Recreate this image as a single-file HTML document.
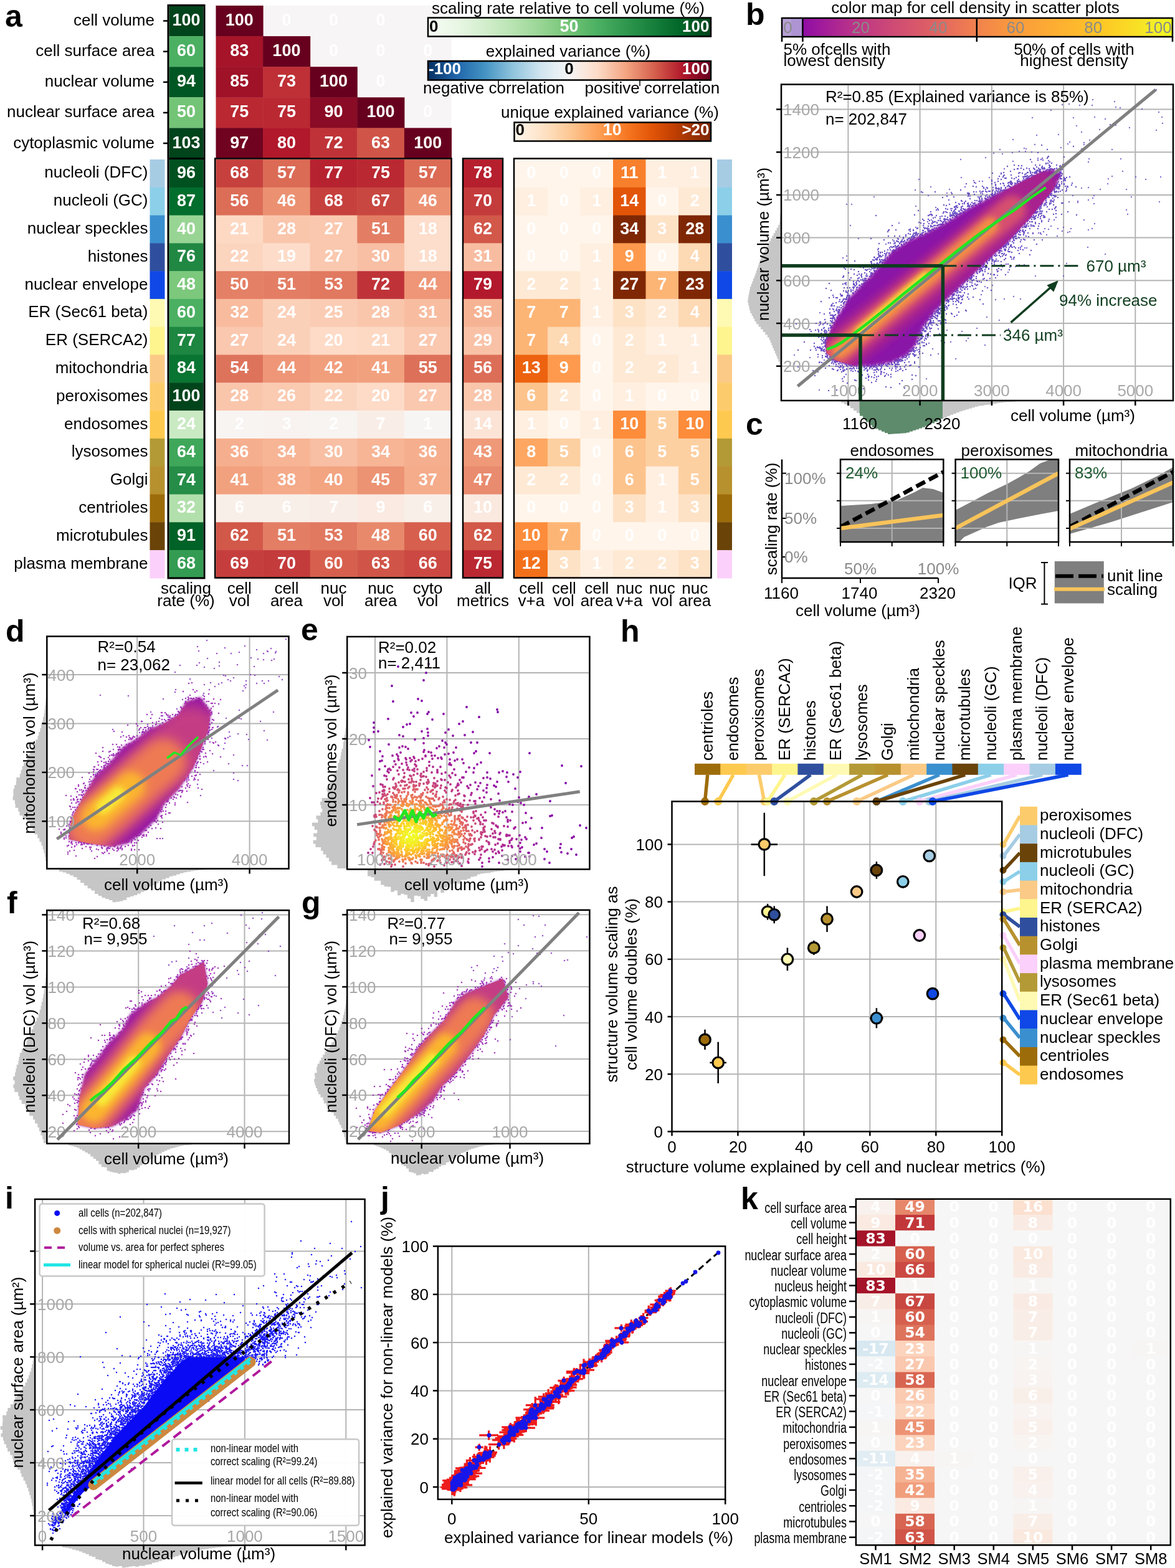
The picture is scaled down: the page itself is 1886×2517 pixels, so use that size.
<!DOCTYPE html><html><head><meta charset="utf-8"><title>figure</title><style>html,body{margin:0;padding:0;background:#fff;overflow:hidden;}svg{display:block;}</style></head><body><svg width="1886" height="2517" viewBox="0 0 1886 2517" font-family='"Liberation Sans", Arial, sans-serif' font-size="26"><defs><linearGradient id="gGreen"><stop offset="0.0" stop-color="#f7fcf5"/><stop offset="0.1" stop-color="#e9f7e5"/><stop offset="0.2" stop-color="#d3eecd"/><stop offset="0.3" stop-color="#b8e3b2"/><stop offset="0.4" stop-color="#98d594"/><stop offset="0.5" stop-color="#73c476"/><stop offset="0.6" stop-color="#4bb062"/><stop offset="0.7" stop-color="#2f974e"/><stop offset="0.8" stop-color="#157f3b"/><stop offset="0.9" stop-color="#006428"/><stop offset="1.0" stop-color="#00441b"/></linearGradient><linearGradient id="gRdBu"><stop offset="0.0" stop-color="#053061"/><stop offset="0.1" stop-color="#2065ab"/><stop offset="0.2" stop-color="#4393c3"/><stop offset="0.3" stop-color="#90c4dd"/><stop offset="0.4" stop-color="#d1e5f0"/><stop offset="0.5" stop-color="#f7f6f6"/><stop offset="0.6" stop-color="#fddbc7"/><stop offset="0.7" stop-color="#f3a481"/><stop offset="0.8" stop-color="#d6604d"/><stop offset="0.9" stop-color="#b1182b"/><stop offset="1.0" stop-color="#67001f"/></linearGradient><linearGradient id="gOr"><stop offset="0.0" stop-color="#fff5eb"/><stop offset="0.1" stop-color="#fee9d4"/><stop offset="0.2" stop-color="#fdd9b4"/><stop offset="0.3" stop-color="#fdc38d"/><stop offset="0.4" stop-color="#fda762"/><stop offset="0.5" stop-color="#fd8c3b"/><stop offset="0.6" stop-color="#f3701b"/><stop offset="0.7" stop-color="#e25508"/><stop offset="0.8" stop-color="#c54102"/><stop offset="0.9" stop-color="#9e3303"/><stop offset="1.0" stop-color="#7f2704"/></linearGradient><linearGradient id="gPlasma"><stop offset="0.000" stop-color="#8f0da4"/><stop offset="0.050" stop-color="#a01a9c"/><stop offset="0.100" stop-color="#b02991"/><stop offset="0.150" stop-color="#bd3786"/><stop offset="0.200" stop-color="#c6417d"/><stop offset="0.250" stop-color="#cf4c74"/><stop offset="0.300" stop-color="#d7566c"/><stop offset="0.350" stop-color="#de6164"/><stop offset="0.400" stop-color="#e76e5b"/><stop offset="0.450" stop-color="#ef7c51"/><stop offset="0.500" stop-color="#f48948"/><stop offset="0.550" stop-color="#f89540"/><stop offset="0.600" stop-color="#fb9f3a"/><stop offset="0.650" stop-color="#fca835"/><stop offset="0.700" stop-color="#fdb130"/><stop offset="0.750" stop-color="#feba2c"/><stop offset="0.800" stop-color="#fdc527"/><stop offset="0.850" stop-color="#fcd225"/><stop offset="0.900" stop-color="#f8df25"/><stop offset="0.950" stop-color="#f4ed27"/><stop offset="1.000" stop-color="#f0f921"/></linearGradient><filter id="bl2" filterUnits="userSpaceOnUse" x="0" y="0" width="1886" height="2517"><feGaussianBlur stdDeviation="2"/></filter><clipPath id="bc1"><path d="M1326.0 566.0 L1340.0 578.0 L1370.0 587.0 L1400.0 587.0 L1430.0 582.0 L1455.0 570.0 L1470.0 553.0 L1480.0 527.0 L1500.0 500.0 L1530.0 470.0 L1557.0 445.0 L1587.8 415.0 L1618.5 387.0 L1653.0 350.0 L1691.4 302.7 L1703.0 279.7 L1690.0 272.0 L1672.0 275.9 L1633.8 295.0 L1595.4 314.2 L1557.0 333.4 L1518.7 357.0 L1485.0 375.0 L1460.9 385.0 L1430.7 405.0 L1400.5 440.4 L1362.8 478.0 L1338.3 518.0 L1326.0 548.0 Z"/></clipPath><filter id="bl7" filterUnits="userSpaceOnUse" x="0" y="0" width="1886" height="2517"><feGaussianBlur stdDeviation="7"/></filter><filter id="bl6" filterUnits="userSpaceOnUse" x="0" y="0" width="1886" height="2517"><feGaussianBlur stdDeviation="6"/></filter><filter id="bl5" filterUnits="userSpaceOnUse" x="0" y="0" width="1886" height="2517"><feGaussianBlur stdDeviation="5"/></filter><filter id="bl3_5" filterUnits="userSpaceOnUse" x="0" y="0" width="1886" height="2517"><feGaussianBlur stdDeviation="3.5"/></filter><clipPath id="bc2"><path d="M110.3 1347.2 L115.0 1314.2 L133.8 1278.9 L152.7 1246.0 L173.9 1227.1 L197.4 1198.9 L220.9 1184.8 L239.8 1170.6 L263.3 1161.2 L286.8 1147.1 L298.6 1125.9 L322.1 1118.9 L338.6 1142.4 L333.9 1173.0 L322.1 1203.6 L310.4 1231.8 L286.8 1267.1 L263.3 1290.7 L251.5 1314.2 L228.0 1337.7 L204.5 1354.2 L180.9 1358.9 L145.6 1354.2 L122.1 1349.5 Z"/></clipPath><filter id="bl10" filterUnits="userSpaceOnUse" x="0" y="0" width="1886" height="2517"><feGaussianBlur stdDeviation="10"/></filter><filter id="bl9" filterUnits="userSpaceOnUse" x="0" y="0" width="1886" height="2517"><feGaussianBlur stdDeviation="9"/></filter><clipPath id="bc3"><path d="M124.6 1805.3 L127.5 1761.8 L136.2 1724.2 L159.3 1695.2 L173.8 1675.0 L197.0 1651.7 L208.6 1628.6 L231.7 1611.2 L254.9 1599.6 L275.2 1582.2 L289.7 1564.8 L307.0 1556.2 L327.3 1544.6 L333.1 1579.3 L324.5 1608.3 L304.2 1637.3 L289.7 1666.2 L269.4 1695.2 L252.0 1724.2 L231.7 1747.3 L220.2 1782.1 L202.8 1796.6 L179.6 1808.2 L150.6 1811.1 Z"/></clipPath><filter id="bl8" filterUnits="userSpaceOnUse" x="0" y="0" width="1886" height="2517"><feGaussianBlur stdDeviation="8"/></filter><filter id="bl4_5" filterUnits="userSpaceOnUse" x="0" y="0" width="1886" height="2517"><feGaussianBlur stdDeviation="4.5"/></filter><clipPath id="bc4"><path d="M589.8 1815.3 L601.8 1782.1 L623.0 1752.0 L641.0 1727.8 L656.1 1706.7 L671.2 1682.5 L689.3 1661.4 L713.5 1637.3 L731.6 1607.1 L746.7 1595.0 L776.8 1583.0 L807.0 1570.9 L816.0 1601.0 L791.9 1631.2 L776.8 1661.4 L755.7 1691.6 L731.6 1721.8 L707.4 1745.9 L695.4 1767.0 L671.2 1788.1 L641.0 1806.2 L610.9 1818.3 Z"/></clipPath></defs><text x="8.0" y="43.0" font-size="50" font-weight="bold">a</text>
<rect x="346.5" y="9.0" width="378.0" height="245.5" fill="#f7f5f5"/>
<text x="248.0" y="41.0" text-anchor="end">cell volume</text>
<line x1="262.0" y1="33.5" x2="269.0" y2="33.5" stroke="#000" stroke-width="2.5" />
<rect x="271.5" y="9.0" width="55.0" height="49.1" fill="#00441b"/>
<text x="299.0" y="41.0" font-size="27" text-anchor="middle" font-weight="bold" fill="#fff">100</text>
<rect x="346.5" y="9.0" width="76.1" height="49.6" fill="#67001f"/>
<text x="384.3" y="41.0" font-size="27" text-anchor="middle" font-weight="bold" fill="#fff">100</text>
<text x="459.9" y="41.0" font-size="27" text-anchor="middle" font-weight="bold" fill="#fff">0</text>
<text x="535.5" y="41.0" font-size="27" text-anchor="middle" font-weight="bold" fill="#fff">0</text>
<text x="611.1" y="41.0" font-size="27" text-anchor="middle" font-weight="bold" fill="#fff">0</text>
<text x="248.0" y="90.2" text-anchor="end">cell surface area</text>
<line x1="262.0" y1="82.7" x2="269.0" y2="82.7" stroke="#000" stroke-width="2.5" />
<rect x="271.5" y="58.1" width="55.0" height="49.1" fill="#4bb062"/>
<text x="299.0" y="90.2" font-size="27" text-anchor="middle" font-weight="bold" fill="#fff">60</text>
<rect x="346.5" y="58.1" width="76.1" height="49.6" fill="#a51429"/>
<text x="384.3" y="90.2" font-size="27" text-anchor="middle" font-weight="bold" fill="#fff">83</text>
<rect x="422.1" y="58.1" width="76.1" height="49.6" fill="#67001f"/>
<text x="459.9" y="90.2" font-size="27" text-anchor="middle" font-weight="bold" fill="#fff">100</text>
<text x="535.5" y="90.2" font-size="27" text-anchor="middle" font-weight="bold" fill="#fff">0</text>
<text x="611.1" y="90.2" font-size="27" text-anchor="middle" font-weight="bold" fill="#fff">0</text>
<text x="686.7" y="90.2" font-size="27" text-anchor="middle" font-weight="bold" fill="#fff">0</text>
<text x="248.0" y="139.2" text-anchor="end">nuclear volume</text>
<line x1="262.0" y1="131.8" x2="269.0" y2="131.8" stroke="#000" stroke-width="2.5" />
<rect x="271.5" y="107.2" width="55.0" height="49.1" fill="#005723"/>
<text x="299.0" y="139.2" font-size="27" text-anchor="middle" font-weight="bold" fill="#fff">94</text>
<rect x="346.5" y="107.2" width="76.1" height="49.6" fill="#9f1228"/>
<text x="384.3" y="139.2" font-size="27" text-anchor="middle" font-weight="bold" fill="#fff">85</text>
<rect x="422.1" y="107.2" width="76.1" height="49.6" fill="#be3036"/>
<text x="459.9" y="139.2" font-size="27" text-anchor="middle" font-weight="bold" fill="#fff">73</text>
<rect x="497.7" y="107.2" width="76.1" height="49.6" fill="#67001f"/>
<text x="535.5" y="139.2" font-size="27" text-anchor="middle" font-weight="bold" fill="#fff">100</text>
<text x="611.1" y="139.2" font-size="27" text-anchor="middle" font-weight="bold" fill="#fff">0</text>
<text x="248.0" y="188.4" text-anchor="end">nuclear surface area</text>
<line x1="262.0" y1="180.9" x2="269.0" y2="180.9" stroke="#000" stroke-width="2.5" />
<rect x="271.5" y="156.3" width="55.0" height="49.1" fill="#73c476"/>
<text x="299.0" y="188.4" font-size="27" text-anchor="middle" font-weight="bold" fill="#fff">50</text>
<rect x="346.5" y="156.3" width="76.1" height="49.6" fill="#ba2832"/>
<text x="384.3" y="188.4" font-size="27" text-anchor="middle" font-weight="bold" fill="#fff">75</text>
<rect x="422.1" y="156.3" width="76.1" height="49.6" fill="#ba2832"/>
<text x="459.9" y="188.4" font-size="27" text-anchor="middle" font-weight="bold" fill="#fff">75</text>
<rect x="497.7" y="156.3" width="76.1" height="49.6" fill="#8a0b25"/>
<text x="535.5" y="188.4" font-size="27" text-anchor="middle" font-weight="bold" fill="#fff">90</text>
<rect x="573.3" y="156.3" width="76.1" height="49.6" fill="#67001f"/>
<text x="611.1" y="188.4" font-size="27" text-anchor="middle" font-weight="bold" fill="#fff">100</text>
<text x="686.7" y="188.4" font-size="27" text-anchor="middle" font-weight="bold" fill="#fff">0</text>
<text x="248.0" y="237.5" text-anchor="end">cytoplasmic volume</text>
<line x1="262.0" y1="230.0" x2="269.0" y2="230.0" stroke="#000" stroke-width="2.5" />
<rect x="271.5" y="205.4" width="55.0" height="49.1" fill="#00441b"/>
<text x="299.0" y="237.5" font-size="27" text-anchor="middle" font-weight="bold" fill="#fff">103</text>
<rect x="346.5" y="205.4" width="76.1" height="49.6" fill="#700320"/>
<text x="384.3" y="237.5" font-size="27" text-anchor="middle" font-weight="bold" fill="#fff">97</text>
<rect x="422.1" y="205.4" width="76.1" height="49.6" fill="#b1182b"/>
<text x="459.9" y="237.5" font-size="27" text-anchor="middle" font-weight="bold" fill="#fff">80</text>
<rect x="497.7" y="205.4" width="76.1" height="49.6" fill="#bf3338"/>
<text x="535.5" y="237.5" font-size="27" text-anchor="middle" font-weight="bold" fill="#fff">72</text>
<rect x="573.3" y="205.4" width="76.1" height="49.6" fill="#d05548"/>
<text x="611.1" y="237.5" font-size="27" text-anchor="middle" font-weight="bold" fill="#fff">63</text>
<rect x="648.9" y="205.4" width="76.1" height="49.6" fill="#67001f"/>
<text x="686.7" y="237.5" font-size="27" text-anchor="middle" font-weight="bold" fill="#fff">100</text>
<text x="237.5" y="285.4" text-anchor="end">nucleoli (DFC)</text>
<rect x="240.5" y="256.0" width="24.0" height="45.3" fill="#a6cce3"/>
<rect x="1151.0" y="256.0" width="24.0" height="45.3" fill="#a6cce3"/>
<rect x="271.5" y="256.0" width="55.0" height="45.3" fill="#005120"/>
<text x="299.0" y="285.9" font-size="27" text-anchor="middle" font-weight="bold" fill="#fff">96</text>
<rect x="346.5" y="256.0" width="76.1" height="45.3" fill="#c6413e"/>
<text x="384.3" y="285.9" font-size="27" text-anchor="middle" font-weight="bold" fill="#fff">68</text>
<rect x="422.1" y="256.0" width="76.1" height="45.3" fill="#db6b55"/>
<text x="459.9" y="285.9" font-size="27" text-anchor="middle" font-weight="bold" fill="#fff">57</text>
<rect x="497.7" y="256.0" width="76.1" height="45.3" fill="#b72230"/>
<text x="535.5" y="285.9" font-size="27" text-anchor="middle" font-weight="bold" fill="#fff">77</text>
<rect x="573.3" y="256.0" width="76.1" height="45.3" fill="#ba2832"/>
<text x="611.1" y="285.9" font-size="27" text-anchor="middle" font-weight="bold" fill="#fff">75</text>
<rect x="648.9" y="256.0" width="76.1" height="45.3" fill="#db6b55"/>
<text x="686.7" y="285.9" font-size="27" text-anchor="middle" font-weight="bold" fill="#fff">57</text>
<rect x="744.0" y="256.0" width="62.0" height="45.3" fill="#b61f2e"/>
<text x="775.0" y="285.9" font-size="27" text-anchor="middle" font-weight="bold" fill="#fff">78</text>
<rect x="826.5" y="256.0" width="53.0" height="45.3" fill="#fff5eb"/>
<text x="852.8" y="285.9" font-size="27" text-anchor="middle" font-weight="bold" fill="#fff">0</text>
<rect x="879.0" y="256.0" width="53.0" height="45.3" fill="#fff5eb"/>
<text x="905.2" y="285.9" font-size="27" text-anchor="middle" font-weight="bold" fill="#fff">0</text>
<rect x="931.5" y="256.0" width="53.0" height="45.3" fill="#fff5eb"/>
<text x="957.8" y="285.9" font-size="27" text-anchor="middle" font-weight="bold" fill="#fff">0</text>
<rect x="984.0" y="256.0" width="53.0" height="45.3" fill="#f87f2c"/>
<text x="1010.2" y="285.9" font-size="27" text-anchor="middle" font-weight="bold" fill="#fff">11</text>
<rect x="1036.5" y="256.0" width="53.0" height="45.3" fill="#ffefe0"/>
<text x="1062.8" y="285.9" font-size="27" text-anchor="middle" font-weight="bold" fill="#fff">1</text>
<rect x="1089.0" y="256.0" width="53.0" height="45.3" fill="#ffefe0"/>
<text x="1115.2" y="285.9" font-size="27" text-anchor="middle" font-weight="bold" fill="#fff">1</text>
<text x="237.5" y="330.2" text-anchor="end">nucleoli (GC)</text>
<rect x="240.5" y="300.8" width="24.0" height="45.3" fill="#8ccfe9"/>
<rect x="1151.0" y="300.8" width="24.0" height="45.3" fill="#8ccfe9"/>
<rect x="271.5" y="300.8" width="55.0" height="45.3" fill="#016e2d"/>
<text x="299.0" y="330.7" font-size="27" text-anchor="middle" font-weight="bold" fill="#fff">87</text>
<rect x="346.5" y="300.8" width="76.1" height="45.3" fill="#dc6e57"/>
<text x="384.3" y="330.7" font-size="27" text-anchor="middle" font-weight="bold" fill="#fff">56</text>
<rect x="422.1" y="300.8" width="76.1" height="45.3" fill="#eb9172"/>
<text x="459.9" y="330.7" font-size="27" text-anchor="middle" font-weight="bold" fill="#fff">46</text>
<rect x="497.7" y="300.8" width="76.1" height="45.3" fill="#c6413e"/>
<text x="535.5" y="330.7" font-size="27" text-anchor="middle" font-weight="bold" fill="#fff">68</text>
<rect x="573.3" y="300.8" width="76.1" height="45.3" fill="#c94741"/>
<text x="611.1" y="330.7" font-size="27" text-anchor="middle" font-weight="bold" fill="#fff">67</text>
<rect x="648.9" y="300.8" width="76.1" height="45.3" fill="#eb9172"/>
<text x="686.7" y="330.7" font-size="27" text-anchor="middle" font-weight="bold" fill="#fff">46</text>
<rect x="744.0" y="300.8" width="62.0" height="45.3" fill="#c43b3c"/>
<text x="775.0" y="330.7" font-size="27" text-anchor="middle" font-weight="bold" fill="#fff">70</text>
<rect x="826.5" y="300.8" width="53.0" height="45.3" fill="#ffefe0"/>
<text x="852.8" y="330.7" font-size="27" text-anchor="middle" font-weight="bold" fill="#fff">1</text>
<rect x="879.0" y="300.8" width="53.0" height="45.3" fill="#fff5eb"/>
<text x="905.2" y="330.7" font-size="27" text-anchor="middle" font-weight="bold" fill="#fff">0</text>
<rect x="931.5" y="300.8" width="53.0" height="45.3" fill="#ffefe0"/>
<text x="957.8" y="330.7" font-size="27" text-anchor="middle" font-weight="bold" fill="#fff">1</text>
<rect x="984.0" y="300.8" width="53.0" height="45.3" fill="#e25508"/>
<text x="1010.2" y="330.7" font-size="27" text-anchor="middle" font-weight="bold" fill="#fff">14</text>
<rect x="1036.5" y="300.8" width="53.0" height="45.3" fill="#fff5eb"/>
<text x="1062.8" y="330.7" font-size="27" text-anchor="middle" font-weight="bold" fill="#fff">0</text>
<rect x="1089.0" y="300.8" width="53.0" height="45.3" fill="#fee9d4"/>
<text x="1115.2" y="330.7" font-size="27" text-anchor="middle" font-weight="bold" fill="#fff">2</text>
<text x="237.5" y="375.0" text-anchor="end">nuclear speckles</text>
<rect x="240.5" y="345.6" width="24.0" height="45.3" fill="#3a8fcf"/>
<rect x="1151.0" y="345.6" width="24.0" height="45.3" fill="#3a8fcf"/>
<rect x="271.5" y="345.6" width="55.0" height="45.3" fill="#98d594"/>
<text x="299.0" y="375.5" font-size="27" text-anchor="middle" font-weight="bold" fill="#fff">40</text>
<rect x="346.5" y="345.6" width="76.1" height="45.3" fill="#fdd9c4"/>
<text x="384.3" y="375.5" font-size="27" text-anchor="middle" font-weight="bold" fill="#fff">21</text>
<rect x="422.1" y="345.6" width="76.1" height="45.3" fill="#f9c6ac"/>
<text x="459.9" y="375.5" font-size="27" text-anchor="middle" font-weight="bold" fill="#fff">28</text>
<rect x="497.7" y="345.6" width="76.1" height="45.3" fill="#fac8af"/>
<text x="535.5" y="375.5" font-size="27" text-anchor="middle" font-weight="bold" fill="#fff">27</text>
<rect x="573.3" y="345.6" width="76.1" height="45.3" fill="#e37e64"/>
<text x="611.1" y="375.5" font-size="27" text-anchor="middle" font-weight="bold" fill="#fff">51</text>
<rect x="648.9" y="345.6" width="76.1" height="45.3" fill="#fdddcb"/>
<text x="686.7" y="375.5" font-size="27" text-anchor="middle" font-weight="bold" fill="#fff">18</text>
<rect x="744.0" y="345.6" width="62.0" height="45.3" fill="#d25849"/>
<text x="775.0" y="375.5" font-size="27" text-anchor="middle" font-weight="bold" fill="#fff">62</text>
<rect x="826.5" y="345.6" width="53.0" height="45.3" fill="#fff5eb"/>
<text x="852.8" y="375.5" font-size="27" text-anchor="middle" font-weight="bold" fill="#fff">0</text>
<rect x="879.0" y="345.6" width="53.0" height="45.3" fill="#fff5eb"/>
<text x="905.2" y="375.5" font-size="27" text-anchor="middle" font-weight="bold" fill="#fff">0</text>
<rect x="931.5" y="345.6" width="53.0" height="45.3" fill="#fff5eb"/>
<text x="957.8" y="375.5" font-size="27" text-anchor="middle" font-weight="bold" fill="#fff">0</text>
<rect x="984.0" y="345.6" width="53.0" height="45.3" fill="#7f2704"/>
<text x="1010.2" y="375.5" font-size="27" text-anchor="middle" font-weight="bold" fill="#fff">34</text>
<rect x="1036.5" y="345.6" width="53.0" height="45.3" fill="#fee2c6"/>
<text x="1062.8" y="375.5" font-size="27" text-anchor="middle" font-weight="bold" fill="#fff">3</text>
<rect x="1089.0" y="345.6" width="53.0" height="45.3" fill="#7f2704"/>
<text x="1115.2" y="375.5" font-size="27" text-anchor="middle" font-weight="bold" fill="#fff">28</text>
<text x="237.5" y="419.8" text-anchor="end">histones</text>
<rect x="240.5" y="390.4" width="24.0" height="45.3" fill="#2f4f9e"/>
<rect x="1151.0" y="390.4" width="24.0" height="45.3" fill="#2f4f9e"/>
<rect x="271.5" y="390.4" width="55.0" height="45.3" fill="#208843"/>
<text x="299.0" y="420.3" font-size="27" text-anchor="middle" font-weight="bold" fill="#fff">76</text>
<rect x="346.5" y="390.4" width="76.1" height="45.3" fill="#fcd5bf"/>
<text x="384.3" y="420.3" font-size="27" text-anchor="middle" font-weight="bold" fill="#fff">22</text>
<rect x="422.1" y="390.4" width="76.1" height="45.3" fill="#fddcc9"/>
<text x="459.9" y="420.3" font-size="27" text-anchor="middle" font-weight="bold" fill="#fff">19</text>
<rect x="497.7" y="390.4" width="76.1" height="45.3" fill="#fac8af"/>
<text x="535.5" y="420.3" font-size="27" text-anchor="middle" font-weight="bold" fill="#fff">27</text>
<rect x="573.3" y="390.4" width="76.1" height="45.3" fill="#f8bfa4"/>
<text x="611.1" y="420.3" font-size="27" text-anchor="middle" font-weight="bold" fill="#fff">30</text>
<rect x="648.9" y="390.4" width="76.1" height="45.3" fill="#fdddcb"/>
<text x="686.7" y="420.3" font-size="27" text-anchor="middle" font-weight="bold" fill="#fff">18</text>
<rect x="744.0" y="390.4" width="62.0" height="45.3" fill="#f8bda1"/>
<text x="775.0" y="420.3" font-size="27" text-anchor="middle" font-weight="bold" fill="#fff">31</text>
<rect x="826.5" y="390.4" width="53.0" height="45.3" fill="#fff5eb"/>
<text x="852.8" y="420.3" font-size="27" text-anchor="middle" font-weight="bold" fill="#fff">0</text>
<rect x="879.0" y="390.4" width="53.0" height="45.3" fill="#fff5eb"/>
<text x="905.2" y="420.3" font-size="27" text-anchor="middle" font-weight="bold" fill="#fff">0</text>
<rect x="931.5" y="390.4" width="53.0" height="45.3" fill="#ffefe0"/>
<text x="957.8" y="420.3" font-size="27" text-anchor="middle" font-weight="bold" fill="#fff">1</text>
<rect x="984.0" y="390.4" width="53.0" height="45.3" fill="#fd9a4e"/>
<text x="1010.2" y="420.3" font-size="27" text-anchor="middle" font-weight="bold" fill="#fff">9</text>
<rect x="1036.5" y="390.4" width="53.0" height="45.3" fill="#fff5eb"/>
<text x="1062.8" y="420.3" font-size="27" text-anchor="middle" font-weight="bold" fill="#fff">0</text>
<rect x="1089.0" y="390.4" width="53.0" height="45.3" fill="#fdd9b4"/>
<text x="1115.2" y="420.3" font-size="27" text-anchor="middle" font-weight="bold" fill="#fff">4</text>
<text x="237.5" y="464.6" text-anchor="end">nuclear envelope</text>
<rect x="240.5" y="435.2" width="24.0" height="45.3" fill="#0f48e6"/>
<rect x="1151.0" y="435.2" width="24.0" height="45.3" fill="#0f48e6"/>
<rect x="271.5" y="435.2" width="55.0" height="45.3" fill="#7cc87c"/>
<text x="299.0" y="465.1" font-size="27" text-anchor="middle" font-weight="bold" fill="#fff">48</text>
<rect x="346.5" y="435.2" width="76.1" height="45.3" fill="#e48066"/>
<text x="384.3" y="465.1" font-size="27" text-anchor="middle" font-weight="bold" fill="#fff">50</text>
<rect x="422.1" y="435.2" width="76.1" height="45.3" fill="#e37e64"/>
<text x="459.9" y="465.1" font-size="27" text-anchor="middle" font-weight="bold" fill="#fff">51</text>
<rect x="497.7" y="435.2" width="76.1" height="45.3" fill="#e17860"/>
<text x="535.5" y="465.1" font-size="27" text-anchor="middle" font-weight="bold" fill="#fff">53</text>
<rect x="573.3" y="435.2" width="76.1" height="45.3" fill="#bf3338"/>
<text x="611.1" y="465.1" font-size="27" text-anchor="middle" font-weight="bold" fill="#fff">72</text>
<rect x="648.9" y="435.2" width="76.1" height="45.3" fill="#ee9677"/>
<text x="686.7" y="465.1" font-size="27" text-anchor="middle" font-weight="bold" fill="#fff">44</text>
<rect x="744.0" y="435.2" width="62.0" height="45.3" fill="#b3192c"/>
<text x="775.0" y="465.1" font-size="27" text-anchor="middle" font-weight="bold" fill="#fff">79</text>
<rect x="826.5" y="435.2" width="53.0" height="45.3" fill="#fee9d4"/>
<text x="852.8" y="465.1" font-size="27" text-anchor="middle" font-weight="bold" fill="#fff">2</text>
<rect x="879.0" y="435.2" width="53.0" height="45.3" fill="#fee9d4"/>
<text x="905.2" y="465.1" font-size="27" text-anchor="middle" font-weight="bold" fill="#fff">2</text>
<rect x="931.5" y="435.2" width="53.0" height="45.3" fill="#ffefe0"/>
<text x="957.8" y="465.1" font-size="27" text-anchor="middle" font-weight="bold" fill="#fff">1</text>
<rect x="984.0" y="435.2" width="53.0" height="45.3" fill="#7f2704"/>
<text x="1010.2" y="465.1" font-size="27" text-anchor="middle" font-weight="bold" fill="#fff">27</text>
<rect x="1036.5" y="435.2" width="53.0" height="45.3" fill="#fdb576"/>
<text x="1062.8" y="465.1" font-size="27" text-anchor="middle" font-weight="bold" fill="#fff">7</text>
<rect x="1089.0" y="435.2" width="53.0" height="45.3" fill="#7f2704"/>
<text x="1115.2" y="465.1" font-size="27" text-anchor="middle" font-weight="bold" fill="#fff">23</text>
<text x="237.5" y="509.3" text-anchor="end">ER (Sec61 beta)</text>
<rect x="240.5" y="479.9" width="24.0" height="45.3" fill="#fefab3"/>
<rect x="1151.0" y="479.9" width="24.0" height="45.3" fill="#fefab3"/>
<rect x="271.5" y="479.9" width="55.0" height="45.3" fill="#4bb062"/>
<text x="299.0" y="509.8" font-size="27" text-anchor="middle" font-weight="bold" fill="#fff">60</text>
<rect x="346.5" y="479.9" width="76.1" height="45.3" fill="#f8bb9e"/>
<text x="384.3" y="509.8" font-size="27" text-anchor="middle" font-weight="bold" fill="#fff">32</text>
<rect x="422.1" y="479.9" width="76.1" height="45.3" fill="#fbd0b9"/>
<text x="459.9" y="509.8" font-size="27" text-anchor="middle" font-weight="bold" fill="#fff">24</text>
<rect x="497.7" y="479.9" width="76.1" height="45.3" fill="#fbccb4"/>
<text x="535.5" y="509.8" font-size="27" text-anchor="middle" font-weight="bold" fill="#fff">25</text>
<rect x="573.3" y="479.9" width="76.1" height="45.3" fill="#f9c6ac"/>
<text x="611.1" y="509.8" font-size="27" text-anchor="middle" font-weight="bold" fill="#fff">28</text>
<rect x="648.9" y="479.9" width="76.1" height="45.3" fill="#f8bda1"/>
<text x="686.7" y="509.8" font-size="27" text-anchor="middle" font-weight="bold" fill="#fff">31</text>
<rect x="744.0" y="479.9" width="62.0" height="45.3" fill="#f6b394"/>
<text x="775.0" y="509.8" font-size="27" text-anchor="middle" font-weight="bold" fill="#fff">35</text>
<rect x="826.5" y="479.9" width="53.0" height="45.3" fill="#fdb576"/>
<text x="852.8" y="509.8" font-size="27" text-anchor="middle" font-weight="bold" fill="#fff">7</text>
<rect x="879.0" y="479.9" width="53.0" height="45.3" fill="#fdb576"/>
<text x="905.2" y="509.8" font-size="27" text-anchor="middle" font-weight="bold" fill="#fff">7</text>
<rect x="931.5" y="479.9" width="53.0" height="45.3" fill="#ffefe0"/>
<text x="957.8" y="509.8" font-size="27" text-anchor="middle" font-weight="bold" fill="#fff">1</text>
<rect x="984.0" y="479.9" width="53.0" height="45.3" fill="#fee2c6"/>
<text x="1010.2" y="509.8" font-size="27" text-anchor="middle" font-weight="bold" fill="#fff">3</text>
<rect x="1036.5" y="479.9" width="53.0" height="45.3" fill="#fee9d4"/>
<text x="1062.8" y="509.8" font-size="27" text-anchor="middle" font-weight="bold" fill="#fff">2</text>
<rect x="1089.0" y="479.9" width="53.0" height="45.3" fill="#fdd9b4"/>
<text x="1115.2" y="509.8" font-size="27" text-anchor="middle" font-weight="bold" fill="#fff">4</text>
<text x="237.5" y="554.1" text-anchor="end">ER (SERCA2)</text>
<rect x="240.5" y="524.7" width="24.0" height="45.3" fill="#fef58e"/>
<rect x="1151.0" y="524.7" width="24.0" height="45.3" fill="#fef58e"/>
<rect x="271.5" y="524.7" width="55.0" height="45.3" fill="#1d8640"/>
<text x="299.0" y="554.6" font-size="27" text-anchor="middle" font-weight="bold" fill="#fff">77</text>
<rect x="346.5" y="524.7" width="76.1" height="45.3" fill="#fac8af"/>
<text x="384.3" y="554.6" font-size="27" text-anchor="middle" font-weight="bold" fill="#fff">27</text>
<rect x="422.1" y="524.7" width="76.1" height="45.3" fill="#fbd0b9"/>
<text x="459.9" y="554.6" font-size="27" text-anchor="middle" font-weight="bold" fill="#fff">24</text>
<rect x="497.7" y="524.7" width="76.1" height="45.3" fill="#fddbc7"/>
<text x="535.5" y="554.6" font-size="27" text-anchor="middle" font-weight="bold" fill="#fff">20</text>
<rect x="573.3" y="524.7" width="76.1" height="45.3" fill="#fdd9c4"/>
<text x="611.1" y="554.6" font-size="27" text-anchor="middle" font-weight="bold" fill="#fff">21</text>
<rect x="648.9" y="524.7" width="76.1" height="45.3" fill="#fac8af"/>
<text x="686.7" y="554.6" font-size="27" text-anchor="middle" font-weight="bold" fill="#fff">27</text>
<rect x="744.0" y="524.7" width="62.0" height="45.3" fill="#f9c2a7"/>
<text x="775.0" y="554.6" font-size="27" text-anchor="middle" font-weight="bold" fill="#fff">29</text>
<rect x="826.5" y="524.7" width="53.0" height="45.3" fill="#fdb576"/>
<text x="852.8" y="554.6" font-size="27" text-anchor="middle" font-weight="bold" fill="#fff">7</text>
<rect x="879.0" y="524.7" width="53.0" height="45.3" fill="#fdd9b4"/>
<text x="905.2" y="554.6" font-size="27" text-anchor="middle" font-weight="bold" fill="#fff">4</text>
<rect x="931.5" y="524.7" width="53.0" height="45.3" fill="#fff5eb"/>
<text x="957.8" y="554.6" font-size="27" text-anchor="middle" font-weight="bold" fill="#fff">0</text>
<rect x="984.0" y="524.7" width="53.0" height="45.3" fill="#fee9d4"/>
<text x="1010.2" y="554.6" font-size="27" text-anchor="middle" font-weight="bold" fill="#fff">2</text>
<rect x="1036.5" y="524.7" width="53.0" height="45.3" fill="#ffefe0"/>
<text x="1062.8" y="554.6" font-size="27" text-anchor="middle" font-weight="bold" fill="#fff">1</text>
<rect x="1089.0" y="524.7" width="53.0" height="45.3" fill="#ffefe0"/>
<text x="1115.2" y="554.6" font-size="27" text-anchor="middle" font-weight="bold" fill="#fff">1</text>
<text x="237.5" y="598.9" text-anchor="end">mitochondria</text>
<rect x="240.5" y="569.5" width="24.0" height="45.3" fill="#fbca86"/>
<rect x="1151.0" y="569.5" width="24.0" height="45.3" fill="#fbca86"/>
<rect x="271.5" y="569.5" width="55.0" height="45.3" fill="#097532"/>
<text x="299.0" y="599.4" font-size="27" text-anchor="middle" font-weight="bold" fill="#fff">84</text>
<rect x="346.5" y="569.5" width="76.1" height="45.3" fill="#de735c"/>
<text x="384.3" y="599.4" font-size="27" text-anchor="middle" font-weight="bold" fill="#fff">54</text>
<rect x="422.1" y="569.5" width="76.1" height="45.3" fill="#ee9677"/>
<text x="459.9" y="599.4" font-size="27" text-anchor="middle" font-weight="bold" fill="#fff">44</text>
<rect x="497.7" y="569.5" width="76.1" height="45.3" fill="#f19e7d"/>
<text x="535.5" y="599.4" font-size="27" text-anchor="middle" font-weight="bold" fill="#fff">42</text>
<rect x="573.3" y="569.5" width="76.1" height="45.3" fill="#f2a17f"/>
<text x="611.1" y="599.4" font-size="27" text-anchor="middle" font-weight="bold" fill="#fff">41</text>
<rect x="648.9" y="569.5" width="76.1" height="45.3" fill="#dd7059"/>
<text x="686.7" y="599.4" font-size="27" text-anchor="middle" font-weight="bold" fill="#fff">55</text>
<rect x="744.0" y="569.5" width="62.0" height="45.3" fill="#dc6e57"/>
<text x="775.0" y="599.4" font-size="27" text-anchor="middle" font-weight="bold" fill="#fff">56</text>
<rect x="826.5" y="569.5" width="53.0" height="45.3" fill="#ec620f"/>
<text x="852.8" y="599.4" font-size="27" text-anchor="middle" font-weight="bold" fill="#fff">13</text>
<rect x="879.0" y="569.5" width="53.0" height="45.3" fill="#fd9a4e"/>
<text x="905.2" y="599.4" font-size="27" text-anchor="middle" font-weight="bold" fill="#fff">9</text>
<rect x="931.5" y="569.5" width="53.0" height="45.3" fill="#fff5eb"/>
<text x="957.8" y="599.4" font-size="27" text-anchor="middle" font-weight="bold" fill="#fff">0</text>
<rect x="984.0" y="569.5" width="53.0" height="45.3" fill="#fee9d4"/>
<text x="1010.2" y="599.4" font-size="27" text-anchor="middle" font-weight="bold" fill="#fff">2</text>
<rect x="1036.5" y="569.5" width="53.0" height="45.3" fill="#fee9d4"/>
<text x="1062.8" y="599.4" font-size="27" text-anchor="middle" font-weight="bold" fill="#fff">2</text>
<rect x="1089.0" y="569.5" width="53.0" height="45.3" fill="#ffefe0"/>
<text x="1115.2" y="599.4" font-size="27" text-anchor="middle" font-weight="bold" fill="#fff">1</text>
<text x="237.5" y="643.7" text-anchor="end">peroxisomes</text>
<rect x="240.5" y="614.3" width="24.0" height="45.3" fill="#fccc6c"/>
<rect x="1151.0" y="614.3" width="24.0" height="45.3" fill="#fccc6c"/>
<rect x="271.5" y="614.3" width="55.0" height="45.3" fill="#00441b"/>
<text x="299.0" y="644.2" font-size="27" text-anchor="middle" font-weight="bold" fill="#fff">100</text>
<rect x="346.5" y="614.3" width="76.1" height="45.3" fill="#f9c6ac"/>
<text x="384.3" y="644.2" font-size="27" text-anchor="middle" font-weight="bold" fill="#fff">28</text>
<rect x="422.1" y="614.3" width="76.1" height="45.3" fill="#facab1"/>
<text x="459.9" y="644.2" font-size="27" text-anchor="middle" font-weight="bold" fill="#fff">26</text>
<rect x="497.7" y="614.3" width="76.1" height="45.3" fill="#fcd5bf"/>
<text x="535.5" y="644.2" font-size="27" text-anchor="middle" font-weight="bold" fill="#fff">22</text>
<rect x="573.3" y="614.3" width="76.1" height="45.3" fill="#fddbc7"/>
<text x="611.1" y="644.2" font-size="27" text-anchor="middle" font-weight="bold" fill="#fff">20</text>
<rect x="648.9" y="614.3" width="76.1" height="45.3" fill="#fac8af"/>
<text x="686.7" y="644.2" font-size="27" text-anchor="middle" font-weight="bold" fill="#fff">27</text>
<rect x="744.0" y="614.3" width="62.0" height="45.3" fill="#f9c6ac"/>
<text x="775.0" y="644.2" font-size="27" text-anchor="middle" font-weight="bold" fill="#fff">28</text>
<rect x="826.5" y="614.3" width="53.0" height="45.3" fill="#fdc38d"/>
<text x="852.8" y="644.2" font-size="27" text-anchor="middle" font-weight="bold" fill="#fff">6</text>
<rect x="879.0" y="614.3" width="53.0" height="45.3" fill="#fee9d4"/>
<text x="905.2" y="644.2" font-size="27" text-anchor="middle" font-weight="bold" fill="#fff">2</text>
<rect x="931.5" y="614.3" width="53.0" height="45.3" fill="#fff5eb"/>
<text x="957.8" y="644.2" font-size="27" text-anchor="middle" font-weight="bold" fill="#fff">0</text>
<rect x="984.0" y="614.3" width="53.0" height="45.3" fill="#ffefe0"/>
<text x="1010.2" y="644.2" font-size="27" text-anchor="middle" font-weight="bold" fill="#fff">1</text>
<rect x="1036.5" y="614.3" width="53.0" height="45.3" fill="#fff5eb"/>
<text x="1062.8" y="644.2" font-size="27" text-anchor="middle" font-weight="bold" fill="#fff">0</text>
<rect x="1089.0" y="614.3" width="53.0" height="45.3" fill="#fff5eb"/>
<text x="1115.2" y="644.2" font-size="27" text-anchor="middle" font-weight="bold" fill="#fff">0</text>
<text x="237.5" y="688.5" text-anchor="end">endosomes</text>
<rect x="240.5" y="659.1" width="24.0" height="45.3" fill="#fec94f"/>
<rect x="1151.0" y="659.1" width="24.0" height="45.3" fill="#fec94f"/>
<rect x="271.5" y="659.1" width="55.0" height="45.3" fill="#caeac3"/>
<text x="299.0" y="689.0" font-size="27" text-anchor="middle" font-weight="bold" fill="#fff">24</text>
<rect x="346.5" y="659.1" width="76.1" height="45.3" fill="#f8f4f2"/>
<text x="384.3" y="689.0" font-size="27" text-anchor="middle" font-weight="bold" fill="#fff">2</text>
<rect x="422.1" y="659.1" width="76.1" height="45.3" fill="#f8f3f0"/>
<text x="459.9" y="689.0" font-size="27" text-anchor="middle" font-weight="bold" fill="#fff">3</text>
<rect x="497.7" y="659.1" width="76.1" height="45.3" fill="#f8f4f2"/>
<text x="535.5" y="689.0" font-size="27" text-anchor="middle" font-weight="bold" fill="#fff">2</text>
<rect x="573.3" y="659.1" width="76.1" height="45.3" fill="#f9eee7"/>
<text x="611.1" y="689.0" font-size="27" text-anchor="middle" font-weight="bold" fill="#fff">7</text>
<rect x="648.9" y="659.1" width="76.1" height="45.3" fill="#f7f5f4"/>
<text x="686.7" y="689.0" font-size="27" text-anchor="middle" font-weight="bold" fill="#fff">1</text>
<rect x="744.0" y="659.1" width="62.0" height="45.3" fill="#fbe4d6"/>
<text x="775.0" y="689.0" font-size="27" text-anchor="middle" font-weight="bold" fill="#fff">14</text>
<rect x="826.5" y="659.1" width="53.0" height="45.3" fill="#ffefe0"/>
<text x="852.8" y="689.0" font-size="27" text-anchor="middle" font-weight="bold" fill="#fff">1</text>
<rect x="879.0" y="659.1" width="53.0" height="45.3" fill="#fff5eb"/>
<text x="905.2" y="689.0" font-size="27" text-anchor="middle" font-weight="bold" fill="#fff">0</text>
<rect x="931.5" y="659.1" width="53.0" height="45.3" fill="#ffefe0"/>
<text x="957.8" y="689.0" font-size="27" text-anchor="middle" font-weight="bold" fill="#fff">1</text>
<rect x="984.0" y="659.1" width="53.0" height="45.3" fill="#fd8c3b"/>
<text x="1010.2" y="689.0" font-size="27" text-anchor="middle" font-weight="bold" fill="#fff">10</text>
<rect x="1036.5" y="659.1" width="53.0" height="45.3" fill="#fdd0a2"/>
<text x="1062.8" y="689.0" font-size="27" text-anchor="middle" font-weight="bold" fill="#fff">5</text>
<rect x="1089.0" y="659.1" width="53.0" height="45.3" fill="#fd8c3b"/>
<text x="1115.2" y="689.0" font-size="27" text-anchor="middle" font-weight="bold" fill="#fff">10</text>
<text x="237.5" y="733.3" text-anchor="end">lysosomes</text>
<rect x="240.5" y="703.9" width="24.0" height="45.3" fill="#b49a36"/>
<rect x="1151.0" y="703.9" width="24.0" height="45.3" fill="#b49a36"/>
<rect x="271.5" y="703.9" width="55.0" height="45.3" fill="#3ea75a"/>
<text x="299.0" y="733.8" font-size="27" text-anchor="middle" font-weight="bold" fill="#fff">64</text>
<rect x="346.5" y="703.9" width="76.1" height="45.3" fill="#f6af8e"/>
<text x="384.3" y="733.8" font-size="27" text-anchor="middle" font-weight="bold" fill="#fff">36</text>
<rect x="422.1" y="703.9" width="76.1" height="45.3" fill="#f7b596"/>
<text x="459.9" y="733.8" font-size="27" text-anchor="middle" font-weight="bold" fill="#fff">34</text>
<rect x="497.7" y="703.9" width="76.1" height="45.3" fill="#f8bfa4"/>
<text x="535.5" y="733.8" font-size="27" text-anchor="middle" font-weight="bold" fill="#fff">30</text>
<rect x="573.3" y="703.9" width="76.1" height="45.3" fill="#f7b596"/>
<text x="611.1" y="733.8" font-size="27" text-anchor="middle" font-weight="bold" fill="#fff">34</text>
<rect x="648.9" y="703.9" width="76.1" height="45.3" fill="#f6af8e"/>
<text x="686.7" y="733.8" font-size="27" text-anchor="middle" font-weight="bold" fill="#fff">36</text>
<rect x="744.0" y="703.9" width="62.0" height="45.3" fill="#ef9979"/>
<text x="775.0" y="733.8" font-size="27" text-anchor="middle" font-weight="bold" fill="#fff">43</text>
<rect x="826.5" y="703.9" width="53.0" height="45.3" fill="#fda762"/>
<text x="852.8" y="733.8" font-size="27" text-anchor="middle" font-weight="bold" fill="#fff">8</text>
<rect x="879.0" y="703.9" width="53.0" height="45.3" fill="#fdd0a2"/>
<text x="905.2" y="733.8" font-size="27" text-anchor="middle" font-weight="bold" fill="#fff">5</text>
<rect x="931.5" y="703.9" width="53.0" height="45.3" fill="#fff5eb"/>
<text x="957.8" y="733.8" font-size="27" text-anchor="middle" font-weight="bold" fill="#fff">0</text>
<rect x="984.0" y="703.9" width="53.0" height="45.3" fill="#fdc38d"/>
<text x="1010.2" y="733.8" font-size="27" text-anchor="middle" font-weight="bold" fill="#fff">6</text>
<rect x="1036.5" y="703.9" width="53.0" height="45.3" fill="#fdd0a2"/>
<text x="1062.8" y="733.8" font-size="27" text-anchor="middle" font-weight="bold" fill="#fff">5</text>
<rect x="1089.0" y="703.9" width="53.0" height="45.3" fill="#fdd0a2"/>
<text x="1115.2" y="733.8" font-size="27" text-anchor="middle" font-weight="bold" fill="#fff">5</text>
<text x="237.5" y="778.1" text-anchor="end">Golgi</text>
<rect x="240.5" y="748.7" width="24.0" height="45.3" fill="#b8912f"/>
<rect x="1151.0" y="748.7" width="24.0" height="45.3" fill="#b8912f"/>
<rect x="271.5" y="748.7" width="55.0" height="45.3" fill="#258d47"/>
<text x="299.0" y="778.6" font-size="27" text-anchor="middle" font-weight="bold" fill="#fff">74</text>
<rect x="346.5" y="748.7" width="76.1" height="45.3" fill="#f2a17f"/>
<text x="384.3" y="778.6" font-size="27" text-anchor="middle" font-weight="bold" fill="#fff">41</text>
<rect x="422.1" y="748.7" width="76.1" height="45.3" fill="#f5aa89"/>
<text x="459.9" y="778.6" font-size="27" text-anchor="middle" font-weight="bold" fill="#fff">38</text>
<rect x="497.7" y="748.7" width="76.1" height="45.3" fill="#f3a481"/>
<text x="535.5" y="778.6" font-size="27" text-anchor="middle" font-weight="bold" fill="#fff">40</text>
<rect x="573.3" y="748.7" width="76.1" height="45.3" fill="#ec9374"/>
<text x="611.1" y="778.6" font-size="27" text-anchor="middle" font-weight="bold" fill="#fff">45</text>
<rect x="648.9" y="748.7" width="76.1" height="45.3" fill="#f5ac8b"/>
<text x="686.7" y="778.6" font-size="27" text-anchor="middle" font-weight="bold" fill="#fff">37</text>
<rect x="744.0" y="748.7" width="62.0" height="45.3" fill="#e98b6e"/>
<text x="775.0" y="778.6" font-size="27" text-anchor="middle" font-weight="bold" fill="#fff">47</text>
<rect x="826.5" y="748.7" width="53.0" height="45.3" fill="#fee9d4"/>
<text x="852.8" y="778.6" font-size="27" text-anchor="middle" font-weight="bold" fill="#fff">2</text>
<rect x="879.0" y="748.7" width="53.0" height="45.3" fill="#fee9d4"/>
<text x="905.2" y="778.6" font-size="27" text-anchor="middle" font-weight="bold" fill="#fff">2</text>
<rect x="931.5" y="748.7" width="53.0" height="45.3" fill="#fff5eb"/>
<text x="957.8" y="778.6" font-size="27" text-anchor="middle" font-weight="bold" fill="#fff">0</text>
<rect x="984.0" y="748.7" width="53.0" height="45.3" fill="#fdc38d"/>
<text x="1010.2" y="778.6" font-size="27" text-anchor="middle" font-weight="bold" fill="#fff">6</text>
<rect x="1036.5" y="748.7" width="53.0" height="45.3" fill="#ffefe0"/>
<text x="1062.8" y="778.6" font-size="27" text-anchor="middle" font-weight="bold" fill="#fff">1</text>
<rect x="1089.0" y="748.7" width="53.0" height="45.3" fill="#fdd0a2"/>
<text x="1115.2" y="778.6" font-size="27" text-anchor="middle" font-weight="bold" fill="#fff">5</text>
<text x="237.5" y="822.9" text-anchor="end">centrioles</text>
<rect x="240.5" y="793.5" width="24.0" height="45.3" fill="#9d6c0a"/>
<rect x="1151.0" y="793.5" width="24.0" height="45.3" fill="#9d6c0a"/>
<rect x="271.5" y="793.5" width="55.0" height="45.3" fill="#b2e0ac"/>
<text x="299.0" y="823.4" font-size="27" text-anchor="middle" font-weight="bold" fill="#fff">32</text>
<rect x="346.5" y="793.5" width="76.1" height="45.3" fill="#f9efe9"/>
<text x="384.3" y="823.4" font-size="27" text-anchor="middle" font-weight="bold" fill="#fff">6</text>
<rect x="422.1" y="793.5" width="76.1" height="45.3" fill="#f9efe9"/>
<text x="459.9" y="823.4" font-size="27" text-anchor="middle" font-weight="bold" fill="#fff">6</text>
<rect x="497.7" y="793.5" width="76.1" height="45.3" fill="#f9eee7"/>
<text x="535.5" y="823.4" font-size="27" text-anchor="middle" font-weight="bold" fill="#fff">7</text>
<rect x="573.3" y="793.5" width="76.1" height="45.3" fill="#faeae1"/>
<text x="611.1" y="823.4" font-size="27" text-anchor="middle" font-weight="bold" fill="#fff">9</text>
<rect x="648.9" y="793.5" width="76.1" height="45.3" fill="#f9efe9"/>
<text x="686.7" y="823.4" font-size="27" text-anchor="middle" font-weight="bold" fill="#fff">6</text>
<rect x="744.0" y="793.5" width="62.0" height="45.3" fill="#fae9df"/>
<text x="775.0" y="823.4" font-size="27" text-anchor="middle" font-weight="bold" fill="#fff">10</text>
<rect x="826.5" y="793.5" width="53.0" height="45.3" fill="#fff5eb"/>
<text x="852.8" y="823.4" font-size="27" text-anchor="middle" font-weight="bold" fill="#fff">0</text>
<rect x="879.0" y="793.5" width="53.0" height="45.3" fill="#fff5eb"/>
<text x="905.2" y="823.4" font-size="27" text-anchor="middle" font-weight="bold" fill="#fff">0</text>
<rect x="931.5" y="793.5" width="53.0" height="45.3" fill="#fff5eb"/>
<text x="957.8" y="823.4" font-size="27" text-anchor="middle" font-weight="bold" fill="#fff">0</text>
<rect x="984.0" y="793.5" width="53.0" height="45.3" fill="#fee2c6"/>
<text x="1010.2" y="823.4" font-size="27" text-anchor="middle" font-weight="bold" fill="#fff">3</text>
<rect x="1036.5" y="793.5" width="53.0" height="45.3" fill="#ffefe0"/>
<text x="1062.8" y="823.4" font-size="27" text-anchor="middle" font-weight="bold" fill="#fff">1</text>
<rect x="1089.0" y="793.5" width="53.0" height="45.3" fill="#fee2c6"/>
<text x="1115.2" y="823.4" font-size="27" text-anchor="middle" font-weight="bold" fill="#fff">3</text>
<text x="237.5" y="867.7" text-anchor="end">microtubules</text>
<rect x="240.5" y="838.3" width="24.0" height="45.3" fill="#6a4308"/>
<rect x="1151.0" y="838.3" width="24.0" height="45.3" fill="#6a4308"/>
<rect x="271.5" y="838.3" width="55.0" height="45.3" fill="#006227"/>
<text x="299.0" y="868.2" font-size="27" text-anchor="middle" font-weight="bold" fill="#fff">91</text>
<rect x="346.5" y="838.3" width="76.1" height="45.3" fill="#d25849"/>
<text x="384.3" y="868.2" font-size="27" text-anchor="middle" font-weight="bold" fill="#fff">62</text>
<rect x="422.1" y="838.3" width="76.1" height="45.3" fill="#e37e64"/>
<text x="459.9" y="868.2" font-size="27" text-anchor="middle" font-weight="bold" fill="#fff">51</text>
<rect x="497.7" y="838.3" width="76.1" height="45.3" fill="#e17860"/>
<text x="535.5" y="868.2" font-size="27" text-anchor="middle" font-weight="bold" fill="#fff">53</text>
<rect x="573.3" y="838.3" width="76.1" height="45.3" fill="#e8896c"/>
<text x="611.1" y="868.2" font-size="27" text-anchor="middle" font-weight="bold" fill="#fff">48</text>
<rect x="648.9" y="838.3" width="76.1" height="45.3" fill="#d6604d"/>
<text x="686.7" y="868.2" font-size="27" text-anchor="middle" font-weight="bold" fill="#fff">60</text>
<rect x="744.0" y="838.3" width="62.0" height="45.3" fill="#d25849"/>
<text x="775.0" y="868.2" font-size="27" text-anchor="middle" font-weight="bold" fill="#fff">62</text>
<rect x="826.5" y="838.3" width="53.0" height="45.3" fill="#fd8c3b"/>
<text x="852.8" y="868.2" font-size="27" text-anchor="middle" font-weight="bold" fill="#fff">10</text>
<rect x="879.0" y="838.3" width="53.0" height="45.3" fill="#fdb576"/>
<text x="905.2" y="868.2" font-size="27" text-anchor="middle" font-weight="bold" fill="#fff">7</text>
<rect x="931.5" y="838.3" width="53.0" height="45.3" fill="#fff5eb"/>
<text x="957.8" y="868.2" font-size="27" text-anchor="middle" font-weight="bold" fill="#fff">0</text>
<rect x="984.0" y="838.3" width="53.0" height="45.3" fill="#fff5eb"/>
<text x="1010.2" y="868.2" font-size="27" text-anchor="middle" font-weight="bold" fill="#fff">0</text>
<rect x="1036.5" y="838.3" width="53.0" height="45.3" fill="#fff5eb"/>
<text x="1062.8" y="868.2" font-size="27" text-anchor="middle" font-weight="bold" fill="#fff">0</text>
<rect x="1089.0" y="838.3" width="53.0" height="45.3" fill="#fff5eb"/>
<text x="1115.2" y="868.2" font-size="27" text-anchor="middle" font-weight="bold" fill="#fff">0</text>
<text x="237.5" y="912.5" text-anchor="end">plasma membrane</text>
<rect x="240.5" y="883.1" width="24.0" height="45.3" fill="#fbd0fb"/>
<rect x="1151.0" y="883.1" width="24.0" height="45.3" fill="#fbd0fb"/>
<rect x="271.5" y="883.1" width="55.0" height="45.3" fill="#339c52"/>
<text x="299.0" y="913.0" font-size="27" text-anchor="middle" font-weight="bold" fill="#fff">68</text>
<rect x="346.5" y="883.1" width="76.1" height="45.3" fill="#c53e3d"/>
<text x="384.3" y="913.0" font-size="27" text-anchor="middle" font-weight="bold" fill="#fff">69</text>
<rect x="422.1" y="883.1" width="76.1" height="45.3" fill="#c43b3c"/>
<text x="459.9" y="913.0" font-size="27" text-anchor="middle" font-weight="bold" fill="#fff">70</text>
<rect x="497.7" y="883.1" width="76.1" height="45.3" fill="#d6604d"/>
<text x="535.5" y="913.0" font-size="27" text-anchor="middle" font-weight="bold" fill="#fff">60</text>
<rect x="573.3" y="883.1" width="76.1" height="45.3" fill="#d05548"/>
<text x="611.1" y="913.0" font-size="27" text-anchor="middle" font-weight="bold" fill="#fff">63</text>
<rect x="648.9" y="883.1" width="76.1" height="45.3" fill="#cb4942"/>
<text x="686.7" y="913.0" font-size="27" text-anchor="middle" font-weight="bold" fill="#fff">66</text>
<rect x="744.0" y="883.1" width="62.0" height="45.3" fill="#ba2832"/>
<text x="775.0" y="913.0" font-size="27" text-anchor="middle" font-weight="bold" fill="#fff">75</text>
<rect x="826.5" y="883.1" width="53.0" height="45.3" fill="#f3701b"/>
<text x="852.8" y="913.0" font-size="27" text-anchor="middle" font-weight="bold" fill="#fff">12</text>
<rect x="879.0" y="883.1" width="53.0" height="45.3" fill="#fee2c6"/>
<text x="905.2" y="913.0" font-size="27" text-anchor="middle" font-weight="bold" fill="#fff">3</text>
<rect x="931.5" y="883.1" width="53.0" height="45.3" fill="#ffefe0"/>
<text x="957.8" y="913.0" font-size="27" text-anchor="middle" font-weight="bold" fill="#fff">1</text>
<rect x="984.0" y="883.1" width="53.0" height="45.3" fill="#fee9d4"/>
<text x="1010.2" y="913.0" font-size="27" text-anchor="middle" font-weight="bold" fill="#fff">2</text>
<rect x="1036.5" y="883.1" width="53.0" height="45.3" fill="#fee9d4"/>
<text x="1062.8" y="913.0" font-size="27" text-anchor="middle" font-weight="bold" fill="#fff">2</text>
<rect x="1089.0" y="883.1" width="53.0" height="45.3" fill="#fee2c6"/>
<text x="1115.2" y="913.0" font-size="27" text-anchor="middle" font-weight="bold" fill="#fff">3</text>
<rect x="270.0" y="8.5" width="58.0" height="919.5" fill="none" stroke="#000" stroke-width="3"/>
<line x1="270.0" y1="254.5" x2="328.0" y2="254.5" stroke="#000" stroke-width="3" />
<rect x="345.2" y="254.5" width="379.4" height="673.0" fill="none" stroke="#000" stroke-width="2.5"/>
<rect x="743.0" y="254.5" width="64.0" height="673.0" fill="none" stroke="#000" stroke-width="2.5"/>
<rect x="825.0" y="254.5" width="316.5" height="673.0" fill="none" stroke="#000" stroke-width="2.5"/>
<text x="298.5" y="952.5" text-anchor="middle">scaling</text>
<text x="298.5" y="973.0" text-anchor="middle">rate (%)</text>
<text x="384.3" y="952.5" text-anchor="middle">cell</text>
<text x="384.3" y="973.0" text-anchor="middle">vol</text>
<text x="459.9" y="952.5" text-anchor="middle">cell</text>
<text x="459.9" y="973.0" text-anchor="middle">area</text>
<text x="535.5" y="952.5" text-anchor="middle">nuc</text>
<text x="535.5" y="973.0" text-anchor="middle">vol</text>
<text x="611.1" y="952.5" text-anchor="middle">nuc</text>
<text x="611.1" y="973.0" text-anchor="middle">area</text>
<text x="686.7" y="952.5" text-anchor="middle">cyto</text>
<text x="686.7" y="973.0" text-anchor="middle">vol</text>
<text x="775.0" y="952.5" text-anchor="middle">all</text>
<text x="775.0" y="973.0" text-anchor="middle">metrics</text>
<text x="852.8" y="952.5" text-anchor="middle">cell</text>
<text x="852.8" y="973.0" text-anchor="middle">v+a</text>
<text x="905.2" y="952.5" text-anchor="middle">cell</text>
<text x="905.2" y="973.0" text-anchor="middle">vol</text>
<text x="957.8" y="952.5" text-anchor="middle">cell</text>
<text x="957.8" y="973.0" text-anchor="middle">area</text>
<text x="1010.2" y="952.5" text-anchor="middle">nuc</text>
<text x="1010.2" y="973.0" text-anchor="middle">v+a</text>
<text x="1062.8" y="952.5" text-anchor="middle">nuc</text>
<text x="1062.8" y="973.0" text-anchor="middle">vol</text>
<text x="1115.2" y="952.5" text-anchor="middle">nuc</text>
<text x="1115.2" y="973.0" text-anchor="middle">area</text>
<text x="912.0" y="22.0" text-anchor="middle">scaling rate relative to cell volume (%)</text>
<rect x="687.0" y="28.5" width="454.0" height="30.0" fill="url(#gGreen)" stroke="#000" stroke-width="2.5"/>
<text x="689.0" y="51.0" font-weight="bold">0</text>
<text x="913.5" y="51.0" font-size="27" text-anchor="middle" font-weight="bold" fill="#fff">50</text>
<text x="1138.5" y="51.0" text-anchor="end" font-weight="bold" fill="#fff">100</text>
<text x="912.0" y="90.5" text-anchor="middle">explained variance (%)</text>
<rect x="687.0" y="98.0" width="454.0" height="30.5" fill="url(#gRdBu)" stroke="#000" stroke-width="2.5"/>
<text x="688.0" y="119.0" font-weight="bold" fill="#fff">-100</text>
<text x="913.5" y="119.0" text-anchor="middle" font-weight="bold">0</text>
<text x="1138.5" y="119.0" text-anchor="end" font-weight="bold" fill="#fff">100</text>
<line x1="800.0" y1="129.0" x2="800.0" y2="138.0" stroke="#000" stroke-width="1.5" />
<line x1="1027.0" y1="129.0" x2="1027.0" y2="138.0" stroke="#000" stroke-width="1.5" />
<text x="679.0" y="150.0">negative correlation</text>
<text x="938.5" y="150.0">positive correlation</text>
<text x="979.0" y="189.0" text-anchor="middle">unique explained variance (%)</text>
<rect x="825.5" y="196.5" width="315.5" height="30.0" fill="url(#gOr)" stroke="#000" stroke-width="2.5"/>
<text x="827.5" y="217.0" font-weight="bold">0</text>
<text x="982.8" y="217.0" font-size="27" text-anchor="middle" font-weight="bold" fill="#fff">10</text>
<text x="1138.5" y="217.0" text-anchor="end" font-weight="bold" fill="#fff">&gt;20</text>
<text x="1197.0" y="40.0" font-size="50" font-weight="bold">b</text>
<text x="1565.5" y="21.0" text-anchor="middle">color map for cell density in scatter plots</text>
<rect x="1288.4" y="29.0" width="593.6" height="30.0" fill="url(#gPlasma)"/>
<rect x="1255.0" y="29.0" width="33.4" height="30.0" fill="#b7a0d6"/>
<rect x="1270.0" y="29.0" width="18.0" height="30.0" fill="#a98cd0" opacity="0.6"/>
<rect x="1255.0" y="29.0" width="627.0" height="30.0" fill="none" stroke="#000" stroke-width="2.5"/>
<line x1="1288.4" y1="29.0" x2="1288.4" y2="67.0" stroke="#000" stroke-width="2.5" />
<line x1="1567.8" y1="29.0" x2="1567.8" y2="67.0" stroke="#000" stroke-width="2.5" />
<line x1="1255.0" y1="59.0" x2="1255.0" y2="67.0" stroke="#000" stroke-width="2.5" />
<line x1="1882.0" y1="59.0" x2="1882.0" y2="67.0" stroke="#000" stroke-width="2.5" />
<text x="1264.5" y="53.0" text-anchor="middle" fill="#8a8a8a">0</text>
<text x="1381.5" y="53.0" text-anchor="middle" fill="#8a8a8a">20</text>
<text x="1506.0" y="53.0" text-anchor="middle" fill="#8a8a8a">40</text>
<text x="1630.0" y="53.0" text-anchor="middle" fill="#8a8a8a">60</text>
<text x="1754.8" y="53.0" text-anchor="middle" fill="#8a8a8a">80</text>
<text x="1859.0" y="53.0" text-anchor="middle" fill="#8a8a8a">100</text>
<text x="1257.5" y="87.5">5% ofcells with</text>
<text x="1257.5" y="105.5">lowest density</text>
<text x="1724.0" y="87.5" text-anchor="middle">50% of cells with</text>
<text x="1724.0" y="105.5" text-anchor="middle">highest density</text>
<path d="M1254.0 331.0H1253.8V335.3H1253.3V339.6H1252.9V343.9H1252.4V348.2H1252.0V352.5H1251.6V356.8H1251.1V361.1H1249.1V365.4H1246.7V369.7H1244.2V374.0H1241.8V378.3H1239.3V382.6H1236.9V386.9H1234.5V391.2H1232.2V395.5H1230.0V399.8H1227.8V404.1H1225.5V408.4H1223.3V412.7H1221.1V417.0H1219.6V421.3H1218.2V425.6H1216.8V429.9H1215.3V434.2H1213.9V438.5H1212.4V442.8H1210.7V447.1H1209.0V451.4H1207.3V455.7H1205.6V460.0H1204.0V464.3H1203.2V468.6H1202.3V472.9H1201.5V477.2H1200.7V481.5H1200.2V485.8H1201.2V490.1H1202.2V494.4H1203.2V498.7H1204.5V503.0H1206.7V507.3H1209.0V511.6H1211.3V515.9H1213.9V520.2H1217.5V524.5H1221.1V528.8H1224.7V533.1H1228.3V537.4H1231.9V541.7H1234.8V546.0H1236.6V550.3H1238.4V554.6H1240.2V558.9H1242.1V563.2H1243.9V567.5H1245.7V571.8H1247.5V576.1H1249.4V580.4H1251.2V584.7H1253.1V589.0H1254.0Z" fill="#c6c6c6"/>
<path d="M1345.0 643.0V644.2H1350.0V646.5H1355.0V648.9H1360.0V651.4H1365.0V655.3H1370.0V659.2H1375.0V663.1H1380.0V667.5H1385.0V672.5H1390.0V677.5H1395.0V682.5H1400.0V686.1H1405.0V688.3H1410.0V690.6H1415.0V692.8H1420.0V695.0H1425.0V697.0H1430.0V696.6H1435.0V696.2H1440.0V695.9H1445.0V695.5H1450.0V695.2H1455.0V694.2H1460.0V692.5H1465.0V690.8H1470.0V689.2H1475.0V687.5H1480.0V685.8H1485.0V683.8H1490.0V681.5H1495.0V679.2H1500.0V676.9H1505.0V674.6H1510.0V672.2H1515.0V670.2H1520.0V668.1H1525.0V666.1H1530.0V664.1H1535.0V662.0H1540.0V660.2H1545.0V658.8H1550.0V657.2H1555.0V655.8H1560.0V654.2H1565.0V652.8H1570.0V651.6H1575.0V650.9H1580.0V650.1H1585.0V649.4H1590.0V648.6H1595.0V647.9H1600.0V647.1H1605.0V646.4H1610.0V645.8H1615.0V645.4H1620.0V645.1H1625.0V644.7H1630.0V644.3H1635.0V643.9H1640.0V643.6H1645.0V643.2H1650.0V643.0Z" fill="#c6c6c6"/>
<path d="M1379.6 643V663.1H1380.0V667.5H1385.0V672.5H1390.0V677.5H1395.0V682.5H1400.0V686.1H1405.0V688.3H1410.0V690.6H1415.0V692.8H1420.0V695.0H1425.0V697.0H1430.0V696.6H1435.0V696.2H1440.0V695.9H1445.0V695.5H1450.0V695.2H1455.0V694.2H1460.0V692.5H1465.0V690.8H1470.0V689.2H1475.0V687.5H1480.0V685.8H1485.0V683.8H1490.0V681.5H1495.0V679.2H1500.0V676.9H1505.0V674.6H1510.0V672.2H1513.0V643Z" fill="#5d8b6b"/>
<line x1="1361.4" y1="135.5" x2="1361.4" y2="643.0" stroke="#b4b4b4" stroke-width="2" />
<line x1="1476.6" y1="135.5" x2="1476.6" y2="643.0" stroke="#b4b4b4" stroke-width="2" />
<line x1="1591.9" y1="135.5" x2="1591.9" y2="643.0" stroke="#b4b4b4" stroke-width="2" />
<line x1="1707.1" y1="135.5" x2="1707.1" y2="643.0" stroke="#b4b4b4" stroke-width="2" />
<line x1="1822.3" y1="135.5" x2="1822.3" y2="643.0" stroke="#b4b4b4" stroke-width="2" />
<line x1="1254.0" y1="587.7" x2="1883.0" y2="587.7" stroke="#b4b4b4" stroke-width="2" />
<line x1="1254.0" y1="519.0" x2="1883.0" y2="519.0" stroke="#b4b4b4" stroke-width="2" />
<line x1="1254.0" y1="450.3" x2="1883.0" y2="450.3" stroke="#b4b4b4" stroke-width="2" />
<line x1="1254.0" y1="381.6" x2="1883.0" y2="381.6" stroke="#b4b4b4" stroke-width="2" />
<line x1="1254.0" y1="312.9" x2="1883.0" y2="312.9" stroke="#b4b4b4" stroke-width="2" />
<line x1="1254.0" y1="244.2" x2="1883.0" y2="244.2" stroke="#b4b4b4" stroke-width="2" />
<line x1="1254.0" y1="175.5" x2="1883.0" y2="175.5" stroke="#b4b4b4" stroke-width="2" />
<path d="M1341 579h0M1584 509h0M1435 391h0M1324 535h0M1695 349h0M1808 337h0M1856 209h0M1799 255h0M1509 496h0M1757 359h0M1389 475h0M1403 316h0M1782 200h0M1422 392h0M1470 529h0M1588 285h0M1860 180h0M1407 549h0M1627 416h0M1395 604h0M1747 301h0M1717 372h0M1479 544h0M1810 344h0M1475 288h0M1785 240h0M1497 560h0M1625 245h0M1630 428h0M1349 571h0M1619 528h0M1551 547h0M1581 554h0M1313 573h0M1409 401h0M1839 288h0M1336 526h0M1532 333h0M1563 290h0M1495 344h0M1813 205h0M1754 160h0M1275 584h0M1757 188h0M1335 539h0M1730 323h0M1477 383h0M1602 435h0M1504 538h0M1520 530h0M1520 310h0M1747 260h0M1648 398h0M1707 443h0M1316 581h0M1687 363h0M1278 520h0M1601 442h0M1687 177h0M1633 426h0M1534 334h0M1404 413h0M1749 225h0M1636 425h0M1736 212h0M1756 314h0M1636 243h0M1557 315h0M1740 232h0M1866 198h0M1716 167h0M1445 577h0M1705 168h0M1712 423h0M1740 353h0M1661 232h0M1785 283h0M1326 555h0M1577 291h0M1412 441h0M1419 547h0M1703 237h0M1664 217h0M1774 191h0M1316 502h0M1778 295h0M1798 173h0M1693 458h0M1528 335h0M1822 174h0M1534 576h0M1338 497h0M1313 597h0M1626 224h0M1389 457h0M1431 561h0M1730 325h0M1791 172h0M1596 441h0M1802 275h0M1343 530h0M1667 374h0M1493 539h0M1435 543h0M1627 476h0M1791 201h0M1675 372h0M1568 527h0M1375 452h0M1386 480h0M1443 358h0M1618 437h0M1489 356h0M1402 424h0M1733 169h0M1612 281h0M1823 284h0M1457 532h0M1717 228h0M1753 169h0M1275 570h0M1593 458h0M1657 189h0M1425 432h0M1748 255h0M1353 539h0M1678 162h0M1358 519h0M1572 291h0M1627 414h0M1582 253h0M1281 589h0M1353 414h0M1740 229h0M1753 367h0M1624 416h0M1314 533h0M1494 300h0M1526 335h0M1736 302h0M1362 507h0M1487 608h0M1381 429h0M1671 376h0M1609 247h0M1833 175h0M1428 420h0M1714 231h0M1441 407h0M1543 285h0M1856 144h0M1424 405h0M1683 368h0M1645 398h0M1705 371h0M1443 398h0M1774 408h0M1728 202h0M1510 520h0M1495 353h0M1336 491h0M1736 239h0M1575 473h0M1638 480h0M1446 409h0M1865 188h0M1626 259h0M1544 532h0M1604 514h0M1598 481h0M1766 304h0M1707 365h0M1469 305h0M1378 383h0M1612 480h0M1694 460h0M1359 411h0M1433 385h0M1353 592h0M1481 309h0M1747 321h0M1863 284h0M1367 328h0M1605 240h0M1792 196h0M1566 294h0M1765 208h0M1680 377h0M1692 353h0M1470 331h0M1365 362h0M1677 367h0M1789 198h0M1549 300h0M1418 431h0M1646 243h0M1380 458h0M1789 163h0M1491 551h0M1621 429h0M1300 574h0M1697 379h0M1698 367h0M1656 260h0M1644 425h0M1714 373h0M1323 578h0M1470 365h0M1364 575h0M1353 583h0M1358 457h0M1656 244h0M1746 397h0M1315 626h0M1779 287h0M1316 540h0M1542 256h0M1527 309h0M1530 340h0M1612 271h0M1342 560h0M1329 561h0M1666 254h0M1391 471h0M1347 499h0M1644 238h0M1747 369h0M1451 545h0M1598 161h0M1722 314h0M1506 568h0M1567 308h0M1524 304h0M1808 304h0M1359 328h0M1756 327h0M1662 443h0M1490 314h0M1581 460h0M1410 409h0M1522 491h0M1723 189h0M1719 367h0M1647 239h0M1554 543h0M1816 316h0M1299 536h0M1337 561h0M1716 324h0M1502 333h0M1595 246h0M1526 549h0M1592 291h0M1491 367h0M1699 216h0M1386 466h0M1425 430h0M1492 519h0M1754 318h0M1861 324h0" stroke="#6d4cc6" stroke-width="2.4" stroke-linecap="round" fill="none" opacity="0.8"/>
<path d="M1676 330h0M1708 285h0M1587 307h0M1415 597h0M1299 536h0M1468 551h0M1486 522h0M1672 346h0M1704 292h0M1281 562h0M1573 430h0M1467 379h0M1323 519h0M1359 480h0M1396 592h0M1412 586h0M1440 578h0M1439 399h0M1493 528h0M1440 581h0M1318 535h0M1500 504h0M1430 622h0M1461 384h0M1414 592h0M1619 391h0M1635 278h0M1350 475h0M1483 354h0M1375 457h0M1353 612h0M1538 479h0M1486 538h0M1648 270h0M1358 489h0M1666 333h0M1642 293h0M1319 542h0M1461 564h0M1515 329h0M1695 315h0M1397 588h0M1491 359h0M1608 407h0M1658 362h0M1593 312h0M1407 593h0M1501 362h0M1676 347h0M1349 587h0M1525 345h0M1527 472h0M1493 509h0M1677 349h0M1492 513h0M1379 458h0M1461 568h0M1506 337h0M1671 331h0M1592 314h0M1324 547h0M1387 454h0M1578 442h0M1671 323h0M1457 562h0M1589 307h0M1541 344h0M1332 575h0M1542 459h0M1598 302h0M1366 479h0M1450 572h0M1625 388h0M1339 510h0M1501 349h0M1517 513h0M1673 267h0M1399 442h0M1659 270h0M1432 406h0M1596 424h0M1702 266h0M1339 511h0M1506 501h0M1582 315h0M1574 430h0M1509 515h0M1642 290h0M1616 307h0M1643 376h0M1535 348h0M1317 517h0M1451 573h0M1688 311h0M1353 496h0M1486 517h0M1609 407h0M1446 580h0M1682 272h0M1685 276h0M1582 315h0M1398 440h0M1363 479h0M1541 537h0M1523 490h0M1413 421h0M1644 372h0M1534 325h0M1708 287h0M1482 521h0M1660 277h0M1483 522h0M1356 499h0M1685 328h0M1698 274h0M1520 341h0M1492 370h0M1701 278h0M1515 340h0M1620 299h0M1544 481h0M1427 407h0M1527 338h0M1508 366h0M1332 573h0M1528 504h0M1560 325h0M1318 563h0M1327 545h0M1532 472h0M1618 389h0M1664 276h0M1320 560h0M1619 293h0M1475 552h0M1610 309h0M1685 268h0M1565 326h0M1558 442h0M1477 558h0M1489 377h0M1394 606h0M1326 539h0M1509 360h0M1614 305h0M1490 509h0M1669 340h0M1634 291h0M1301 562h0M1444 593h0M1606 397h0M1623 292h0M1550 498h0M1362 584h0M1597 315h0M1408 592h0M1619 392h0M1482 362h0M1425 401h0M1654 349h0M1551 295h0M1475 357h0M1423 600h0M1649 282h0M1460 390h0M1404 585h0M1547 453h0M1610 390h0M1338 477h0M1434 403h0M1332 496h0M1611 396h0M1492 519h0M1409 426h0M1382 460h0M1669 272h0M1433 404h0M1406 581h0M1410 594h0M1574 328h0M1696 265h0M1323 532h0M1506 354h0M1415 412h0M1403 413h0M1688 262h0M1649 348h0M1618 388h0M1577 467h0M1440 584h0M1381 588h0M1359 583h0M1519 492h0M1483 528h0M1575 433h0M1545 480h0M1654 256h0M1372 610h0M1684 273h0M1567 329h0M1623 396h0M1469 553h0M1383 445h0M1541 469h0M1320 574h0M1405 586h0M1693 307h0M1398 441h0M1359 488h0M1670 275h0M1572 433h0M1686 323h0M1425 585h0M1412 417h0M1518 356h0M1308 603h0M1602 311h0M1560 444h0M1529 469h0M1337 509h0M1420 421h0M1543 333h0M1408 424h0M1469 552h0M1350 490h0M1461 371h0M1641 359h0M1314 541h0M1339 581h0M1427 584h0M1416 417h0M1360 474h0M1469 570h0M1509 351h0M1595 316h0M1635 288h0M1613 402h0M1468 581h0M1659 282h0M1422 410h0M1566 463h0M1416 423h0M1358 581h0M1563 327h0M1627 386h0M1493 517h0M1645 289h0M1647 287h0M1556 336h0M1682 314h0M1466 370h0M1398 420h0M1639 270h0M1672 356h0M1496 346h0M1480 376h0M1446 577h0M1373 595h0M1568 438h0M1334 466h0M1660 363h0M1643 272h0M1447 579h0M1521 481h0M1360 462h0M1636 299h0M1574 435h0M1683 315h0M1370 471h0M1687 308h0M1498 518h0M1371 584h0M1355 462h0M1519 330h0M1506 494h0M1478 527h0M1623 393h0M1512 490h0M1553 464h0M1666 340h0M1618 305h0M1410 585h0M1551 461h0M1326 554h0M1640 395h0M1654 278h0M1447 387h0M1540 339h0M1455 389h0M1672 342h0M1517 490h0M1694 287h0M1637 277h0M1336 581h0M1545 476h0M1645 283h0M1465 562h0M1597 311h0M1414 599h0M1480 550h0M1382 590h0M1330 538h0M1325 552h0M1362 584h0M1631 375h0M1343 626h0M1509 490h0M1693 335h0M1322 545h0M1572 329h0M1390 443h0M1639 385h0M1501 503h0M1473 547h0M1573 436h0M1394 448h0M1535 346h0M1477 530h0M1514 360h0M1345 502h0M1363 482h0M1407 605h0M1692 277h0M1363 584h0M1572 433h0M1522 353h0M1463 562h0M1642 365h0M1557 447h0M1342 585h0M1326 538h0M1504 502h0M1389 451h0M1658 349h0M1585 423h0M1641 371h0M1515 483h0M1470 559h0M1528 354h0M1387 590h0M1629 294h0M1347 580h0M1539 474h0M1592 289h0M1332 503h0M1645 365h0M1380 458h0M1459 573h0M1329 544h0M1547 341h0M1629 373h0M1661 272h0M1328 537h0M1577 435h0M1322 527h0M1698 300h0M1482 373h0M1579 422h0M1387 587h0M1437 580h0M1487 552h0M1531 474h0M1513 358h0M1596 421h0M1647 284h0M1407 416h0M1555 335h0M1622 275h0M1536 342h0M1318 484h0M1439 577h0M1327 560h0M1669 274h0M1429 390h0M1599 301h0M1531 343h0M1477 534h0M1692 298h0M1649 287h0M1510 495h0M1374 584h0M1396 587h0M1503 521h0M1432 403h0M1563 327h0M1359 418h0M1507 365h0M1438 577h0M1573 436h0M1335 526h0M1437 390h0M1410 413h0M1336 515h0M1361 482h0M1627 376h0M1614 400h0M1363 478h0M1490 371h0M1546 342h0M1603 406h0M1635 366h0M1505 522h0M1444 616h0M1504 498h0M1549 464h0M1482 528h0M1585 316h0M1597 293h0M1708 288h0M1534 342h0M1623 379h0M1695 277h0M1623 294h0M1714 340h0M1474 338h0M1464 609h0M1407 424h0M1438 396h0M1382 449h0M1676 329h0M1553 460h0M1447 393h0M1389 433h0M1441 400h0M1360 583h0M1437 579h0M1598 296h0M1501 510h0M1494 520h0M1591 412h0M1612 298h0M1532 346h0M1338 507h0M1318 559h0M1572 436h0M1662 359h0M1721 294h0M1517 493h0M1561 459h0M1346 500h0M1666 330h0M1683 355h0M1552 337h0M1369 471h0M1410 404h0M1426 602h0M1623 393h0M1353 456h0M1682 316h0M1554 330h0M1325 556h0M1501 308h0M1643 377h0M1498 508h0M1492 376h0M1593 307h0M1496 358h0M1331 587h0M1344 581h0M1438 592h0M1449 579h0M1701 276h0M1644 358h0M1656 280h0M1405 438h0M1647 365h0M1645 359h0M1494 362h0M1350 583h0M1574 310h0M1403 589h0M1584 419h0M1333 511h0M1632 372h0M1613 394h0M1662 348h0M1382 591h0M1503 495h0M1691 301h0M1332 574h0M1611 277h0M1613 391h0M1573 432h0M1375 587h0M1441 395h0M1560 458h0M1413 425h0M1446 389h0M1364 592h0M1586 322h0M1638 294h0M1528 311h0M1452 386h0M1671 334h0M1500 372h0M1556 330h0M1584 450h0M1496 505h0M1452 589h0M1658 342h0M1701 299h0M1431 594h0M1493 513h0M1623 296h0M1405 430h0M1325 545h0M1538 474h0M1384 602h0M1659 346h0M1357 480h0M1479 381h0M1353 590h0M1588 415h0M1434 404h0M1493 516h0M1469 375h0M1539 344h0M1565 456h0M1521 474h0M1558 446h0M1542 461h0M1388 454h0M1607 301h0M1554 311h0M1374 611h0M1513 491h0M1338 509h0M1532 508h0M1567 330h0M1652 288h0M1388 455h0M1352 586h0M1391 434h0M1685 273h0M1698 287h0M1689 300h0M1326 538h0M1598 419h0M1323 504h0M1339 581h0M1604 303h0M1708 252h0M1371 433h0M1408 416h0M1472 367h0M1426 370h0M1592 416h0M1536 470h0M1549 338h0M1476 536h0M1451 392h0M1535 474h0M1480 527h0M1501 356h0M1403 598h0M1673 385h0M1326 463h0M1439 387h0M1620 383h0M1698 317h0M1621 382h0M1510 518h0M1609 428h0M1343 515h0M1374 454h0M1615 392h0M1394 587h0M1568 436h0M1672 269h0M1342 516h0M1578 440h0M1471 549h0M1425 372h0M1404 436h0M1330 543h0M1375 588h0M1496 505h0M1704 292h0M1338 577h0M1598 310h0M1577 428h0M1650 359h0M1361 484h0M1376 461h0M1553 446h0M1635 296h0M1420 593h0M1714 300h0M1325 572h0M1589 316h0M1696 308h0M1664 333h0M1408 417h0M1700 284h0M1697 302h0M1702 287h0M1407 417h0M1534 331h0M1438 401h0M1536 494h0M1599 416h0M1344 499h0M1448 611h0M1488 525h0M1598 314h0M1383 440h0M1635 266h0M1627 381h0M1440 396h0M1530 346h0M1487 525h0M1600 433h0M1335 516h0M1585 416h0M1351 597h0M1488 375h0M1520 483h0M1608 403h0M1648 361h0M1334 527h0M1467 374h0M1360 475h0M1686 273h0M1469 563h0M1504 362h0M1520 352h0M1706 326h0M1393 586h0M1448 574h0M1642 369h0M1366 595h0M1684 310h0M1683 313h0M1696 307h0M1443 580h0M1702 283h0M1538 477h0M1612 396h0M1594 314h0M1677 327h0M1635 398h0M1642 371h0M1494 340h0M1666 349h0M1666 245h0M1338 578h0M1602 312h0M1506 528h0M1410 407h0M1512 347h0M1530 479h0M1327 551h0M1492 345h0M1686 271h0M1366 467h0M1648 352h0M1672 233h0M1609 411h0M1531 339h0M1543 460h0M1623 394h0M1371 440h0M1440 573h0M1538 467h0M1413 406h0M1529 349h0M1683 312h0M1644 284h0M1512 503h0M1592 414h0M1352 484h0M1525 353h0M1509 496h0M1369 596h0M1668 272h0M1623 427h0M1387 586h0M1477 532h0M1580 428h0M1605 403h0M1530 468h0M1539 460h0M1703 276h0M1594 305h0M1645 360h0M1685 266h0M1504 493h0M1437 394h0M1379 440h0M1485 372h0M1355 430h0M1399 587h0M1699 275h0M1328 556h0M1466 560h0M1640 266h0M1624 296h0M1361 471h0M1668 275h0M1340 577h0M1393 601h0M1656 284h0M1420 403h0M1353 595h0M1348 581h0M1578 424h0M1584 313h0M1652 283h0M1511 360h0M1520 482h0M1388 588h0M1402 428h0M1591 312h0M1379 592h0M1372 585h0M1581 416h0M1480 531h0M1651 289h0M1404 602h0M1690 323h0M1471 373h0M1464 559h0M1383 456h0M1401 431h0M1435 581h0M1496 518h0M1679 274h0M1704 282h0M1605 310h0M1370 463h0M1344 511h0M1622 395h0M1551 449h0M1518 335h0M1396 436h0M1483 359h0M1316 517h0M1310 562h0M1462 564h0M1454 390h0M1584 429h0M1372 419h0M1534 348h0M1658 282h0M1326 573h0M1584 321h0M1699 308h0M1650 354h0M1489 369h0M1438 369h0M1469 547h0M1496 359h0M1382 586h0M1411 412h0M1615 388h0M1508 489h0M1680 273h0M1593 405h0M1372 458h0M1531 316h0M1588 315h0M1537 470h0M1379 584h0M1314 558h0M1710 290h0M1692 304h0M1328 566h0M1549 342h0M1611 295h0M1624 405h0M1375 462h0M1369 461h0M1501 503h0M1347 506h0M1430 578h0M1358 467h0M1613 305h0M1504 512h0M1333 515h0M1358 469h0M1465 568h0M1527 480h0M1483 365h0M1525 342h0M1419 582h0M1576 322h0M1325 540h0M1618 294h0M1362 438h0M1618 391h0M1604 402h0M1540 328h0M1528 477h0M1353 492h0M1466 568h0M1536 482h0M1604 406h0M1653 350h0M1577 311h0M1442 573h0M1335 578h0M1354 589h0M1622 412h0M1454 586h0M1419 583h0M1324 555h0M1470 373h0M1554 335h0M1701 267h0M1441 383h0M1370 585h0M1664 340h0M1457 385h0M1326 572h0M1392 585h0M1555 331h0M1677 319h0M1455 567h0M1305 595h0M1484 555h0M1473 366h0M1442 578h0M1358 481h0M1523 484h0M1662 342h0M1679 329h0M1651 289h0M1606 397h0M1332 503h0M1615 394h0M1409 429h0M1331 587h0M1447 398h0M1461 376h0M1606 402h0M1411 391h0M1347 507h0M1434 406h0M1405 427h0M1390 447h0M1560 446h0M1425 418h0M1592 411h0M1646 363h0M1553 444h0M1696 297h0M1560 443h0M1689 303h0M1669 337h0M1446 388h0M1481 370h0M1364 462h0M1676 269h0M1399 443h0M1613 286h0M1636 407h0M1467 569h0M1580 447h0M1490 352h0M1405 594h0M1345 502h0M1592 409h0M1447 579h0M1431 583h0M1667 344h0M1350 474h0M1680 325h0M1326 558h0M1504 511h0M1516 482h0M1537 464h0M1511 355h0M1701 279h0M1587 431h0M1501 503h0M1342 486h0M1649 286h0M1415 430h0M1711 307h0M1545 331h0M1585 321h0M1434 401h0M1542 337h0M1634 371h0M1655 361h0M1336 592h0M1605 308h0M1559 331h0M1554 326h0M1398 383h0M1603 302h0M1609 392h0M1322 549h0M1324 556h0M1331 578h0M1632 372h0M1569 439h0M1658 363h0M1491 520h0M1575 453h0M1689 272h0M1600 403h0M1526 345h0M1377 583h0M1316 557h0M1596 312h0M1703 278h0M1392 596h0M1567 444h0M1331 455h0M1538 483h0M1399 585h0M1513 357h0M1383 603h0M1665 331h0M1683 251h0M1504 357h0M1636 291h0M1563 464h0M1615 393h0M1468 345h0M1469 544h0M1336 523h0M1461 559h0M1628 413h0M1683 276h0M1386 456h0M1532 332h0M1494 570h0M1671 280h0M1392 588h0M1600 402h0M1663 346h0M1677 277h0M1543 477h0M1444 397h0M1503 337h0M1492 518h0M1413 593h0M1454 593h0M1655 402h0M1344 510h0M1407 597h0M1440 585h0M1622 291h0M1459 570h0M1345 594h0M1712 305h0M1433 404h0M1469 378h0M1672 354h0M1364 449h0M1387 594h0M1468 565h0M1404 587h0M1398 438h0M1444 390h0M1674 322h0M1653 347h0M1388 448h0M1404 424h0M1367 588h0M1338 509h0M1656 281h0M1494 508h0M1390 454h0M1529 481h0M1550 461h0M1540 478h0M1612 426h0M1575 324h0M1611 309h0M1468 572h0M1339 491h0M1604 283h0M1580 424h0M1573 307h0M1347 584h0M1664 274h0M1543 335h0M1449 575h0M1559 448h0M1490 537h0M1546 455h0M1688 271h0M1593 310h0M1685 326h0M1617 267h0M1464 384h0M1494 364h0M1325 546h0M1626 379h0M1509 354h0M1486 366h0M1556 331h0M1525 351h0M1477 545h0M1375 465h0M1723 235h0M1311 593h0M1583 319h0M1677 348h0M1688 314h0M1596 441h0M1662 265h0M1694 300h0M1662 340h0M1599 306h0M1536 506h0M1532 479h0M1539 485h0M1662 339h0M1666 274h0M1422 621h0M1424 413h0M1710 299h0M1337 575h0M1326 531h0M1354 480h0M1689 304h0M1494 514h0M1630 299h0M1709 289h0M1628 287h0M1322 562h0M1409 593h0M1408 591h0M1467 382h0M1318 561h0M1518 340h0M1457 392h0M1484 532h0M1670 351h0M1463 380h0M1555 310h0M1686 273h0M1328 573h0M1498 368h0M1619 298h0M1451 388h0M1529 473h0M1493 371h0M1506 496h0M1334 531h0M1561 333h0M1520 494h0M1712 285h0M1480 526h0M1619 297h0M1576 320h0M1357 432h0M1534 343h0M1561 330h0M1611 305h0M1521 336h0M1668 331h0M1461 368h0M1670 332h0M1413 419h0M1608 395h0M1343 516h0M1448 395h0M1393 587h0M1411 410h0M1415 586h0M1560 454h0M1378 591h0M1666 367h0M1386 457h0M1607 279h0M1340 513h0M1585 302h0M1684 317h0M1466 559h0M1684 265h0M1607 303h0M1607 420h0M1543 342h0M1626 382h0M1476 551h0M1604 410h0M1377 450h0M1347 498h0M1611 395h0M1478 380h0M1405 429h0M1515 492h0M1668 334h0M1596 405h0M1344 512h0M1704 295h0M1372 587h0M1553 449h0M1478 381h0M1400 586h0M1447 388h0M1344 595h0M1428 585h0M1403 606h0M1664 268h0M1480 541h0M1365 587h0M1689 305h0M1557 448h0M1352 608h0M1340 506h0M1663 346h0M1599 416h0M1660 350h0M1510 361h0M1606 295h0M1629 379h0M1680 314h0M1392 443h0M1553 310h0M1703 278h0M1442 394h0M1412 421h0M1482 530h0M1537 463h0M1573 321h0M1656 352h0M1687 322h0M1392 594h0M1445 589h0M1597 308h0M1500 370h0M1396 436h0M1401 417h0M1484 380h0M1339 527h0M1474 382h0M1313 529h0M1490 363h0M1727 300h0M1576 308h0M1554 472h0M1346 584h0M1653 274h0M1556 332h0M1614 402h0M1377 596h0M1450 396h0M1569 452h0M1671 328h0M1614 302h0M1691 273h0M1690 303h0M1548 464h0M1497 511h0M1681 254h0M1606 398h0M1475 531h0M1342 486h0M1578 426h0M1560 440h0M1458 383h0M1693 316h0M1596 419h0M1414 596h0M1684 273h0M1448 385h0M1459 563h0M1339 521h0M1430 605h0M1631 295h0M1528 346h0M1396 592h0M1599 313h0M1699 280h0M1675 275h0M1527 353h0M1476 537h0M1359 485h0M1695 343h0M1665 273h0M1617 305h0M1382 442h0M1572 436h0M1661 282h0M1382 594h0M1338 526h0M1328 572h0M1391 587h0M1693 303h0M1708 296h0M1456 385h0M1480 539h0M1529 475h0M1352 474h0M1524 328h0M1664 275h0M1486 526h0M1587 324h0M1638 377h0M1523 321h0M1601 303h0M1307 556h0M1550 323h0M1499 500h0M1512 493h0M1623 281h0M1330 530h0M1560 444h0M1328 541h0M1328 520h0M1475 536h0M1462 555h0M1448 578h0M1679 263h0M1454 379h0M1347 511h0M1339 521h0M1444 390h0M1494 516h0M1412 586h0M1471 536h0M1579 302h0M1619 404h0M1337 474h0M1409 593h0M1602 398h0M1544 466h0M1513 361h0M1683 277h0M1667 270h0M1599 403h0M1494 504h0M1670 348h0M1530 472h0M1672 328h0M1494 518h0M1535 463h0M1377 467h0M1717 284h0M1340 577h0M1332 573h0M1499 508h0M1436 583h0M1317 559h0M1302 532h0M1367 592h0M1313 569h0M1609 314h0M1436 390h0M1346 503h0M1700 299h0M1643 384h0M1576 424h0M1319 530h0M1542 475h0M1660 352h0M1650 277h0M1539 480h0M1670 275h0M1460 587h0M1440 387h0M1581 436h0M1390 591h0M1338 593h0M1588 418h0M1500 356h0M1582 304h0M1559 444h0M1350 474h0M1494 372h0M1430 601h0M1403 594h0M1586 317h0M1533 340h0M1658 374h0M1442 398h0M1568 451h0M1514 356h0M1597 316h0M1608 306h0M1392 451h0M1512 488h0M1370 452h0M1401 439h0M1336 506h0M1414 588h0M1565 322h0M1490 510h0M1691 324h0M1438 397h0M1565 334h0M1621 387h0M1528 345h0M1544 460h0M1405 584h0M1450 383h0M1700 281h0M1436 578h0M1503 500h0M1307 551h0M1385 462h0M1315 522h0M1490 346h0M1466 369h0M1633 271h0M1680 340h0M1339 500h0M1392 453h0M1405 439h0M1507 502h0M1361 484h0M1442 388h0M1682 262h0M1539 327h0M1350 589h0M1395 432h0M1564 326h0M1511 508h0M1526 347h0M1645 358h0M1362 484h0M1494 344h0M1645 355h0M1438 404h0M1428 413h0M1638 388h0M1490 369h0M1391 591h0M1654 276h0M1412 416h0M1555 480h0M1324 530h0M1720 297h0M1539 339h0M1662 351h0M1616 391h0M1691 344h0M1699 285h0M1634 371h0M1682 277h0M1696 274h0M1546 335h0M1526 480h0M1323 526h0M1440 589h0M1634 294h0M1331 540h0M1635 283h0M1665 336h0M1553 477h0M1673 254h0M1606 305h0M1671 343h0M1434 396h0M1352 475h0M1547 336h0M1529 342h0M1369 466h0M1556 335h0M1574 327h0M1552 456h0M1570 316h0M1571 323h0M1383 461h0M1453 578h0M1607 302h0M1598 298h0M1415 417h0M1404 588h0M1333 526h0M1331 539h0M1612 400h0M1669 343h0M1432 591h0M1595 441h0M1353 581h0M1359 586h0M1622 383h0M1482 528h0M1491 372h0M1439 579h0M1508 515h0M1610 308h0M1669 265h0M1436 581h0M1339 510h0M1635 381h0M1388 438h0M1698 275h0M1373 468h0M1698 288h0M1663 275h0M1545 457h0M1656 348h0M1533 468h0M1585 320h0M1653 409h0M1429 580h0M1614 415h0M1643 284h0M1360 469h0M1502 506h0M1585 422h0M1573 323h0M1385 583h0M1661 278h0M1354 480h0M1370 455h0M1585 462h0M1693 271h0M1361 474h0M1371 461h0M1337 507h0M1673 324h0M1402 589h0M1420 604h0M1664 278h0M1359 494h0M1537 344h0M1701 280h0M1403 434h0M1385 450h0M1645 363h0M1679 262h0M1565 329h0M1503 346h0M1476 383h0M1438 596h0M1503 511h0M1685 272h0M1338 577h0M1373 459h0M1540 469h0M1438 577h0M1634 402h0M1572 323h0M1408 414h0M1667 332h0M1612 309h0M1542 342h0M1686 313h0M1610 294h0M1663 278h0M1451 391h0M1362 584h0M1638 397h0M1419 598h0M1609 306h0M1543 332h0M1463 382h0M1658 375h0M1359 478h0M1604 410h0M1329 562h0M1517 353h0M1544 323h0M1530 344h0M1444 579h0M1691 329h0M1600 403h0M1550 450h0M1316 559h0M1361 488h0M1338 584h0M1597 315h0M1661 278h0M1615 409h0M1500 539h0M1587 418h0M1324 513h0M1344 509h0M1356 594h0M1486 532h0M1549 451h0M1348 506h0M1577 425h0M1676 277h0M1695 332h0M1327 557h0M1458 375h0M1603 431h0M1666 257h0M1684 352h0M1654 278h0M1486 531h0M1449 595h0M1645 292h0M1408 588h0M1393 585h0M1513 491h0M1489 536h0M1321 521h0M1536 346h0M1422 408h0M1368 592h0M1514 490h0M1700 282h0M1449 573h0M1399 438h0M1484 531h0M1346 497h0M1702 286h0M1354 444h0M1537 333h0M1408 431h0M1456 570h0M1419 418h0M1649 277h0M1554 339h0M1471 558h0M1480 535h0M1697 287h0M1601 313h0M1488 367h0M1547 460h0M1472 562h0M1478 535h0M1676 279h0M1513 508h0M1644 292h0M1459 581h0M1408 422h0M1405 416h0M1428 410h0M1580 424h0M1360 615h0M1612 417h0M1470 376h0M1430 396h0M1687 326h0M1594 317h0M1572 318h0M1391 443h0M1523 476h0M1578 307h0M1649 355h0M1543 346h0M1691 272h0M1310 519h0M1691 273h0M1532 342h0M1321 557h0M1335 506h0M1660 342h0M1431 583h0M1475 546h0M1652 289h0M1323 564h0M1561 441h0M1604 403h0M1563 438h0M1666 280h0M1340 577h0M1511 547h0M1513 317h0M1341 575h0M1441 585h0M1362 477h0M1670 272h0M1475 565h0M1564 293h0M1606 396h0M1365 591h0M1495 505h0M1603 402h0M1328 543h0M1679 325h0M1511 504h0M1400 582h0M1522 485h0M1458 569h0M1612 407h0M1540 459h0M1495 527h0M1533 348h0M1506 500h0M1699 292h0M1355 486h0M1474 375h0M1638 370h0M1631 379h0M1595 427h0M1487 553h0M1423 587h0M1435 406h0M1678 327h0M1475 589h0M1467 558h0M1669 278h0M1390 607h0M1470 603h0M1363 586h0M1521 349h0M1556 445h0M1431 581h0M1562 299h0M1606 307h0M1536 467h0M1350 490h0M1536 465h0M1696 279h0M1694 308h0M1369 470h0M1444 579h0M1478 358h0M1525 347h0M1704 326h0M1677 271h0M1636 371h0M1553 327h0M1328 570h0M1430 409h0M1594 301h0M1505 501h0M1337 496h0M1323 561h0M1566 433h0M1644 374h0M1593 278h0M1484 531h0M1675 277h0M1569 439h0M1517 498h0M1563 443h0M1663 283h0M1692 306h0M1331 478h0M1347 580h0M1468 553h0M1704 287h0M1400 592h0M1328 545h0M1562 330h0M1353 499h0M1355 486h0M1509 502h0M1320 547h0M1551 499h0M1656 352h0M1394 610h0M1662 276h0M1689 336h0M1483 550h0M1368 586h0M1370 457h0M1499 362h0M1690 318h0M1359 485h0M1353 445h0M1686 311h0M1435 396h0M1514 342h0M1519 478h0M1698 281h0M1675 349h0M1534 463h0M1464 556h0M1503 499h0M1406 346h0M1314 541h0M1573 325h0M1461 386h0M1584 416h0M1615 305h0M1536 348h0M1413 410h0M1489 541h0M1542 305h0M1573 481h0M1404 442h0M1519 487h0M1399 589h0M1506 503h0M1607 425h0M1389 453h0M1554 446h0M1332 574h0M1516 354h0M1506 337h0M1660 283h0M1355 594h0M1653 356h0M1460 382h0M1366 468h0M1663 282h0M1328 551h0M1420 407h0M1545 327h0M1622 301h0M1480 543h0M1416 405h0M1424 415h0M1342 478h0M1432 406h0M1412 422h0M1319 562h0M1487 526h0M1484 367h0M1640 358h0M1354 443h0M1398 442h0M1415 584h0M1700 300h0M1417 583h0M1443 585h0M1375 455h0M1633 290h0M1596 315h0M1705 305h0M1451 388h0M1700 296h0M1471 374h0M1436 402h0M1436 379h0M1366 432h0M1625 379h0M1363 474h0M1325 550h0M1349 593h0M1589 317h0M1600 410h0M1543 486h0M1426 390h0M1676 276h0M1404 587h0M1362 486h0M1582 307h0M1516 550h0M1598 408h0M1332 536h0M1353 589h0M1512 361h0M1579 426h0M1640 362h0M1611 390h0M1402 587h0M1687 321h0M1479 377h0M1690 303h0M1671 277h0M1444 391h0M1526 472h0M1497 364h0M1335 511h0M1631 285h0M1548 470h0M1463 564h0M1485 524h0M1534 336h0M1671 277h0M1326 537h0M1360 588h0M1572 452h0M1398 433h0M1590 440h0M1592 413h0M1612 308h0M1376 442h0M1488 528h0M1448 394h0M1554 328h0M1384 459h0M1340 575h0M1397 444h0M1583 419h0M1679 322h0M1315 582h0M1366 465h0M1505 506h0M1516 495h0M1578 488h0M1414 601h0M1519 483h0M1334 524h0M1520 496h0M1359 593h0M1638 292h0M1702 307h0M1584 301h0M1534 468h0M1403 588h0M1366 446h0M1327 541h0M1572 436h0M1647 279h0M1697 272h0M1324 533h0M1582 323h0M1630 376h0M1442 576h0M1404 436h0M1621 387h0M1341 505h0M1413 582h0M1586 439h0M1442 384h0M1495 505h0M1673 271h0M1667 346h0M1605 405h0M1346 506h0M1696 300h0M1405 435h0M1475 552h0M1560 451h0M1435 387h0M1542 464h0M1662 336h0M1678 275h0M1387 586h0M1518 518h0M1657 356h0M1647 283h0M1532 466h0M1618 424h0M1554 331h0M1477 377h0M1486 520h0M1624 293h0M1419 417h0M1612 309h0M1532 337h0M1602 401h0M1411 429h0M1632 383h0M1450 572h0M1312 558h0M1421 417h0M1651 363h0M1410 435h0M1489 511h0M1327 554h0M1443 577h0M1480 530h0M1379 587h0M1300 529h0M1652 271h0M1332 522h0M1591 466h0M1418 585h0M1326 535h0M1577 434h0M1575 427h0M1688 314h0M1496 502h0M1347 501h0M1548 453h0M1615 424h0M1697 294h0M1707 290h0M1596 312h0M1416 587h0M1401 584h0M1498 350h0M1454 389h0M1633 293h0M1335 489h0M1589 416h0M1336 578h0M1592 423h0M1359 480h0M1485 543h0M1354 488h0M1683 258h0M1700 303h0M1472 378h0M1486 375h0M1324 536h0M1575 432h0M1318 545h0M1468 553h0M1416 421h0M1587 432h0M1450 381h0M1606 412h0M1687 307h0M1495 503h0M1458 565h0M1558 440h0M1679 310h0M1525 356h0M1379 462h0M1410 424h0M1568 322h0M1403 430h0M1527 503h0M1662 351h0M1454 571h0M1330 563h0M1343 496h0M1665 280h0M1427 369h0M1498 515h0M1476 379h0M1658 338h0M1446 592h0M1684 274h0M1342 498h0M1337 487h0M1454 377h0M1512 519h0M1681 277h0M1456 562h0M1363 482h0M1348 481h0M1533 340h0M1496 505h0M1474 574h0M1573 316h0M1353 482h0M1545 462h0M1629 380h0M1623 291h0M1599 303h0M1332 502h0M1650 284h0M1610 396h0M1425 588h0M1496 345h0M1556 311h0M1346 577h0M1461 564h0M1582 428h0M1577 299h0M1509 348h0M1346 579h0M1625 294h0M1327 533h0M1542 487h0M1347 493h0M1622 394h0M1337 518h0M1344 493h0M1342 588h0M1442 384h0M1482 555h0M1660 271h0M1325 517h0M1496 508h0M1428 410h0M1557 460h0M1650 374h0M1456 562h0M1474 543h0M1492 354h0M1481 352h0M1610 284h0M1691 298h0M1544 338h0M1482 370h0M1666 333h0M1562 477h0M1421 603h0M1576 431h0M1393 594h0M1572 319h0M1377 447h0M1453 574h0M1437 589h0M1564 312h0M1641 278h0M1487 527h0M1326 568h0M1501 502h0M1478 543h0M1452 569h0M1576 318h0M1671 339h0M1406 612h0M1419 385h0M1408 428h0M1591 412h0M1403 418h0M1345 509h0M1489 366h0M1602 287h0M1705 279h0M1425 588h0M1468 565h0M1607 399h0M1437 585h0M1359 587h0M1333 506h0M1477 381h0M1479 539h0M1629 297h0M1510 499h0M1620 306h0M1599 419h0M1480 374h0M1559 442h0M1584 308h0M1599 398h0M1713 299h0M1473 552h0M1589 447h0M1515 491h0M1552 457h0M1505 498h0M1423 407h0M1641 293h0M1548 325h0M1637 361h0M1499 518h0M1350 494h0M1465 380h0M1475 561h0M1688 307h0M1506 361h0M1611 397h0M1525 480h0M1410 424h0M1337 511h0M1486 518h0M1567 458h0M1633 373h0M1496 502h0M1340 513h0M1699 302h0M1708 265h0M1662 338h0M1673 326h0M1579 301h0M1494 510h0M1598 411h0M1508 536h0M1644 363h0M1350 485h0M1557 319h0M1501 509h0M1496 507h0M1518 352h0M1399 420h0M1348 497h0M1519 504h0M1638 400h0M1331 579h0M1354 486h0M1500 366h0M1544 453h0M1429 401h0M1387 457h0M1476 564h0M1407 587h0M1497 504h0M1710 287h0M1476 379h0M1385 456h0M1562 327h0M1476 382h0M1648 363h0M1518 514h0M1422 585h0M1455 573h0M1479 308h0M1584 421h0M1394 427h0M1379 446h0M1660 385h0M1567 447h0M1643 287h0M1497 502h0M1679 319h0M1389 447h0M1413 581h0M1399 423h0M1522 484h0M1677 315h0M1508 504h0M1329 575h0M1432 397h0M1636 368h0M1515 352h0M1324 550h0M1407 609h0M1498 357h0M1412 427h0M1533 343h0M1614 410h0M1651 286h0M1382 460h0M1493 532h0M1642 284h0M1441 574h0M1697 295h0M1319 552h0M1667 363h0M1521 482h0M1614 441h0M1621 404h0M1530 484h0M1675 275h0M1370 590h0M1519 359h0M1486 378h0M1379 462h0M1498 369h0M1607 396h0M1497 355h0M1617 384h0M1622 295h0M1673 269h0M1467 562h0M1706 264h0M1432 362h0M1486 532h0M1417 410h0M1398 421h0M1546 474h0M1417 583h0M1642 401h0M1484 546h0M1338 529h0M1417 418h0M1309 559h0M1643 373h0M1615 286h0M1349 472h0M1693 295h0M1325 540h0M1671 256h0M1421 411h0M1479 534h0M1530 488h0M1438 585h0M1396 444h0M1391 440h0M1386 624h0M1487 544h0M1592 295h0M1386 460h0M1535 489h0M1466 383h0M1594 316h0M1322 542h0M1449 388h0M1614 395h0M1371 592h0M1431 585h0M1525 357h0M1539 501h0M1335 517h0M1312 557h0M1353 496h0M1470 376h0M1543 322h0M1549 336h0M1688 323h0M1555 313h0M1466 376h0M1394 604h0M1566 330h0M1438 396h0M1347 484h0M1389 592h0M1383 443h0M1694 299h0M1322 583h0M1601 307h0M1692 321h0M1582 430h0M1601 310h0M1507 361h0M1625 301h0M1458 565h0M1510 364h0M1320 571h0M1335 578h0M1399 586h0M1622 300h0M1602 419h0M1535 332h0M1347 590h0M1656 356h0M1640 361h0M1400 592h0M1490 523h0M1569 457h0M1492 526h0M1699 272h0M1441 595h0M1428 591h0M1398 589h0M1697 284h0M1466 380h0M1520 315h0M1442 399h0M1705 272h0M1428 398h0M1684 336h0M1684 269h0M1516 351h0M1433 585h0M1603 308h0M1457 567h0M1426 379h0M1695 338h0M1542 469h0M1483 528h0M1504 507h0M1694 297h0M1476 379h0M1563 449h0M1593 419h0M1557 453h0M1431 578h0M1337 506h0M1500 504h0M1690 272h0M1468 381h0M1557 441h0M1619 307h0M1563 308h0M1668 359h0M1447 392h0M1330 527h0M1644 363h0M1611 409h0M1407 435h0M1358 601h0M1598 446h0M1436 404h0M1421 418h0M1614 301h0M1413 412h0M1662 357h0M1464 562h0M1578 424h0M1701 297h0M1664 342h0M1607 433h0M1401 441h0M1682 252h0M1636 382h0M1516 497h0M1495 511h0M1399 614h0M1686 267h0M1457 569h0M1437 587h0M1578 429h0M1624 304h0M1619 400h0M1699 279h0M1635 376h0M1490 521h0M1703 282h0M1396 590h0M1386 430h0M1603 305h0M1386 451h0M1529 479h0M1501 495h0M1403 431h0M1362 480h0M1496 368h0M1495 363h0M1627 390h0M1488 515h0M1657 277h0M1621 293h0M1675 346h0M1535 480h0M1664 333h0M1462 586h0M1506 499h0M1620 433h0M1505 508h0M1357 495h0M1572 436h0M1379 589h0M1386 587h0M1412 428h0M1478 539h0M1669 335h0M1354 467h0M1511 510h0M1601 436h0M1322 551h0M1534 468h0M1515 356h0M1360 490h0M1476 568h0M1547 461h0M1674 257h0M1406 439h0M1345 576h0M1571 327h0M1589 413h0M1630 383h0M1598 297h0M1477 538h0M1548 327h0M1575 315h0M1696 270h0M1708 295h0M1504 358h0M1592 412h0M1330 627h0M1664 392h0M1699 303h0M1399 605h0M1410 399h0M1572 437h0M1607 288h0M1342 515h0M1625 397h0M1535 345h0M1427 406h0M1439 589h0M1546 340h0M1604 399h0M1555 446h0M1426 583h0M1428 580h0M1541 342h0M1660 350h0M1529 467h0M1425 584h0M1589 414h0M1362 467h0M1594 417h0M1536 330h0M1326 563h0M1442 582h0M1358 454h0M1558 328h0M1314 558h0M1680 316h0M1385 448h0M1459 369h0M1691 314h0M1459 569h0M1669 276h0M1487 512h0M1505 335h0M1455 573h0M1502 500h0M1657 356h0M1451 392h0M1493 370h0M1514 490h0M1568 429h0M1467 570h0M1376 461h0M1481 567h0M1671 329h0M1507 497h0M1356 455h0M1582 320h0M1336 512h0M1479 377h0M1553 331h0M1554 315h0M1542 461h0M1356 484h0M1581 318h0M1456 576h0M1334 491h0M1520 360h0M1388 450h0M1452 582h0M1673 322h0M1291 549h0M1327 554h0M1480 549h0M1380 585h0M1625 377h0M1359 592h0M1634 271h0M1684 276h0M1488 537h0M1613 306h0M1593 317h0M1464 602h0M1327 550h0M1675 271h0M1465 378h0M1703 277h0M1609 309h0M1553 447h0M1404 439h0M1462 562h0M1496 522h0M1449 571h0M1712 302h0M1549 339h0M1478 536h0M1593 418h0M1379 452h0M1410 604h0M1485 376h0M1375 591h0M1405 430h0M1607 278h0M1325 591h0M1615 397h0M1685 260h0M1523 482h0M1437 402h0M1622 293h0M1605 403h0M1506 491h0M1309 530h0M1371 456h0M1413 432h0M1474 537h0M1561 438h0M1358 585h0M1349 587h0M1378 436h0M1337 578h0M1356 484h0M1683 314h0M1441 579h0M1637 373h0M1415 590h0M1569 433h0M1674 277h0M1434 407h0M1647 379h0M1406 590h0M1681 332h0M1597 405h0M1525 357h0M1319 582h0M1422 586h0M1661 340h0M1459 564h0M1466 564h0M1522 353h0M1646 290h0M1578 448h0M1356 582h0M1704 344h0M1421 414h0M1507 495h0M1653 367h0M1413 405h0M1607 398h0M1508 502h0M1452 623h0M1355 480h0M1344 579h0M1495 370h0M1331 568h0M1534 464h0M1497 507h0M1652 351h0M1686 267h0M1484 531h0M1645 280h0M1502 506h0M1398 441h0M1388 447h0M1513 360h0M1321 563h0M1335 535h0M1618 393h0M1660 348h0M1355 605h0M1535 463h0M1340 580h0M1359 477h0M1409 430h0M1625 388h0M1640 363h0M1314 531h0M1411 587h0M1624 380h0M1681 240h0M1473 549h0M1728 345h0M1490 535h0M1366 468h0M1472 376h0M1670 374h0M1503 366h0M1704 272h0M1564 326h0M1628 386h0M1452 570h0M1692 298h0M1567 300h0M1317 520h0M1370 477h0M1366 584h0M1468 583h0M1621 384h0M1336 530h0M1339 518h0M1345 588h0M1399 430h0M1623 413h0M1486 540h0M1470 570h0M1627 384h0M1628 272h0M1325 548h0M1410 434h0M1696 298h0M1616 306h0M1694 333h0M1637 377h0M1478 376h0M1335 530h0M1353 582h0M1668 329h0M1606 307h0M1390 450h0M1699 302h0M1596 410h0M1618 403h0M1391 454h0M1331 540h0M1444 379h0M1335 583h0M1354 596h0M1654 282h0M1392 433h0M1464 555h0M1357 455h0M1459 569h0M1443 400h0M1328 543h0M1693 309h0M1349 589h0M1646 370h0M1414 420h0M1655 363h0M1327 559h0M1490 513h0M1553 452h0M1418 418h0M1628 265h0M1372 584h0M1625 380h0M1693 314h0M1615 384h0M1362 474h0M1624 286h0M1448 570h0M1382 449h0M1364 475h0M1363 477h0M1327 567h0M1685 308h0M1341 582h0M1620 397h0M1463 385h0M1616 388h0M1668 284h0M1633 292h0M1533 466h0M1356 584h0M1651 380h0M1696 302h0M1457 567h0M1504 493h0M1591 318h0M1417 421h0M1650 285h0M1617 299h0M1399 439h0M1342 580h0M1481 378h0M1517 347h0M1602 291h0M1557 448h0M1673 339h0M1628 396h0M1534 484h0M1553 452h0M1467 387h0M1652 286h0M1399 424h0M1436 403h0M1378 597h0M1380 466h0M1322 588h0M1454 390h0M1411 586h0M1643 294h0M1396 449h0M1459 389h0M1611 394h0M1482 540h0M1506 515h0M1630 398h0M1629 374h0M1333 522h0M1581 433h0M1645 385h0M1703 273h0M1611 282h0M1327 543h0M1561 450h0M1489 513h0M1513 484h0M1319 529h0M1344 478h0M1412 584h0M1518 357h0M1546 335h0" stroke="#5f44c0" stroke-width="2.4" stroke-linecap="round" fill="none" opacity="0.9"/>
<path d="M1326.0 566.0 L1340.0 578.0 L1370.0 587.0 L1400.0 587.0 L1430.0 582.0 L1455.0 570.0 L1470.0 553.0 L1480.0 527.0 L1500.0 500.0 L1530.0 470.0 L1557.0 445.0 L1587.8 415.0 L1618.5 387.0 L1653.0 350.0 L1691.4 302.7 L1703.0 279.7 L1690.0 272.0 L1672.0 275.9 L1633.8 295.0 L1595.4 314.2 L1557.0 333.4 L1518.7 357.0 L1485.0 375.0 L1460.9 385.0 L1430.7 405.0 L1400.5 440.4 L1362.8 478.0 L1338.3 518.0 L1326.0 548.0 Z" fill="#8a12a8" filter="url(#bl2)"/>
<g clip-path="url(#bc1)">
<path d="M1338.0 572.0 L1450.0 484.0 L1560.0 396.0 L1665.0 305.0" fill="none" stroke="#a8238f" stroke-width="70" stroke-linecap="round" stroke-linejoin="round" filter="url(#bl7)"/>
<path d="M1342.0 568.0 L1450.0 480.0 L1540.0 406.0 L1625.0 336.0" fill="none" stroke="#d6506f" stroke-width="44" stroke-linecap="round" stroke-linejoin="round" filter="url(#bl6)"/>
<path d="M1348.0 563.0 L1440.0 486.0 L1530.0 412.0 L1590.0 362.0" fill="none" stroke="#f38d45" stroke-width="26" stroke-linecap="round" stroke-linejoin="round" filter="url(#bl5)"/>
<path d="M1378.0 532.0 L1440.0 480.0 L1485.0 442.0" fill="none" stroke="#f9de36" stroke-width="11" stroke-linecap="round" stroke-linejoin="round" filter="url(#bl3_5)"/>
</g>
<text x="1257.0" y="597.2" fill="#a8a8a8">200</text>
<line x1="1246.0" y1="587.7" x2="1254.0" y2="587.7" stroke="#000" stroke-width="2.5" />
<text x="1257.0" y="528.5" fill="#a8a8a8">400</text>
<line x1="1246.0" y1="519.0" x2="1254.0" y2="519.0" stroke="#000" stroke-width="2.5" />
<text x="1257.0" y="459.8" fill="#a8a8a8">600</text>
<line x1="1246.0" y1="450.3" x2="1254.0" y2="450.3" stroke="#000" stroke-width="2.5" />
<text x="1257.0" y="391.1" fill="#a8a8a8">800</text>
<line x1="1246.0" y1="381.6" x2="1254.0" y2="381.6" stroke="#000" stroke-width="2.5" />
<text x="1257.0" y="322.4" fill="#a8a8a8">1000</text>
<line x1="1246.0" y1="312.9" x2="1254.0" y2="312.9" stroke="#000" stroke-width="2.5" />
<text x="1257.0" y="253.7" fill="#a8a8a8">1200</text>
<line x1="1246.0" y1="244.2" x2="1254.0" y2="244.2" stroke="#000" stroke-width="2.5" />
<text x="1257.0" y="185.0" fill="#a8a8a8">1400</text>
<line x1="1246.0" y1="175.5" x2="1254.0" y2="175.5" stroke="#000" stroke-width="2.5" />
<text x="1361.4" y="636.0" text-anchor="middle" fill="#a8a8a8">1000</text>
<line x1="1361.4" y1="643.0" x2="1361.4" y2="651.0" stroke="#000" stroke-width="2.5" />
<text x="1476.6" y="636.0" text-anchor="middle" fill="#a8a8a8">2000</text>
<line x1="1476.6" y1="643.0" x2="1476.6" y2="651.0" stroke="#000" stroke-width="2.5" />
<text x="1591.9" y="636.0" text-anchor="middle" fill="#a8a8a8">3000</text>
<line x1="1591.9" y1="643.0" x2="1591.9" y2="651.0" stroke="#000" stroke-width="2.5" />
<text x="1707.1" y="636.0" text-anchor="middle" fill="#a8a8a8">4000</text>
<line x1="1707.1" y1="643.0" x2="1707.1" y2="651.0" stroke="#000" stroke-width="2.5" />
<text x="1822.3" y="636.0" text-anchor="middle" fill="#a8a8a8">5000</text>
<line x1="1822.3" y1="643.0" x2="1822.3" y2="651.0" stroke="#000" stroke-width="2.5" />
<line x1="1280.3" y1="620.0" x2="1855.0" y2="144.0" stroke="#808080" stroke-width="5" stroke-linecap="butt"/>
<path d="M1329 560 L1340 556 L1352 549 L1370 536 L1395 517 L1420 497 L1450 472 L1480 448 L1510 424 L1540 400 L1570 377 L1600 356 L1630 336 L1655 317 L1677 302" fill="none" stroke="#22e622" stroke-width="4.5" stroke-linecap="round" stroke-linejoin="round"/>
<line x1="1254.0" y1="426.8" x2="1513.4" y2="426.8" stroke="#0f3d1f" stroke-width="5.5" />
<line x1="1513.4" y1="426.8" x2="1513.4" y2="643.0" stroke="#0f3d1f" stroke-width="5.5" />
<line x1="1254.0" y1="538.0" x2="1381.0" y2="538.0" stroke="#0f3d1f" stroke-width="5.5" />
<line x1="1381.0" y1="538.0" x2="1381.0" y2="643.0" stroke="#0f3d1f" stroke-width="5.5" />
<line x1="1513.4" y1="426.8" x2="1737.0" y2="426.8" stroke="#0f3d1f" stroke-width="3" stroke-dasharray="22 7 3 7"/>
<line x1="1381.0" y1="538.0" x2="1606.0" y2="538.0" stroke="#0f3d1f" stroke-width="3" stroke-dasharray="22 7 3 7"/>
<text x="1743.5" y="436.0" fill="#0f3d1f">670 µm³</text>
<text x="1610.0" y="547.0" fill="#0f3d1f">346 µm³</text>
<text x="1700.0" y="491.0" fill="#0f3d1f">94% increase</text>
<line x1="1622.6" y1="517.6" x2="1689.0" y2="459.0" stroke="#0f3d1f" stroke-width="3.5" />
<path d="M1698 451 L1681 458 L1691 468 Z" fill="#0f3d1f" stroke="#0f3d1f" stroke-width="1"/>
<rect x="1254.0" y="135.5" width="629.0" height="507.5" fill="none" stroke="#000" stroke-width="2.5"/>
<text x="1325.0" y="164.0">R²=0.85 (Explained variance is 85%)</text>
<text x="1325.0" y="199.5">n= 202,847</text>
<text x="1722.0" y="676.0" text-anchor="middle">cell volume (µm³)</text>
<text x="1380.0" y="688.5" text-anchor="middle">1160</text>
<text x="1512.5" y="688.5" text-anchor="middle">2320</text>
<text x="1234.0" y="392.0" text-anchor="middle" transform="rotate(-90 1234.0 392.0)">nuclear volume (µm³)</text>
<text x="1197.0" y="698.0" font-size="50" font-weight="bold">c</text>
<text x="1431.7" y="732.4" text-anchor="middle">endosomes</text>
<clipPath id="cc0"><rect x="1349" y="737.5" width="165.29999999999995" height="132.5"/></clipPath>
<g clip-path="url(#cc0)">
<path d="M1349.0 812.0 L1398.6 809.0 L1439.9 803.0 L1468.0 790.0 L1481.2 783.0 L1497.8 785.0 L1514.3 791.0 L1514.3 870 L1349 870 Z" fill="#7f7f7f"/>
<line x1="1431.7" y1="737.5" x2="1431.7" y2="870.0" stroke="#b4b4b4" stroke-width="2" />
<line x1="1349.0" y1="759.7" x2="1514.3" y2="759.7" stroke="#b4b4b4" stroke-width="2" />
<line x1="1349.0" y1="803.8" x2="1514.3" y2="803.8" stroke="#b4b4b4" stroke-width="2" />
<line x1="1349.0" y1="848.0" x2="1514.3" y2="848.0" stroke="#b4b4b4" stroke-width="2" />
<line x1="1349.0" y1="846.0" x2="1514.3" y2="757.6" stroke="#000" stroke-width="6.5" stroke-dasharray="16 7"/>
<line x1="1349.0" y1="848.0" x2="1514.3" y2="827.0" stroke="#f7c35a" stroke-width="6.5" />
</g>
<text x="1357.0" y="768.0" fill="#1e5a30">24%</text>
<rect x="1349.0" y="737.5" width="165.3" height="132.5" fill="none" stroke="#000" stroke-width="2.5"/>
<line x1="1343.0" y1="759.7" x2="1349.0" y2="759.7" stroke="#000" stroke-width="2" />
<line x1="1343.0" y1="803.8" x2="1349.0" y2="803.8" stroke="#000" stroke-width="2" />
<line x1="1343.0" y1="848.0" x2="1349.0" y2="848.0" stroke="#000" stroke-width="2" />
<line x1="1349.0" y1="870.0" x2="1349.0" y2="877.0" stroke="#000" stroke-width="2" />
<line x1="1431.7" y1="870.0" x2="1431.7" y2="877.0" stroke="#000" stroke-width="2" />
<line x1="1514.3" y1="870.0" x2="1514.3" y2="877.0" stroke="#000" stroke-width="2" />
<text x="1616.3" y="732.4" text-anchor="middle">peroxisomes</text>
<clipPath id="cc1"><rect x="1533.6" y="737.5" width="165.4000000000001" height="132.5"/></clipPath>
<g clip-path="url(#cc1)">
<path d="M1533.6 870 L1533.6 819 1533.6 819.0 L1558.4 806.0 L1586.5 791.0 L1616.3 777.0 L1636.1 766.0 L1652.7 756.0 L1669.2 744.0 L1687.4 737.0 L1699 737.5 1699.0 820.0 L1669.2 825.5 L1636.1 832.0 L1603.1 839.0 L1583.2 846.0 L1570.0 852.0 L1547.7 862.0 L1538.6 871.0 Z" fill="#7f7f7f"/>
<line x1="1616.3" y1="737.5" x2="1616.3" y2="870.0" stroke="#b4b4b4" stroke-width="2" />
<line x1="1533.6" y1="759.7" x2="1699.0" y2="759.7" stroke="#b4b4b4" stroke-width="2" />
<line x1="1533.6" y1="803.8" x2="1699.0" y2="803.8" stroke="#b4b4b4" stroke-width="2" />
<line x1="1533.6" y1="848.0" x2="1699.0" y2="848.0" stroke="#b4b4b4" stroke-width="2" />
<line x1="1533.6" y1="848.0" x2="1699.0" y2="759.7" stroke="#f7c35a" stroke-width="6.5" />
</g>
<text x="1541.6" y="768.0" fill="#1e5a30">100%</text>
<rect x="1533.6" y="737.5" width="165.4" height="132.5" fill="none" stroke="#000" stroke-width="2.5"/>
<line x1="1527.6" y1="759.7" x2="1533.6" y2="759.7" stroke="#000" stroke-width="2" />
<line x1="1527.6" y1="803.8" x2="1533.6" y2="803.8" stroke="#000" stroke-width="2" />
<line x1="1527.6" y1="848.0" x2="1533.6" y2="848.0" stroke="#000" stroke-width="2" />
<line x1="1533.6" y1="870.0" x2="1533.6" y2="877.0" stroke="#000" stroke-width="2" />
<line x1="1616.3" y1="870.0" x2="1616.3" y2="877.0" stroke="#000" stroke-width="2" />
<line x1="1699.0" y1="870.0" x2="1699.0" y2="877.0" stroke="#000" stroke-width="2" />
<text x="1800.0" y="732.4" text-anchor="middle">mitochondria</text>
<clipPath id="cc2"><rect x="1717" y="737.5" width="166" height="132.5"/></clipPath>
<g clip-path="url(#cc2)">
<path d="M1717.0 825.0 L1766.8 804.0 L1816.6 784.0 L1858.1 764.0 L1883.0 750.0 L1883.0 806.0 L1833.2 822.0 L1783.4 838.0 L1741.9 850.0 L1717.0 857.0 Z" fill="#7f7f7f"/>
<line x1="1800.0" y1="737.5" x2="1800.0" y2="870.0" stroke="#b4b4b4" stroke-width="2" />
<line x1="1717.0" y1="759.7" x2="1883.0" y2="759.7" stroke="#b4b4b4" stroke-width="2" />
<line x1="1717.0" y1="803.8" x2="1883.0" y2="803.8" stroke="#b4b4b4" stroke-width="2" />
<line x1="1717.0" y1="848.0" x2="1883.0" y2="848.0" stroke="#b4b4b4" stroke-width="2" />
<line x1="1717.0" y1="845.8" x2="1883.0" y2="757.5" stroke="#000" stroke-width="6.5" stroke-dasharray="16 7"/>
<line x1="1717.0" y1="848.8" x2="1883.0" y2="774.4" stroke="#f7c35a" stroke-width="6.5" />
</g>
<text x="1725.0" y="768.0" fill="#1e5a30">83%</text>
<rect x="1717.0" y="737.5" width="166.0" height="132.5" fill="none" stroke="#000" stroke-width="2.5"/>
<line x1="1711.0" y1="759.7" x2="1717.0" y2="759.7" stroke="#000" stroke-width="2" />
<line x1="1711.0" y1="803.8" x2="1717.0" y2="803.8" stroke="#000" stroke-width="2" />
<line x1="1711.0" y1="848.0" x2="1717.0" y2="848.0" stroke="#000" stroke-width="2" />
<line x1="1717.0" y1="870.0" x2="1717.0" y2="877.0" stroke="#000" stroke-width="2" />
<line x1="1800.0" y1="870.0" x2="1800.0" y2="877.0" stroke="#000" stroke-width="2" />
<line x1="1883.0" y1="870.0" x2="1883.0" y2="877.0" stroke="#000" stroke-width="2" />
<line x1="1255.0" y1="737.5" x2="1255.0" y2="928.0" stroke="#000" stroke-width="2.5" />
<line x1="1255.0" y1="928.0" x2="1506.0" y2="928.0" stroke="#000" stroke-width="2.5" />
<line x1="1255.0" y1="759.7" x2="1262.0" y2="759.7" stroke="#000" stroke-width="2" />
<line x1="1255.0" y1="832.0" x2="1262.0" y2="832.0" stroke="#000" stroke-width="2" />
<line x1="1255.0" y1="894.0" x2="1262.0" y2="894.0" stroke="#000" stroke-width="2" />
<line x1="1255.0" y1="928.0" x2="1255.0" y2="936.0" stroke="#000" stroke-width="2" />
<line x1="1381.0" y1="928.0" x2="1381.0" y2="936.0" stroke="#000" stroke-width="2" />
<line x1="1506.0" y1="928.0" x2="1506.0" y2="936.0" stroke="#000" stroke-width="2" />
<text x="1259.0" y="777.0" fill="#8a8a8a">100%</text>
<text x="1259.0" y="841.0" fill="#8a8a8a">50%</text>
<text x="1259.0" y="903.0" fill="#8a8a8a">0%</text>
<text x="1381.0" y="921.5" text-anchor="middle" fill="#8a8a8a">50%</text>
<text x="1506.0" y="921.5" text-anchor="middle" fill="#8a8a8a">100%</text>
<text x="1254.0" y="961.3" text-anchor="middle">1160</text>
<text x="1379.5" y="961.3" text-anchor="middle">1740</text>
<text x="1505.0" y="961.3" text-anchor="middle">2320</text>
<text x="1377.0" y="988.6" text-anchor="middle">cell volume (µm³)</text>
<text x="1246.5" y="833.0" text-anchor="middle" transform="rotate(-90 1246.5 833.0)">scaling rate (%)</text>
<text x="1641.5" y="945.0" text-anchor="middle">IQR</text>
<line x1="1676.4" y1="903.0" x2="1676.4" y2="969.7" stroke="#000" stroke-width="2" />
<line x1="1671.0" y1="903.0" x2="1682.0" y2="903.0" stroke="#000" stroke-width="2" />
<line x1="1671.0" y1="969.7" x2="1682.0" y2="969.7" stroke="#000" stroke-width="2" />
<rect x="1692.8" y="901.0" width="79.0" height="67.5" fill="#7f7f7f"/>
<line x1="1694.0" y1="924.8" x2="1771.0" y2="924.8" stroke="#000" stroke-width="6" stroke-dasharray="29 8"/>
<line x1="1692.0" y1="945.8" x2="1773.0" y2="945.8" stroke="#f7c35a" stroke-width="6" />
<text x="1777.0" y="933.0">unit line</text>
<text x="1777.0" y="955.0">scaling</text>
<text x="9.0" y="1030.0" font-size="50" font-weight="bold">d</text>
<path d="M75.3 1090.0H74.9V1096.1H74.7V1102.2H74.5V1108.2H74.2V1114.3H73.9V1120.4H73.5V1126.5H73.0V1132.6H72.2V1138.6H71.5V1144.7H70.6V1150.8H69.0V1156.9H67.9V1163.0H66.1V1169.0H64.5V1175.1H62.2V1181.2H60.5V1187.3H57.3V1193.4H54.1V1199.4H51.8V1205.5H48.2V1211.6H45.1V1217.7H43.4V1223.8H38.2V1229.8H35.6V1235.9H33.6V1242.0H31.8V1248.1H26.3V1254.2H25.8V1260.2H23.2V1266.3H21.4V1272.4H21.5V1278.5H20.6V1284.6H23.9V1290.6H24.6V1296.7H29.2V1302.8H31.5V1308.9H36.4V1315.0H43.4V1321.0H48.0V1327.1H52.4V1333.2H55.6V1339.3H60.2V1345.4H63.4V1351.4H66.5V1357.5H68.7V1363.6H70.5V1369.7H71.9V1375.8H72.9V1381.8H73.7V1387.9H74.2V1394.0H75.3Z" fill="#c6c6c6"/>
<path d="M95.0 1394.5V1398.9H100.7V1400.5H106.4V1402.8H112.1V1405.2H117.8V1408.1H123.5V1412.2H129.2V1417.2H134.9V1421.5H140.6V1426.2H146.3V1429.5H152.0V1434.9H157.7V1438.0H163.4V1441.0H169.1V1443.1H174.8V1445.0H180.5V1448.3H186.2V1447.4H191.9V1446.4H197.6V1444.8H203.3V1440.6H209.0V1438.7H214.7V1437.1H220.4V1434.5H226.1V1431.6H231.8V1428.4H237.5V1423.1H243.2V1421.1H248.9V1418.1H254.6V1414.8H260.3V1411.6H266.0V1409.4H271.7V1406.7H277.4V1405.4H283.1V1403.5H288.8V1401.7H294.5V1400.2H300.2V1399.3H305.9V1398.2H311.6V1397.4H317.3V1396.8H323.0V1396.2H328.7V1395.8H334.4V1395.5H340.1V1395.2H345.8V1395.0H351.5V1394.9H357.2V1394.8H362.9V1394.7H368.6V1394.6H374.3V1394.6H380.0V1394.5Z" fill="#c6c6c6"/>
<line x1="220.2" y1="1021.5" x2="220.2" y2="1394.5" stroke="#b4b4b4" stroke-width="2" />
<line x1="400.6" y1="1021.5" x2="400.6" y2="1394.5" stroke="#b4b4b4" stroke-width="2" />
<line x1="75.3" y1="1318.3" x2="463.5" y2="1318.3" stroke="#b4b4b4" stroke-width="2" />
<line x1="75.3" y1="1239.8" x2="463.5" y2="1239.8" stroke="#b4b4b4" stroke-width="2" />
<line x1="75.3" y1="1161.4" x2="463.5" y2="1161.4" stroke="#b4b4b4" stroke-width="2" />
<line x1="75.3" y1="1083.0" x2="463.5" y2="1083.0" stroke="#b4b4b4" stroke-width="2" />
<path d="M229 1175h0M269 1067h0M436 1060h0M370 1093h0M301 1186h0M248 1206h0M402 1083h0M389 1229h0M336 1107h0M345 1102h0M311 1145h0M384 1140h0M382 1253h0M234 1220h0M206 1117h0M381 1067h0M337 1172h0M359 1202h0M459 1026h0M340 1185h0M352 1063h0M350 1196h0M289 1068h0M318 1223h0M439 1143h0M337 1191h0M219 1240h0M332 1028h0M421 1093h0M182 1203h0M322 1277h0M283 1180h0M350 1166h0M394 1104h0M161 1116h0M435 1041h0M319 1186h0M206 1204h0M287 1209h0M440 1058h0M356 1096h0M254 1071h0M223 1172h0M431 1093h0M361 1185h0M423 1049h0M238 1246h0M294 1191h0M327 1173h0M261 1346h0M285 1193h0M412 1097h0M317 1038h0M311 1252h0M320 1064h0M242 1143h0M313 1239h0M369 1182h0M316 1068h0M375 1251h0M261 1149h0M443 1046h0M396 1179h0M234 1268h0M228 1158h0M327 1226h0M281 1079h0M317 1259h0M258 1210h0M412 1043h0M262 1122h0M326 1116h0M328 1071h0M284 1138h0M224 1176h0M237 1163h0M395 1093h0M269 1241h0M418 1158h0M303 1183h0M392 1101h0M349 1167h0M288 1203h0M250 1173h0M429 1188h0M423 1059h0M368 1175h0M279 1182h0M153 1243h0M352 1069h0M348 1049h0M335 1169h0M251 1180h0M280 1161h0M448 1086h0M309 1147h0M198 1181h0M319 1207h0M385 1148h0M414 1058h0M290 1160h0M429 1045h0M309 1197h0M430 1046h0M366 1184h0M453 1091h0M303 1194h0M319 1045h0M442 1048h0M397 1229h0M338 1096h0M363 1153h0M408 1070h0M264 1168h0M256 1153h0M328 1099h0M280 1185h0M361 1193h0M290 1201h0M305 1090h0M409 1084h0M215 1299h0M393 1037h0M283 1230h0M281 1111h0M200 1290h0M317 1203h0M362 1085h0M367 1226h0M293 1123h0M375 1212h0M375 1088h0M265 1222h0M286 1193h0M439 1113h0M424 1173h0M333 1057h0M359 1084h0M181 1171h0M375 1241h0M443 1110h0M323 1175h0M424 1097h0M221 1208h0M366 1091h0M304 1197h0M261 1173h0M403 1056h0M445 1110h0M190 1280h0M241 1206h0M382 1178h0M399 1187h0M310 1165h0M387 1154h0M327 1113h0M282 1107h0M390 1109h0M293 1159h0M384 1047h0M343 1237h0M395 1099h0M351 1098h0M282 1155h0M384 1153h0M281 1159h0M332 1170h0M361 1040h0M344 1073h0M371 1049h0" stroke="#8a3ac0" stroke-width="2.6" stroke-linecap="round" fill="none" opacity="0.85"/>
<path d="M250 1329h0M103 1347h0M270 1151h0M268 1285h0M170 1225h0M244 1330h0M123 1279h0M131 1284h0M144 1360h0M260 1144h0M313 1237h0M111 1326h0M322 1200h0M134 1269h0M330 1135h0M283 1267h0M242 1153h0M281 1157h0M116 1308h0M127 1349h0M305 1261h0M242 1325h0M290 1135h0M339 1129h0M137 1265h0M310 1107h0M196 1362h0M327 1130h0M236 1324h0M163 1357h0M291 1142h0M224 1185h0M107 1326h0M259 1144h0M159 1214h0M254 1323h0M134 1282h0M316 1212h0M127 1276h0M319 1232h0M126 1287h0M185 1357h0M132 1248h0M253 1317h0M114 1299h0M153 1352h0M134 1353h0M119 1284h0M114 1325h0M116 1355h0M256 1165h0M335 1174h0M124 1296h0M152 1251h0M284 1152h0M174 1360h0M192 1199h0M168 1232h0M321 1163h0M280 1280h0M318 1265h0M285 1153h0M134 1270h0M111 1323h0M343 1193h0M281 1292h0M142 1269h0M164 1362h0M303 1241h0M213 1357h0M322 1201h0M111 1351h0M129 1283h0M126 1262h0M147 1355h0M149 1258h0M224 1337h0M145 1264h0M277 1147h0M331 1132h0M172 1226h0M145 1363h0M325 1203h0M292 1272h0M183 1356h0M211 1351h0M267 1146h0M231 1177h0M161 1355h0M168 1368h0M343 1156h0M110 1357h0M313 1245h0M132 1272h0M336 1142h0M106 1277h0M261 1160h0M161 1236h0M267 1292h0M313 1111h0M131 1355h0M103 1345h0M318 1125h0M281 1149h0M270 1148h0M328 1122h0M219 1342h0M109 1368h0M124 1298h0M115 1360h0M332 1169h0M308 1096h0M266 1296h0M195 1358h0M117 1324h0M153 1246h0M193 1354h0M118 1282h0M157 1223h0M334 1173h0M298 1121h0M210 1187h0M315 1244h0M130 1352h0M115 1351h0M212 1186h0M337 1147h0M334 1164h0M207 1194h0M216 1353h0M342 1134h0M111 1337h0M143 1241h0M180 1356h0M138 1269h0M215 1190h0M113 1332h0M289 1269h0M315 1219h0M296 1253h0M332 1185h0M162 1216h0M292 1148h0M177 1359h0M172 1361h0M265 1144h0M229 1174h0M186 1355h0M319 1124h0M98 1336h0M315 1232h0M336 1154h0M327 1130h0M255 1158h0M231 1342h0M201 1189h0M317 1224h0M263 1164h0M116 1315h0M343 1122h0M114 1346h0M126 1353h0M268 1148h0M163 1222h0M154 1209h0M302 1258h0M212 1349h0M297 1251h0M329 1191h0M305 1116h0M242 1168h0M114 1327h0M176 1219h0M320 1210h0M216 1364h0M170 1223h0M286 1142h0M190 1204h0M232 1168h0M294 1141h0M324 1207h0M311 1228h0M321 1123h0M132 1362h0M259 1168h0M168 1356h0M308 1228h0M115 1351h0M316 1226h0M112 1329h0M213 1358h0M223 1335h0M321 1214h0M162 1239h0M156 1244h0M131 1268h0M293 1144h0M324 1195h0M334 1187h0M114 1278h0M132 1277h0M292 1263h0M174 1216h0M106 1342h0M98 1338h0M259 1311h0M104 1332h0M195 1204h0M181 1195h0M128 1268h0M114 1313h0M333 1170h0M236 1147h0M292 1148h0M174 1222h0M190 1203h0M216 1357h0M154 1247h0M117 1317h0M223 1364h0M179 1212h0M251 1314h0M313 1251h0M130 1356h0M342 1192h0M317 1240h0M341 1210h0M136 1352h0M146 1263h0M132 1271h0M292 1138h0M235 1333h0M167 1357h0M142 1266h0M238 1170h0M210 1185h0M336 1162h0M120 1359h0M341 1155h0M135 1257h0M177 1206h0M314 1232h0M234 1168h0M155 1247h0M303 1240h0M324 1267h0M126 1260h0M335 1176h0M190 1354h0M115 1336h0M157 1242h0M183 1174h0M229 1341h0M259 1149h0M245 1160h0M260 1313h0M175 1370h0M330 1214h0M113 1319h0M143 1268h0M117 1305h0M271 1305h0M169 1354h0M326 1200h0M139 1354h0M273 1152h0M156 1357h0M304 1264h0M239 1328h0M135 1347h0M303 1252h0M108 1358h0M297 1129h0M167 1356h0M219 1353h0M119 1365h0M114 1346h0M116 1315h0M158 1228h0M337 1172h0M331 1215h0M333 1148h0M298 1127h0M186 1212h0M307 1121h0M261 1320h0M219 1186h0M230 1171h0M354 1215h0M251 1159h0M215 1346h0M238 1336h0M190 1362h0M150 1239h0M318 1252h0M346 1191h0M342 1168h0M219 1186h0M313 1215h0M320 1121h0M157 1235h0M334 1142h0M138 1269h0M248 1316h0M333 1136h0M114 1353h0M335 1149h0M128 1351h0M228 1179h0M172 1366h0M285 1147h0M146 1350h0M102 1332h0M302 1247h0M152 1231h0M327 1122h0M211 1353h0M172 1230h0M146 1360h0M290 1278h0M121 1305h0M111 1342h0M250 1311h0M219 1162h0M221 1165h0M176 1213h0M300 1260h0M334 1176h0M123 1302h0M150 1244h0M187 1210h0M133 1280h0M182 1221h0M193 1361h0M314 1124h0M156 1356h0M146 1254h0M338 1148h0M242 1169h0M123 1280h0M189 1199h0M160 1237h0M111 1326h0M311 1121h0M139 1273h0M260 1309h0M106 1345h0M125 1283h0M244 1147h0M195 1196h0M318 1121h0M204 1352h0M340 1143h0M188 1362h0M187 1195h0M138 1359h0M176 1229h0M175 1207h0M338 1140h0M143 1255h0M150 1243h0M156 1245h0M279 1279h0M290 1279h0M309 1122h0M115 1353h0M256 1300h0M251 1162h0M268 1287h0M179 1223h0M164 1355h0M235 1340h0M164 1369h0M190 1210h0M309 1233h0M150 1235h0M136 1265h0M291 1136h0M222 1349h0M219 1340h0M131 1354h0M295 1140h0M351 1197h0M282 1275h0M324 1124h0M306 1121h0M183 1365h0M293 1269h0M145 1353h0M132 1356h0M266 1157h0M312 1221h0M109 1371h0M274 1157h0M258 1301h0M194 1183h0M335 1156h0M228 1176h0M203 1183h0M123 1304h0M169 1228h0M232 1176h0M300 1270h0M345 1129h0M151 1231h0M211 1365h0M231 1175h0M147 1366h0M299 1249h0M302 1123h0M164 1361h0M300 1252h0M142 1353h0M163 1231h0M335 1126h0M257 1301h0M149 1254h0M156 1353h0M144 1251h0M242 1170h0M145 1360h0M141 1355h0M339 1137h0M114 1333h0M196 1175h0M272 1151h0M144 1259h0M302 1245h0M127 1291h0M260 1299h0M327 1203h0M303 1121h0M220 1181h0M282 1147h0M261 1289h0M141 1270h0M239 1168h0M337 1205h0M340 1171h0M302 1241h0M233 1333h0M176 1362h0M319 1209h0M333 1223h0M208 1184h0M131 1351h0M254 1305h0M148 1355h0M213 1184h0M245 1168h0M174 1226h0M114 1346h0M249 1318h0M180 1212h0M299 1143h0M264 1155h0M113 1332h0M199 1200h0M252 1346h0M130 1276h0M260 1296h0M113 1344h0M146 1247h0M193 1203h0M287 1143h0M134 1258h0M121 1300h0M203 1195h0M136 1353h0M273 1305h0M167 1234h0M164 1239h0M237 1166h0M263 1291h0M190 1208h0M250 1163h0M206 1196h0M201 1359h0M120 1296h0M193 1362h0M314 1223h0M135 1355h0M95 1331h0M329 1194h0M298 1126h0M262 1302h0M257 1346h0M131 1276h0M273 1156h0M171 1363h0M260 1296h0M183 1357h0M184 1359h0M260 1155h0M336 1145h0M172 1362h0M362 1186h0M196 1364h0M155 1235h0M165 1206h0M200 1351h0M244 1172h0M333 1163h0M118 1303h0M335 1114h0M275 1281h0M270 1155h0M172 1232h0M332 1177h0M301 1262h0M312 1249h0M174 1362h0M300 1129h0M182 1210h0M278 1283h0M197 1352h0M214 1182h0M316 1109h0M156 1355h0M122 1353h0M122 1374h0M317 1124h0M136 1264h0M211 1363h0M155 1363h0M168 1233h0M270 1283h0M181 1363h0M206 1357h0M189 1360h0M336 1167h0M167 1232h0M191 1203h0M315 1229h0M322 1206h0M245 1165h0M121 1266h0M341 1168h0M325 1156h0M113 1295h0M308 1246h0M150 1253h0M138 1269h0M321 1243h0M241 1172h0M281 1289h0M321 1218h0M167 1224h0M314 1245h0M205 1164h0M258 1330h0M207 1181h0M257 1164h0M235 1342h0M272 1155h0M137 1261h0M258 1310h0M194 1360h0M226 1168h0M167 1229h0M156 1242h0M207 1187h0M287 1270h0M339 1144h0M161 1215h0M184 1358h0M291 1269h0M294 1110h0M231 1340h0M337 1140h0M301 1288h0M302 1249h0M134 1269h0M293 1270h0M272 1289h0M228 1344h0M335 1155h0M295 1137h0M115 1340h0M104 1331h0M334 1179h0M249 1318h0M224 1170h0M158 1364h0M325 1191h0M217 1348h0M112 1330h0M303 1097h0M178 1222h0M351 1130h0M337 1163h0M118 1284h0M238 1175h0M302 1245h0M123 1356h0M113 1320h0M120 1358h0M294 1137h0M328 1118h0M336 1157h0M251 1320h0M302 1119h0M150 1253h0M158 1239h0M354 1123h0M189 1210h0M224 1341h0M321 1219h0M288 1144h0M190 1364h0M222 1341h0M164 1237h0M208 1194h0M122 1289h0M288 1145h0M300 1255h0M207 1351h0M154 1245h0M283 1281h0M273 1149h0M296 1250h0M295 1141h0M115 1334h0M112 1366h0M151 1236h0M296 1252h0M234 1174h0M327 1215h0M152 1378h0M134 1275h0M340 1160h0M174 1222h0M175 1356h0M226 1339h0M156 1375h0M172 1365h0M124 1284h0M234 1172h0M341 1129h0M141 1266h0M115 1289h0M307 1121h0M163 1360h0M183 1212h0M322 1224h0M192 1200h0M291 1256h0M216 1339h0M168 1358h0M122 1349h0M330 1209h0M127 1351h0M303 1252h0M307 1126h0M114 1284h0M114 1319h0M186 1216h0M123 1349h0M216 1183h0M166 1370h0M329 1190h0M276 1153h0M113 1341h0M227 1158h0M167 1231h0M332 1126h0M351 1145h0M143 1354h0M270 1286h0M112 1331h0M285 1276h0M298 1265h0M183 1358h0M116 1342h0M266 1307h0M122 1266h0M304 1234h0M211 1345h0M160 1240h0M143 1351h0M188 1366h0M117 1296h0M247 1318h0M124 1287h0M301 1138h0M340 1146h0M283 1267h0M178 1223h0M124 1271h0M112 1294h0M167 1218h0M165 1200h0M161 1240h0M182 1213h0M317 1217h0M336 1168h0M315 1120h0M259 1303h0M266 1302h0M114 1329h0" stroke="#9a28b4" stroke-width="2.6" stroke-linecap="round" fill="none" opacity="0.9"/>
<path d="M110.3 1347.2 L115.0 1314.2 L133.8 1278.9 L152.7 1246.0 L173.9 1227.1 L197.4 1198.9 L220.9 1184.8 L239.8 1170.6 L263.3 1161.2 L286.8 1147.1 L298.6 1125.9 L322.1 1118.9 L338.6 1142.4 L333.9 1173.0 L322.1 1203.6 L310.4 1231.8 L286.8 1267.1 L263.3 1290.7 L251.5 1314.2 L228.0 1337.7 L204.5 1354.2 L180.9 1358.9 L145.6 1354.2 L122.1 1349.5 Z" fill="#9416a6" filter="url(#bl2)"/>
<g clip-path="url(#bc2)">
<path d="M146.0 1326.0 L206.0 1272.0 L266.0 1220.0 L306.0 1180.0" fill="none" stroke="#c43e84" stroke-width="96" stroke-linecap="round" stroke-linejoin="round" filter="url(#bl10)"/>
<path d="M144.0 1326.0 L186.0 1290.0 L231.0 1248.0 L262.0 1222.0" fill="none" stroke="#ee7a52" stroke-width="74" stroke-linecap="round" stroke-linejoin="round" filter="url(#bl9)"/>
<path d="M154.0 1310.0 L182.0 1286.0 L210.0 1262.0" fill="none" stroke="#fbb52e" stroke-width="46" stroke-linecap="round" stroke-linejoin="round" filter="url(#bl7)"/>
<path d="M165.0 1296.0 L190.0 1274.0" fill="none" stroke="#f8ea38" stroke-width="22" stroke-linecap="round" stroke-linejoin="round" filter="url(#bl5)"/>
</g>
<text x="76.5" y="1327.8" fill="#a8a8a8">100</text>
<line x1="67.3" y1="1318.3" x2="75.3" y2="1318.3" stroke="#000" stroke-width="2.5" />
<text x="76.5" y="1249.3" fill="#a8a8a8">200</text>
<line x1="67.3" y1="1239.8" x2="75.3" y2="1239.8" stroke="#000" stroke-width="2.5" />
<text x="76.5" y="1170.9" fill="#a8a8a8">300</text>
<line x1="67.3" y1="1161.4" x2="75.3" y2="1161.4" stroke="#000" stroke-width="2.5" />
<text x="76.5" y="1092.5" fill="#a8a8a8">400</text>
<line x1="67.3" y1="1083.0" x2="75.3" y2="1083.0" stroke="#000" stroke-width="2.5" />
<text x="220.2" y="1388.7" text-anchor="middle" fill="#a8a8a8">2000</text>
<line x1="220.2" y1="1394.5" x2="220.2" y2="1402.5" stroke="#000" stroke-width="2.5" />
<text x="400.6" y="1388.7" text-anchor="middle" fill="#a8a8a8">4000</text>
<line x1="400.6" y1="1394.5" x2="400.6" y2="1402.5" stroke="#000" stroke-width="2.5" />
<line x1="91.3" y1="1346.7" x2="446.1" y2="1107.7" stroke="#808080" stroke-width="5" />
<path d="M268 1217 L280 1208 L290 1212 L300 1200 L310 1190 L318 1183" fill="none" stroke="#22e622" stroke-width="3.5" stroke-linejoin="round"/>
<rect x="75.3" y="1021.5" width="388.2" height="373.0" fill="none" stroke="#000" stroke-width="2.5"/>
<text x="156.5" y="1047.0">R²=0.54</text>
<text x="156.5" y="1076.0">n= 23,062</text>
<text x="267.0" y="1429.0" text-anchor="middle">cell volume (µm³)</text>
<text x="56.0" y="1209.0" text-anchor="middle" transform="rotate(-90 56.0 1209.0)">mitochondria vol (µm³)</text>
<text x="483.0" y="1028.0" font-size="50" font-weight="bold">e</text>
<path d="M557.2 1140.0H556.1V1145.6H555.9V1151.3H555.7V1156.9H555.4V1162.6H555.2V1168.2H554.3V1173.9H553.8V1179.5H552.8V1185.2H552.4V1190.8H551.0V1196.4H550.7V1202.1H548.5V1207.7H547.3V1213.4H546.5V1219.0H544.6V1224.7H542.3V1230.3H542.2V1236.0H538.7V1241.6H535.2V1247.2H535.8V1252.9H530.1V1258.5H528.3V1264.2H524.4V1269.8H525.8V1275.5H525.5V1281.1H516.6V1286.8H514.0V1292.4H515.4V1298.0H517.2V1303.7H514.3V1309.3H507.5V1315.0H510.3V1320.6H500.9V1326.3H504.7V1331.9H509.2V1337.6H503.2V1343.2H507.8V1348.8H502.7V1354.5H506.5V1360.1H515.1V1365.8H518.6V1371.4H523.4V1377.1H528.0V1382.7H532.2V1388.4H541.5V1394.0H557.2Z" fill="#c6c6c6"/>
<path d="M590.0 1395.4V1406.4H595.3V1408.3H600.7V1413.8H606.0V1413.8H611.3V1420.4H616.7V1422.9H622.0V1423.6H627.3V1431.7H632.7V1429.6H638.0V1437.3H643.3V1434.7H648.7V1436.5H654.0V1442.2H659.3V1448.1H664.7V1437.7H670.0V1438.4H675.3V1443.0H680.7V1445.9H686.0V1439.2H691.3V1435.0H696.7V1439.7H702.0V1426.8H707.3V1433.0H712.7V1424.8H718.0V1421.1H723.3V1418.6H728.7V1417.7H734.0V1418.6H739.3V1412.5H744.7V1412.4H750.0V1410.6H755.3V1407.6H760.7V1406.4H766.0V1403.5H771.3V1402.3H776.7V1401.5H782.0V1401.2H787.3V1399.9H792.7V1399.0H798.0V1398.6H803.3V1397.9H808.7V1397.3H814.0V1397.1H819.3V1396.7H824.7V1396.3H830.0V1395.4Z" fill="#c6c6c6"/>
<line x1="602.0" y1="1022.0" x2="602.0" y2="1395.4" stroke="#b4b4b4" stroke-width="2" />
<line x1="717.4" y1="1022.0" x2="717.4" y2="1395.4" stroke="#b4b4b4" stroke-width="2" />
<line x1="832.8" y1="1022.0" x2="832.8" y2="1395.4" stroke="#b4b4b4" stroke-width="2" />
<line x1="557.2" y1="1292.0" x2="946.4" y2="1292.0" stroke="#b4b4b4" stroke-width="2" />
<line x1="557.2" y1="1186.0" x2="946.4" y2="1186.0" stroke="#b4b4b4" stroke-width="2" />
<line x1="557.2" y1="1080.0" x2="946.4" y2="1080.0" stroke="#b4b4b4" stroke-width="2" />
<path d="M883 1286h0M850 1209h0M769 1151h0M908 1257h0M629 1101h0M684 1080h0M931 1325h0M688 1066h0M925 1372h0M600 1160h0M631 1126h0M933 1230h0M902 1229h0M749 1135h0M798 1139h0M639 1070h0M799 1143h0M680 1092h0M941 1329h0" stroke="#7e03a8" stroke-width="3.8" stroke-linecap="round" fill="none" opacity="1.0"/>
<path d="M759 1175h0M658 1162h0M720 1171h0M874 1379h0M878 1367h0M831 1248h0M660 1144h0M756 1192h0M764 1206h0M743 1158h0M671 1122h0M600 1175h0M917 1363h0M594 1199h0M712 1146h0M653 1163h0M664 1150h0M670 1144h0M737 1162h0M592 1188h0M677 1125h0M921 1343h0M875 1279h0M882 1385h0M623 1154h0M899 1361h0M870 1329h0M911 1370h0M886 1309h0M874 1363h0M824 1243h0M746 1180h0M900 1355h0M901 1368h0M786 1209h0M647 1167h0M848 1282h0M849 1279h0M861 1275h0M600 1168h0M688 1143h0M766 1192h0M835 1239h0M918 1345h0M686 1146h0M883 1310h0M694 1155h0M814 1240h0M607 1174h0" stroke="#8707a6" stroke-width="3.8" stroke-linecap="round" fill="none" opacity="1.0"/>
<path d="M851 1330h0M827 1266h0M841 1292h0M796 1263h0M801 1240h0M823 1292h0M793 1261h0M687 1176h0M849 1369h0M831 1287h0M666 1187h0M766 1227h0M761 1233h0M787 1250h0M715 1192h0M641 1180h0M843 1375h0M687 1181h0M710 1189h0M614 1214h0M844 1305h0M782 1240h0M782 1248h0M798 1255h0M850 1375h0M715 1176h0M813 1247h0M772 1224h0M828 1379h0M848 1369h0M727 1181h0M816 1255h0M610 1222h0M857 1356h0M861 1354h0M686 1170h0M717 1195h0M677 1174h0M610 1206h0M680 1185h0M853 1313h0M833 1280h0M869 1345h0M829 1286h0M647 1182h0M836 1289h0M844 1320h0M761 1209h0M807 1238h0M624 1195h0M732 1200h0" stroke="#8f0da4" stroke-width="3.8" stroke-linecap="round" fill="none" opacity="1.0"/>
<path d="M734 1219h0M818 1291h0M641 1200h0M801 1385h0M781 1272h0M837 1348h0M822 1374h0M800 1274h0M730 1221h0M728 1208h0M705 1198h0M613 1221h0M681 1204h0M597 1245h0M771 1257h0M748 1239h0M722 1219h0M839 1321h0M782 1260h0M776 1249h0M701 1201h0M827 1372h0M835 1362h0M835 1353h0M843 1344h0M630 1213h0M720 1210h0M760 1240h0M713 1200h0M753 1232h0M781 1265h0M680 1193h0M742 1219h0M845 1347h0M774 1391h0M646 1198h0M802 1285h0M763 1256h0M655 1202h0M744 1225h0M834 1341h0M714 1211h0M838 1360h0M815 1380h0M651 1199h0M609 1235h0M811 1302h0M597 1245h0M835 1367h0M822 1303h0" stroke="#99159f" stroke-width="3.8" stroke-linecap="round" fill="none" opacity="1.0"/>
<path d="M599 1262h0M766 1267h0M806 1374h0M794 1299h0M785 1378h0M729 1235h0M813 1312h0M822 1360h0M821 1358h0M802 1302h0M618 1230h0M639 1214h0M815 1319h0M698 1213h0M755 1260h0M639 1218h0M827 1328h0M742 1248h0M722 1225h0M703 1217h0M768 1262h0M785 1383h0M744 1248h0M815 1316h0M832 1358h0M693 1213h0M801 1306h0M633 1222h0M786 1293h0M819 1317h0M724 1228h0M777 1280h0M688 1207h0M825 1330h0M683 1213h0M807 1304h0M637 1211h0M788 1283h0M643 1208h0M798 1302h0M709 1218h0M788 1296h0M774 1385h0M692 1208h0M791 1376h0M680 1207h0M776 1269h0M721 1227h0M829 1347h0M708 1216h0" stroke="#a11b9b" stroke-width="3.8" stroke-linecap="round" fill="none" opacity="1.0"/>
<path d="M635 1227h0M794 1307h0M623 1235h0M810 1357h0M800 1311h0M816 1358h0M810 1357h0M750 1262h0M769 1380h0M726 1241h0M689 1223h0M815 1341h0M818 1350h0M731 1244h0M678 1218h0M796 1370h0M805 1359h0M658 1217h0M664 1215h0M800 1367h0M665 1217h0M652 1219h0M770 1281h0M821 1348h0M777 1292h0M707 1231h0M757 1273h0M809 1326h0M594 1281h0M740 1256h0M806 1365h0M625 1234h0M738 1252h0M822 1346h0M640 1220h0M622 1238h0M813 1341h0M617 1245h0M683 1214h0M774 1287h0M752 1265h0M813 1340h0M815 1327h0M694 1218h0M818 1353h0M818 1341h0M801 1369h0M808 1357h0M651 1217h0" stroke="#aa2395" stroke-width="3.8" stroke-linecap="round" fill="none" opacity="1.0"/>
<path d="M813 1342h0M659 1222h0M756 1276h0M791 1367h0M715 1240h0M689 1229h0M597 1288h0M761 1286h0M736 1260h0M799 1328h0M672 1220h0M652 1224h0M721 1245h0M796 1325h0M802 1339h0M799 1327h0M702 1236h0M627 1236h0M741 1390h0M763 1286h0M611 1259h0M709 1242h0M695 1231h0M645 1226h0M797 1326h0M779 1304h0M631 1231h0M771 1377h0M752 1385h0M803 1348h0M620 1246h0M800 1347h0M653 1228h0M794 1364h0M667 1222h0M792 1322h0M723 1248h0M789 1363h0M661 1220h0M803 1337h0M734 1261h0M803 1347h0M807 1356h0M735 1258h0M702 1239h0M591 1369h0M795 1356h0M799 1354h0M641 1232h0M624 1240h0M799 1327h0" stroke="#b12a90" stroke-width="3.8" stroke-linecap="round" fill="none" opacity="1.0"/>
<path d="M792 1344h0M668 1229h0M655 1232h0M791 1338h0M708 1251h0M693 1240h0M795 1344h0M775 1312h0M779 1366h0M702 1240h0M709 1252h0M666 1227h0M647 1236h0M746 1278h0M787 1342h0M610 1388h0M665 1234h0M614 1260h0M790 1321h0M714 1252h0M789 1331h0M794 1334h0M732 1264h0M772 1372h0M654 1235h0M600 1288h0M795 1337h0M780 1317h0M782 1364h0M621 1251h0M685 1237h0M785 1355h0M784 1352h0M754 1285h0M654 1235h0M604 1273h0M719 1256h0M751 1383h0M723 1259h0M763 1290h0M668 1230h0M778 1367h0M785 1353h0M735 1269h0M745 1277h0M638 1237h0M777 1317h0M685 1233h0M772 1308h0" stroke="#b7318a" stroke-width="3.8" stroke-linecap="round" fill="none" opacity="1.0"/>
<path d="M618 1263h0M717 1265h0M752 1379h0M775 1359h0M782 1343h0M745 1285h0M702 1254h0M769 1361h0M616 1268h0M762 1371h0M595 1363h0M737 1274h0M768 1313h0M760 1303h0M657 1236h0M775 1323h0M769 1317h0M615 1263h0M602 1292h0M778 1335h0M649 1241h0M670 1235h0M715 1264h0M609 1272h0M662 1236h0M697 1249h0M781 1350h0M614 1270h0M735 1275h0M632 1249h0M770 1365h0M670 1242h0M726 1268h0M738 1386h0M758 1296h0M776 1329h0M631 1251h0M640 1243h0M725 1270h0M773 1359h0M598 1369h0M764 1302h0M684 1247h0M676 1242h0M779 1342h0M773 1363h0M665 1238h0M777 1332h0M771 1320h0M680 1239h0M751 1292h0M778 1327h0M768 1314h0M775 1323h0M763 1367h0" stroke="#bf3984" stroke-width="3.8" stroke-linecap="round" fill="none" opacity="1.0"/>
<path d="M680 1246h0M699 1258h0M697 1391h0M617 1269h0M728 1384h0M773 1340h0M617 1387h0M743 1292h0M617 1387h0M660 1246h0M616 1270h0M599 1359h0M751 1297h0M606 1287h0M648 1248h0M714 1269h0M773 1340h0M771 1323h0M776 1332h0M676 1247h0M769 1348h0M607 1282h0M614 1275h0M735 1383h0M713 1389h0M760 1312h0M649 1247h0M708 1261h0M731 1277h0M702 1261h0M772 1338h0M739 1290h0M739 1290h0M759 1368h0M615 1270h0M664 1244h0M772 1344h0M766 1314h0M762 1309h0M716 1272h0M769 1347h0M679 1246h0M772 1336h0M707 1265h0M760 1305h0M687 1252h0M763 1366h0M698 1258h0M763 1310h0M699 1260h0M700 1262h0M775 1336h0M658 1245h0M699 1262h0M696 1257h0M688 1255h0M753 1370h0M675 1245h0M749 1297h0" stroke="#c5407e" stroke-width="3.8" stroke-linecap="round" fill="none" opacity="1.0"/>
<path d="M675 1252h0M614 1279h0M742 1376h0M745 1298h0M600 1319h0M739 1291h0M613 1381h0M631 1264h0M756 1312h0M664 1255h0M656 1251h0M635 1258h0M717 1385h0M644 1254h0M598 1326h0M735 1289h0M763 1322h0M686 1258h0M661 1253h0M640 1256h0M645 1253h0M625 1266h0M628 1391h0M731 1284h0M741 1377h0M734 1379h0M616 1277h0M661 1250h0M645 1255h0M617 1274h0M603 1308h0M766 1334h0M732 1382h0M636 1261h0M695 1261h0M601 1311h0M650 1255h0M747 1372h0M748 1370h0M742 1297h0M668 1255h0M685 1256h0M695 1262h0M740 1295h0M725 1384h0M760 1317h0M688 1256h0M647 1254h0M600 1355h0M735 1378h0M729 1286h0M612 1282h0M601 1309h0M698 1264h0M680 1258h0M737 1293h0M732 1290h0M743 1295h0M735 1292h0" stroke="#cc4778" stroke-width="3.8" stroke-linecap="round" fill="none" opacity="1.0"/>
<path d="M742 1300h0M619 1277h0M762 1350h0M750 1311h0M660 1256h0M756 1356h0M673 1261h0M664 1260h0M761 1347h0M752 1365h0M758 1355h0M668 1261h0M728 1379h0M610 1290h0M625 1271h0M741 1374h0M751 1361h0M657 1256h0M673 1258h0M622 1275h0M734 1298h0M757 1327h0M650 1261h0M634 1264h0M737 1376h0M653 1260h0M695 1268h0M633 1266h0M734 1375h0M717 1283h0M741 1372h0M603 1311h0M701 1271h0M737 1300h0M722 1380h0M711 1279h0M615 1380h0M693 1269h0M739 1301h0M758 1333h0M604 1311h0M685 1264h0M707 1385h0M634 1266h0M636 1263h0M762 1346h0M629 1388h0M728 1289h0M749 1368h0M741 1303h0M753 1364h0M688 1389h0M674 1258h0M762 1336h0M601 1352h0M614 1379h0M643 1261h0M722 1284h0" stroke="#d14e72" stroke-width="3.8" stroke-linecap="round" fill="none" opacity="1.0"/>
<path d="M726 1296h0M695 1274h0M753 1350h0M713 1285h0M639 1267h0M691 1271h0M666 1262h0M700 1275h0M721 1292h0M691 1386h0M634 1388h0M733 1373h0M625 1385h0M688 1387h0M699 1277h0M655 1265h0M618 1380h0M601 1332h0M753 1356h0M739 1371h0M746 1316h0M647 1391h0M687 1267h0M650 1266h0M705 1281h0M757 1341h0M664 1261h0M602 1333h0M625 1384h0M752 1358h0M755 1346h0M657 1263h0M621 1281h0M647 1266h0M724 1291h0M604 1327h0M616 1290h0M751 1324h0M609 1302h0M664 1263h0M692 1270h0M753 1356h0M684 1387h0M752 1355h0M749 1318h0M731 1375h0M682 1268h0M724 1291h0M743 1313h0M631 1273h0M638 1268h0M621 1383h0M727 1375h0M754 1348h0M755 1339h0M722 1291h0M754 1347h0M616 1288h0M618 1283h0" stroke="#d6556d" stroke-width="3.8" stroke-linecap="round" fill="none" opacity="1.0"/>
<path d="M741 1312h0M749 1347h0M621 1285h0M742 1313h0M711 1288h0M742 1363h0M703 1381h0M747 1354h0M754 1341h0M633 1276h0M748 1359h0M613 1373h0M605 1328h0M663 1268h0M736 1310h0M741 1364h0M731 1373h0M750 1348h0M724 1376h0M748 1330h0M752 1334h0M725 1299h0M738 1309h0M620 1286h0M611 1370h0M604 1335h0M704 1283h0M714 1288h0M725 1373h0M641 1269h0M608 1363h0M747 1354h0M700 1279h0M617 1375h0M748 1325h0M607 1363h0M628 1279h0M614 1299h0M717 1378h0M721 1297h0M603 1349h0M609 1308h0M622 1285h0M706 1381h0M640 1272h0M664 1267h0M699 1278h0M670 1267h0M745 1362h0M753 1339h0M616 1376h0M721 1374h0M686 1272h0M668 1267h0M702 1382h0M667 1267h0M748 1328h0M747 1325h0M749 1334h0" stroke="#dc5d67" stroke-width="3.8" stroke-linecap="round" fill="none" opacity="1.0"/>
<path d="M635 1278h0M630 1280h0M726 1371h0M649 1271h0M717 1373h0M678 1276h0M746 1345h0M676 1275h0M716 1374h0M655 1272h0M739 1361h0M735 1363h0M610 1319h0M735 1366h0M739 1361h0M645 1272h0M743 1321h0M612 1308h0M736 1314h0M666 1271h0M744 1352h0M634 1280h0M714 1376h0M637 1278h0M742 1324h0M741 1360h0M679 1273h0M746 1338h0M745 1328h0M605 1341h0M735 1365h0M697 1285h0M724 1304h0M738 1317h0M710 1292h0M738 1318h0M696 1381h0M609 1319h0M637 1276h0M676 1385h0M707 1291h0M748 1333h0M741 1320h0M693 1282h0M609 1363h0M680 1385h0M612 1367h0M737 1315h0M609 1322h0M729 1370h0M611 1365h0M720 1300h0M620 1293h0M629 1279h0M632 1383h0M693 1382h0M695 1282h0M605 1338h0M735 1314h0" stroke="#e16462" stroke-width="3.8" stroke-linecap="round" fill="none" opacity="1.0"/>
<path d="M719 1300h0M739 1322h0M730 1312h0M718 1372h0M734 1315h0M711 1295h0M622 1291h0M613 1312h0M730 1310h0M712 1297h0M655 1275h0M744 1333h0M643 1278h0M636 1281h0M607 1344h0M744 1342h0M632 1381h0M690 1282h0M612 1317h0M704 1376h0M710 1374h0M716 1299h0M728 1368h0M609 1355h0M676 1279h0M738 1327h0M706 1376h0M706 1293h0M662 1276h0M684 1279h0M611 1320h0M737 1356h0M619 1299h0M743 1329h0M613 1364h0M608 1348h0M651 1386h0M631 1284h0M661 1386h0M687 1281h0M614 1309h0M730 1315h0M610 1323h0M608 1339h0M724 1308h0M615 1369h0M625 1292h0M624 1378h0M670 1385h0M609 1329h0M711 1374h0M660 1385h0M737 1357h0M622 1292h0M673 1278h0M608 1344h0M744 1348h0M694 1380h0M736 1362h0M620 1296h0M697 1378h0" stroke="#e66c5c" stroke-width="3.8" stroke-linecap="round" fill="none" opacity="1.0"/>
<path d="M610 1340h0M691 1289h0M613 1361h0M670 1280h0M669 1280h0M708 1372h0M626 1292h0M711 1298h0M703 1374h0M740 1334h0M661 1280h0M615 1363h0M610 1333h0M612 1319h0M610 1329h0M623 1373h0M620 1306h0M690 1287h0M653 1278h0M610 1342h0M667 1383h0M622 1297h0M722 1366h0M663 1281h0M737 1338h0M641 1383h0M738 1337h0M618 1307h0M709 1300h0M730 1318h0M733 1325h0M610 1336h0M717 1304h0M635 1287h0M735 1353h0M701 1294h0M709 1301h0M631 1287h0M666 1279h0M660 1277h0M712 1372h0M704 1294h0M675 1281h0M741 1339h0M627 1377h0M734 1358h0M689 1285h0M652 1281h0M722 1309h0M639 1283h0M621 1302h0M739 1342h0M715 1305h0M719 1306h0M721 1309h0M627 1379h0M676 1382h0M710 1372h0M627 1292h0M736 1330h0M644 1282h0M620 1304h0M726 1365h0" stroke="#ea7457" stroke-width="3.8" stroke-linecap="round" fill="none" opacity="1.0"/>
<path d="M733 1331h0M699 1295h0M728 1361h0M692 1291h0M649 1283h0M684 1289h0M687 1377h0M729 1359h0M736 1339h0M611 1341h0M621 1371h0M729 1358h0M635 1379h0M645 1286h0M679 1285h0M732 1331h0M625 1297h0M695 1294h0M675 1380h0M737 1344h0M733 1329h0M641 1286h0M736 1337h0M726 1359h0M710 1305h0M737 1339h0M613 1357h0M697 1294h0M677 1380h0M614 1325h0M634 1380h0M732 1325h0M730 1324h0M691 1290h0M668 1284h0M651 1284h0M736 1335h0M730 1358h0M640 1286h0M729 1321h0M676 1285h0M621 1305h0M725 1318h0M734 1349h0M692 1291h0M672 1286h0M628 1377h0M620 1309h0M732 1351h0M615 1359h0M647 1383h0M735 1340h0M652 1283h0M613 1328h0M618 1312h0M616 1364h0M612 1340h0M675 1286h0M682 1288h0M734 1348h0M617 1311h0M619 1308h0" stroke="#ee7b51" stroke-width="3.8" stroke-linecap="round" fill="none" opacity="1.0"/>
<path d="M657 1380h0M689 1376h0M630 1296h0M646 1380h0M626 1304h0M615 1352h0M713 1309h0M647 1288h0M647 1288h0M636 1377h0M727 1324h0M637 1377h0M685 1377h0M676 1289h0M658 1381h0M685 1377h0M616 1361h0M617 1320h0M703 1370h0M619 1317h0M696 1373h0M716 1315h0M639 1289h0M638 1378h0M658 1286h0M691 1296h0M648 1287h0M732 1339h0M729 1352h0M635 1292h0M617 1360h0M634 1292h0M674 1289h0M651 1287h0M649 1285h0M731 1348h0M724 1323h0M662 1284h0M634 1296h0M619 1313h0M716 1311h0M633 1294h0M713 1309h0M658 1380h0M695 1299h0M732 1348h0M628 1374h0M720 1360h0M725 1356h0M729 1337h0M730 1351h0M718 1316h0M718 1363h0M617 1324h0M687 1292h0M613 1347h0M701 1300h0M614 1350h0M729 1333h0M615 1354h0M685 1291h0M624 1304h0M636 1377h0M725 1354h0M646 1289h0M647 1381h0M633 1294h0" stroke="#f2844b" stroke-width="3.8" stroke-linecap="round" fill="none" opacity="1.0"/>
<path d="M648 1291h0M680 1292h0M726 1328h0M661 1288h0M689 1296h0M726 1336h0M651 1379h0M617 1352h0M633 1298h0M621 1319h0M699 1303h0M660 1289h0M728 1334h0M727 1347h0M709 1363h0M624 1368h0M633 1374h0M681 1375h0M729 1339h0M616 1329h0M632 1374h0M662 1379h0M722 1353h0M689 1372h0M634 1298h0M717 1317h0M723 1328h0M619 1324h0M619 1324h0M707 1308h0M650 1379h0M720 1324h0M726 1343h0M653 1290h0M724 1331h0M727 1349h0M686 1297h0M688 1374h0M624 1312h0M616 1329h0M634 1296h0M646 1291h0M728 1347h0M694 1371h0M713 1363h0M627 1308h0M725 1330h0M633 1297h0M696 1300h0M709 1310h0M725 1341h0M707 1308h0M728 1333h0M715 1360h0M719 1357h0M632 1301h0M660 1379h0M724 1349h0M692 1297h0M669 1291h0M631 1300h0M662 1290h0M710 1363h0M714 1317h0M725 1352h0M713 1362h0M616 1328h0M675 1290h0M629 1302h0M663 1287h0M687 1374h0M699 1369h0" stroke="#f58c46" stroke-width="3.8" stroke-linecap="round" fill="none" opacity="1.0"/>
<path d="M638 1374h0M629 1304h0M722 1345h0M624 1365h0M628 1309h0M637 1375h0M638 1297h0M668 1377h0M626 1310h0M677 1295h0M718 1355h0M642 1297h0M697 1369h0M709 1363h0M657 1291h0M666 1291h0M721 1347h0M621 1320h0M681 1296h0M626 1368h0M713 1317h0M720 1326h0M701 1309h0M644 1293h0M722 1351h0M704 1309h0M685 1372h0M680 1295h0M629 1370h0M706 1364h0M619 1330h0M626 1367h0M618 1354h0M654 1292h0M657 1292h0M635 1300h0M723 1332h0M625 1312h0M722 1345h0M638 1298h0M716 1358h0M630 1371h0M720 1329h0M714 1357h0M639 1297h0M640 1297h0M718 1354h0M641 1376h0M622 1320h0M617 1348h0M704 1309h0M616 1341h0M617 1340h0M638 1376h0M647 1293h0M656 1292h0M653 1293h0M722 1341h0M701 1366h0M628 1370h0M673 1293h0M617 1350h0M645 1293h0M622 1318h0M646 1294h0M628 1369h0M624 1365h0M698 1306h0M675 1294h0M712 1319h0M624 1315h0" stroke="#f89540" stroke-width="3.8" stroke-linecap="round" fill="none" opacity="1.0"/>
<path d="M715 1353h0M637 1373h0M655 1377h0M650 1375h0M624 1322h0M625 1317h0M625 1319h0M713 1356h0M657 1377h0M716 1334h0M624 1324h0M619 1350h0M703 1313h0M721 1333h0M711 1358h0M646 1375h0M697 1307h0M618 1336h0M653 1293h0M715 1333h0M624 1322h0M688 1304h0M682 1300h0M663 1377h0M629 1369h0M691 1304h0M674 1375h0M640 1302h0M716 1355h0M670 1298h0M698 1310h0M687 1303h0M620 1346h0M632 1371h0M703 1311h0M639 1304h0M694 1368h0M619 1350h0M708 1356h0M626 1315h0M620 1355h0M642 1373h0M702 1363h0M686 1301h0M681 1298h0M666 1295h0M628 1314h0M707 1357h0M656 1377h0M625 1363h0M624 1361h0M686 1370h0M637 1303h0M720 1341h0M706 1313h0M710 1321h0M715 1350h0M672 1374h0M715 1349h0M684 1302h0M689 1368h0M635 1304h0M704 1312h0M668 1375h0M620 1329h0M716 1347h0M655 1294h0M709 1356h0M710 1323h0M625 1316h0M627 1312h0M716 1332h0M717 1348h0M718 1351h0M622 1355h0M718 1348h0M632 1369h0M717 1329h0M638 1374h0M692 1368h0M676 1297h0M695 1306h0M719 1345h0M645 1299h0M621 1353h0M618 1338h0M686 1370h0M714 1327h0M635 1304h0M619 1345h0M688 1370h0" stroke="#fa9e3b" stroke-width="3.8" stroke-linecap="round" fill="none" opacity="1.0"/>
<path d="M622 1345h0M716 1344h0M715 1338h0M634 1368h0M621 1336h0M623 1350h0M632 1365h0M666 1299h0M710 1333h0M716 1342h0M713 1343h0M654 1300h0M673 1373h0M623 1332h0M698 1316h0M675 1300h0M707 1325h0M688 1308h0M632 1311h0M696 1313h0M693 1310h0M629 1364h0M628 1361h0M704 1324h0M645 1372h0M678 1371h0M677 1302h0M677 1370h0M640 1307h0M650 1374h0M635 1370h0M647 1302h0M623 1348h0M708 1350h0M637 1311h0M681 1370h0M640 1304h0M698 1361h0M710 1354h0M625 1327h0M688 1309h0M644 1372h0M635 1370h0M633 1310h0M694 1313h0M694 1364h0M624 1336h0M626 1324h0M653 1373h0M659 1300h0M707 1356h0M624 1336h0M702 1359h0M712 1341h0M695 1311h0M621 1338h0M701 1317h0M716 1342h0M701 1358h0M713 1337h0M659 1298h0M623 1335h0M699 1314h0M624 1354h0M632 1366h0M698 1359h0M671 1373h0M700 1360h0M701 1319h0M672 1300h0M669 1298h0M668 1298h0M690 1307h0M715 1335h0M631 1316h0M667 1373h0M707 1355h0M711 1350h0M711 1346h0M626 1357h0M710 1351h0M654 1373h0M640 1370h0M678 1370h0M714 1348h0M663 1300h0M716 1337h0M652 1374h0M687 1368h0M639 1372h0M625 1326h0M658 1301h0M638 1304h0M667 1300h0M636 1370h0M711 1351h0M674 1371h0M695 1362h0M627 1359h0M627 1325h0M628 1319h0" stroke="#fca636" stroke-width="3.8" stroke-linecap="round" fill="none" opacity="1.0"/>
<path d="M628 1355h0M694 1320h0M647 1307h0M625 1346h0M691 1316h0M708 1344h0M694 1317h0M630 1357h0M709 1341h0M627 1355h0M706 1333h0M707 1343h0M636 1316h0M626 1347h0M695 1357h0M708 1342h0M678 1307h0M626 1335h0M702 1323h0M630 1362h0M709 1332h0M691 1317h0M629 1361h0M702 1355h0M692 1314h0M706 1331h0M702 1325h0M630 1322h0M689 1314h0M697 1357h0M697 1357h0M655 1307h0M634 1316h0M686 1364h0M652 1371h0M684 1366h0M631 1362h0M685 1313h0M638 1368h0M641 1310h0M654 1371h0M660 1372h0M657 1304h0M671 1306h0M639 1367h0M640 1310h0M660 1304h0M666 1303h0M703 1325h0M656 1371h0M705 1328h0M709 1345h0M660 1302h0M687 1312h0M703 1354h0M699 1324h0M633 1320h0M659 1304h0M707 1343h0M656 1370h0M669 1369h0M626 1346h0M637 1368h0M676 1367h0M626 1354h0M698 1354h0M631 1324h0M651 1307h0M690 1316h0M705 1338h0M678 1307h0M628 1334h0M663 1370h0M706 1334h0M699 1358h0M710 1342h0M689 1364h0M699 1322h0M702 1325h0M627 1337h0M657 1303h0M666 1304h0M638 1313h0M704 1348h0M624 1344h0M680 1366h0M665 1306h0M706 1340h0M670 1307h0M700 1355h0M627 1355h0M679 1366h0M631 1360h0M657 1371h0M684 1311h0M647 1307h0M636 1314h0M702 1326h0M627 1333h0" stroke="#fdb130" stroke-width="3.8" stroke-linecap="round" fill="none" opacity="1.0"/>
<path d="M639 1318h0M652 1367h0M629 1345h0M665 1309h0M662 1310h0M631 1356h0M695 1325h0M703 1336h0M629 1350h0M664 1367h0M637 1363h0M633 1326h0M669 1310h0M659 1311h0M651 1309h0M671 1366h0M697 1351h0M697 1346h0M696 1328h0M675 1309h0M670 1367h0M697 1330h0M640 1364h0M654 1307h0M689 1357h0M654 1311h0M696 1351h0M681 1313h0M628 1353h0M645 1368h0M629 1349h0M666 1307h0M678 1365h0M696 1350h0M634 1359h0M632 1359h0M692 1322h0M629 1352h0M655 1370h0M630 1350h0M680 1312h0M652 1368h0M700 1329h0M656 1310h0M700 1341h0M672 1365h0M664 1369h0M629 1345h0M683 1317h0M627 1342h0M670 1368h0M688 1317h0M663 1309h0M632 1358h0M682 1362h0M683 1361h0M637 1322h0M631 1358h0M660 1309h0M694 1352h0M644 1367h0M696 1349h0M701 1347h0M631 1350h0M689 1322h0M690 1319h0M628 1339h0M656 1308h0M681 1362h0M663 1367h0M694 1355h0M692 1320h0M694 1324h0M628 1345h0M700 1332h0M697 1332h0M698 1329h0M659 1308h0M641 1316h0M637 1364h0M637 1319h0M672 1365h0M657 1369h0M701 1341h0M682 1313h0M631 1330h0M697 1334h0M703 1345h0M645 1314h0M646 1311h0M692 1324h0M638 1321h0M699 1350h0M667 1310h0M680 1314h0M665 1368h0M678 1315h0M680 1311h0M677 1365h0M703 1342h0M702 1349h0" stroke="#feba2c" stroke-width="3.8" stroke-linecap="round" fill="none" opacity="1.0"/>
<path d="M666 1365h0M685 1356h0M693 1348h0M695 1339h0M692 1347h0M692 1326h0M636 1332h0M672 1314h0M696 1334h0M691 1326h0M696 1347h0M679 1361h0M640 1360h0M658 1313h0M691 1348h0M690 1325h0M633 1353h0M633 1352h0M695 1345h0M682 1320h0M690 1327h0M667 1364h0M653 1366h0M689 1325h0M635 1353h0M669 1315h0M676 1314h0M650 1364h0M687 1355h0M638 1325h0M670 1315h0M636 1326h0M661 1365h0M644 1363h0M633 1352h0M638 1360h0M654 1315h0M678 1362h0M688 1324h0M689 1323h0M685 1320h0M670 1364h0M674 1317h0M631 1349h0M648 1317h0M688 1356h0M674 1362h0M660 1315h0M695 1334h0M656 1312h0M692 1328h0M695 1344h0M694 1349h0M696 1332h0M631 1348h0M694 1335h0M639 1326h0M686 1355h0M667 1313h0M670 1313h0M672 1362h0M644 1363h0M688 1324h0M649 1315h0M679 1319h0M684 1357h0M679 1316h0M674 1361h0M654 1366h0M655 1365h0M659 1365h0M681 1359h0M664 1313h0M666 1312h0M664 1366h0M685 1320h0M683 1322h0M683 1319h0M633 1332h0M635 1355h0M691 1331h0M676 1314h0M650 1317h0" stroke="#fdc527" stroke-width="3.8" stroke-linecap="round" fill="none" opacity="1.0"/>
<path d="M673 1360h0M680 1322h0M662 1318h0M687 1350h0M637 1356h0M641 1329h0M636 1351h0M634 1345h0M662 1318h0M691 1343h0M635 1340h0M636 1348h0M690 1337h0M668 1362h0M689 1333h0M687 1347h0M635 1343h0M686 1330h0M687 1327h0M636 1341h0M661 1318h0M688 1334h0M685 1350h0M658 1319h0M635 1352h0M692 1336h0M641 1359h0M646 1320h0M641 1326h0M661 1364h0M653 1362h0M675 1321h0M685 1353h0M637 1355h0M644 1325h0M640 1332h0M636 1339h0M678 1358h0M644 1325h0M678 1322h0M655 1364h0M685 1329h0M663 1317h0M637 1333h0M648 1322h0M660 1364h0M682 1356h0M633 1344h0M665 1316h0M672 1361h0M690 1339h0M691 1339h0M644 1323h0M642 1361h0M684 1324h0M660 1318h0M683 1355h0M639 1334h0M634 1348h0M661 1364h0M687 1350h0M656 1363h0M644 1326h0M677 1357h0M670 1320h0M689 1349h0M690 1339h0M684 1353h0M652 1318h0M688 1332h0M677 1357h0M685 1352h0M677 1358h0M687 1333h0M637 1356h0M642 1326h0M659 1316h0" stroke="#fcce25" stroke-width="3.8" stroke-linecap="round" fill="none" opacity="1.0"/>
<path d="M671 1356h0M676 1357h0M663 1360h0M676 1356h0M665 1319h0M662 1319h0M669 1324h0M674 1322h0M667 1322h0M654 1361h0M675 1326h0M654 1320h0M667 1321h0M652 1359h0M643 1356h0M649 1327h0M663 1362h0M647 1359h0M643 1331h0M647 1357h0M681 1351h0M668 1320h0M680 1354h0M662 1323h0M642 1355h0M656 1322h0M660 1322h0M667 1324h0M646 1359h0M685 1337h0M654 1325h0M683 1348h0M662 1321h0M668 1358h0M643 1354h0M662 1323h0M681 1352h0M665 1323h0M640 1338h0M685 1341h0M642 1357h0M645 1359h0M657 1360h0M650 1327h0M677 1353h0M683 1340h0M677 1328h0M649 1325h0M652 1361h0M686 1347h0M687 1339h0M650 1326h0M677 1355h0M637 1345h0M643 1357h0M675 1327h0M639 1347h0M673 1357h0M686 1338h0M652 1360h0M670 1325h0M638 1337h0M640 1343h0M681 1334h0M654 1324h0M669 1357h0M684 1332h0M643 1354h0M642 1352h0M653 1322h0M662 1322h0M679 1330h0M660 1322h0M643 1357h0M654 1323h0M655 1323h0M647 1358h0" stroke="#fad824" stroke-width="3.8" stroke-linecap="round" fill="none" opacity="1.0"/>
<path d="M646 1338h0M677 1343h0M651 1327h0M654 1326h0M675 1346h0M645 1347h0M659 1357h0M672 1326h0M651 1327h0M643 1352h0M671 1328h0M643 1347h0M648 1335h0M674 1353h0M644 1334h0M657 1325h0M644 1345h0M664 1359h0M658 1357h0M644 1353h0M665 1355h0M671 1353h0M642 1346h0M679 1338h0M649 1353h0M643 1348h0M647 1335h0M643 1333h0M655 1356h0M677 1342h0M682 1338h0M660 1359h0M652 1331h0M643 1344h0M649 1330h0M669 1325h0M643 1337h0M661 1325h0M653 1355h0M666 1325h0M650 1332h0M657 1325h0M673 1331h0M677 1332h0M643 1345h0M665 1328h0M678 1344h0M642 1336h0M668 1356h0M660 1356h0M645 1348h0M678 1330h0M668 1328h0M657 1359h0M647 1351h0M669 1330h0M644 1350h0M673 1329h0M645 1348h0M647 1353h0M674 1353h0M657 1326h0M642 1339h0M679 1342h0M672 1353h0M659 1356h0M678 1337h0M664 1358h0M667 1357h0M672 1351h0M675 1331h0M680 1342h0M647 1356h0M654 1358h0M643 1347h0M677 1346h0M654 1358h0" stroke="#f7e425" stroke-width="3.8" stroke-linecap="round" fill="none" opacity="1.0"/>
<path d="M653 1353h0M670 1332h0M664 1353h0M653 1349h0M655 1334h0M670 1344h0M654 1353h0M656 1351h0M653 1335h0M650 1335h0M655 1331h0M659 1352h0M649 1345h0M671 1347h0M651 1338h0M662 1354h0M675 1340h0M669 1346h0M649 1351h0M674 1342h0M650 1339h0M664 1351h0M647 1343h0M657 1332h0M649 1352h0M666 1353h0M668 1335h0M674 1341h0M662 1352h0M671 1335h0M668 1350h0M674 1343h0M652 1353h0M651 1339h0M650 1342h0M672 1345h0M658 1354h0M668 1335h0M668 1350h0M648 1349h0M653 1352h0M666 1333h0M654 1353h0M646 1343h0M647 1347h0M653 1349h0M664 1334h0M648 1351h0M649 1342h0M652 1348h0M669 1333h0M667 1330h0M668 1352h0M674 1335h0M658 1332h0M666 1336h0M666 1330h0M651 1336h0M670 1333h0M664 1351h0M659 1354h0M647 1351h0M663 1354h0M670 1336h0M659 1329h0M669 1349h0M653 1352h0M654 1351h0M647 1343h0M666 1350h0M667 1353h0M671 1346h0M663 1333h0M651 1340h0M664 1352h0M649 1341h0M647 1340h0" stroke="#f3ee27" stroke-width="3.8" stroke-linecap="round" fill="none" opacity="1.0"/>
<path d="M669 1342h0M666 1343h0M669 1341h0M657 1345h0M654 1337h0M668 1341h0M657 1350h0M669 1341h0M662 1345h0M667 1347h0M658 1338h0M668 1338h0M657 1346h0M658 1346h0M654 1347h0M669 1340h0M665 1343h0M663 1340h0M661 1336h0M663 1335h0M654 1339h0M661 1335h0M660 1348h0M653 1339h0M663 1341h0M657 1342h0M664 1343h0M657 1348h0M664 1340h0M664 1343h0M667 1344h0M662 1349h0M663 1346h0M664 1340h0M659 1343h0M667 1347h0M656 1342h0M662 1347h0" stroke="#f0f921" stroke-width="3.8" stroke-linecap="round" fill="none" opacity="1.0"/>
<text x="560.0" y="1301.5" fill="#a8a8a8">10</text>
<line x1="549.2" y1="1292.0" x2="557.2" y2="1292.0" stroke="#000" stroke-width="2.5" />
<text x="560.0" y="1195.5" fill="#a8a8a8">20</text>
<line x1="549.2" y1="1186.0" x2="557.2" y2="1186.0" stroke="#000" stroke-width="2.5" />
<text x="560.0" y="1089.5" fill="#a8a8a8">30</text>
<line x1="549.2" y1="1080.0" x2="557.2" y2="1080.0" stroke="#000" stroke-width="2.5" />
<text x="602.0" y="1388.7" text-anchor="middle" fill="#a8a8a8">1000</text>
<line x1="602.0" y1="1395.4" x2="602.0" y2="1403.4" stroke="#000" stroke-width="2.5" />
<text x="717.4" y="1388.7" text-anchor="middle" fill="#a8a8a8">2000</text>
<line x1="717.4" y1="1395.4" x2="717.4" y2="1403.4" stroke="#000" stroke-width="2.5" />
<text x="832.8" y="1388.7" text-anchor="middle" fill="#a8a8a8">3000</text>
<line x1="832.8" y1="1395.4" x2="832.8" y2="1403.4" stroke="#000" stroke-width="2.5" />
<line x1="573.2" y1="1323.6" x2="930.7" y2="1270.8" stroke="#808080" stroke-width="5" />
<path d="M632 1310 L641 1317 L650 1301 L656 1316 L662 1301 L668 1319 L674 1304 L680 1313 L686 1298 L695 1310 L701 1307" fill="none" stroke="#22e622" stroke-width="5" stroke-linejoin="round"/>
<rect x="557.2" y="1022.0" width="389.2" height="373.4" fill="none" stroke="#000" stroke-width="2.5"/>
<text x="607.0" y="1047.5">R²=0.02</text>
<text x="607.0" y="1073.0">n= 2,411</text>
<text x="749.0" y="1429.0" text-anchor="middle">cell volume (µm³)</text>
<text x="540.0" y="1205.0" text-anchor="middle" transform="rotate(-90 540.0 1205.0)">endosomes vol (µm³)</text>
<text x="11.0" y="1466.0" font-size="50" font-weight="bold">f</text>
<path d="M75.3 1520.0H75.1V1526.3H75.0V1532.6H74.9V1538.9H74.7V1545.2H74.5V1551.5H74.2V1557.8H73.8V1564.1H73.5V1570.4H73.0V1576.7H72.3V1583.0H71.7V1589.3H70.7V1595.6H69.5V1601.9H68.4V1608.2H66.7V1614.5H65.5V1620.8H63.6V1627.1H61.6V1633.4H58.8V1639.7H55.7V1646.0H53.4V1652.3H50.2V1658.6H48.0V1664.9H44.0V1671.2H42.6V1677.5H39.0V1683.8H34.9V1690.1H31.8V1696.4H30.3V1702.7H29.3V1709.0H26.7V1715.3H25.4V1721.6H24.0V1727.9H21.1V1734.2H23.6V1740.5H21.4V1746.8H23.3V1753.1H29.1V1759.4H31.2V1765.7H34.7V1772.0H40.4V1778.3H43.7V1784.6H47.1V1790.9H53.0V1797.2H56.1V1803.5H60.3V1809.8H62.9V1816.1H65.4V1822.4H68.2V1828.7H70.0V1835.0H75.3Z" fill="#c6c6c6"/>
<path d="M110.0 1835.7V1838.7H114.4V1839.7H118.8V1841.1H123.2V1842.6H127.6V1845.0H132.0V1847.5H136.4V1850.1H140.8V1852.6H145.2V1856.6H149.6V1859.9H154.0V1863.5H158.4V1869.1H162.8V1873.2H167.2V1873.8H171.6V1879.5H176.0V1881.1H180.4V1882.1H184.8V1882.7H189.2V1884.3H193.6V1883.1H198.0V1883.2H202.4V1881.8H206.8V1878.3H211.2V1878.5H215.6V1876.9H220.0V1874.3H224.4V1870.5H228.8V1866.2H233.2V1863.4H237.6V1861.0H242.0V1859.8H246.4V1855.9H250.8V1853.5H255.2V1851.8H259.6V1848.9H264.0V1847.2H268.4V1845.3H272.8V1843.5H277.2V1842.4H281.6V1841.3H286.0V1840.0H290.4V1839.2H294.8V1838.5H299.2V1837.9H303.6V1837.5H308.0V1837.1H312.4V1836.8H316.8V1836.5H321.2V1836.3H325.6V1836.1H330.0V1835.7Z" fill="#c6c6c6"/>
<line x1="222.2" y1="1461.2" x2="222.2" y2="1835.7" stroke="#b4b4b4" stroke-width="2" />
<line x1="392.5" y1="1461.2" x2="392.5" y2="1835.7" stroke="#b4b4b4" stroke-width="2" />
<line x1="75.3" y1="1816.3" x2="464.0" y2="1816.3" stroke="#b4b4b4" stroke-width="2" />
<line x1="75.3" y1="1758.3" x2="464.0" y2="1758.3" stroke="#b4b4b4" stroke-width="2" />
<line x1="75.3" y1="1700.4" x2="464.0" y2="1700.4" stroke="#b4b4b4" stroke-width="2" />
<line x1="75.3" y1="1642.4" x2="464.0" y2="1642.4" stroke="#b4b4b4" stroke-width="2" />
<line x1="75.3" y1="1584.4" x2="464.0" y2="1584.4" stroke="#b4b4b4" stroke-width="2" />
<line x1="75.3" y1="1526.4" x2="464.0" y2="1526.4" stroke="#b4b4b4" stroke-width="2" />
<line x1="75.3" y1="1468.4" x2="464.0" y2="1468.4" stroke="#b4b4b4" stroke-width="2" />
<path d="M276 1647h0M406 1474h0M391 1604h0M283 1543h0M256 1624h0M414 1515h0M347 1599h0M416 1501h0M402 1516h0M313 1560h0M450 1519h0M322 1615h0M277 1590h0M247 1503h0M340 1600h0M276 1544h0M396 1513h0M334 1618h0M340 1482h0M305 1630h0M393 1553h0M311 1660h0M430 1488h0M431 1527h0M400 1490h0M342 1625h0M420 1475h0M386 1545h0M222 1725h0M220 1722h0M341 1582h0M280 1486h0M395 1485h0M328 1509h0M356 1634h0M397 1559h0M278 1643h0M415 1614h0M365 1498h0M382 1626h0M400 1629h0M259 1644h0M318 1537h0M364 1570h0M271 1549h0M325 1595h0M241 1748h0M261 1619h0M321 1509h0M212 1640h0M328 1486h0M344 1598h0M303 1516h0M241 1652h0M342 1594h0M263 1626h0M426 1500h0M303 1538h0M383 1564h0M354 1622h0M361 1617h0M309 1497h0M387 1469h0M421 1465h0M324 1587h0M300 1552h0M381 1558h0M340 1592h0M400 1543h0M442 1566h0" stroke="#8a3ac0" stroke-width="2.6" stroke-linecap="round" fill="none" opacity="0.85"/>
<path d="M197 1638h0M170 1684h0M260 1705h0M217 1620h0M128 1797h0M239 1751h0M161 1820h0M332 1546h0M259 1596h0M237 1759h0M336 1598h0M303 1562h0M198 1645h0M143 1715h0M174 1679h0M157 1807h0M129 1772h0M295 1649h0M209 1805h0M265 1590h0M317 1631h0M322 1616h0M247 1607h0M139 1726h0M332 1597h0M253 1606h0M140 1722h0M127 1751h0M121 1801h0M332 1567h0M127 1781h0M198 1640h0M319 1618h0M178 1673h0M126 1742h0M244 1730h0M239 1608h0M215 1783h0M222 1618h0M260 1593h0M126 1776h0M228 1600h0M126 1801h0M323 1548h0M176 1661h0M342 1569h0M313 1641h0M146 1708h0M209 1607h0M129 1767h0M280 1700h0M289 1560h0M212 1620h0M127 1810h0M309 1559h0M233 1598h0M224 1781h0M324 1546h0M330 1584h0M171 1679h0M166 1687h0M202 1797h0M177 1662h0M154 1808h0M224 1771h0M175 1808h0M197 1651h0M253 1723h0M279 1685h0M125 1730h0M230 1764h0M318 1620h0M312 1619h0M338 1563h0M230 1754h0M174 1810h0M297 1675h0M127 1751h0M258 1752h0M333 1604h0M150 1710h0M168 1662h0M144 1808h0M128 1758h0M122 1794h0M335 1604h0M282 1689h0M122 1766h0M241 1732h0M289 1569h0M339 1600h0M131 1738h0M150 1809h0M224 1619h0M274 1691h0M191 1658h0M204 1797h0M229 1757h0M123 1805h0M188 1802h0M256 1711h0M316 1647h0M247 1728h0M308 1636h0M244 1606h0M271 1571h0M241 1735h0M273 1701h0M327 1597h0M342 1554h0M262 1710h0M248 1729h0M274 1570h0M290 1565h0M267 1704h0M135 1705h0M322 1616h0M329 1561h0M193 1657h0M216 1791h0M168 1670h0M146 1700h0M325 1599h0M291 1666h0M318 1551h0M331 1576h0M122 1782h0M311 1691h0M299 1647h0M338 1570h0M124 1748h0M305 1636h0M254 1717h0M294 1675h0M315 1554h0M237 1749h0M322 1614h0M281 1683h0M303 1560h0M256 1590h0M163 1686h0M270 1691h0M240 1602h0M260 1730h0M159 1808h0M324 1619h0M288 1571h0M270 1592h0M318 1545h0M309 1632h0M284 1670h0M161 1692h0M261 1712h0M153 1811h0M252 1734h0M334 1570h0M126 1768h0M234 1767h0M264 1707h0M123 1757h0M210 1794h0M126 1756h0M133 1713h0M243 1609h0M278 1580h0M297 1685h0M277 1579h0M215 1618h0M142 1703h0M308 1638h0M285 1569h0M176 1658h0M216 1782h0M221 1777h0M177 1669h0M300 1561h0M240 1776h0M238 1598h0M231 1616h0M307 1663h0M319 1616h0M315 1551h0M203 1643h0M226 1754h0M176 1668h0M237 1606h0M285 1565h0M306 1557h0M188 1640h0M313 1540h0M257 1589h0M211 1792h0M208 1636h0M130 1747h0M224 1788h0M162 1810h0M328 1542h0M258 1715h0M128 1750h0M191 1651h0M124 1791h0M126 1725h0M217 1620h0M303 1554h0M213 1802h0M206 1797h0M288 1669h0M160 1808h0M254 1600h0M135 1751h0M164 1662h0M321 1551h0M282 1685h0M302 1654h0M172 1806h0M329 1571h0M315 1552h0M305 1527h0M297 1649h0M243 1606h0M344 1562h0M177 1666h0M277 1580h0M323 1619h0M126 1763h0M294 1676h0M194 1636h0M254 1741h0M315 1547h0M290 1663h0M283 1568h0M293 1665h0M233 1612h0M300 1659h0M332 1578h0M274 1579h0M331 1602h0M109 1773h0M350 1554h0M152 1812h0M209 1631h0M360 1551h0M241 1608h0M129 1708h0M181 1667h0M162 1686h0M228 1613h0M119 1764h0M131 1717h0M345 1577h0M131 1770h0M149 1703h0M124 1812h0M180 1665h0M211 1607h0M345 1552h0M204 1795h0M263 1591h0M301 1657h0M185 1805h0M297 1676h0M125 1767h0M321 1610h0M324 1542h0M264 1707h0M254 1598h0M253 1751h0M173 1809h0M137 1716h0M256 1711h0M167 1809h0M217 1613h0M121 1796h0M316 1541h0M191 1645h0M101 1803h0M330 1579h0M281 1674h0M315 1531h0M267 1700h0M245 1730h0M337 1606h0M147 1706h0M300 1658h0M259 1583h0M126 1808h0M319 1616h0M266 1706h0M312 1644h0M192 1647h0M122 1795h0M258 1710h0M176 1669h0M252 1591h0M271 1577h0M249 1597h0M259 1592h0M148 1711h0M256 1735h0M317 1617h0M316 1624h0M336 1556h0M303 1549h0M127 1730h0M112 1775h0M324 1614h0M242 1602h0M212 1624h0M200 1799h0M199 1802h0M283 1674h0M242 1607h0M250 1607h0M280 1573h0M176 1662h0M341 1555h0M227 1775h0M171 1815h0M132 1749h0M300 1652h0M266 1709h0M307 1543h0M252 1725h0M355 1603h0M293 1560h0M121 1722h0M259 1718h0M196 1798h0M333 1542h0M303 1639h0M182 1662h0M101 1789h0M292 1665h0M291 1668h0M195 1656h0M199 1652h0M145 1717h0M341 1595h0M176 1669h0M238 1741h0M326 1543h0M304 1666h0M287 1699h0M230 1750h0M280 1579h0M124 1770h0M124 1804h0M264 1718h0M129 1767h0M321 1547h0M300 1661h0M243 1598h0M277 1582h0M279 1710h0M302 1648h0M238 1779h0M158 1692h0M174 1818h0M327 1619h0M158 1670h0M217 1783h0M200 1800h0M132 1725h0M215 1797h0M148 1703h0M251 1726h0M292 1693h0M179 1666h0M278 1677h0M285 1675h0M220 1620h0M226 1770h0M255 1600h0M150 1694h0M293 1564h0M120 1781h0M142 1694h0M335 1595h0M239 1748h0M161 1645h0M288 1571h0M129 1732h0M222 1768h0M244 1729h0M313 1630h0M223 1772h0M253 1603h0M304 1560h0M321 1546h0M183 1667h0M154 1703h0M259 1712h0M266 1582h0M283 1676h0M240 1604h0M191 1801h0M136 1700h0M339 1572h0M233 1744h0M329 1564h0M218 1615h0M153 1703h0M338 1608h0M227 1775h0M291 1555h0M145 1807h0M155 1696h0M209 1795h0M319 1614h0M326 1545h0M305 1638h0M316 1621h0M314 1557h0M340 1574h0M289 1668h0M143 1814h0M299 1557h0M324 1626h0M180 1816h0M328 1601h0M230 1769h0M183 1664h0M332 1555h0M331 1602h0M262 1713h0M193 1806h0M303 1652h0M248 1605h0M340 1557h0M236 1762h0M168 1685h0M243 1607h0M223 1590h0M300 1644h0M234 1767h0M237 1610h0M262 1736h0M205 1791h0M300 1559h0M233 1778h0M185 1669h0M332 1614h0M336 1566h0M256 1726h0M144 1806h0M215 1624h0M146 1666h0M235 1739h0M130 1747h0M332 1597h0M316 1542h0M120 1771h0M215 1619h0M298 1557h0M279 1683h0M256 1589h0M129 1767h0M228 1757h0M261 1717h0M201 1635h0M146 1811h0M289 1557h0M267 1703h0M192 1804h0M328 1602h0M202 1795h0M176 1674h0M324 1546h0M260 1593h0M282 1732h0M319 1616h0M275 1579h0M202 1810h0M345 1574h0M329 1550h0M230 1605h0M296 1651h0M259 1720h0M228 1779h0M308 1548h0M306 1662h0M326 1544h0M170 1810h0M183 1662h0M328 1603h0M236 1742h0M118 1805h0M195 1804h0M288 1568h0M258 1598h0M266 1590h0M185 1650h0M135 1746h0M334 1593h0M128 1781h0M205 1633h0M145 1715h0M132 1729h0M145 1710h0M232 1612h0M197 1795h0M228 1773h0M165 1680h0M284 1680h0M214 1790h0M153 1710h0M270 1590h0M199 1647h0M208 1619h0M177 1813h0M276 1696h0M142 1721h0M292 1687h0M171 1682h0M285 1568h0M269 1593h0M137 1729h0M276 1684h0M119 1815h0M290 1562h0M233 1757h0M250 1725h0M203 1639h0M191 1798h0M234 1769h0M125 1733h0M255 1601h0M193 1658h0M328 1604h0M192 1825h0M223 1594h0M300 1639h0M280 1579h0M192 1645h0M146 1715h0M307 1627h0M318 1620h0M301 1562h0M272 1698h0M205 1617h0M145 1818h0M290 1683h0M228 1610h0M159 1809h0M172 1669h0M310 1552h0M315 1627h0M182 1828h0M151 1703h0M169 1673h0M181 1814h0M311 1623h0M336 1558h0M301 1555h0M244 1740h0M142 1696h0M152 1805h0M212 1628h0M119 1791h0M284 1706h0M128 1740h0M202 1618h0M263 1592h0M299 1655h0M117 1761h0M153 1823h0M266 1716h0M252 1748h0M147 1706h0M133 1725h0M293 1556h0M239 1610h0M208 1791h0M142 1716h0M227 1592h0M279 1678h0M167 1688h0M332 1555h0M245 1741h0M297 1559h0M284 1577h0M203 1793h0M126 1799h0M144 1719h0M120 1756h0M249 1759h0M313 1551h0M224 1610h0M329 1590h0M302 1669h0M306 1637h0M228 1771h0M257 1601h0M294 1656h0M156 1699h0M107 1784h0M316 1630h0M256 1715h0M194 1796h0M141 1723h0" stroke="#9a28b4" stroke-width="2.6" stroke-linecap="round" fill="none" opacity="0.9"/>
<path d="M124.6 1805.3 L127.5 1761.8 L136.2 1724.2 L159.3 1695.2 L173.8 1675.0 L197.0 1651.7 L208.6 1628.6 L231.7 1611.2 L254.9 1599.6 L275.2 1582.2 L289.7 1564.8 L307.0 1556.2 L327.3 1544.6 L333.1 1579.3 L324.5 1608.3 L304.2 1637.3 L289.7 1666.2 L269.4 1695.2 L252.0 1724.2 L231.7 1747.3 L220.2 1782.1 L202.8 1796.6 L179.6 1808.2 L150.6 1811.1 Z" fill="#9416a6" filter="url(#bl2)"/>
<g clip-path="url(#bc3)">
<path d="M136.0 1800.0 L200.0 1725.0 L260.0 1650.0 L320.0 1575.0" fill="none" stroke="#c43e84" stroke-width="84" stroke-linecap="round" stroke-linejoin="round" filter="url(#bl9)"/>
<path d="M140.0 1796.0 L200.0 1725.0 L250.0 1662.0 L288.0 1622.0" fill="none" stroke="#ee7a52" stroke-width="62" stroke-linecap="round" stroke-linejoin="round" filter="url(#bl8)"/>
<path d="M150.0 1782.0 L195.0 1730.0 L238.0 1678.0" fill="none" stroke="#fbb52e" stroke-width="40" stroke-linecap="round" stroke-linejoin="round" filter="url(#bl6)"/>
<path d="M163.0 1766.0 L190.0 1735.0 L215.0 1705.0" fill="none" stroke="#f8ea38" stroke-width="20" stroke-linecap="round" stroke-linejoin="round" filter="url(#bl4_5)"/>
</g>
<text x="76.5" y="1825.8" fill="#a8a8a8">20</text>
<line x1="67.3" y1="1816.3" x2="75.3" y2="1816.3" stroke="#000" stroke-width="2.5" />
<text x="76.5" y="1767.8" fill="#a8a8a8">40</text>
<line x1="67.3" y1="1758.3" x2="75.3" y2="1758.3" stroke="#000" stroke-width="2.5" />
<text x="76.5" y="1709.9" fill="#a8a8a8">60</text>
<line x1="67.3" y1="1700.4" x2="75.3" y2="1700.4" stroke="#000" stroke-width="2.5" />
<text x="76.5" y="1651.9" fill="#a8a8a8">80</text>
<line x1="67.3" y1="1642.4" x2="75.3" y2="1642.4" stroke="#000" stroke-width="2.5" />
<text x="76.5" y="1593.9" fill="#a8a8a8">100</text>
<line x1="67.3" y1="1584.4" x2="75.3" y2="1584.4" stroke="#000" stroke-width="2.5" />
<text x="76.5" y="1535.9" fill="#a8a8a8">120</text>
<line x1="67.3" y1="1526.4" x2="75.3" y2="1526.4" stroke="#000" stroke-width="2.5" />
<text x="76.5" y="1477.9" fill="#a8a8a8">140</text>
<line x1="67.3" y1="1468.4" x2="75.3" y2="1468.4" stroke="#000" stroke-width="2.5" />
<text x="222.2" y="1826.0" text-anchor="middle" fill="#a8a8a8">2000</text>
<line x1="222.2" y1="1835.7" x2="222.2" y2="1843.7" stroke="#000" stroke-width="2.5" />
<text x="392.5" y="1826.0" text-anchor="middle" fill="#a8a8a8">4000</text>
<line x1="392.5" y1="1835.7" x2="392.5" y2="1843.7" stroke="#000" stroke-width="2.5" />
<line x1="92.1" y1="1829.3" x2="447.6" y2="1471.6" stroke="#808080" stroke-width="5" />
<path d="M145 1767.1 L152 1761.0 L165 1752.0 L180 1737.9 L200 1715.8 L220 1697.6 L240 1676.5 L260 1657.4 L275 1639.3 L283 1635.3 L292 1621.2 L300 1616.2" fill="none" stroke="#22e622" stroke-width="4.5" stroke-linejoin="round"/>
<rect x="75.3" y="1461.2" width="388.7" height="374.5" fill="none" stroke="#000" stroke-width="2.5"/>
<text x="132.0" y="1491.0">R²=0.68</text>
<text x="134.5" y="1516.0">n= 9,955</text>
<text x="267.0" y="1869.0" text-anchor="middle">cell volume (µm³)</text>
<text x="56.0" y="1648.0" text-anchor="middle" transform="rotate(-90 56.0 1648.0)">nucleoli (DFC) vol (µm³)</text>
<text x="484.0" y="1466.0" font-size="50" font-weight="bold">g</text>
<path d="M557.2 1590.0H556.3V1594.9H556.0V1599.8H555.6V1604.7H555.2V1609.6H554.7V1614.5H554.1V1619.4H553.3V1624.3H552.3V1629.2H550.9V1634.1H549.9V1639.0H548.1V1643.9H546.6V1648.8H544.6V1653.7H542.3V1658.6H539.3V1663.5H537.0V1668.4H535.3V1673.3H531.9V1678.2H529.2V1683.1H524.4V1688.0H521.4V1692.9H518.3V1697.8H515.3V1702.7H512.8V1707.6H509.6V1712.5H508.1V1717.4H508.5V1722.3H504.9V1727.2H505.6V1732.1H504.1V1737.0H505.3V1741.9H506.9V1746.8H508.9V1751.7H511.1V1756.6H514.4V1761.5H518.4V1766.4H519.9V1771.3H523.9V1776.2H527.4V1781.1H531.9V1786.0H535.8V1790.9H538.9V1795.8H542.7V1800.7H544.8V1805.6H547.4V1810.5H549.6V1815.4H551.3V1820.3H552.5V1825.2H553.7V1830.1H554.6V1835.0H557.2Z" fill="#c6c6c6"/>
<path d="M600.0 1835.8V1838.7H604.0V1840.0H608.0V1841.4H612.0V1843.3H616.0V1844.9H620.0V1847.4H624.0V1850.7H628.0V1853.9H632.0V1856.9H636.0V1861.5H640.0V1864.9H644.0V1869.9H648.0V1871.9H652.0V1875.8H656.0V1881.3H660.0V1882.0H664.0V1883.5H668.0V1886.8H672.0V1886.3H676.0V1884.1H680.0V1885.0H684.0V1884.4H688.0V1881.1H692.0V1881.2H696.0V1877.4H700.0V1875.9H704.0V1872.7H708.0V1870.6H712.0V1870.1H716.0V1865.9H720.0V1864.5H724.0V1860.7H728.0V1858.4H732.0V1856.3H736.0V1853.7H740.0V1850.8H744.0V1849.3H748.0V1847.5H752.0V1845.4H756.0V1843.9H760.0V1843.1H764.0V1841.7H768.0V1840.6H772.0V1839.8H776.0V1839.0H780.0V1838.5H784.0V1837.9H788.0V1837.4H792.0V1837.2H796.0V1836.8H800.0V1835.8Z" fill="#c6c6c6"/>
<line x1="676.7" y1="1460.8" x2="676.7" y2="1835.8" stroke="#b4b4b4" stroke-width="2" />
<line x1="818.5" y1="1460.8" x2="818.5" y2="1835.8" stroke="#b4b4b4" stroke-width="2" />
<line x1="557.2" y1="1815.9" x2="946.4" y2="1815.9" stroke="#b4b4b4" stroke-width="2" />
<line x1="557.2" y1="1757.9" x2="946.4" y2="1757.9" stroke="#b4b4b4" stroke-width="2" />
<line x1="557.2" y1="1700.0" x2="946.4" y2="1700.0" stroke="#b4b4b4" stroke-width="2" />
<line x1="557.2" y1="1642.1" x2="946.4" y2="1642.1" stroke="#b4b4b4" stroke-width="2" />
<line x1="557.2" y1="1584.1" x2="946.4" y2="1584.1" stroke="#b4b4b4" stroke-width="2" />
<line x1="557.2" y1="1526.2" x2="946.4" y2="1526.2" stroke="#b4b4b4" stroke-width="2" />
<line x1="557.2" y1="1468.3" x2="946.4" y2="1468.3" stroke="#b4b4b4" stroke-width="2" />
<path d="M865 1471h0M856 1579h0M799 1553h0M845 1581h0M824 1531h0M875 1485h0M865 1579h0M773 1601h0M690 1657h0M775 1576h0M701 1702h0M862 1530h0M760 1558h0M844 1603h0M735 1678h0M769 1607h0M795 1596h0M871 1502h0M856 1576h0M832 1518h0M859 1504h0M777 1617h0M807 1543h0M855 1523h0M767 1626h0M762 1607h0M810 1515h0M797 1558h0M822 1632h0M809 1614h0M740 1601h0M778 1589h0M832 1476h0M916 1478h0M819 1613h0M798 1590h0M905 1630h0M819 1669h0M791 1561h0M830 1623h0M793 1555h0M867 1532h0M856 1470h0M942 1504h0M775 1596h0M885 1530h0M793 1535h0M715 1690h0M781 1666h0M906 1542h0M841 1485h0M753 1610h0M806 1536h0M869 1583h0M764 1619h0M911 1541h0M816 1529h0M778 1570h0M892 1679h0M757 1553h0" stroke="#8a3ac0" stroke-width="2.6" stroke-linecap="round" fill="none" opacity="0.85"/>
<path d="M728 1609h0M756 1589h0M592 1809h0M732 1718h0M677 1658h0M594 1796h0M671 1686h0M723 1614h0M708 1649h0M709 1748h0M710 1642h0M737 1711h0M645 1804h0M786 1649h0M673 1680h0M766 1678h0M623 1818h0M675 1683h0M589 1808h0M768 1699h0M775 1664h0M828 1595h0M744 1599h0M793 1580h0M774 1688h0M668 1688h0M771 1579h0M670 1791h0M771 1684h0M770 1589h0M634 1742h0M810 1580h0M814 1583h0M767 1686h0M708 1758h0M646 1712h0M669 1681h0M669 1684h0M651 1796h0M621 1821h0M690 1781h0M739 1729h0M707 1753h0M722 1610h0M629 1749h0M591 1823h0M654 1703h0M625 1813h0M657 1709h0M640 1721h0M763 1585h0M758 1593h0M733 1722h0M599 1758h0M790 1634h0M572 1779h0M757 1573h0M600 1786h0M636 1807h0M662 1790h0M610 1818h0M652 1798h0M710 1635h0M640 1729h0M757 1589h0M781 1654h0M781 1578h0M657 1797h0M625 1820h0M663 1794h0M692 1770h0M593 1814h0M627 1832h0M724 1736h0M696 1775h0M764 1588h0M659 1693h0M594 1817h0M691 1661h0M593 1815h0M625 1744h0M785 1646h0M735 1584h0M780 1670h0M775 1664h0M652 1813h0M709 1746h0M816 1605h0M754 1590h0M753 1699h0M690 1662h0M627 1733h0M782 1664h0M581 1802h0M660 1693h0M657 1683h0M635 1731h0M665 1670h0M646 1810h0M682 1672h0M680 1661h0M599 1781h0M820 1593h0M726 1620h0M720 1626h0M708 1760h0M774 1669h0M808 1616h0M664 1700h0M791 1641h0M705 1650h0M709 1745h0M663 1667h0M625 1752h0M642 1729h0M800 1616h0M741 1577h0M677 1675h0M623 1749h0M670 1662h0M727 1734h0M605 1772h0M810 1588h0M699 1753h0M645 1805h0M717 1616h0M723 1733h0M759 1686h0M679 1671h0M715 1634h0M739 1708h0M707 1646h0M767 1681h0M723 1620h0M735 1601h0M651 1703h0M631 1806h0M774 1674h0M699 1753h0M692 1647h0M593 1815h0M790 1632h0M825 1573h0M727 1625h0M713 1745h0M797 1621h0M740 1601h0M646 1813h0M815 1583h0M739 1601h0M741 1595h0M769 1677h0M663 1660h0M606 1780h0M738 1597h0M762 1676h0M747 1703h0M680 1781h0M714 1738h0M692 1645h0M646 1724h0M622 1749h0M592 1789h0M627 1823h0M592 1816h0M763 1674h0M608 1775h0M706 1646h0M587 1812h0M783 1646h0M774 1658h0M816 1585h0M696 1626h0M814 1599h0M683 1783h0M623 1749h0M683 1673h0M652 1714h0M726 1728h0M669 1794h0M661 1677h0M679 1660h0M622 1752h0M779 1675h0M791 1632h0M722 1738h0M625 1813h0M631 1733h0M708 1642h0M663 1692h0M595 1804h0M814 1589h0M658 1701h0M773 1575h0M820 1584h0M708 1753h0M789 1649h0M713 1764h0M800 1639h0M794 1690h0M786 1581h0M767 1674h0M820 1615h0M693 1794h0M588 1811h0M808 1574h0M782 1648h0M725 1609h0M623 1810h0M817 1610h0M716 1629h0M714 1744h0M700 1644h0M591 1814h0M688 1651h0M743 1596h0M787 1649h0M722 1614h0M695 1767h0M656 1707h0M680 1812h0M813 1596h0M625 1733h0M600 1802h0M795 1668h0M776 1579h0M615 1767h0M704 1644h0M704 1636h0M745 1701h0M809 1583h0M826 1599h0M614 1770h0M769 1671h0M621 1758h0M810 1610h0M599 1794h0M775 1676h0M814 1600h0M728 1611h0M702 1758h0M759 1700h0M634 1819h0M782 1649h0M669 1789h0M600 1774h0M704 1750h0M821 1615h0M681 1787h0M767 1585h0M675 1788h0M634 1737h0M727 1610h0M627 1751h0M648 1721h0M668 1802h0M780 1583h0M670 1801h0M643 1811h0M611 1773h0M781 1577h0M806 1609h0M753 1592h0M834 1587h0M604 1787h0M617 1822h0M735 1597h0M810 1631h0M724 1731h0M655 1686h0M641 1824h0M653 1659h0M602 1822h0M797 1646h0M718 1735h0M668 1790h0M600 1790h0M613 1757h0M677 1651h0M732 1614h0M789 1642h0M603 1826h0M578 1792h0M783 1649h0M659 1801h0M701 1762h0M789 1568h0M573 1810h0M603 1818h0M802 1572h0M638 1724h0M719 1628h0M759 1695h0M642 1809h0M742 1595h0M710 1615h0M594 1804h0M777 1573h0M816 1596h0M673 1785h0M584 1798h0M719 1633h0M709 1636h0M808 1610h0M739 1716h0M630 1828h0M786 1653h0M649 1702h0M710 1643h0M732 1728h0M751 1719h0M608 1817h0M597 1805h0M674 1791h0M662 1831h0M716 1634h0M726 1620h0M732 1609h0M655 1799h0M707 1631h0M719 1620h0M660 1684h0M601 1814h0M779 1667h0M610 1768h0M614 1757h0M605 1781h0M594 1781h0M787 1570h0M725 1725h0M695 1778h0M661 1808h0M598 1818h0M748 1592h0M681 1675h0M736 1601h0M611 1759h0M672 1679h0M590 1777h0M651 1688h0M752 1595h0M649 1802h0M743 1601h0M736 1765h0M675 1681h0M688 1658h0M707 1646h0M755 1697h0M600 1787h0M715 1733h0M797 1647h0M742 1596h0M653 1699h0M641 1807h0M681 1785h0M813 1604h0M663 1807h0M706 1762h0M661 1790h0M739 1718h0M628 1717h0M718 1633h0M691 1776h0M682 1777h0M610 1744h0M799 1643h0M679 1786h0M749 1590h0M748 1598h0M789 1638h0M656 1794h0M811 1591h0M742 1593h0M610 1757h0M782 1647h0M633 1741h0M663 1790h0M650 1687h0M781 1660h0M787 1638h0M686 1779h0M713 1751h0M607 1816h0M673 1686h0M596 1816h0M639 1819h0M738 1718h0M712 1750h0M785 1580h0M661 1691h0M785 1582h0M662 1685h0M729 1755h0M669 1695h0M734 1603h0M704 1624h0M643 1807h0M619 1754h0M714 1737h0M682 1780h0M695 1766h0M590 1779h0M730 1723h0M783 1657h0M778 1658h0M773 1663h0M602 1787h0M702 1765h0M676 1789h0M774 1578h0M595 1805h0M673 1787h0M646 1709h0M599 1818h0M654 1699h0M591 1803h0M712 1594h0M836 1618h0M815 1595h0M776 1581h0M749 1700h0M700 1758h0M786 1582h0M684 1667h0M716 1737h0M605 1785h0M815 1588h0M620 1813h0M828 1577h0M790 1571h0M676 1676h0M750 1588h0M766 1679h0M686 1660h0M669 1689h0M763 1681h0M615 1816h0M773 1665h0M763 1575h0M686 1666h0M715 1632h0M695 1634h0M675 1677h0M607 1773h0M593 1794h0M809 1619h0M618 1761h0M698 1654h0M715 1620h0M801 1576h0M729 1599h0M682 1668h0M681 1783h0M647 1726h0M623 1814h0M818 1610h0M639 1733h0M696 1642h0M787 1644h0M719 1729h0M821 1620h0M633 1805h0M734 1589h0M799 1671h0M806 1620h0M713 1635h0M655 1703h0M759 1691h0M781 1581h0M650 1717h0M813 1571h0M776 1663h0M617 1813h0M805 1569h0M653 1801h0M769 1587h0M821 1588h0M811 1577h0M803 1618h0M607 1814h0M788 1650h0M734 1717h0M667 1685h0M681 1657h0M720 1736h0M815 1615h0M623 1814h0M681 1791h0M644 1809h0M631 1738h0M760 1592h0M678 1783h0M806 1621h0M743 1711h0M790 1629h0M708 1750h0M630 1809h0M666 1691h0M766 1550h0M684 1671h0M643 1801h0M729 1725h0M702 1649h0M609 1769h0M789 1635h0M620 1741h0M631 1738h0M743 1720h0M685 1778h0M673 1676h0M617 1717h0M643 1704h0M797 1644h0M619 1756h0M745 1730h0M598 1819h0M658 1701h0M745 1592h0M803 1572h0M614 1825h0M623 1743h0M815 1588h0M792 1638h0M688 1789h0M805 1569h0M648 1714h0M599 1823h0M651 1681h0M794 1626h0M816 1610h0M601 1744h0M800 1623h0M593 1823h0M789 1639h0M657 1803h0M589 1804h0M811 1584h0M640 1806h0M641 1824h0M733 1728h0M810 1575h0M704 1650h0M746 1705h0M673 1788h0M642 1732h0M821 1586h0M645 1713h0M601 1818h0M635 1743h0M745 1725h0M817 1614h0M802 1617h0M731 1722h0M661 1694h0M788 1575h0M730 1730h0M642 1723h0M659 1792h0M650 1698h0M635 1728h0M728 1609h0M813 1623h0M742 1719h0M674 1681h0M764 1591h0M742 1721h0M628 1751h0M663 1800h0M773 1582h0M772 1672h0M728 1728h0M741 1596h0M781 1674h0M810 1593h0M612 1771h0M683 1667h0M724 1728h0M586 1806h0M607 1757h0M658 1793h0M654 1707h0M787 1634h0M779 1562h0M618 1765h0M808 1610h0M772 1584h0M797 1630h0M615 1767h0M802 1573h0M814 1598h0M626 1745h0M747 1709h0M737 1711h0M739 1729h0M679 1789h0M638 1734h0M638 1716h0M727 1724h0M610 1776h0M610 1763h0" stroke="#9a28b4" stroke-width="2.6" stroke-linecap="round" fill="none" opacity="0.9"/>
<path d="M589.8 1815.3 L601.8 1782.1 L623.0 1752.0 L641.0 1727.8 L656.1 1706.7 L671.2 1682.5 L689.3 1661.4 L713.5 1637.3 L731.6 1607.1 L746.7 1595.0 L776.8 1583.0 L807.0 1570.9 L816.0 1601.0 L791.9 1631.2 L776.8 1661.4 L755.7 1691.6 L731.6 1721.8 L707.4 1745.9 L695.4 1767.0 L671.2 1788.1 L641.0 1806.2 L610.9 1818.3 Z" fill="#9416a6" filter="url(#bl2)"/>
<g clip-path="url(#bc4)">
<path d="M600.0 1808.0 L670.0 1735.0 L740.0 1660.0 L805.0 1590.0" fill="none" stroke="#c43e84" stroke-width="80" stroke-linecap="round" stroke-linejoin="round" filter="url(#bl9)"/>
<path d="M603.0 1805.0 L660.0 1745.0 L720.0 1680.0 L762.0 1630.0" fill="none" stroke="#ee7a52" stroke-width="60" stroke-linecap="round" stroke-linejoin="round" filter="url(#bl8)"/>
<path d="M608.0 1796.0 L660.0 1740.0 L715.0 1678.0" fill="none" stroke="#fbb52e" stroke-width="38" stroke-linecap="round" stroke-linejoin="round" filter="url(#bl6)"/>
<path d="M618.0 1783.0 L655.0 1742.0 L695.0 1700.0" fill="none" stroke="#f8ea38" stroke-width="19" stroke-linecap="round" stroke-linejoin="round" filter="url(#bl4_5)"/>
</g>
<text x="560.0" y="1825.4" fill="#a8a8a8">20</text>
<line x1="549.2" y1="1815.9" x2="557.2" y2="1815.9" stroke="#000" stroke-width="2.5" />
<text x="560.0" y="1767.4" fill="#a8a8a8">40</text>
<line x1="549.2" y1="1757.9" x2="557.2" y2="1757.9" stroke="#000" stroke-width="2.5" />
<text x="560.0" y="1709.5" fill="#a8a8a8">60</text>
<line x1="549.2" y1="1700.0" x2="557.2" y2="1700.0" stroke="#000" stroke-width="2.5" />
<text x="560.0" y="1651.6" fill="#a8a8a8">80</text>
<line x1="549.2" y1="1642.1" x2="557.2" y2="1642.1" stroke="#000" stroke-width="2.5" />
<text x="560.0" y="1593.6" fill="#a8a8a8">100</text>
<line x1="549.2" y1="1584.1" x2="557.2" y2="1584.1" stroke="#000" stroke-width="2.5" />
<text x="560.0" y="1535.7" fill="#a8a8a8">120</text>
<line x1="549.2" y1="1526.2" x2="557.2" y2="1526.2" stroke="#000" stroke-width="2.5" />
<text x="560.0" y="1477.8" fill="#a8a8a8">140</text>
<line x1="549.2" y1="1468.3" x2="557.2" y2="1468.3" stroke="#000" stroke-width="2.5" />
<text x="676.7" y="1826.0" text-anchor="middle" fill="#a8a8a8">500</text>
<line x1="676.7" y1="1835.8" x2="676.7" y2="1843.8" stroke="#000" stroke-width="2.5" />
<text x="818.5" y="1826.0" text-anchor="middle" fill="#a8a8a8">1000</text>
<line x1="818.5" y1="1835.8" x2="818.5" y2="1843.8" stroke="#000" stroke-width="2.5" />
<line x1="574.7" y1="1828.9" x2="929.2" y2="1465.3" stroke="#808080" stroke-width="5" />
<path d="M638 1762.0 L650 1750.7 L665 1733.3 L680 1718.9 L700 1697.4 L720 1675.9 L740 1657.4 L760 1634.8 L778 1617.4" fill="none" stroke="#22e622" stroke-width="4.5" stroke-linejoin="round"/>
<rect x="557.2" y="1460.8" width="389.2" height="375.0" fill="none" stroke="#000" stroke-width="2.5"/>
<text x="621.5" y="1491.0">R²=0.77</text>
<text x="624.5" y="1516.0">n= 9,955</text>
<text x="750.0" y="1868.0" text-anchor="middle">nuclear volume (µm³)</text>
<text x="540.0" y="1648.0" text-anchor="middle" transform="rotate(-90 540.0 1648.0)">nucleoli (DFC) vol (µm³)</text>
<text x="996.0" y="1030.0" font-size="50" font-weight="bold">h</text>
<line x1="1184.4" y1="1286.5" x2="1184.4" y2="1816.4" stroke="#b4b4b4" stroke-width="2" />
<line x1="1290.4" y1="1286.5" x2="1290.4" y2="1816.4" stroke="#b4b4b4" stroke-width="2" />
<line x1="1396.3" y1="1286.5" x2="1396.3" y2="1816.4" stroke="#b4b4b4" stroke-width="2" />
<line x1="1502.3" y1="1286.5" x2="1502.3" y2="1816.4" stroke="#b4b4b4" stroke-width="2" />
<line x1="1078.5" y1="1724.2" x2="1608.2" y2="1724.2" stroke="#b4b4b4" stroke-width="2" />
<line x1="1078.5" y1="1632.0" x2="1608.2" y2="1632.0" stroke="#b4b4b4" stroke-width="2" />
<line x1="1078.5" y1="1539.8" x2="1608.2" y2="1539.8" stroke="#b4b4b4" stroke-width="2" />
<line x1="1078.5" y1="1447.6" x2="1608.2" y2="1447.6" stroke="#b4b4b4" stroke-width="2" />
<line x1="1078.5" y1="1355.4" x2="1608.2" y2="1355.4" stroke="#b4b4b4" stroke-width="2" />
<line x1="1135.7" y1="1243.8" x2="1131.5" y2="1286.5" stroke="#9d6c0a" stroke-width="5.5" />
<circle cx="1131.5" cy="1286.5" r="6.5" fill="#9d6c0a"/>
<line x1="1177.0" y1="1243.8" x2="1152.7" y2="1286.5" stroke="#fec94f" stroke-width="5.5" />
<circle cx="1152.7" cy="1286.5" r="6.5" fill="#fec94f"/>
<line x1="1218.4" y1="1243.8" x2="1226.8" y2="1286.5" stroke="#fccc6c" stroke-width="5.5" />
<circle cx="1226.8" cy="1286.5" r="6.5" fill="#fccc6c"/>
<line x1="1259.7" y1="1243.8" x2="1232.1" y2="1286.5" stroke="#fef58e" stroke-width="5.5" />
<circle cx="1232.1" cy="1286.5" r="6.5" fill="#fef58e"/>
<line x1="1301.1" y1="1243.8" x2="1242.7" y2="1286.5" stroke="#2f4f9e" stroke-width="5.5" />
<circle cx="1242.7" cy="1286.5" r="6.5" fill="#2f4f9e"/>
<line x1="1342.4" y1="1243.8" x2="1263.9" y2="1286.5" stroke="#fefab3" stroke-width="5.5" />
<circle cx="1263.9" cy="1286.5" r="6.5" fill="#fefab3"/>
<line x1="1383.8" y1="1243.8" x2="1306.3" y2="1286.5" stroke="#b49a36" stroke-width="5.5" />
<circle cx="1306.3" cy="1286.5" r="6.5" fill="#b49a36"/>
<line x1="1425.1" y1="1243.8" x2="1327.5" y2="1286.5" stroke="#b8912f" stroke-width="5.5" />
<circle cx="1327.5" cy="1286.5" r="6.5" fill="#b8912f"/>
<line x1="1466.5" y1="1243.8" x2="1375.1" y2="1286.5" stroke="#fbca86" stroke-width="5.5" />
<circle cx="1375.1" cy="1286.5" r="6.5" fill="#fbca86"/>
<line x1="1507.8" y1="1243.8" x2="1406.9" y2="1286.5" stroke="#3a8fcf" stroke-width="5.5" />
<circle cx="1406.9" cy="1286.5" r="6.5" fill="#3a8fcf"/>
<line x1="1549.2" y1="1243.8" x2="1406.9" y2="1286.5" stroke="#6a4308" stroke-width="5.5" />
<circle cx="1406.9" cy="1286.5" r="6.5" fill="#6a4308"/>
<line x1="1590.5" y1="1243.8" x2="1449.3" y2="1286.5" stroke="#8ccfe9" stroke-width="5.5" />
<circle cx="1449.3" cy="1286.5" r="6.5" fill="#8ccfe9"/>
<line x1="1631.9" y1="1243.8" x2="1475.8" y2="1286.5" stroke="#fbd0fb" stroke-width="5.5" />
<circle cx="1475.8" cy="1286.5" r="6.5" fill="#fbd0fb"/>
<line x1="1673.2" y1="1243.8" x2="1491.7" y2="1286.5" stroke="#a6cce3" stroke-width="5.5" />
<circle cx="1491.7" cy="1286.5" r="6.5" fill="#a6cce3"/>
<line x1="1714.6" y1="1243.8" x2="1497.0" y2="1286.5" stroke="#0f48e6" stroke-width="5.5" />
<circle cx="1497.0" cy="1286.5" r="6.5" fill="#0f48e6"/>
<rect x="1115.0" y="1225.8" width="41.9" height="18.0" fill="#9d6c0a"/>
<text x="1143.7" y="1221.0" transform="rotate(-90 1143.7 1221.0)">centrioles</text>
<rect x="1156.3" y="1225.8" width="41.9" height="18.0" fill="#fec94f"/>
<text x="1185.0" y="1221.0" transform="rotate(-90 1185.0 1221.0)">endosomes</text>
<rect x="1197.7" y="1225.8" width="41.9" height="18.0" fill="#fccc6c"/>
<text x="1226.4" y="1221.0" transform="rotate(-90 1226.4 1221.0)">peroxisomes</text>
<rect x="1239.0" y="1225.8" width="41.9" height="18.0" fill="#fef58e"/>
<text x="1267.7" y="1221.0" transform="rotate(-90 1267.7 1221.0)">ER (SERCA2)</text>
<rect x="1280.4" y="1225.8" width="41.9" height="18.0" fill="#2f4f9e"/>
<text x="1309.1" y="1221.0" transform="rotate(-90 1309.1 1221.0)">histones</text>
<rect x="1321.8" y="1225.8" width="41.9" height="18.0" fill="#fefab3"/>
<text x="1350.4" y="1221.0" transform="rotate(-90 1350.4 1221.0)">ER (Sec61 beta)</text>
<rect x="1363.1" y="1225.8" width="41.9" height="18.0" fill="#b49a36"/>
<text x="1391.8" y="1221.0" transform="rotate(-90 1391.8 1221.0)">lysosomes</text>
<rect x="1404.5" y="1225.8" width="41.9" height="18.0" fill="#b8912f"/>
<text x="1433.1" y="1221.0" transform="rotate(-90 1433.1 1221.0)">Golgi</text>
<rect x="1445.8" y="1225.8" width="41.9" height="18.0" fill="#fbca86"/>
<text x="1474.5" y="1221.0" transform="rotate(-90 1474.5 1221.0)">mitochondria</text>
<rect x="1487.2" y="1225.8" width="41.9" height="18.0" fill="#3a8fcf"/>
<text x="1515.8" y="1221.0" transform="rotate(-90 1515.8 1221.0)">nuclear speckles</text>
<rect x="1528.5" y="1225.8" width="41.9" height="18.0" fill="#6a4308"/>
<text x="1557.2" y="1221.0" transform="rotate(-90 1557.2 1221.0)">microtubules</text>
<rect x="1569.8" y="1225.8" width="41.9" height="18.0" fill="#8ccfe9"/>
<text x="1598.5" y="1221.0" transform="rotate(-90 1598.5 1221.0)">nucleoli (GC)</text>
<rect x="1611.2" y="1225.8" width="41.9" height="18.0" fill="#fbd0fb"/>
<text x="1639.9" y="1221.0" transform="rotate(-90 1639.9 1221.0)">plasma membrane</text>
<rect x="1652.6" y="1225.8" width="41.9" height="18.0" fill="#a6cce3"/>
<text x="1681.2" y="1221.0" transform="rotate(-90 1681.2 1221.0)">nucleoli (DFC)</text>
<rect x="1693.9" y="1225.8" width="41.9" height="18.0" fill="#0f48e6"/>
<text x="1722.6" y="1221.0" transform="rotate(-90 1722.6 1221.0)">nuclear envelope</text>
<line x1="1611.0" y1="1355.4" x2="1637.0" y2="1309.6" stroke="#fccc6c" stroke-width="5.5" />
<circle cx="1610" cy="1355.4" r="5.5" fill="#fccc6c"/>
<rect x="1637.0" y="1294.8" width="28.0" height="30.1" fill="#fccc6c"/>
<text x="1669.0" y="1317.1">peroxisomes</text>
<line x1="1611.0" y1="1373.8" x2="1637.0" y2="1339.3" stroke="#a6cce3" stroke-width="5.5" />
<circle cx="1610" cy="1373.8" r="5.5" fill="#a6cce3"/>
<rect x="1637.0" y="1324.5" width="28.0" height="30.1" fill="#a6cce3"/>
<text x="1669.0" y="1346.8">nucleoli (DFC)</text>
<line x1="1611.0" y1="1396.9" x2="1637.0" y2="1369.0" stroke="#6a4308" stroke-width="5.5" />
<circle cx="1610" cy="1396.9" r="5.5" fill="#6a4308"/>
<rect x="1637.0" y="1354.2" width="28.0" height="30.1" fill="#6a4308"/>
<text x="1669.0" y="1376.5">microtubules</text>
<line x1="1611.0" y1="1415.3" x2="1637.0" y2="1398.7" stroke="#8ccfe9" stroke-width="5.5" />
<circle cx="1610" cy="1415.3" r="5.5" fill="#8ccfe9"/>
<rect x="1637.0" y="1383.9" width="28.0" height="30.1" fill="#8ccfe9"/>
<text x="1669.0" y="1406.2">nucleoli (GC)</text>
<line x1="1611.0" y1="1431.5" x2="1637.0" y2="1428.4" stroke="#fbca86" stroke-width="5.5" />
<circle cx="1610" cy="1431.5" r="5.5" fill="#fbca86"/>
<rect x="1637.0" y="1413.6" width="28.0" height="30.1" fill="#fbca86"/>
<text x="1669.0" y="1435.9">mitochondria</text>
<line x1="1611.0" y1="1463.7" x2="1637.0" y2="1458.1" stroke="#fef58e" stroke-width="5.5" />
<circle cx="1610" cy="1463.7" r="5.5" fill="#fef58e"/>
<rect x="1637.0" y="1443.3" width="28.0" height="30.1" fill="#fef58e"/>
<text x="1669.0" y="1465.6">ER (SERCA2)</text>
<line x1="1611.0" y1="1468.3" x2="1637.0" y2="1487.8" stroke="#2f4f9e" stroke-width="5.5" />
<circle cx="1610" cy="1468.3" r="5.5" fill="#2f4f9e"/>
<rect x="1637.0" y="1473.0" width="28.0" height="30.1" fill="#2f4f9e"/>
<text x="1669.0" y="1495.3">histones</text>
<line x1="1611.0" y1="1475.3" x2="1637.0" y2="1517.5" stroke="#b8912f" stroke-width="5.5" />
<circle cx="1610" cy="1475.3" r="5.5" fill="#b8912f"/>
<rect x="1637.0" y="1502.7" width="28.0" height="30.1" fill="#b8912f"/>
<text x="1669.0" y="1525.0">Golgi</text>
<line x1="1611.0" y1="1501.5" x2="1637.0" y2="1547.2" stroke="#fbd0fb" stroke-width="5.5" />
<circle cx="1610" cy="1501.5" r="5.5" fill="#fbd0fb"/>
<rect x="1637.0" y="1532.4" width="28.0" height="30.1" fill="#fbd0fb"/>
<text x="1669.0" y="1554.7">plasma membrane</text>
<line x1="1611.0" y1="1521.4" x2="1637.0" y2="1576.9" stroke="#b49a36" stroke-width="5.5" />
<circle cx="1610" cy="1521.4" r="5.5" fill="#b49a36"/>
<rect x="1637.0" y="1562.1" width="28.0" height="30.1" fill="#b49a36"/>
<text x="1669.0" y="1584.4">lysosomes</text>
<line x1="1611.0" y1="1539.8" x2="1637.0" y2="1606.6" stroke="#fefab3" stroke-width="5.5" />
<circle cx="1610" cy="1539.8" r="5.5" fill="#fefab3"/>
<rect x="1637.0" y="1591.8" width="28.0" height="30.1" fill="#fefab3"/>
<text x="1669.0" y="1614.1">ER (Sec61 beta)</text>
<line x1="1611.0" y1="1595.1" x2="1637.0" y2="1636.3" stroke="#0f48e6" stroke-width="5.5" />
<circle cx="1610" cy="1595.1" r="5.5" fill="#0f48e6"/>
<rect x="1637.0" y="1621.5" width="28.0" height="30.1" fill="#0f48e6"/>
<text x="1669.0" y="1643.8">nuclear envelope</text>
<line x1="1611.0" y1="1634.3" x2="1637.0" y2="1666.0" stroke="#3a8fcf" stroke-width="5.5" />
<circle cx="1610" cy="1634.3" r="5.5" fill="#3a8fcf"/>
<rect x="1637.0" y="1651.2" width="28.0" height="30.1" fill="#3a8fcf"/>
<text x="1669.0" y="1673.5">nuclear speckles</text>
<line x1="1611.0" y1="1668.9" x2="1637.0" y2="1695.7" stroke="#9d6c0a" stroke-width="5.5" />
<circle cx="1610" cy="1668.9" r="5.5" fill="#9d6c0a"/>
<rect x="1637.0" y="1680.9" width="28.0" height="30.1" fill="#9d6c0a"/>
<text x="1669.0" y="1703.2">centrioles</text>
<line x1="1611.0" y1="1705.8" x2="1637.0" y2="1725.4" stroke="#fec94f" stroke-width="5.5" />
<circle cx="1610" cy="1705.8" r="5.5" fill="#fec94f"/>
<rect x="1637.0" y="1710.6" width="28.0" height="30.1" fill="#fec94f"/>
<text x="1669.0" y="1732.9">endosomes</text>
<line x1="1131.5" y1="1685.0" x2="1131.5" y2="1652.7" stroke="#000" stroke-width="2.5" />
<line x1="1125.1" y1="1668.9" x2="1137.8" y2="1668.9" stroke="#000" stroke-width="2.5" />
<line x1="1152.7" y1="1739.0" x2="1152.7" y2="1672.6" stroke="#000" stroke-width="2.5" />
<line x1="1139.4" y1="1705.8" x2="1165.9" y2="1705.8" stroke="#000" stroke-width="2.5" />
<line x1="1226.8" y1="1406.1" x2="1226.8" y2="1304.7" stroke="#000" stroke-width="2.5" />
<line x1="1205.6" y1="1355.4" x2="1248.0" y2="1355.4" stroke="#000" stroke-width="2.5" />
<line x1="1232.1" y1="1476.6" x2="1232.1" y2="1450.8" stroke="#000" stroke-width="2.5" />
<line x1="1225.8" y1="1463.7" x2="1238.5" y2="1463.7" stroke="#000" stroke-width="2.5" />
<line x1="1242.7" y1="1482.2" x2="1242.7" y2="1454.5" stroke="#000" stroke-width="2.5" />
<line x1="1236.4" y1="1468.3" x2="1249.1" y2="1468.3" stroke="#000" stroke-width="2.5" />
<line x1="1263.9" y1="1558.2" x2="1263.9" y2="1521.4" stroke="#000" stroke-width="2.5" />
<line x1="1257.5" y1="1539.8" x2="1270.3" y2="1539.8" stroke="#000" stroke-width="2.5" />
<line x1="1306.3" y1="1532.9" x2="1306.3" y2="1509.8" stroke="#000" stroke-width="2.5" />
<line x1="1299.9" y1="1521.4" x2="1312.6" y2="1521.4" stroke="#000" stroke-width="2.5" />
<line x1="1327.5" y1="1496.0" x2="1327.5" y2="1454.5" stroke="#000" stroke-width="2.5" />
<line x1="1319.5" y1="1475.3" x2="1335.4" y2="1475.3" stroke="#000" stroke-width="2.5" />
<line x1="1375.1" y1="1438.4" x2="1375.1" y2="1424.6" stroke="#000" stroke-width="2.5" />
<line x1="1369.8" y1="1431.5" x2="1380.4" y2="1431.5" stroke="#000" stroke-width="2.5" />
<line x1="1406.9" y1="1650.4" x2="1406.9" y2="1618.2" stroke="#000" stroke-width="2.5" />
<line x1="1396.3" y1="1634.3" x2="1417.5" y2="1634.3" stroke="#000" stroke-width="2.5" />
<line x1="1406.9" y1="1410.7" x2="1406.9" y2="1383.1" stroke="#000" stroke-width="2.5" />
<line x1="1401.6" y1="1396.9" x2="1412.2" y2="1396.9" stroke="#000" stroke-width="2.5" />
<line x1="1449.3" y1="1425.5" x2="1449.3" y2="1405.2" stroke="#000" stroke-width="2.5" />
<line x1="1444.0" y1="1415.3" x2="1454.6" y2="1415.3" stroke="#000" stroke-width="2.5" />
<line x1="1475.8" y1="1506.1" x2="1475.8" y2="1496.9" stroke="#000" stroke-width="2.5" />
<line x1="1470.5" y1="1501.5" x2="1481.1" y2="1501.5" stroke="#000" stroke-width="2.5" />
<line x1="1491.7" y1="1380.8" x2="1491.7" y2="1366.9" stroke="#000" stroke-width="2.5" />
<line x1="1486.4" y1="1373.8" x2="1497.0" y2="1373.8" stroke="#000" stroke-width="2.5" />
<line x1="1497.0" y1="1599.7" x2="1497.0" y2="1590.5" stroke="#000" stroke-width="2.5" />
<line x1="1491.7" y1="1595.1" x2="1502.3" y2="1595.1" stroke="#000" stroke-width="2.5" />
<circle cx="1131.5" cy="1668.9" r="8.8" fill="#9d6c0a" stroke="#000" stroke-width="3.2"/>
<circle cx="1152.7" cy="1705.8" r="8.8" fill="#fec94f" stroke="#000" stroke-width="3.2"/>
<circle cx="1226.8" cy="1355.4" r="8.8" fill="#fccc6c" stroke="#000" stroke-width="3.2"/>
<circle cx="1232.1" cy="1463.7" r="8.8" fill="#fef58e" stroke="#000" stroke-width="3.2"/>
<circle cx="1242.7" cy="1468.3" r="8.8" fill="#2f4f9e" stroke="#000" stroke-width="3.2"/>
<circle cx="1263.9" cy="1539.8" r="8.8" fill="#fefab3" stroke="#000" stroke-width="3.2"/>
<circle cx="1306.3" cy="1521.4" r="8.8" fill="#b49a36" stroke="#000" stroke-width="3.2"/>
<circle cx="1327.5" cy="1475.3" r="8.8" fill="#b8912f" stroke="#000" stroke-width="3.2"/>
<circle cx="1375.1" cy="1431.5" r="8.8" fill="#fbca86" stroke="#000" stroke-width="3.2"/>
<circle cx="1406.9" cy="1634.3" r="8.8" fill="#3a8fcf" stroke="#000" stroke-width="3.2"/>
<circle cx="1406.9" cy="1396.9" r="8.8" fill="#6a4308" stroke="#000" stroke-width="3.2"/>
<circle cx="1449.3" cy="1415.3" r="8.8" fill="#8ccfe9" stroke="#000" stroke-width="3.2"/>
<circle cx="1475.8" cy="1501.5" r="8.8" fill="#fbd0fb" stroke="#000" stroke-width="3.2"/>
<circle cx="1491.7" cy="1373.8" r="8.8" fill="#a6cce3" stroke="#000" stroke-width="3.2"/>
<circle cx="1497.0" cy="1595.1" r="8.8" fill="#0f48e6" stroke="#000" stroke-width="3.2"/>
<rect x="1078.5" y="1286.5" width="529.7" height="529.9" fill="none" stroke="#000" stroke-width="2.5"/>
<text x="1064.0" y="1825.9" text-anchor="end">0</text>
<line x1="1071.5" y1="1816.4" x2="1078.5" y2="1816.4" stroke="#000" stroke-width="2.5" />
<text x="1078.5" y="1850.0" text-anchor="middle">0</text>
<line x1="1078.5" y1="1816.4" x2="1078.5" y2="1823.4" stroke="#000" stroke-width="2.5" />
<text x="1064.0" y="1733.7" text-anchor="end">20</text>
<line x1="1071.5" y1="1724.2" x2="1078.5" y2="1724.2" stroke="#000" stroke-width="2.5" />
<text x="1184.4" y="1850.0" text-anchor="middle">20</text>
<line x1="1184.4" y1="1816.4" x2="1184.4" y2="1823.4" stroke="#000" stroke-width="2.5" />
<text x="1064.0" y="1641.5" text-anchor="end">40</text>
<line x1="1071.5" y1="1632.0" x2="1078.5" y2="1632.0" stroke="#000" stroke-width="2.5" />
<text x="1290.4" y="1850.0" text-anchor="middle">40</text>
<line x1="1290.4" y1="1816.4" x2="1290.4" y2="1823.4" stroke="#000" stroke-width="2.5" />
<text x="1064.0" y="1549.3" text-anchor="end">60</text>
<line x1="1071.5" y1="1539.8" x2="1078.5" y2="1539.8" stroke="#000" stroke-width="2.5" />
<text x="1396.3" y="1850.0" text-anchor="middle">60</text>
<line x1="1396.3" y1="1816.4" x2="1396.3" y2="1823.4" stroke="#000" stroke-width="2.5" />
<text x="1064.0" y="1457.1" text-anchor="end">80</text>
<line x1="1071.5" y1="1447.6" x2="1078.5" y2="1447.6" stroke="#000" stroke-width="2.5" />
<text x="1502.3" y="1850.0" text-anchor="middle">80</text>
<line x1="1502.3" y1="1816.4" x2="1502.3" y2="1823.4" stroke="#000" stroke-width="2.5" />
<text x="1064.0" y="1364.9" text-anchor="end">100</text>
<line x1="1071.5" y1="1355.4" x2="1078.5" y2="1355.4" stroke="#000" stroke-width="2.5" />
<text x="1608.2" y="1850.0" text-anchor="middle">100</text>
<line x1="1608.2" y1="1816.4" x2="1608.2" y2="1823.4" stroke="#000" stroke-width="2.5" />
<text x="1341.5" y="1882.0" text-anchor="middle">structure volume explained by cell and nuclear metrics (%)</text>
<text x="990.5" y="1580.0" text-anchor="middle" transform="rotate(-90 990.5 1580.0)">structure volume scaling as</text>
<text x="1021.5" y="1580.0" text-anchor="middle" transform="rotate(-90 1021.5 1580.0)">cell volume doubles (%)</text>
<text x="8.0" y="1940.0" font-size="50" font-weight="bold">i</text>
<path d="M56.1 2120.0H56.1V2125.8H56.0V2131.7H56.0V2137.5H55.9V2143.3H55.8V2149.2H55.7V2155.0H55.4V2160.8H55.2V2166.7H54.8V2172.5H54.3V2178.3H53.6V2184.2H52.6V2190.0H51.3V2195.8H50.0V2201.7H47.7V2207.5H45.9V2213.3H43.3V2219.2H40.5V2225.0H35.7V2230.8H32.3V2236.7H27.9V2242.5H24.2V2248.3H21.6V2254.2H16.7V2260.0H12.3V2265.8H10.3V2271.7H4.2V2277.5H4.4V2283.3H4.0V2289.2H0.7V2295.0H4.0V2300.8H1.5V2306.7H5.0V2312.5H6.6V2318.3H9.8V2324.2H12.1V2330.0H16.2V2335.8H19.9V2341.7H20.9V2347.5H26.0V2353.3H28.2V2359.2H32.7V2365.0H34.5V2370.8H37.6V2376.7H40.6V2382.5H43.1V2388.3H45.4V2394.2H47.2V2400.0H49.2V2405.8H50.4V2411.7H51.5V2417.5H52.6V2423.3H53.3V2429.2H53.9V2435.0H54.5V2440.8H54.9V2446.7H55.2V2452.5H55.5V2458.3H55.6V2464.2H55.8V2470.0H56.1Z" fill="#c6c6c6"/>
<path d="M100.0 2480.5V2484.0H105.3V2484.7H110.7V2485.8H116.0V2487.6H121.3V2488.7H126.7V2490.4H132.0V2492.8H137.3V2494.7H142.7V2497.8H148.0V2499.3H153.3V2503.0H158.7V2504.3H164.0V2507.3H169.3V2510.3H174.7V2511.8H180.0V2514.1H185.3V2514.8H190.7V2513.9H196.0V2516.6H201.3V2515.7H206.7V2514.7H212.0V2513.9H217.3V2515.0H222.7V2513.5H228.0V2513.4H233.3V2511.8H238.7V2511.0H244.0V2508.7H249.3V2507.5H254.7V2505.8H260.0V2503.5H265.3V2503.1H270.7V2500.4H276.0V2499.5H281.3V2498.2H286.7V2496.2H292.0V2494.1H297.3V2493.4H302.7V2491.9H308.0V2490.3H313.3V2489.0H318.7V2488.3H324.0V2487.1H329.3V2486.6H334.7V2485.6H340.0V2484.9H345.3V2484.2H350.7V2483.7H356.0V2483.3H361.3V2482.7H366.7V2482.4H372.0V2482.1H377.3V2481.8H382.7V2481.6H388.0V2481.4H393.3V2481.2H398.7V2481.1H404.0V2480.9H409.3V2480.8H414.7V2480.8H420.0V2480.5Z" fill="#c6c6c6"/>
<line x1="68.1" y1="1925.0" x2="68.1" y2="2480.5" stroke="#b4b4b4" stroke-width="2" />
<line x1="230.5" y1="1925.0" x2="230.5" y2="2480.5" stroke="#b4b4b4" stroke-width="2" />
<line x1="392.9" y1="1925.0" x2="392.9" y2="2480.5" stroke="#b4b4b4" stroke-width="2" />
<line x1="555.3" y1="1925.0" x2="555.3" y2="2480.5" stroke="#b4b4b4" stroke-width="2" />
<line x1="56.1" y1="2433.0" x2="585.6" y2="2433.0" stroke="#b4b4b4" stroke-width="2" />
<line x1="56.1" y1="2348.1" x2="585.6" y2="2348.1" stroke="#b4b4b4" stroke-width="2" />
<line x1="56.1" y1="2263.1" x2="585.6" y2="2263.1" stroke="#b4b4b4" stroke-width="2" />
<line x1="56.1" y1="2178.2" x2="585.6" y2="2178.2" stroke="#b4b4b4" stroke-width="2" />
<line x1="56.1" y1="2093.3" x2="585.6" y2="2093.3" stroke="#b4b4b4" stroke-width="2" />
<line x1="56.1" y1="2008.4" x2="585.6" y2="2008.4" stroke="#b4b4b4" stroke-width="2" />
<path d="M101 2423h0M133 2378h0M148 2326h0M270 2210h0M223 2244h0M125 2395h0M366 2170h0M171 2255h0M143 2352h0M362 2149h0M187 2304h0M93 2397h0M334 2162h0M290 2188h0M262 2215h0M176 2306h0M260 2188h0M380 2153h0M168 2321h0M267 2207h0M126 2321h0M115 2386h0M352 2162h0M203 2252h0M199 2256h0M98 2328h0M122 2383h0M333 2168h0M215 2240h0M251 2212h0M112 2413h0M259 2145h0M297 2177h0M173 2309h0M187 2296h0M117 2352h0M106 2395h0M319 2173h0M137 2355h0M329 2170h0M220 2237h0M216 2272h0M118 2360h0M263 2190h0M129 2340h0M130 2371h0M168 2315h0M144 2321h0M282 2162h0M349 2174h0M134 2331h0M317 2171h0M141 2356h0M182 2280h0M110 2400h0M207 2220h0M167 2330h0M166 2316h0M101 2428h0M160 2287h0M243 2230h0M239 2200h0M237 2245h0M142 2356h0M219 2206h0M329 2172h0M184 2279h0M189 2263h0M156 2325h0M273 2199h0M379 2153h0M188 2165h0M130 2378h0M195 2279h0M212 2279h0M205 2271h0M217 2252h0M280 2186h0M138 2368h0M229 2204h0M166 2311h0M266 2176h0M99 2394h0M311 2157h0M351 2157h0M229 2222h0M205 2276h0M336 2176h0M185 2295h0M206 2282h0M159 2326h0M138 2360h0M149 2301h0M119 2365h0M152 2313h0M112 2369h0M230 2240h0M223 2268h0M251 2226h0M296 2178h0M278 2183h0M228 2234h0M291 2177h0M244 2221h0M313 2119h0M254 2225h0M371 2168h0M337 2176h0M209 2275h0M340 2171h0M181 2261h0M216 2247h0M143 2361h0M271 2177h0M250 2228h0M98 2366h0M259 2214h0M306 2148h0M183 2307h0M170 2326h0M162 2299h0M229 2257h0M114 2415h0M335 2159h0M349 2172h0M244 2189h0M180 2298h0M129 2366h0M105 2412h0M124 2357h0M267 2214h0M218 2260h0M131 2362h0M258 2199h0M350 2123h0M187 2292h0M223 2179h0M171 2288h0M372 2168h0M243 2218h0M292 2169h0M105 2415h0M255 2143h0M379 2173h0M208 2275h0M254 2155h0M120 2366h0M92 2371h0M276 2186h0M196 2284h0M240 2237h0M262 2184h0M360 2175h0M256 2222h0M343 2176h0M267 2199h0M168 2315h0M297 2176h0M337 2178h0M120 2374h0M120 2396h0M323 2173h0M122 2362h0M101 2408h0M173 2208h0M146 2341h0M267 2200h0M309 2159h0M289 2090h0M149 2351h0M350 2165h0M268 2195h0M247 2235h0M305 2161h0M247 2223h0M111 2403h0M346 2151h0M292 2183h0M181 2293h0M101 2389h0M265 2202h0M285 2193h0M172 2318h0M165 2300h0M159 2339h0M303 2165h0M274 2163h0M177 2286h0M170 2291h0M208 2269h0M246 2195h0M202 2269h0M103 2374h0M177 2254h0M281 2186h0M113 2384h0M168 2315h0M243 2206h0M327 2177h0M147 2349h0M134 2360h0M215 2263h0M116 2311h0M352 2170h0M383 2167h0M99 2397h0M171 2296h0M218 2241h0M260 2211h0M104 2406h0M248 2195h0M232 2215h0M230 2230h0M105 2373h0M273 2191h0M282 2179h0M124 2389h0M298 2169h0M112 2401h0M166 2315h0M185 2299h0M202 2230h0M292 2167h0M140 2289h0M348 2167h0M196 2176h0M150 2323h0M149 2293h0M151 2309h0M107 2405h0M110 2401h0M315 2178h0M289 2185h0M169 2265h0M336 2178h0M141 2357h0M157 2333h0M114 2315h0M292 2168h0M252 2210h0M85 2373h0M248 2181h0M181 2298h0M336 2133h0M174 2278h0M331 2173h0M369 2142h0M266 2185h0M243 2237h0M244 2181h0M370 2162h0M142 2361h0M375 2169h0M310 2178h0M196 2278h0M250 2195h0M127 2378h0M158 2329h0M183 2309h0M344 2167h0M323 2163h0M164 2245h0M234 2188h0M166 2293h0M344 2147h0M382 2175h0M315 2164h0M147 2339h0M181 2279h0M224 2246h0M119 2377h0M104 2416h0M253 2195h0M282 2182h0M239 2217h0M381 2178h0M193 2114h0M288 2139h0M191 2278h0M145 2345h0M370 2119h0M354 2147h0M198 2280h0M243 2233h0M373 2178h0M360 2091h0M271 2175h0M150 2318h0M244 2236h0M178 2293h0M213 2274h0M377 2137h0M237 2173h0M133 2371h0M163 2320h0M170 2308h0M370 2167h0M233 2232h0M274 2165h0M116 2367h0M225 2255h0M382 2178h0M385 2168h0M269 2174h0M194 2258h0M134 2370h0M179 2308h0M193 2259h0M201 2278h0M344 2137h0M103 2414h0M269 2145h0M104 2393h0M146 2360h0M322 2161h0M156 2340h0M363 2153h0M101 2415h0M114 2377h0M138 2360h0M197 2286h0M169 2316h0M190 2279h0M139 2348h0M125 2346h0M358 2164h0M183 2311h0M115 2382h0M129 2349h0M128 2312h0M107 2413h0M98 2407h0M172 2319h0M235 2222h0M340 2162h0M126 2328h0M381 2166h0M266 2183h0M266 2185h0M176 2308h0M272 2202h0M355 2170h0M294 2184h0M322 2174h0M198 2265h0M262 2154h0M388 2155h0M138 2367h0M307 2167h0M331 2173h0M298 2102h0M227 2241h0M160 2309h0M371 2172h0M125 2352h0M218 2268h0M98 2387h0M270 2196h0M164 2304h0M124 2386h0M278 2188h0M360 2155h0M282 2175h0M197 2236h0M108 2420h0M168 2304h0M287 2158h0M247 2230h0M161 2332h0M386 2158h0M375 2177h0M383 2170h0M172 2313h0M132 2374h0M378 2162h0M229 2246h0M205 2250h0M154 2320h0M225 2249h0M195 2245h0M380 2177h0M196 2275h0M280 2175h0M137 2361h0M220 2265h0M323 2120h0M240 2237h0M138 2325h0M143 2345h0M290 2179h0M186 2254h0M179 2312h0M372 2171h0M256 2221h0M134 2334h0M163 2334h0M179 2307h0M206 2264h0M271 2177h0M190 2290h0M179 2273h0M286 2182h0M270 2157h0M91 2385h0M108 2399h0M328 2160h0M254 2224h0M314 2174h0M239 2206h0M154 2329h0M156 2264h0M198 2282h0M283 2165h0M209 2277h0M152 2342h0M150 2317h0M383 2160h0M304 2163h0M230 2241h0M238 2245h0M286 2192h0M317 2153h0M201 2284h0M209 2276h0M194 2248h0M238 2201h0M380 2166h0M161 2305h0M346 2176h0M109 2380h0M155 2299h0M284 2192h0M213 2253h0M119 2347h0M360 2172h0M351 2175h0M325 2156h0M232 2251h0M125 2365h0M125 2374h0M242 2232h0M334 2146h0M291 2156h0M189 2248h0M179 2308h0M340 2175h0M155 2343h0M327 2131h0M251 2171h0M244 2234h0M337 2136h0M115 2375h0M158 2345h0M231 2228h0M363 2178h0M245 2203h0M333 2142h0M334 2161h0M250 2224h0M238 2242h0M157 2339h0M254 2223h0M163 2311h0M385 2170h0M308 2170h0M281 2176h0M381 2176h0M316 2161h0M149 2339h0M241 2221h0M155 2323h0M346 2152h0M122 2345h0M159 2338h0M133 2362h0M106 2408h0M244 2235h0M122 2311h0M250 2233h0M252 2211h0M121 2370h0M198 2292h0M185 2307h0M355 2159h0M182 2311h0M268 2199h0M251 2220h0M171 2303h0M338 2175h0M326 2161h0M196 2295h0M252 2189h0M369 2159h0M252 2226h0M371 2177h0M123 2379h0M324 2178h0M308 2164h0M296 2176h0M242 2240h0M338 2151h0M277 2199h0M288 2184h0M366 2157h0M200 2274h0M230 2252h0M360 2173h0M284 2148h0M309 2160h0M135 2353h0M364 2164h0M105 2418h0M148 2344h0M125 2337h0M194 2283h0M230 2241h0M373 2172h0M122 2387h0M289 2172h0M120 2366h0M130 2314h0M196 2264h0M270 2204h0M371 2158h0M225 2231h0M112 2401h0M242 2214h0M136 2287h0M205 2273h0M348 2176h0M242 2221h0M342 2176h0M163 2338h0M155 2345h0M254 2232h0M139 2363h0M120 2375h0M362 2171h0M290 2175h0M227 2224h0M177 2303h0M183 2265h0M144 2353h0M321 2114h0M132 2333h0M125 2348h0M369 2162h0M179 2239h0M289 2175h0M340 2153h0M325 2171h0M161 2337h0M287 2186h0M122 2311h0M184 2245h0M179 2304h0M292 2185h0M153 2308h0M327 2156h0M216 2252h0M300 2182h0M245 2217h0M237 2241h0M335 2171h0M179 2294h0M263 2197h0M248 2224h0M244 2210h0M176 2307h0M180 2274h0M263 2149h0M228 2252h0M336 2164h0M232 2170h0M157 2329h0M97 2371h0M269 2193h0M145 2313h0M157 2310h0M247 2242h0M240 2220h0M220 2247h0M392 2172h0M101 2375h0M301 2146h0M351 2153h0M238 2247h0M110 2400h0M189 2300h0M284 2167h0M302 2173h0M251 2225h0M255 2218h0M83 2322h0M278 2171h0M163 2289h0M227 2258h0M240 2226h0M193 2188h0M373 2176h0M169 2318h0M216 2243h0M206 2278h0M102 2419h0M240 2211h0M97 2407h0M255 2227h0M198 2288h0M216 2242h0M167 2278h0M249 2200h0M244 2240h0M109 2404h0M125 2382h0M145 2304h0M342 2173h0M213 2232h0M210 2260h0M138 2258h0M116 2368h0M208 2261h0M140 2346h0M115 2394h0M286 2172h0M155 2331h0M158 2341h0M220 2226h0M326 2165h0M310 2163h0M240 2175h0M232 2230h0M208 2259h0M300 2110h0M298 2177h0M193 2218h0M341 2141h0M212 2243h0M343 2168h0M158 2312h0M309 2177h0M320 2140h0M257 2223h0M129 2358h0M389 2171h0M240 2233h0M250 2227h0M168 2278h0M214 2266h0M353 2177h0M161 2292h0M106 2401h0M285 2163h0M374 2178h0M131 2298h0M243 2195h0M210 2274h0M370 2121h0M142 2356h0M300 2164h0M365 2154h0M199 2272h0M274 2193h0M297 2179h0M373 2178h0M214 2265h0M325 2172h0M219 2248h0M148 2346h0M315 2144h0M224 2257h0M295 2155h0M200 2258h0M333 2137h0M213 2242h0M107 2416h0M167 2263h0M162 2329h0M197 2220h0M160 2331h0M113 2392h0M333 2134h0M100 2355h0M240 2224h0M213 2230h0M222 2263h0M213 2272h0M183 2277h0M235 2201h0M183 2296h0M275 2165h0M342 2160h0M350 2169h0M365 2173h0M200 2290h0M284 2185h0M255 2197h0M285 2179h0M208 2251h0M110 2377h0M312 2160h0M102 2424h0M235 2247h0M255 2188h0M157 2314h0M120 2384h0M169 2315h0M147 2341h0M351 2168h0M302 2155h0M99 2341h0M256 2212h0M355 2154h0M376 2177h0M83 2376h0M250 2193h0M153 2309h0M97 2393h0M221 2191h0M370 2162h0M344 2153h0M354 2178h0M281 2163h0M225 2263h0M262 2209h0M144 2352h0M147 2296h0M123 2383h0M173 2300h0M195 2285h0M194 2286h0M320 2178h0M246 2242h0M245 2235h0M242 2244h0M210 2268h0M262 2207h0M374 2176h0M130 2387h0M322 2155h0M368 2168h0M357 2172h0M114 2381h0M175 2296h0M205 2283h0M320 2175h0M130 2342h0M345 2161h0M116 2396h0M164 2289h0M276 2179h0M185 2306h0M270 2189h0M258 2202h0M305 2145h0M195 2292h0M284 2181h0M239 2168h0M236 2253h0M117 2382h0M153 2323h0M356 2176h0M140 2344h0M198 2235h0M208 2248h0M87 2351h0M262 2214h0M205 2264h0M103 2334h0M344 2148h0M261 2209h0M114 2400h0M133 2358h0M226 2259h0M281 2186h0M157 2328h0M263 2196h0M124 2350h0M369 2165h0M246 2206h0M390 2169h0M233 2243h0M190 2267h0M375 2174h0M325 2167h0M325 2164h0M277 2187h0M334 2177h0M323 2154h0M277 2188h0M264 2191h0M347 2170h0M156 2300h0M284 2165h0M173 2248h0M153 2306h0M97 2386h0M345 2166h0M185 2267h0M299 2168h0M246 2235h0M103 2389h0M107 2304h0M105 2423h0M165 2326h0M364 2151h0M94 2388h0M240 2217h0M383 2171h0M102 2424h0M107 2384h0M271 2204h0M273 2182h0M267 2197h0M167 2294h0M331 2169h0M302 2176h0M298 2145h0M280 2167h0M296 2170h0M340 2174h0M259 2151h0M337 2164h0M213 2259h0M145 2351h0M274 2204h0M370 2175h0M284 2156h0M190 2296h0M283 2187h0M135 2323h0M148 2316h0M232 2227h0M192 2276h0M172 2306h0M174 2253h0M198 2277h0M109 2359h0M369 2170h0M138 2362h0M369 2162h0M153 2331h0M327 2177h0M261 2200h0M187 2288h0M109 2343h0M210 2271h0M234 2215h0M285 2172h0M170 2322h0M261 2218h0M162 2328h0M123 2395h0M99 2384h0M382 2174h0M101 2391h0M253 2222h0M124 2367h0M109 2393h0M171 2303h0M154 2322h0M214 2235h0M111 2398h0M306 2178h0M318 2170h0M364 2157h0M178 2300h0M197 2256h0M155 2330h0M273 2192h0M217 2261h0M199 2234h0M96 2405h0M287 2180h0M143 2349h0M288 2174h0M168 2334h0M208 2280h0M327 2161h0M279 2187h0M197 2221h0M204 2255h0M263 2208h0M122 2353h0M128 2382h0M103 2408h0M204 2279h0M379 2169h0M209 2269h0M177 2287h0M257 2214h0M379 2157h0M160 2336h0M192 2234h0M348 2174h0M209 2253h0M208 2268h0M127 2362h0M192 2268h0M345 2161h0M275 2167h0M275 2164h0M358 2155h0M347 2178h0M362 2163h0M328 2168h0M173 2301h0M265 2200h0M283 2190h0M344 2155h0M267 2203h0M209 2260h0M309 2172h0M283 2192h0M223 2265h0M283 2182h0M328 2160h0M181 2310h0M232 2236h0M112 2395h0M273 2183h0M147 2341h0M108 2391h0M143 2319h0M378 2161h0M104 2363h0M360 2146h0M223 2253h0M395 2175h0M221 2256h0M182 2245h0M170 2275h0M371 2175h0M139 2330h0M361 2153h0M236 2203h0M140 2369h0M214 2273h0M327 2148h0M141 2356h0M164 2307h0M370 2159h0M169 2318h0M245 2184h0M201 2295h0M125 2344h0M312 2148h0M381 2176h0M284 2168h0M133 2315h0M268 2199h0M234 2244h0M306 2172h0M116 2389h0M205 2280h0M371 2178h0M323 2178h0M305 2155h0M112 2397h0M214 2253h0M381 2176h0M91 2293h0M128 2352h0M285 2187h0M261 2197h0M174 2316h0M179 2286h0M302 2167h0M326 2174h0M201 2247h0M357 2131h0M312 2174h0M281 2184h0M223 2263h0M159 2339h0M234 2228h0M107 2396h0M224 2242h0M183 2280h0M239 2240h0M160 2274h0M105 2421h0M101 2400h0M163 2324h0M294 2170h0M285 2190h0M287 2150h0M179 2302h0M318 2165h0M270 2202h0M282 2195h0M244 2223h0M228 2244h0M190 2266h0M218 2265h0M107 2421h0M221 2255h0M309 2156h0M295 2164h0M128 2381h0M208 2270h0M204 2279h0M176 2309h0M353 2176h0M135 2339h0M231 2122h0M119 2395h0M206 2259h0M335 2151h0M266 2194h0M144 2324h0M212 2239h0M297 2183h0M92 2407h0M161 2336h0M176 2317h0M350 2175h0M362 2176h0M345 2173h0M146 2349h0M302 2111h0M250 2214h0M266 2204h0M239 2239h0M254 2216h0M105 2423h0M287 2166h0M271 2207h0M145 2344h0M171 2323h0M389 2178h0M107 2411h0M165 2286h0M182 2299h0M301 2122h0M364 2170h0M393 2176h0M203 2281h0M261 2192h0M323 2119h0M329 2165h0M253 2224h0M143 2354h0M110 2408h0M149 2299h0M99 2392h0M213 2274h0M149 2333h0M171 2280h0M152 2346h0M274 2194h0M120 2381h0M231 2240h0M162 2286h0M177 2309h0M367 2173h0M164 2325h0M164 2338h0M273 2138h0M248 2207h0M393 2177h0M360 2172h0M196 2258h0M222 2259h0M381 2172h0M127 2368h0M124 2385h0M257 2200h0M163 2305h0M291 2103h0M88 2392h0M106 2387h0M233 2248h0M107 2393h0M213 2254h0M141 2362h0M255 2179h0M106 2412h0M195 2287h0M264 2198h0M109 2385h0M285 2182h0M98 2394h0M218 2266h0M355 2167h0M290 2182h0M131 2332h0M205 2285h0M268 2208h0M118 2368h0M149 2313h0M267 2152h0M152 2290h0M298 2162h0M375 2155h0M287 2158h0M102 2414h0M337 2177h0M117 2357h0M178 2295h0M297 2172h0M123 2294h0M273 2195h0M189 2304h0M138 2357h0M343 2156h0M204 2267h0M248 2219h0M299 2172h0M227 2238h0M319 2174h0M172 2311h0M267 2207h0M192 2291h0M253 2219h0M243 2222h0M266 2128h0M314 2167h0M273 2195h0M250 2226h0M250 2226h0M201 2285h0M355 2167h0M192 2296h0M347 2168h0M106 2409h0M252 2224h0M314 2144h0M107 2424h0M374 2177h0M193 2287h0M241 2207h0M266 2211h0M160 2305h0M163 2326h0M182 2275h0M124 2389h0M200 2289h0M237 2176h0M158 2318h0M252 2205h0M279 2188h0M378 2169h0M222 2181h0M206 2274h0M273 2175h0M121 2340h0M170 2321h0M234 2226h0M104 2363h0M97 2368h0M277 2191h0M153 2247h0M345 2174h0M207 2245h0M291 2179h0M152 2321h0M147 2339h0M131 2379h0M382 2152h0M390 2178h0M285 2189h0M344 2158h0M146 2359h0M202 2266h0M243 2242h0M386 2172h0M135 2349h0M146 2333h0M299 2156h0M242 2226h0M138 2329h0M305 2162h0M176 2268h0M235 2238h0M302 2179h0M272 2204h0M206 2210h0M191 2290h0M272 2199h0M259 2186h0M373 2177h0M246 2209h0M253 2163h0M212 2264h0M159 2309h0M206 2259h0M129 2383h0M169 2323h0M228 2218h0M124 2318h0M125 2292h0M148 2340h0M248 2234h0M115 2394h0M173 2308h0M322 2177h0M107 2425h0M102 2422h0M265 2211h0M167 2314h0M151 2324h0M267 2207h0M129 2178h0M141 2360h0M286 2187h0M245 2216h0M130 2340h0M193 2274h0M238 2247h0M344 2174h0M172 2290h0M162 2284h0M334 2171h0M310 2172h0M147 2346h0M114 2359h0M195 2251h0M239 2248h0M258 2191h0M122 2375h0M365 2151h0M238 2245h0M134 2373h0M107 2392h0M217 2238h0M278 2123h0M239 2241h0M161 2324h0M283 2182h0M184 2278h0M323 2163h0M124 2348h0M256 2207h0M167 2325h0M221 2258h0M172 2310h0M295 2137h0M208 2278h0M232 2248h0M125 2375h0M364 2157h0M133 2355h0M267 2211h0M182 2302h0M148 2333h0M99 2415h0M147 2320h0M125 2377h0M249 2230h0M141 2306h0M99 2380h0M212 2276h0M120 2361h0M241 2227h0M153 2337h0M376 2161h0M199 2271h0M98 2362h0M316 2171h0M236 2245h0M113 2389h0M227 2214h0M126 2371h0M263 2204h0M184 2302h0M147 2314h0M187 2270h0M279 2185h0M346 2174h0M90 2372h0M217 2267h0M352 2157h0M109 2368h0M142 2347h0M367 2177h0M382 2172h0M165 2320h0M124 2321h0M176 2244h0M213 2274h0M224 2220h0M145 2359h0M296 2184h0M119 2387h0M149 2354h0M203 2240h0M122 2292h0M207 2274h0M174 2310h0M321 2175h0M369 2169h0M240 2232h0M278 2174h0M153 2348h0M130 2369h0M222 2261h0M341 2170h0M157 2294h0M343 2121h0M173 2311h0M270 2179h0M329 2169h0M167 2319h0M191 2236h0M193 2269h0M214 2222h0M145 2363h0M188 2300h0M258 2210h0M248 2213h0M164 2310h0M101 2420h0M290 2181h0M171 2308h0M316 2177h0M220 2222h0M105 2419h0M239 2238h0M155 2345h0M213 2270h0M94 2384h0M293 2164h0M229 2240h0M149 2342h0M222 2265h0M192 2266h0M136 2293h0M136 2334h0M135 2374h0M109 2360h0M148 2310h0M117 2341h0M268 2201h0M345 2113h0M205 2263h0M335 2147h0M224 2252h0M189 2290h0M99 2392h0M252 2238h0M268 2167h0M284 2100h0M145 2363h0M205 2263h0M323 2161h0M275 2196h0M111 2402h0M254 2226h0M186 2293h0M234 2244h0M130 2326h0M157 2327h0M119 2400h0M208 2260h0M276 2180h0M131 2345h0M119 2389h0M323 2145h0M203 2242h0M169 2304h0M386 2173h0M107 2428h0M146 2336h0M192 2273h0M131 2361h0M361 2131h0M327 2149h0M299 2176h0M305 2169h0M217 2252h0M224 2265h0M166 2255h0M381 2142h0M220 2198h0M137 2335h0M241 2233h0M108 2397h0M357 2168h0M192 2273h0M199 2285h0M242 2234h0M230 2164h0M119 2372h0M227 2216h0M319 2174h0M160 2331h0M317 2171h0M353 2139h0M218 2257h0M100 2377h0M334 2162h0M216 2265h0M191 2297h0M250 2228h0M336 2157h0M281 2178h0M269 2181h0M132 2339h0M387 2171h0M333 2168h0M109 2393h0M239 2208h0M260 2224h0M362 2131h0M243 2234h0M391 2178h0M186 2284h0M143 2340h0M149 2335h0M171 2311h0M227 2216h0M177 2289h0M201 2277h0M110 2282h0M179 2297h0M156 2324h0M331 2174h0M358 2174h0M111 2406h0M178 2261h0M150 2292h0M103 2410h0M112 2377h0M183 2266h0M366 2178h0M137 2367h0M382 2177h0M284 2174h0M228 2261h0M295 2166h0M144 2355h0M88 2387h0M198 2276h0M153 2341h0M236 2094h0M93 2365h0M213 2251h0M302 2177h0M179 2303h0M228 2209h0M145 2355h0M279 2193h0M104 2361h0M152 2341h0M316 2168h0M128 2357h0M297 2142h0M209 2248h0M116 2366h0M276 2181h0M245 2237h0M355 2127h0M341 2109h0M245 2232h0M377 2149h0M341 2170h0M136 2364h0M204 2275h0M99 2413h0M220 2238h0M164 2333h0M320 2160h0M137 2370h0M147 2353h0M190 2252h0M313 2155h0M135 2331h0M107 2407h0M245 2237h0M219 2272h0M120 2344h0M333 2156h0M109 2398h0M176 2297h0M103 2396h0M280 2175h0M182 2298h0M266 2189h0M134 2350h0M292 2159h0M299 2140h0M155 2342h0M166 2315h0M210 2258h0M149 2337h0M386 2167h0M155 2333h0M217 2254h0M109 2385h0M201 2282h0M220 2257h0M123 2391h0M163 2321h0M205 2274h0M260 2206h0M236 2246h0M267 2193h0M301 2132h0M190 2239h0M346 2118h0M211 2260h0M186 2301h0M219 2272h0M306 2174h0M246 2188h0M261 2214h0M206 2274h0M358 2177h0M98 2394h0M340 2168h0M130 2337h0M382 2168h0M116 2333h0M186 2303h0M109 2367h0M144 2312h0M171 2296h0M347 2141h0M300 2163h0M315 2162h0M144 2351h0M98 2399h0M97 2393h0M112 2368h0M235 2232h0M165 2330h0M256 2160h0M294 2181h0M127 2355h0M259 2203h0M357 2164h0M106 2405h0M264 2187h0M110 2384h0M186 2302h0M192 2292h0M124 2385h0M371 2141h0M119 2379h0M120 2257h0M282 2155h0M105 2409h0M216 2225h0M171 2285h0M225 2198h0M193 2250h0M276 2148h0M100 2414h0M287 2190h0M251 2233h0M159 2259h0M204 2265h0M346 2162h0M269 2199h0M212 2273h0M118 2369h0M156 2306h0M175 2296h0M289 2183h0M187 2282h0M249 2221h0M232 2247h0M360 2170h0M98 2371h0M121 2387h0M215 2255h0M263 2201h0M152 2344h0M168 2316h0M206 2222h0M134 2346h0M132 2359h0M241 2254h0M337 2155h0M169 2310h0M355 2178h0M197 2285h0M291 2188h0M230 2264h0M160 2317h0M190 2282h0M122 2371h0M347 2138h0M177 2316h0M304 2178h0M252 2205h0M268 2192h0M278 2190h0M298 2166h0M149 2276h0M333 2137h0M105 2408h0M107 2399h0M307 2167h0M112 2405h0M278 2164h0M242 2222h0M327 2178h0M256 2222h0M348 2171h0M277 2174h0M281 2151h0M320 2173h0M133 2370h0M281 2189h0M205 2261h0M126 2380h0M95 2388h0M187 2299h0M104 2370h0M259 2216h0M370 2171h0M295 2174h0M386 2165h0M150 2318h0M208 2233h0M113 2372h0M109 2361h0M362 2178h0M185 2278h0M99 2419h0M284 2180h0M121 2345h0M105 2425h0M160 2336h0M363 2118h0M136 2370h0M111 2399h0M345 2168h0M170 2251h0M102 2424h0M241 2252h0M222 2257h0M243 2224h0M217 2233h0M130 2363h0M336 2164h0M223 2267h0M251 2224h0M228 2247h0M323 2135h0M232 2259h0M223 2258h0M160 2312h0M179 2270h0M145 2319h0M314 2173h0M115 2396h0M359 2171h0M313 2174h0M236 2233h0M332 2176h0M263 2201h0M233 2246h0M127 2331h0M238 2245h0M290 2173h0M135 2374h0M277 2189h0M359 2157h0M120 2394h0M101 2381h0M333 2151h0M335 2177h0M91 2394h0M346 2135h0M145 2353h0M97 2410h0M148 2300h0M108 2402h0M350 2147h0M132 2335h0M183 2197h0M116 2395h0M246 2211h0M164 2329h0M174 2298h0M152 2331h0M251 2222h0M285 2174h0M172 2311h0M143 2342h0M198 2287h0M307 2138h0M255 2219h0M295 2164h0M163 2312h0M104 2402h0M167 2285h0M306 2137h0M170 2281h0M148 2310h0M156 2309h0M321 2176h0M240 2213h0M334 2176h0M100 2350h0M132 2347h0M253 2169h0M185 2298h0M269 2208h0M104 2393h0M166 2318h0M221 2223h0M323 2176h0M387 2174h0M140 2358h0M359 2178h0M239 2246h0M247 2227h0M201 2223h0M150 2343h0M216 2242h0M195 2258h0M215 2257h0M362 2129h0M108 2403h0M214 2274h0M372 2174h0M101 2400h0M370 2145h0M139 2353h0M111 2372h0M112 2364h0M129 2368h0M192 2281h0M364 2163h0M136 2366h0M370 2156h0M273 2109h0M180 2298h0M199 2281h0M186 2276h0M243 2225h0M159 2339h0M298 2180h0M162 2308h0M119 2390h0M108 2371h0M221 2237h0M295 2181h0M242 2244h0M162 2335h0M158 2319h0M111 2365h0M267 2194h0M149 2349h0M359 2111h0M194 2277h0M127 2371h0M168 2320h0M259 2219h0M319 2159h0M255 2217h0M363 2170h0M263 2179h0M124 2369h0M183 2298h0M369 2168h0M204 2260h0M208 2286h0M206 2271h0M154 2323h0M317 2166h0M163 2312h0M146 2293h0M230 2229h0M295 2177h0M354 2165h0M349 2139h0M169 2328h0M119 2398h0M183 2303h0M103 2422h0M180 2279h0M183 2302h0M188 2296h0M363 2165h0M320 2106h0M145 2325h0M165 2317h0M289 2183h0M164 2298h0M211 2275h0M185 2304h0M365 2165h0M132 2300h0M206 2234h0M235 2193h0M349 2175h0M368 2164h0M235 2245h0M213 2262h0M119 2281h0M282 2181h0M135 2369h0M194 2284h0M340 2162h0M280 2180h0M244 2210h0M222 2249h0M223 2253h0M104 2413h0M118 2382h0M117 2308h0M215 2250h0M145 2336h0M246 2183h0M100 2420h0M241 2226h0M127 2356h0M150 2346h0M362 2163h0M374 2141h0M204 2239h0M153 2341h0M113 2387h0M125 2385h0M135 2365h0M284 2180h0M274 2171h0M131 2333h0M154 2293h0M379 2178h0M202 2274h0M354 2164h0M201 2277h0M340 2117h0M273 2199h0M123 2387h0M178 2285h0M195 2254h0M320 2175h0M372 2162h0M263 2191h0M197 2291h0M236 2190h0M160 2326h0M174 2306h0M144 2347h0M205 2275h0M333 2162h0M250 2221h0M192 2256h0M331 2111h0M105 2422h0M223 2265h0M353 2177h0M342 2178h0M118 2383h0M123 2366h0M361 2174h0M91 2360h0M390 2171h0M279 2150h0M105 2414h0M101 2358h0M118 2363h0M189 2280h0M145 2308h0M324 2159h0M103 2417h0M122 2365h0M254 2179h0M103 2419h0M264 2219h0M330 2175h0M368 2166h0M222 2236h0M246 2229h0M368 2176h0M211 2265h0M166 2306h0M300 2178h0M229 2238h0M319 2155h0M105 2350h0M217 2257h0M348 2171h0M284 2191h0M328 2178h0M346 2164h0M207 2260h0M113 2416h0M221 2236h0M280 2192h0M236 2208h0M306 2136h0M172 2303h0M378 2138h0M343 2172h0M348 2107h0M244 2223h0M272 2198h0M348 2170h0M163 2274h0M114 2395h0M209 2267h0M372 2159h0M122 2369h0M286 2175h0M218 2267h0M269 2194h0M213 2267h0M294 2171h0M158 2253h0M150 2336h0M77 2330h0M159 2334h0M130 2376h0M353 2172h0M139 2355h0M251 2187h0M359 2149h0M259 2182h0M222 2256h0M164 2329h0M357 2174h0M190 2289h0M324 2157h0M228 2252h0M264 2149h0M274 2195h0M179 2274h0M254 2186h0M267 2210h0M184 2260h0M121 2377h0M305 2177h0M159 2324h0M137 2372h0M153 2325h0M129 2377h0M355 2161h0M226 2240h0M353 2169h0M157 2344h0M269 2176h0M351 2177h0M203 2282h0M151 2340h0M152 2280h0M262 2210h0M278 2173h0M334 2164h0M118 2385h0M259 2098h0M257 2186h0M356 2169h0M167 2324h0M249 2174h0M122 2325h0M173 2316h0M106 2368h0M158 2335h0M118 2359h0M169 2298h0M288 2169h0M109 2390h0M103 2400h0M217 2241h0M271 2168h0M252 2229h0M153 2345h0M113 2397h0M137 2328h0M154 2328h0M224 2225h0M250 2224h0M164 2317h0M291 2186h0M132 2366h0M166 2271h0M129 2371h0M255 2195h0M217 2240h0M126 2379h0M170 2139h0M201 2284h0M255 2220h0M217 2263h0M342 2176h0M137 2340h0M216 2267h0M153 2319h0M200 2285h0M183 2292h0M113 2396h0M388 2168h0M207 2273h0M339 2171h0M272 2177h0M344 2163h0M218 2271h0M241 2240h0M293 2173h0M221 2265h0M205 2266h0M238 2243h0M168 2334h0M336 2177h0M367 2165h0M110 2394h0M196 2287h0M245 2212h0M122 2370h0M334 2175h0M160 2265h0M344 2159h0M134 2314h0M377 2176h0M154 2319h0M284 2148h0M103 2414h0M164 2294h0M90 2377h0M203 2279h0M151 2307h0M308 2177h0M360 2178h0M270 2198h0M185 2287h0M226 2240h0M166 2299h0M278 2193h0M111 2416h0M176 2299h0M349 2162h0M300 2153h0M307 2136h0M277 2180h0M345 2175h0M354 2175h0M113 2402h0M256 2223h0M137 2335h0M107 2403h0M159 2319h0M247 2200h0M343 2177h0M239 2128h0M380 2169h0M107 2334h0M270 2163h0M297 2136h0M110 2369h0M278 2160h0M208 2256h0M216 2237h0M311 2166h0M104 2388h0M137 2369h0M95 2379h0M269 2178h0M223 2239h0M134 2362h0M202 2276h0M113 2347h0M294 2146h0M159 2323h0M169 2313h0M139 2353h0M239 2243h0M97 2349h0M137 2339h0M115 2390h0M299 2179h0M263 2182h0M315 2173h0M382 2171h0M113 2395h0M311 2164h0M339 2140h0M133 2353h0M377 2174h0M112 2388h0M240 2242h0M113 2365h0M194 2282h0M138 2352h0M131 2380h0M391 2174h0M215 2264h0M376 2153h0M130 2368h0M187 2203h0M147 2269h0M114 2391h0M120 2332h0M195 2259h0M364 2171h0M132 2364h0M278 2173h0M174 2289h0M198 2288h0M266 2170h0M205 2262h0M264 2203h0M186 2294h0M232 2252h0M252 2223h0M320 2169h0M171 2315h0M107 2390h0M178 2257h0M105 2412h0M309 2156h0M257 2202h0M260 2211h0M230 2207h0M226 2246h0M235 2239h0M256 2216h0M105 2378h0M168 2261h0M328 2163h0M150 2325h0M300 2174h0M316 2178h0M118 2391h0M179 2300h0M237 2246h0M111 2415h0M231 2253h0M331 2178h0M249 2178h0M289 2145h0M148 2329h0M136 2346h0M144 2350h0M135 2359h0M111 2387h0M360 2170h0M376 2140h0M143 2343h0M117 2379h0M379 2177h0M269 2205h0M244 2236h0M198 2293h0M159 2324h0M219 2252h0M200 2279h0M106 2425h0M106 2389h0M215 2276h0M190 2296h0M282 2174h0M165 2311h0M359 2155h0M249 2213h0M178 2290h0M118 2397h0M341 2166h0M243 2170h0M254 2219h0M96 2375h0M276 2197h0M210 2276h0M351 2153h0M169 2304h0M138 2346h0M305 2178h0M206 2274h0M335 2167h0M162 2264h0M126 2360h0M232 2199h0M284 2184h0M281 2192h0M172 2321h0M271 2193h0M162 2278h0M350 2177h0M109 2415h0M158 2333h0M389 2158h0M245 2239h0M373 2152h0M302 2159h0M230 2251h0M245 2223h0M148 2317h0M238 2229h0M237 2193h0M156 2309h0M176 2303h0M159 2307h0M205 2263h0M142 2359h0M232 2258h0M172 2303h0M193 2263h0M245 2231h0M161 2280h0M177 2301h0M179 2290h0M140 2347h0M353 2164h0M212 2267h0M300 2167h0M192 2295h0M150 2332h0M270 2180h0M347 2166h0M157 2318h0M268 2210h0M328 2172h0M273 2133h0M268 2183h0M149 2329h0M151 2341h0M315 2154h0M116 2348h0M108 2422h0M187 2262h0M302 2160h0M205 2272h0M159 2307h0M318 2172h0M272 2190h0M356 2162h0M171 2304h0M105 2394h0M125 2315h0M165 2187h0M266 2190h0M123 2366h0M331 2173h0M293 2173h0M344 2164h0M235 2151h0M145 2359h0M297 2179h0M333 2162h0M158 2305h0M263 2215h0M126 2367h0M235 2239h0M293 2161h0M152 2308h0M129 2381h0M309 2176h0M79 2362h0M233 2211h0M248 2206h0M119 2386h0M140 2317h0M362 2165h0M285 2188h0M310 2175h0M239 2232h0M150 2352h0M377 2170h0M254 2219h0M114 2394h0M127 2378h0M151 2343h0M238 2238h0M381 2177h0M181 2301h0M302 2167h0M223 2258h0M246 2213h0M240 2219h0M236 2236h0M174 2308h0M119 2312h0M125 2377h0M163 2309h0M275 2198h0M229 2241h0M263 2201h0M218 2247h0M196 2279h0M105 2403h0M357 2156h0M197 2292h0M187 2284h0M261 2216h0M190 2271h0M204 2278h0M94 2396h0M115 2383h0M185 2292h0M286 2160h0M217 2265h0M313 2160h0M138 2320h0M334 2177h0M149 2350h0M192 2299h0M256 2221h0M241 2234h0M306 2174h0M102 2417h0M134 2366h0M152 2318h0M266 2192h0M193 2266h0M221 2268h0M125 2386h0M127 2378h0M121 2390h0M153 2342h0M374 2160h0M231 2244h0M384 2176h0M344 2166h0M384 2172h0M263 2217h0M109 2398h0M333 2142h0M119 2392h0M229 2228h0M163 2325h0M152 2288h0M160 2323h0M256 2190h0M130 2380h0M274 2203h0M112 2379h0M155 2338h0M201 2261h0M271 2212h0M258 2213h0M121 2373h0M115 2386h0M106 2308h0M181 2310h0M196 2283h0M122 2367h0M271 2182h0M177 2306h0M239 2242h0M105 2345h0M141 2370h0M183 2290h0M224 2219h0M138 2365h0M237 2245h0M271 2184h0M202 2274h0M174 2283h0M144 2325h0M187 2261h0M124 2372h0M204 2285h0M239 2243h0M377 2142h0M229 2240h0M124 2379h0M287 2130h0M340 2177h0M349 2174h0M112 2387h0M159 2307h0M226 2217h0M257 2225h0M119 2370h0M318 2171h0M145 2318h0M130 2331h0M269 2145h0M268 2145h0M241 2221h0M97 2417h0M129 2373h0M111 2354h0M197 2292h0M285 2186h0M123 2389h0M213 2212h0M233 2200h0M89 2361h0M180 2307h0M250 2228h0M155 2324h0M265 2077h0M301 2144h0M315 2178h0M333 2147h0M214 2276h0M205 2275h0M142 2335h0M349 2177h0M202 2265h0M185 2232h0M109 2383h0M167 2195h0M339 2168h0M308 2142h0M192 2276h0M158 2341h0M136 2369h0M290 2190h0M292 2184h0M277 2194h0M287 2189h0M195 2244h0M94 2385h0M316 2174h0M377 2171h0M230 2237h0M320 2112h0M201 2259h0M208 2270h0M343 2174h0M227 2257h0M112 2396h0M154 2347h0M152 2328h0M337 2165h0M112 2400h0M279 2182h0M154 2324h0M281 2182h0M226 2177h0M113 2417h0M134 2348h0M174 2307h0M321 2165h0M325 2171h0M313 2173h0M201 2204h0M310 2174h0M172 2322h0M365 2145h0M147 2291h0M338 2167h0M335 2160h0M127 2351h0M266 2110h0M105 2424h0M137 2360h0M140 2345h0M223 2258h0M205 2258h0M287 2187h0M126 2354h0M171 2287h0M314 2155h0M293 2161h0M368 2153h0M274 2202h0M152 2355h0M155 2340h0M243 2227h0M110 2391h0M375 2154h0M352 2156h0M144 2316h0M226 2240h0M264 2150h0M387 2157h0M250 2220h0M257 2156h0M195 2281h0M241 2224h0M365 2166h0M270 2206h0M249 2231h0M345 2127h0M142 2363h0M112 2406h0M352 2168h0M296 2172h0M173 2322h0M277 2185h0M309 2177h0M249 2215h0M245 2195h0M268 2212h0M125 2381h0M113 2396h0M335 2152h0M131 2318h0M140 2338h0M103 2380h0M172 2288h0M137 2353h0M158 2255h0M137 2344h0M174 2316h0M337 2167h0M180 2317h0M276 2163h0M97 2407h0M277 2164h0M181 2301h0M106 2404h0M249 2235h0M205 2260h0M181 2308h0M324 2167h0M125 2374h0M238 2233h0M128 2368h0M92 2373h0M291 2177h0M178 2307h0M228 2252h0M135 2330h0M252 2169h0M161 2321h0M366 2147h0M338 2149h0M98 2399h0M389 2177h0M355 2163h0M265 2182h0M192 2218h0M228 2257h0M158 2324h0M314 2167h0M279 2166h0M243 2230h0M356 2176h0M193 2270h0M346 2176h0M384 2170h0M209 2257h0M243 2232h0M209 2177h0M333 2176h0M267 2154h0M182 2309h0M317 2147h0M292 2176h0M138 2360h0M228 2236h0M247 2189h0M255 2223h0M273 2151h0M107 2380h0M193 2229h0M230 2237h0M113 2255h0M385 2169h0M125 2309h0M347 2078h0M196 2233h0M108 2416h0M363 2165h0M346 2144h0M374 2145h0M349 2167h0M285 2175h0M250 2200h0M113 2349h0M182 2261h0M328 2174h0M140 2348h0M275 2187h0M360 2161h0M139 2363h0M290 2159h0M192 2296h0M111 2347h0M149 2331h0M305 2086h0M123 2392h0M200 2273h0M318 2175h0M368 2156h0M272 2198h0M127 2376h0M348 2172h0M116 2354h0M133 2358h0M131 2349h0M275 2194h0M209 2280h0M168 2324h0M307 2160h0M252 2229h0M180 2312h0M289 2177h0M86 2278h0M165 2331h0M154 2331h0M276 2203h0M269 2174h0M322 2168h0M232 2239h0M320 2161h0M251 2220h0M99 2393h0M259 2204h0M195 2260h0M300 2168h0M105 2409h0M258 2201h0M117 2362h0M244 2181h0M146 2356h0M246 2214h0M319 2152h0M281 2189h0M123 2385h0M421 2154h0M404 2158h0M450 2168h0M400 2164h0M479 2131h0M425 2156h0M408 2143h0M488 2090h0M457 2154h0M414 2169h0M419 2143h0M412 2175h0M442 2151h0M424 2120h0M409 2165h0M454 2125h0M413 2143h0M407 2164h0M430 2164h0M426 2186h0M459 2116h0M416 2128h0M406 2156h0M411 2128h0M434 2144h0M394 2168h0M462 2142h0M409 2175h0M444 2159h0M410 2178h0M410 2162h0M395 2177h0M437 2139h0M412 2174h0M420 2162h0M458 2127h0M414 2162h0M432 2164h0M488 2099h0M424 2159h0M424 2124h0M433 2146h0M403 2144h0M461 2150h0M423 2161h0M416 2160h0M439 2141h0M435 2149h0M410 2153h0M405 2165h0M448 2128h0M433 2152h0M456 2105h0M414 2163h0M398 2175h0M411 2144h0M451 2137h0M450 2144h0M461 2148h0M420 2146h0M413 2168h0M435 2136h0M449 2126h0M441 2112h0M416 2142h0M434 2145h0M425 2143h0M398 2127h0M467 2133h0M461 2124h0M466 2125h0M439 2124h0M403 2159h0M456 2139h0M444 2151h0M418 2112h0M420 2138h0M428 2147h0M396 2169h0M408 2182h0M429 2132h0M408 2122h0M442 2139h0M412 2166h0M425 2137h0M412 2166h0M396 2167h0M408 2157h0M412 2159h0M406 2144h0M425 2157h0M399 2154h0M417 2151h0M409 2170h0M408 2157h0M439 2132h0M430 2150h0M437 2166h0M412 2140h0M438 2125h0M428 2150h0M484 2114h0M450 2129h0M453 2124h0M422 2145h0M428 2176h0M422 2164h0M439 2147h0M447 2124h0M424 2107h0M399 2184h0M422 2169h0M427 2146h0M480 2125h0M396 2159h0M422 2156h0M425 2153h0M456 2116h0M413 2144h0M425 2152h0M438 2105h0M428 2150h0M395 2169h0M404 2175h0M444 2142h0M402 2142h0M476 2175h0M462 2146h0M402 2187h0M490 2155h0M482 2099h0M394 2171h0M428 2141h0M404 2146h0M406 2163h0M435 2140h0M407 2147h0M414 2174h0M417 2172h0M425 2151h0M441 2157h0M417 2127h0M438 2143h0M465 2120h0M478 2125h0M413 2182h0M428 2174h0M423 2155h0M398 2146h0M449 2140h0M417 2159h0M407 2170h0M456 2100h0M399 2166h0M490 2113h0M398 2153h0M422 2149h0M444 2151h0M410 2170h0M415 2170h0M432 2121h0M439 2162h0M417 2141h0M401 2163h0M430 2150h0M458 2151h0M416 2139h0M476 2095h0M428 2179h0M410 2176h0M403 2166h0M401 2163h0M462 2159h0M434 2116h0M432 2156h0M407 2161h0M426 2153h0M433 2122h0M408 2164h0M463 2124h0M433 2141h0M440 2156h0M407 2166h0M406 2188h0M425 2148h0M448 2132h0M433 2117h0M440 2160h0M408 2120h0M421 2148h0M422 2121h0M494 2103h0M439 2177h0M443 2156h0M417 2139h0M408 2170h0M426 2151h0M467 2119h0M424 2148h0M410 2142h0M416 2164h0M458 2176h0M453 2112h0M413 2139h0M442 2104h0M439 2136h0M423 2148h0M419 2147h0M425 2129h0M415 2147h0M449 2119h0M440 2160h0M445 2113h0M451 2158h0M397 2157h0M417 2126h0M435 2171h0M394 2146h0M408 2186h0M405 2185h0M422 2165h0M467 2107h0M399 2174h0M437 2138h0M461 2128h0M430 2098h0M445 2125h0M409 2158h0M425 2149h0M438 2147h0M436 2124h0M424 2170h0M407 2184h0M451 2148h0M427 2162h0M421 2139h0M429 2168h0M460 2087h0M397 2167h0M395 2174h0M443 2149h0M420 2149h0M396 2171h0M402 2163h0M408 2169h0M410 2157h0M415 2157h0M481 2127h0M452 2162h0M470 2127h0M429 2115h0M410 2136h0M428 2138h0M406 2160h0M416 2138h0M426 2114h0M400 2172h0M441 2168h0M401 2179h0M420 2161h0M449 2150h0M445 2149h0M441 2145h0M433 2142h0M418 2168h0M440 2135h0M474 2126h0M402 2147h0M404 2177h0M442 2140h0M509 2094h0M405 2151h0M442 2126h0M449 2148h0M414 2164h0M425 2160h0M435 2161h0M406 2187h0M453 2148h0M437 2161h0M401 2172h0M409 2143h0M462 2108h0M405 2111h0M435 2138h0M402 2171h0M413 2135h0M463 2122h0M464 2102h0M421 2145h0M415 2138h0M489 2146h0M425 2143h0M437 2150h0M397 2163h0M424 2111h0M403 2180h0M406 2131h0M421 2182h0M408 2186h0M411 2176h0M445 2131h0M405 2190h0M394 2179h0M427 2149h0M398 2166h0M406 2147h0M461 2103h0M435 2149h0M425 2152h0M456 2127h0M431 2124h0M455 2141h0M436 2153h0M429 2143h0M416 2189h0M462 2117h0M419 2120h0M438 2165h0M461 2136h0M421 2145h0M429 2154h0M415 2141h0M419 2181h0M460 2096h0M458 2118h0M433 2135h0M462 2093h0M475 2108h0M473 2114h0M405 2139h0M489 2114h0M398 2178h0M417 2157h0M403 2158h0M398 2155h0M428 2169h0M427 2145h0M411 2138h0M421 2160h0M405 2164h0M406 2125h0M420 2180h0M457 2112h0M417 2161h0M460 2120h0M406 2182h0M412 2145h0M397 2182h0M411 2179h0M410 2173h0M437 2142h0M405 2178h0M448 2140h0M426 2187h0M445 2169h0M411 2157h0M408 2164h0M460 2121h0M406 2166h0M459 2131h0M423 2142h0M428 2141h0M425 2187h0M440 2125h0M456 2110h0M409 2143h0M421 2176h0M422 2133h0M466 2121h0M410 2149h0M475 2138h0M444 2137h0M416 2134h0M424 2159h0M499 2131h0M442 2111h0M416 2153h0M434 2130h0M428 2146h0M394 2172h0M452 2140h0M408 2144h0M422 2135h0M407 2185h0M429 2180h0M428 2147h0M397 2160h0M481 2109h0M435 2121h0M430 2150h0M442 2164h0M413 2165h0M448 2143h0M423 2147h0M423 2174h0M440 2137h0M437 2179h0M420 2147h0M410 2145h0M393 2190h0M479 2164h0M428 2121h0M406 2183h0M420 2175h0M451 2161h0M442 2157h0M437 2157h0M450 2147h0M456 2153h0M415 2169h0M402 2192h0M428 2133h0M441 2135h0M399 2141h0M425 2108h0M422 2174h0M404 2148h0M467 2079h0M429 2148h0M393 2141h0M399 2166h0M410 2181h0M433 2169h0M452 2141h0M428 2142h0M419 2126h0M423 2123h0M438 2126h0M430 2156h0M427 2164h0M419 2180h0M432 2136h0M441 2127h0M438 2166h0M439 2166h0M420 2162h0M454 2083h0M417 2181h0M401 2176h0M458 2179h0M464 2133h0M443 2171h0M423 2111h0M441 2138h0M406 2151h0M420 2140h0M437 2157h0M471 2125h0M443 2149h0M417 2144h0M466 2100h0M405 2190h0M421 2151h0M475 2128h0M417 2151h0M499 2119h0M446 2123h0M494 2077h0M405 2162h0M479 2139h0M424 2157h0M418 2155h0M422 2190h0M404 2153h0M403 2162h0M413 2137h0M445 2107h0M408 2179h0M410 2181h0M495 2121h0M469 2118h0M437 2141h0M443 2148h0M430 2127h0M416 2147h0M406 2175h0M415 2191h0M459 2169h0M422 2117h0M408 2165h0M404 2146h0M410 2125h0M435 2159h0M456 2167h0M429 2183h0M400 2165h0M424 2177h0M409 2140h0M438 2137h0M416 2186h0M460 2098h0M456 2118h0M486 2117h0M414 2167h0M428 2172h0M405 2149h0M459 2139h0M425 2160h0M457 2123h0M408 2185h0M401 2167h0M438 2114h0M425 2141h0M395 2180h0M412 2149h0M413 2140h0M429 2161h0M478 2072h0M396 2187h0M399 2152h0M413 2175h0M398 2168h0M437 2140h0M405 2151h0M443 2122h0M428 2170h0M426 2161h0M417 2132h0M447 2130h0M406 2178h0M409 2156h0M417 2174h0M473 2111h0M418 2130h0M426 2146h0M417 2161h0M406 2141h0M501 2115h0M415 2159h0M399 2169h0M435 2134h0M399 2166h0M472 2115h0M470 2105h0M441 2123h0M410 2158h0M427 2150h0M425 2153h0M444 2140h0M428 2138h0M418 2150h0M434 2150h0M470 2116h0M421 2122h0M408 2162h0M393 2185h0M442 2153h0M422 2138h0M424 2161h0M412 2134h0M464 2146h0M434 2125h0M473 2145h0M457 2130h0M411 2139h0M430 2185h0M429 2147h0M435 2170h0M466 2121h0M403 2183h0M461 2140h0M408 2154h0M425 2134h0M439 2156h0M411 2166h0M480 2107h0M507 2106h0M397 2145h0M433 2144h0M445 2155h0M439 2144h0M424 2170h0M442 2109h0M458 2151h0M458 2142h0M486 2117h0M445 2153h0M445 2155h0M460 2111h0M423 2151h0M396 2186h0M451 2141h0M456 2117h0M477 2122h0M427 2123h0M435 2141h0M453 2133h0M422 2191h0M497 2112h0M480 2139h0M428 2147h0M475 2099h0M415 2147h0M425 2162h0M437 2143h0M425 2154h0M425 2149h0M449 2138h0M411 2175h0M422 2156h0M401 2144h0M428 2125h0M429 2139h0M448 2137h0M422 2146h0M419 2148h0M453 2111h0M424 2180h0M414 2159h0M420 2183h0M469 2095h0M394 2156h0M430 2151h0M446 2125h0M453 2126h0M448 2135h0M488 2116h0M412 2149h0M447 2135h0M440 2153h0M419 2167h0M424 2168h0M481 2091h0M398 2177h0M447 2109h0M417 2185h0M445 2099h0M449 2162h0M400 2189h0M429 2127h0M434 2161h0M417 2158h0M394 2148h0M462 2106h0M439 2117h0M420 2140h0M435 2132h0M407 2167h0M439 2126h0M454 2140h0M429 2159h0M429 2146h0M425 2173h0M456 2138h0M431 2183h0M483 2130h0M417 2108h0M433 2137h0M446 2147h0M458 2128h0M455 2112h0M463 2127h0M468 2148h0M460 2112h0M436 2134h0M407 2125h0M460 2095h0M409 2169h0M394 2165h0M400 2162h0M432 2146h0M436 2127h0M452 2157h0M412 2165h0M445 2132h0M490 2086h0M464 2115h0M433 2136h0M459 2094h0M424 2136h0M432 2152h0M431 2115h0M423 2129h0M400 2153h0M393 2142h0M422 2155h0M424 2175h0M435 2113h0M442 2119h0M409 2168h0M418 2145h0M395 2158h0M415 2170h0M441 2110h0M425 2147h0M396 2162h0M434 2169h0M430 2164h0M416 2147h0M429 2170h0M395 2145h0M428 2171h0M443 2133h0M429 2156h0M427 2154h0M412 2145h0M414 2129h0M432 2112h0M396 2178h0M119 2329h0M289 2143h0M313 2141h0M246 2241h0M253 2253h0M216 2310h0M329 2207h0M276 2272h0M441 2074h0M309 2205h0M410 2142h0M455 2137h0M146 2329h0M240 2253h0M482 2073h0M452 2087h0M363 2161h0M220 2261h0M106 2359h0M432 2120h0M296 2139h0M336 2221h0M351 2163h0M412 2093h0M294 2219h0M477 2096h0M203 2308h0M260 2217h0M312 2233h0M489 2073h0M541 2051h0M447 2101h0M235 2311h0M250 2238h0M203 2238h0M246 2248h0M238 2301h0M255 2243h0M423 2064h0M386 2107h0M213 2292h0M264 2251h0M265 2234h0M510 2071h0M149 2323h0M473 2106h0M146 2269h0M503 2057h0M242 2289h0M415 2068h0M226 2267h0M423 2100h0M381 2148h0M554 2045h0M450 2116h0M146 2323h0M209 2301h0M188 2225h0M579 2001h0M330 2207h0M195 2272h0M122 2329h0M112 2342h0M195 2281h0M390 2096h0M246 2262h0M264 2273h0M349 2170h0M127 2315h0M130 2333h0M322 2194h0M124 2384h0M273 2255h0M468 2018h0M218 2278h0M161 2277h0M202 2301h0M150 2341h0M150 2316h0M102 2330h0M444 2050h0M375 2161h0M348 2213h0M184 2301h0M179 2290h0M266 2242h0M580 2067h0M341 2136h0M367 2177h0M500 2014h0M485 2094h0M469 2011h0M271 2252h0M307 2215h0M285 2233h0M134 2308h0M184 2347h0M241 2240h0M330 2109h0M466 2085h0M312 2204h0M187 2290h0M469 2013h0M210 2288h0M258 2256h0M441 2110h0M363 2168h0M213 2266h0M267 2257h0M141 2318h0M499 2069h0M274 2247h0M562 2021h0M332 2182h0M461 2064h0M245 2269h0M370 2167h0M431 2113h0M464 2113h0M284 2155h0M233 2284h0M411 2129h0M102 2321h0M140 2387h0M508 2024h0M368 2185h0M338 2201h0M280 2162h0M219 2299h0M336 2221h0M144 2288h0M354 2121h0M153 2333h0M235 2275h0M105 2359h0M497 2055h0M469 2113h0M361 2171h0M215 2302h0M224 2296h0M303 2271h0M478 2065h0M468 2058h0M376 2119h0M300 2266h0M443 2075h0M447 2163h0M247 2283h0M453 2089h0M272 2194h0M171 2342h0M181 2244h0M252 2238h0M82 2355h0M455 2078h0M193 2281h0M335 2249h0M530 2049h0M430 2127h0M125 2289h0M343 2174h0M468 2087h0M320 2216h0M368 2155h0M419 2106h0M242 2189h0M273 2210h0M533 2050h0M476 2064h0M549 2004h0M174 2296h0M213 2267h0M227 2250h0M330 2206h0M414 2165h0M331 2178h0M384 2185h0M201 2329h0M525 2083h0M320 2217h0M277 2204h0M442 2135h0M208 2274h0M495 2029h0M291 2203h0M337 2164h0M256 2250h0M162 2335h0M421 2135h0M408 2127h0M488 2054h0M369 2165h0M517 2053h0M445 2110h0M169 2339h0M382 2178h0M234 2273h0M165 2262h0M224 2293h0M405 2148h0M266 2200h0M422 2175h0M189 2294h0M426 2113h0M160 2267h0M311 2213h0M85 2321h0M274 2197h0M286 2200h0M469 2101h0M121 2307h0M355 2211h0M310 2203h0M487 2094h0M553 2040h0M507 2062h0M119 2366h0M443 2057h0M376 2182h0M510 2066h0M488 2084h0M294 2255h0M266 2215h0M498 2048h0M248 2189h0M346 2199h0M154 2348h0M80 2358h0M477 2108h0M477 2097h0M499 2058h0M480 2074h0M241 2261h0M348 2188h0M176 2299h0M121 2349h0M169 2333h0M371 2158h0M455 2089h0M198 2262h0M347 2124h0M281 2251h0M389 2155h0M496 2033h0M470 2075h0M480 2033h0M194 2255h0M299 2211h0M227 2280h0M162 2329h0M181 2273h0M76 2381h0M84 2297h0M133 2296h0M315 2208h0M162 2335h0M215 2201h0M415 2168h0M239 2244h0M235 2258h0M424 2150h0M265 2211h0M330 2087h0M203 2260h0M390 2139h0M86 2343h0M149 2370h0M262 2172h0M215 2329h0M401 2122h0M365 2148h0M540 2047h0M418 2129h0M415 2130h0M303 2188h0M511 2082h0M371 2134h0M149 2322h0M456 2045h0M412 2135h0M292 2214h0M296 2209h0M403 2108h0M216 2294h0M473 2108h0M501 2058h0M516 2064h0M374 2112h0M306 2191h0M452 2084h0M116 2339h0M133 2300h0M171 2280h0M485 2073h0M308 2153h0M205 2257h0M284 2216h0M483 1992h0M237 2242h0M359 2172h0M258 2251h0M530 2074h0M140 2299h0M166 2312h0M190 2311h0M291 2224h0M424 2144h0M507 2029h0M151 2260h0M504 2064h0M276 2190h0M179 2283h0M109 2294h0M517 2032h0M291 2242h0M159 2281h0M395 2124h0M550 2070h0M510 2053h0M374 2122h0M127 2324h0M252 2258h0M527 2023h0M205 2296h0M417 2141h0M119 2354h0M260 2254h0M130 2355h0M130 2379h0M333 2212h0M363 2188h0M136 2296h0M142 2312h0M158 2317h0M79 2280h0M225 2282h0M361 2202h0M133 2318h0M358 2192h0M188 2299h0M407 2163h0M466 2058h0M164 2318h0M193 2261h0M514 2025h0M497 2082h0M463 2109h0M152 2333h0M389 2151h0M381 2130h0M481 2084h0M441 2045h0M242 2161h0M553 2061h0M205 2288h0M251 2221h0M227 2234h0M76 2384h0M375 2212h0M361 2215h0M124 2329h0M160 2320h0M471 2110h0M154 2268h0M505 2004h0M486 2078h0M171 2333h0M477 2035h0M173 2291h0M444 2080h0M117 2333h0M174 2261h0M509 2082h0M135 2347h0M125 2238h0M186 2262h0M570 2009h0M363 2162h0M511 2094h0M136 2323h0M451 2132h0M351 2184h0M476 2098h0M244 2289h0M181 2330h0M174 2318h0M495 2084h0M460 2106h0M425 2114h0M564 1961h0M458 2054h0M228 2273h0M213 2241h0M164 2263h0M417 2128h0M156 2278h0M532 2016h0M471 2105h0M328 2193h0M432 2103h0M519 2048h0M490 2113h0M125 2373h0M373 2213h0M265 2221h0M412 2185h0M291 2259h0M183 2334h0M388 2180h0M192 2300h0M494 2047h0M473 2067h0M376 2078h0M264 2230h0M231 2291h0M362 2140h0M528 2080h0M384 2146h0M513 2081h0M311 2229h0M484 2065h0M441 2126h0M322 2105h0M330 2199h0M338 2243h0M422 2098h0M487 2108h0M211 2358h0M164 2305h0M302 2155h0M164 2230h0M276 2175h0M447 2127h0M257 2272h0M348 2161h0M211 2263h0M412 2111h0M289 2163h0M211 2245h0M390 2179h0M331 2169h0M164 2283h0M226 2243h0M257 2246h0M530 1996h0M170 2354h0M150 2319h0M143 2351h0M311 2180h0M467 2104h0" stroke="#0a0af5" stroke-width="2.5" stroke-linecap="round" fill="none" opacity="0.9"/>
<path d="M104 2430 L112 2407 L130 2380 L154 2347 L187 2303 L230 2259 L263 2216 L290 2187 L302 2178.4 L393 2178.4 L393 2192 L402.0 2186.4 L150.0 2383.5 L133 2396 L117 2416 L107 2430 L103 2436 Z" fill="#0a0af5"/>
<path d="M113 2415h0M105 2430h0M97 2429h0M88 2448h0M86 2444h0M93 2440h0M80 2448h0M115 2423h0M114 2431h0M114 2409h0M93 2444h0M117 2409h0M88 2445h0M84 2443h0M110 2403h0M107 2424h0M103 2420h0M93 2450h0M101 2437h0M108 2432h0M90 2442h0M96 2444h0M116 2409h0M100 2428h0M84 2449h0M96 2429h0M84 2434h0M104 2425h0M107 2423h0M98 2426h0M113 2419h0M107 2422h0M81 2455h0M90 2436h0M118 2418h0M85 2434h0M114 2411h0M106 2423h0M114 2415h0M124 2406h0M104 2418h0M104 2426h0M84 2442h0M100 2431h0M89 2438h0M88 2452h0M97 2437h0M90 2443h0M84 2439h0M121 2402h0M83 2448h0M124 2408h0M78 2446h0M109 2423h0M111 2407h0M88 2444h0M104 2423h0M108 2423h0M104 2421h0M106 2426h0M98 2433h0M108 2419h0M91 2435h0M111 2413h0M109 2412h0M90 2444h0M103 2435h0M98 2428h0M112 2425h0M99 2421h0M103 2426h0M119 2400h0M86 2444h0M86 2452h0M110 2428h0M113 2423h0M116 2412h0M111 2422h0M86 2445h0M118 2422h0M110 2402h0M86 2457h0M98 2420h0M110 2423h0M116 2410h0M89 2446h0M121 2409h0M109 2416h0M106 2423h0M113 2416h0M116 2428h0M86 2438h0M86 2449h0M127 2415h0M95 2443h0M92 2430h0M122 2408h0M104 2429h0M111 2408h0M104 2419h0M112 2425h0M89 2455h0M89 2443h0M93 2432h0M107 2437h0M92 2430h0M110 2431h0M93 2419h0M111 2427h0M115 2402h0M116 2421h0M106 2418h0M94 2445h0M107 2427h0M122 2408h0M90 2437h0M104 2422h0M103 2427h0M93 2436h0M85 2461h0M111 2415h0M84 2455h0M111 2394h0M88 2440h0M90 2440h0M105 2426h0M98 2439h0M105 2427h0M104 2429h0M113 2423h0M92 2439h0M106 2424h0M109 2408h0M108 2418h0M85 2430h0M90 2442h0M102 2440h0M101 2428h0M113 2416h0M102 2415h0M91 2430h0M91 2431h0M110 2435h0M107 2411h0M87 2436h0M110 2422h0M117 2425h0M93 2443h0M108 2424h0M111 2429h0M95 2444h0M88 2447h0M97 2437h0M95 2438h0M94 2445h0M84 2447h0M111 2409h0M103 2424h0M114 2423h0M109 2421h0M116 2418h0M95 2434h0M100 2430h0M117 2406h0M92 2431h0M88 2435h0M100 2429h0M96 2439h0M89 2435h0M95 2449h0M121 2400h0M85 2455h0M103 2428h0M81 2454h0M117 2410h0M121 2428h0M86 2441h0M83 2437h0M120 2400h0M98 2435h0M102 2415h0M100 2419h0M110 2417h0M95 2443h0M94 2439h0M97 2439h0M100 2424h0M85 2448h0M93 2437h0M120 2418h0M108 2415h0M117 2418h0M86 2444h0M97 2440h0M100 2420h0M117 2409h0M102 2441h0M106 2429h0M93 2443h0M101 2425h0M93 2437h0M90 2443h0M96 2440h0M97 2442h0M125 2418h0M90 2439h0M113 2412h0M100 2423h0M95 2434h0M87 2445h0M118 2405h0M98 2427h0M103 2426h0M101 2444h0M106 2436h0M122 2404h0M112 2411h0M95 2436h0M97 2442h0M99 2426h0M92 2441h0M94 2446h0M94 2437h0M104 2401h0M89 2437h0M86 2441h0M112 2418h0M96 2454h0M108 2433h0M96 2437h0M88 2446h0M119 2415h0M93 2438h0M115 2421h0M118 2414h0M105 2418h0M97 2437h0M103 2419h0M118 2409h0M103 2428h0M101 2413h0M90 2440h0M106 2424h0M95 2437h0M101 2435h0M116 2408h0M100 2431h0M84 2456h0M121 2404h0M100 2436h0M97 2430h0M98 2433h0M95 2436h0M89 2458h0M119 2393h0M116 2418h0M109 2406h0M101 2427h0M128 2414h0M119 2396h0" stroke="#0a0af5" stroke-width="2.5" stroke-linecap="round" fill="none" opacity="0.9"/>
<path d="M150.0 2383.5 L402.0 2186.4" fill="none" stroke="#cd8840" stroke-width="17" stroke-linecap="round" stroke-linejoin="round"/>
<path d="M115.2 2434.6 L442.2 2180.4" fill="none" stroke="#b0189c" stroke-width="4" stroke-dasharray="15 8"/>
<path d="M150.0 2378.0 L402.0 2180.9" fill="none" stroke="#22e5e5" stroke-width="5"/>
<path d="M150.0 2381.5 L402.0 2184.4" fill="none" stroke="#22e5e5" stroke-width="7" stroke-dasharray="6 7"/>
<line x1="78.6" y1="2424.4" x2="565.0" y2="2011.0" stroke="#000" stroke-width="5" />
<path d="M81.7 2472.1 L89.9 2456.9 L98.1 2443.4 L106.2 2431.2 L114.4 2419.8 L122.5 2409.1 L130.7 2398.9 L138.9 2389.1 L147.0 2379.7 L155.2 2370.7 L163.3 2361.9 L171.5 2353.3 L179.6 2345.0 L187.8 2336.9 L196.0 2328.9 L204.1 2321.1 L212.3 2313.5 L220.4 2306.0 L228.6 2298.7 L236.8 2291.5 L244.9 2284.4 L253.1 2277.4 L261.2 2270.5 L269.4 2263.7 L277.5 2256.9 L285.7 2250.3 L293.9 2243.8 L302.0 2237.3 L310.2 2230.9 L318.3 2224.6 L326.5 2218.4 L334.7 2212.2 L342.8 2206.1 L351.0 2200.0 L359.1 2194.0 L367.3 2188.1 L375.4 2182.2 L383.6 2176.3 L391.8 2170.5 L399.9 2164.8 L408.1 2159.1 L416.2 2153.4 L424.4 2147.8 L432.6 2142.3 L440.7 2136.8 L448.9 2131.3 L457.0 2125.8 L465.2 2120.4 L473.4 2115.1 L481.5 2109.7 L489.7 2104.4 L497.8 2099.2 L506.0 2093.9 L514.1 2088.7 L522.3 2083.6 L530.5 2078.4 L538.6 2073.3 L546.8 2068.3 L554.9 2063.2 L563.1 2058.2" fill="none" stroke="#000" stroke-width="5.5" stroke-dasharray="5 11"/>
<text x="60.0" y="2442.5" fill="#a8a8a8">200</text>
<text x="60.0" y="2357.6" fill="#a8a8a8">400</text>
<text x="60.0" y="2272.6" fill="#a8a8a8">600</text>
<text x="60.0" y="2187.7" fill="#a8a8a8">800</text>
<text x="60.0" y="2102.8" fill="#a8a8a8">1000</text>
<line x1="48.1" y1="2433.0" x2="56.1" y2="2433.0" stroke="#000" stroke-width="2.5" />
<line x1="48.1" y1="2348.1" x2="56.1" y2="2348.1" stroke="#000" stroke-width="2.5" />
<line x1="48.1" y1="2263.1" x2="56.1" y2="2263.1" stroke="#000" stroke-width="2.5" />
<line x1="48.1" y1="2178.2" x2="56.1" y2="2178.2" stroke="#000" stroke-width="2.5" />
<line x1="48.1" y1="2093.3" x2="56.1" y2="2093.3" stroke="#000" stroke-width="2.5" />
<line x1="48.1" y1="2008.4" x2="56.1" y2="2008.4" stroke="#000" stroke-width="2.5" />
<text x="68.1" y="2475.0" text-anchor="middle" fill="#a8a8a8">0</text>
<line x1="68.1" y1="2480.5" x2="68.1" y2="2488.5" stroke="#000" stroke-width="2.5" />
<text x="230.5" y="2475.0" text-anchor="middle" fill="#a8a8a8">500</text>
<line x1="230.5" y1="2480.5" x2="230.5" y2="2488.5" stroke="#000" stroke-width="2.5" />
<text x="392.9" y="2475.0" text-anchor="middle" fill="#a8a8a8">1000</text>
<line x1="392.9" y1="2480.5" x2="392.9" y2="2488.5" stroke="#000" stroke-width="2.5" />
<text x="555.3" y="2475.0" text-anchor="middle" fill="#a8a8a8">1500</text>
<line x1="555.3" y1="2480.5" x2="555.3" y2="2488.5" stroke="#000" stroke-width="2.5" />
<rect x="63.6" y="1932.4" width="361.0" height="116.0" fill="#fff" stroke="#c8c8c8" stroke-width="2.5" rx="4" fill-opacity="0.96"/>
<circle cx="91.7" cy="1947.4" r="4.5" fill="#0a0af5"/>
<circle cx="91.7" cy="1975.4" r="5.5" fill="#cd8840"/>
<line x1="71.0" y1="2002.7" x2="106.0" y2="2002.7" stroke="#b0189c" stroke-width="4" stroke-dasharray="12 9"/>
<line x1="70.0" y1="2030.4" x2="113.0" y2="2030.4" stroke="#22e5e5" stroke-width="5" />
<text x="126.1" y="1953.0" font-size="19" textLength="134.0" lengthAdjust="spacingAndGlyphs">all cells (n=202,847)</text>
<text x="126.1" y="1980.5" font-size="19" textLength="244.3" lengthAdjust="spacingAndGlyphs">cells with spherical nuclei (n=19,927)</text>
<text x="126.1" y="2008.0" font-size="19" textLength="233.9" lengthAdjust="spacingAndGlyphs">volume vs. area for perfect spheres</text>
<text x="126.1" y="2035.5" font-size="19" textLength="285.5" lengthAdjust="spacingAndGlyphs">linear model for spherical nuclei (R²=99.05)</text>
<rect x="276.1" y="2310.3" width="300.0" height="138.4" fill="#fff" stroke="#c8c8c8" stroke-width="2.5" rx="4" fill-opacity="0.96"/>
<line x1="282.5" y1="2327.0" x2="320.0" y2="2327.0" stroke="#22e5e5" stroke-width="6" stroke-dasharray="6 8"/>
<line x1="280.6" y1="2380.6" x2="324.8" y2="2380.6" stroke="#000" stroke-width="4.5" />
<line x1="283.0" y1="2408.7" x2="318.0" y2="2408.7" stroke="#000" stroke-width="5" stroke-dasharray="5 10"/>
<text x="337.9" y="2331.0" font-size="19" textLength="141.0" lengthAdjust="spacingAndGlyphs">non-linear model with</text>
<text x="337.9" y="2352.2" font-size="19" textLength="171.7" lengthAdjust="spacingAndGlyphs">correct scaling (R²=99.24)</text>
<text x="337.9" y="2383.0" font-size="19" textLength="231.6" lengthAdjust="spacingAndGlyphs">linear model for all cells (R²=89.88)</text>
<text x="337.9" y="2411.3" font-size="19" textLength="141.0" lengthAdjust="spacingAndGlyphs">non-linear model with</text>
<text x="337.9" y="2433.8" font-size="19" textLength="171.7" lengthAdjust="spacingAndGlyphs">correct scaling (R²=90.06)</text>
<rect x="56.1" y="1925.0" width="529.5" height="555.5" fill="none" stroke="#000" stroke-width="2.5"/>
<text x="319.0" y="2503.0" text-anchor="middle">nuclear volume (µm³)</text>
<text x="37.0" y="2203.0" text-anchor="middle" transform="rotate(-90 37.0 2203.0)">nuclear surface area (µm²)</text>
<text x="611.0" y="1940.0" font-size="50" font-weight="bold">j</text>
<line x1="725.3" y1="2000.5" x2="725.3" y2="2406.8" stroke="#b4b4b4" stroke-width="2" />
<line x1="944.8" y1="2000.5" x2="944.8" y2="2406.8" stroke="#b4b4b4" stroke-width="2" />
<line x1="702.9" y1="2387.0" x2="1164.2" y2="2387.0" stroke="#b4b4b4" stroke-width="2" />
<line x1="702.9" y1="2309.7" x2="1164.2" y2="2309.7" stroke="#b4b4b4" stroke-width="2" />
<line x1="702.9" y1="2232.4" x2="1164.2" y2="2232.4" stroke="#b4b4b4" stroke-width="2" />
<line x1="702.9" y1="2155.1" x2="1164.2" y2="2155.1" stroke="#b4b4b4" stroke-width="2" />
<line x1="702.9" y1="2077.8" x2="1164.2" y2="2077.8" stroke="#b4b4b4" stroke-width="2" />
<line x1="725.3" y1="2387.0" x2="1153.2" y2="2010.2" stroke="#000" stroke-width="3" stroke-dasharray="10 6"/>
<path d="M726.6 2377.2H739.0M732.8 2389.8V2364.5M731.8 2372.2H756.8M744.3 2379.3V2365.1M711.2 2389.5H743.6M727.4 2399.5V2379.5M727.3 2382.6H739.4M733.3 2387.3V2378.0M712.6 2387.1H740.9M726.7 2396.7V2377.6M744.2 2363.0H752.2M748.2 2375.1V2350.8M715.3 2383.7H745.9M730.6 2394.4V2372.9M734.6 2368.3H745.6M740.1 2381.0V2355.7M735.6 2383.9H744.4M740.0 2390.3V2377.5M732.9 2377.5H745.8M739.3 2389.8V2365.1M726.2 2382.8H738.0M732.1 2392.9V2372.8M731.1 2367.2H754.1M742.6 2374.4V2359.9M721.8 2378.9H743.7M732.8 2389.6V2368.2M733.7 2364.4H758.3M746.0 2376.7V2352.2M726.5 2382.8H738.0M732.3 2386.6V2379.0M734.7 2359.9H770.1M752.4 2370.8V2348.9M735.7 2367.8H746.8M741.3 2380.2V2355.5M725.0 2380.2H751.8M738.4 2387.6V2372.7M738.7 2376.4H753.5M746.1 2384.0V2368.7M717.3 2390.3H737.7M727.5 2398.1V2382.5M729.4 2376.8H743.3M736.4 2387.0V2366.5M721.6 2372.4H739.2M730.4 2385.2V2359.7M730.9 2361.0H762.3M746.6 2371.8V2350.3M723.2 2381.7H731.2M727.2 2386.7V2376.7M720.5 2384.9H735.2M727.9 2393.9V2375.9M725.1 2376.5H739.6M732.3 2386.6V2366.3M747.8 2344.4H774.3M761.1 2354.9V2333.8M721.6 2373.7H760.2M740.9 2386.1V2361.3M713.7 2385.5H739.9M726.8 2398.4V2372.5M722.1 2380.2H750.2M736.2 2385.1V2375.2M724.1 2390.2H733.4M728.7 2398.6V2381.8M721.5 2378.6H750.7M736.1 2391.3V2365.8M729.3 2379.0H741.3M735.3 2391.1V2367.0M727.8 2373.3H763.1M745.4 2379.3V2367.3M719.0 2378.8H751.9M735.5 2389.1V2368.4M713.3 2379.8H739.6M726.4 2385.4V2374.3M727.2 2375.7H736.5M731.9 2383.9V2367.4M745.3 2367.3H754.1M749.7 2379.0V2355.6M726.0 2388.3H733.9M729.9 2399.3V2377.3M725.1 2371.1H742.6M733.8 2378.0V2364.2M731.4 2366.6H745.7M738.6 2378.8V2354.4M719.1 2379.1H747.4M733.2 2387.7V2370.4M743.2 2361.8H759.0M751.1 2365.1V2358.5M717.8 2390.6H737.4M727.6 2395.6V2385.6M729.0 2370.6H758.4M743.7 2378.8V2362.4M739.1 2370.7H752.3M745.7 2375.6V2365.7M732.2 2364.5H765.3M748.7 2376.5V2352.5M740.7 2365.2H751.1M745.9 2372.3V2358.0M729.9 2361.1H769.4M749.7 2371.2V2351.0M709.1 2389.8H741.9M725.5 2393.7V2385.8M716.7 2375.1H751.8M734.3 2380.0V2370.2M711.4 2381.4H745.8M728.6 2387.8V2375.0M718.2 2379.2H752.4M735.3 2384.3V2374.0M738.5 2365.1H774.1M756.3 2375.5V2354.8M730.9 2369.7H769.2M750.1 2375.7V2363.8M730.5 2379.2H748.8M739.6 2384.0V2374.3M726.0 2377.4H750.2M738.1 2389.7V2365.0M721.3 2376.1H750.6M736.0 2384.8V2367.5M710.1 2376.7H746.5M728.3 2382.4V2371.1M722.3 2384.5H746.3M734.3 2389.6V2379.4M723.5 2383.7H738.7M731.1 2395.7V2371.7M708.9 2383.3H743.3M726.1 2396.8V2369.8M717.8 2377.5H742.5M730.2 2388.4V2366.5M738.2 2367.6H752.8M745.5 2380.3V2354.8M743.5 2355.1H765.1M754.3 2365.0V2345.1M726.2 2377.1H742.8M734.5 2384.0V2370.1M727.2 2375.9H737.1M732.1 2384.9V2366.9M738.7 2364.0H765.9M752.3 2377.4V2350.7M717.0 2389.5H738.9M728.0 2393.4V2385.5M732.1 2370.8H765.3M748.7 2381.1V2360.6M719.6 2383.8H758.2M738.9 2394.9V2372.6M746.5 2354.9H771.9M759.2 2362.7V2347.1M731.4 2375.5H739.5M735.4 2385.1V2366.0M711.2 2383.2H748.2M729.7 2395.7V2370.6M727.0 2379.7H746.6M736.8 2387.7V2371.7M730.9 2356.9H767.8M749.4 2369.4V2344.5M727.3 2371.8H756.6M742.0 2377.9V2365.7M733.8 2360.2H749.6M741.7 2366.1V2354.2M719.3 2380.4H743.3M731.3 2385.2V2375.7M711.5 2384.9H744.6M728.1 2390.8V2379.1M712.2 2388.0H750.3M731.3 2392.9V2383.1M724.0 2379.1H742.4M733.2 2382.3V2375.9M718.6 2380.7H743.6M731.1 2393.5V2367.8M724.3 2388.3H734.3M729.3 2401.7V2374.9M742.1 2358.1H753.8M748.0 2364.3V2351.9M740.8 2368.7H753.9M747.3 2376.6V2360.8M728.6 2377.6H742.7M735.6 2381.6V2373.6M730.6 2373.3H749.0M739.8 2381.4V2365.2M717.3 2375.4H749.1M733.2 2380.1V2370.8M729.7 2372.1H746.1M737.9 2380.2V2364.1M730.1 2374.7H763.7M746.9 2387.4V2362.0M721.5 2380.6H732.2M726.9 2386.7V2374.5M717.1 2382.1H734.9M726.0 2395.0V2369.2M743.2 2360.3H767.4M755.3 2371.2V2349.4M715.8 2382.9H752.9M734.4 2392.1V2373.6M730.3 2377.0H740.6M735.4 2384.5V2369.4M712.5 2379.2H750.5M731.5 2382.4V2375.9M725.0 2376.0H745.3M735.2 2387.8V2364.2M724.0 2374.7H754.2M739.1 2387.1V2362.3M718.3 2378.6H739.4M728.8 2390.4V2366.8M728.6 2368.6H741.6M735.1 2378.8V2358.4M719.0 2384.4H736.6M727.8 2396.3V2372.6M718.1 2381.5H740.4M729.2 2390.3V2372.8M721.0 2372.3H758.5M739.7 2382.4V2362.2M723.6 2371.6H755.7M739.7 2377.2V2366.0M743.9 2364.3H753.9M748.9 2368.9V2359.6M728.6 2366.4H761.7M745.2 2376.4V2356.4M718.5 2384.3H737.3M727.9 2392.2V2376.4M721.3 2378.2H740.4M730.8 2383.7V2372.7M737.9 2368.9H745.7M741.8 2376.5V2361.3M731.2 2363.0H761.2M746.2 2370.8V2355.1M732.2 2366.1H762.7M747.4 2375.8V2356.3M731.7 2371.8H751.6M741.6 2380.4V2363.1M735.2 2368.5H746.5M740.9 2378.5V2358.4M735.1 2375.7H748.1M741.6 2386.2V2365.2M747.7 2356.4H779.6M763.6 2361.2V2351.7M707.2 2387.3H746.1M726.6 2390.7V2383.9M734.7 2372.9H744.2M739.5 2385.9V2359.9M717.5 2378.6H752.8M735.2 2385.3V2371.8M709.5 2385.2H747.1M728.3 2392.9V2377.4M723.1 2380.1H730.2M726.6 2383.5V2376.6M724.3 2368.5H763.7M744.0 2377.0V2360.0M727.1 2378.0H734.8M730.9 2390.7V2365.4M712.9 2386.0H744.5M728.7 2396.3V2375.7M717.5 2380.7H752.8M735.2 2393.5V2368.0M715.0 2388.2H736.5M725.8 2398.0V2378.3M729.9 2373.3H752.5M741.2 2377.1V2369.5M721.0 2375.5H750.0M735.5 2380.9V2370.2M717.7 2391.4H734.1M725.9 2399.9V2382.9M713.4 2385.2H740.8M727.1 2396.1V2374.2M774.1 2333.6H797.0M785.6 2339.8V2327.3M767.9 2332.0H789.8M778.9 2343.2V2320.7M755.8 2344.3H776.5M766.2 2355.2V2333.4M769.0 2334.4H787.4M778.2 2344.9V2323.9M777.0 2336.8H786.0M781.5 2345.2V2328.4M744.6 2362.3H759.6M752.1 2373.8V2350.8M753.5 2355.1H767.9M760.7 2363.6V2346.6M772.0 2339.2H793.5M782.7 2345.6V2332.7M775.1 2331.3H798.0M786.6 2341.3V2321.4M770.7 2336.1H794.2M782.4 2346.1V2326.1M753.8 2348.4H777.0M765.4 2353.9V2342.9M776.8 2336.8H795.7M786.3 2347.7V2325.9M762.8 2343.7H776.7M769.8 2351.4V2336.1M773.6 2340.5H787.3M780.5 2351.5V2329.5M766.7 2337.0H787.9M777.3 2345.8V2328.2M761.8 2352.5H770.6M766.2 2360.7V2344.3M766.7 2343.1H785.1M775.9 2347.7V2338.4M769.3 2342.1H779.2M774.3 2347.0V2337.2M744.5 2350.2H764.3M754.4 2361.3V2339.1M748.8 2356.7H769.2M759.0 2364.2V2349.2M748.6 2359.0H762.3M755.4 2364.0V2354.1M748.0 2354.0H772.5M760.3 2361.7V2346.3M765.6 2342.4H776.2M770.9 2351.6V2333.1M761.0 2341.1H782.8M771.9 2349.5V2332.7M747.9 2355.9H773.0M760.4 2365.2V2346.6M770.7 2332.8H791.0M780.9 2344.1V2321.5M773.8 2335.5H783.2M778.5 2346.3V2324.7M750.6 2354.2H767.5M759.0 2362.6V2345.8M753.5 2355.1H765.5M759.5 2365.4V2344.8M757.7 2338.3H778.5M768.1 2345.2V2331.4M889.9 2233.7H906.5M898.2 2241.7V2225.7M903.4 2228.2H912.4M907.9 2234.0V2222.3M843.4 2275.9H858.1M850.7 2288.2V2263.5M867.1 2250.5H899.3M883.2 2258.0V2242.9M931.2 2201.2H944.0M937.6 2212.8V2189.6M810.0 2298.7H840.4M825.2 2310.4V2286.9M813.5 2303.0H824.7M819.1 2314.2V2291.8M928.7 2204.4H946.3M937.5 2213.4V2195.4M846.2 2266.4H872.5M859.4 2279.7V2253.2M813.6 2300.3H823.0M818.3 2309.4V2291.2M833.7 2282.7H843.0M838.3 2289.6V2275.9M849.3 2269.2H869.4M859.4 2277.1V2261.4M833.8 2282.0H848.5M841.2 2293.7V2270.2M821.9 2293.4H836.2M829.1 2301.1V2285.8M884.8 2235.0H898.2M891.5 2247.8V2222.1M810.2 2303.3H840.3M825.3 2315.5V2291.2M806.2 2306.4H827.1M816.6 2317.8V2295.0M901.8 2214.5H930.6M916.2 2218.7V2210.4M827.4 2275.9H856.3M841.9 2281.4V2270.3M811.7 2302.3H833.3M822.5 2312.1V2292.6M801.4 2299.2H834.6M818.0 2311.8V2286.5M849.8 2271.9H865.8M857.8 2283.9V2260.0M854.7 2261.0H889.2M872.0 2269.8V2252.2M850.7 2264.5H882.0M866.3 2269.1V2259.9M848.2 2261.9H878.6M863.4 2269.9V2254.0M824.0 2286.8H836.0M830.0 2299.3V2274.2M876.6 2241.2H892.9M884.7 2246.8V2235.6M880.5 2239.0H904.1M892.3 2251.1V2226.8M870.5 2244.8H900.0M885.2 2257.9V2231.8M838.9 2275.4H855.9M847.4 2284.4V2266.5M843.5 2271.3H865.0M854.3 2278.8V2263.8M819.7 2291.9H852.8M836.2 2304.8V2278.9M821.3 2297.0H839.3M830.3 2305.2V2288.9M873.7 2242.3H889.6M881.6 2249.9V2234.6M888.0 2225.9H919.9M903.9 2230.6V2221.2M890.2 2235.6H900.3M895.2 2244.8V2226.5M821.9 2289.5H844.2M833.0 2302.6V2276.3M866.7 2252.0H887.1M876.9 2262.1V2241.9M907.8 2219.4H922.0M914.9 2230.9V2208.0M855.8 2258.8H889.8M872.8 2266.0V2251.7M829.7 2292.2H859.0M844.3 2298.9V2285.5M885.0 2228.0H915.4M900.2 2232.4V2223.6M893.8 2232.4H922.3M908.0 2239.8V2225.0M801.9 2307.2H821.4M811.7 2314.8V2299.7M819.2 2296.2H839.7M829.4 2301.2V2291.2M872.1 2255.5H889.8M880.9 2259.8V2251.2M807.9 2307.4H820.1M814.0 2320.5V2294.4M870.4 2250.2H884.0M877.2 2254.4V2245.9M834.6 2287.0H848.2M841.4 2299.7V2274.2M857.7 2245.8H887.7M872.7 2255.0V2236.5M930.0 2190.9H947.7M938.9 2197.6V2184.1M816.2 2299.6H831.0M823.6 2309.4V2289.8M846.3 2276.0H874.3M860.3 2288.8V2263.1M903.1 2224.0H918.4M910.7 2228.3V2219.7M895.8 2225.9H906.8M901.3 2235.4V2216.5M865.9 2246.7H886.8M876.4 2258.4V2235.0M891.4 2228.8H911.1M901.2 2236.4V2221.2M825.5 2285.2H840.1M832.8 2295.0V2275.3M798.5 2315.5H819.4M808.9 2326.1V2305.0M905.0 2214.2H928.0M916.5 2219.6V2208.7M814.7 2292.0H836.4M825.5 2298.0V2286.1M881.8 2240.6H900.6M891.2 2249.9V2231.2M863.7 2242.1H896.5M880.1 2254.4V2229.8M800.7 2311.2H825.7M813.2 2317.7V2304.7M837.3 2280.6H861.4M849.4 2288.7V2272.5M798.2 2305.7H832.8M815.5 2309.9V2301.5M929.8 2192.0H944.2M937.0 2202.6V2181.3M839.1 2276.9H857.4M848.3 2289.0V2264.8M895.4 2216.4H914.5M905.0 2223.2V2209.7M849.0 2268.0H863.2M856.1 2276.0V2260.0M908.7 2203.7H934.5M921.6 2211.7V2195.7M862.7 2259.1H875.5M869.1 2265.4V2252.8M799.9 2312.7H813.4M806.7 2320.7V2304.7M912.2 2217.4H922.9M917.5 2228.5V2206.2M825.8 2284.7H860.6M843.2 2298.1V2271.2M825.9 2282.6H850.5M838.2 2289.6V2275.6M836.0 2274.5H858.8M847.4 2281.3V2267.6M843.9 2276.4H865.1M854.5 2288.2V2264.6M833.3 2291.9H843.6M838.4 2298.0V2285.8M905.2 2224.8H915.8M910.5 2237.8V2211.8M852.5 2265.0H873.0M862.7 2273.4V2256.7M900.5 2221.1H924.9M912.7 2226.5V2215.8M805.5 2309.2H817.3M811.4 2314.6V2303.9M843.1 2268.7H858.2M850.7 2278.4V2259.0M819.4 2288.7H844.6M832.0 2299.7V2277.7M808.3 2293.6H833.6M821.0 2301.1V2286.1M853.2 2257.0H883.5M868.3 2265.3V2248.6M844.6 2265.2H860.0M852.3 2273.9V2256.4M828.1 2285.8H859.3M843.7 2297.9V2273.7M794.6 2308.5H824.0M809.3 2316.1V2300.9M807.2 2312.4H826.3M816.8 2319.2V2305.6M865.5 2248.5H889.1M877.3 2261.2V2235.7M917.3 2201.7H945.2M931.3 2210.3V2193.1M869.5 2244.3H900.4M884.9 2251.1V2237.5M784.0 2318.6H817.2M800.6 2326.9V2310.2M805.2 2290.8H833.5M819.4 2297.7V2283.9M921.9 2210.5H932.3M927.1 2217.0V2204.1M840.6 2276.0H857.2M848.9 2287.1V2264.9M909.3 2213.6H935.9M922.6 2217.9V2209.3M862.3 2257.8H885.1M873.7 2267.6V2248.0M828.3 2282.2H849.0M838.7 2287.3V2277.2M870.6 2255.7H879.5M875.0 2264.7V2246.7M822.3 2288.2H837.3M829.8 2298.5V2278.0M808.8 2302.6H831.3M820.1 2310.8V2294.4M919.3 2199.1H954.0M936.7 2208.7V2189.4M883.4 2242.0H910.3M896.8 2253.9V2230.2M909.0 2201.5H942.4M925.7 2207.0V2196.0M898.0 2227.2H925.6M911.8 2239.7V2214.7M842.8 2272.9H861.7M852.2 2278.9V2266.8M829.5 2288.5H840.5M835.0 2297.4V2279.7M805.4 2295.7H834.7M820.0 2302.8V2288.7M790.1 2311.7H821.8M805.9 2319.0V2304.4M843.0 2267.6H869.0M856.0 2275.0V2260.2M876.9 2243.5H897.6M887.3 2249.3V2237.6M925.6 2201.7H946.5M936.1 2211.4V2192.1M924.3 2202.5H941.0M932.6 2207.4V2197.6M851.1 2258.7H884.1M867.6 2267.4V2250.1M855.8 2259.5H881.0M868.4 2270.5V2248.5M886.2 2230.3H903.2M894.7 2238.1V2222.5M852.7 2268.8H867.3M860.0 2275.6V2261.9M840.1 2262.7H868.3M854.2 2273.4V2252.0M828.0 2289.2H846.4M837.2 2295.0V2283.3M913.9 2217.2H923.2M918.5 2228.1V2206.2M903.7 2223.2H926.2M915.0 2234.4V2212.0M905.9 2217.7H929.5M917.7 2230.1V2205.3M798.8 2309.3H829.5M814.2 2316.4V2302.1M882.4 2227.6H917.4M899.9 2237.1V2218.0M861.0 2254.4H878.0M869.5 2261.9V2247.0M886.4 2233.1H904.1M895.3 2240.6V2225.6M824.7 2283.1H859.0M841.9 2294.8V2271.3M1003.4 2126.1H1023.3M1013.3 2133.9V2118.2M978.3 2157.0H991.0M984.6 2162.4V2151.7M987.1 2154.9H1009.1M998.1 2158.4V2151.4M996.8 2140.3H1006.4M1001.6 2146.0V2134.6M996.6 2143.6H1012.0M1004.3 2151.4V2135.7M963.6 2175.8H976.6M970.1 2179.6V2172.0M1047.1 2096.0H1059.0M1053.1 2100.9V2091.0M941.3 2191.8H959.4M950.3 2196.1V2187.6M968.6 2167.7H980.7M974.7 2175.9V2159.6M1016.6 2120.3H1025.7M1021.2 2124.6V2116.0M1071.5 2081.5H1080.3M1075.9 2088.9V2074.1M990.1 2149.8H997.4M993.7 2153.7V2146.0M977.3 2154.0H995.6M986.5 2158.2V2149.9M1065.3 2077.5H1083.1M1074.2 2084.2V2070.9M1019.5 2126.5H1031.1M1025.3 2131.4V2121.5M965.8 2167.6H982.5M974.1 2173.7V2161.5M1045.0 2100.2H1059.1M1052.0 2108.0V2092.4M957.9 2180.4H973.4M965.7 2187.0V2173.9M938.1 2190.2H957.9M948.0 2195.6V2184.9M1065.4 2075.5H1083.9M1074.7 2083.1V2067.9M1069.7 2083.2H1078.6M1074.2 2089.4V2077.1M972.0 2163.8H985.2M978.6 2169.8V2157.8M958.0 2173.5H979.5M968.7 2182.0V2165.0M978.5 2159.7H990.7M984.6 2163.3V2156.1M941.4 2185.9H960.5M951.0 2192.9V2178.8M995.0 2140.9H1009.2M1002.1 2145.9V2135.9M962.4 2169.4H976.9M969.6 2172.6V2166.1M1008.6 2130.3H1024.1M1016.4 2133.9V2126.8M1018.7 2125.3H1035.4M1027.1 2130.1V2120.4M1024.7 2115.6H1040.5M1032.6 2123.4V2107.8M1061.9 2081.2H1074.1M1068.0 2084.7V2077.6M1053.2 2097.3H1060.6M1056.9 2105.1V2089.5M962.7 2173.8H972.6M967.6 2179.0V2168.6M1003.9 2133.1H1011.1M1007.5 2137.0V2129.3M971.8 2168.1H981.1M976.5 2176.5V2159.7M970.6 2169.1H980.5M975.5 2173.9V2164.2M954.1 2180.3H965.5M959.8 2187.8V2172.8M957.4 2173.6H974.6M966.0 2179.3V2168.0M1034.7 2103.7H1047.8M1041.2 2111.9V2095.6M968.2 2160.6H979.6M973.9 2168.3V2152.9M991.8 2145.3H1011.1M1001.5 2152.3V2138.2M1049.0 2103.4H1056.3M1052.7 2107.8V2099.1M1054.1 2086.3H1076.8M1065.4 2093.5V2079.2M989.5 2148.8H1003.4M996.5 2153.8V2143.8M1043.2 2098.9H1060.8M1052.0 2104.8V2093.0M1005.9 2131.7H1015.5M1010.7 2138.3V2125.1M969.2 2158.7H993.4M981.3 2164.2V2153.2M949.2 2183.4H963.3M956.2 2188.5V2178.3M964.1 2171.2H982.6M973.4 2177.3V2165.1M958.0 2173.5H980.2M969.1 2179.1V2167.9M936.0 2192.9H957.8M946.9 2200.2V2185.5M1030.3 2121.4H1040.1M1035.2 2125.4V2117.3M1047.8 2096.4H1059.9M1053.9 2102.8V2090.0M1061.9 2089.8H1070.9M1066.4 2094.5V2085.1M1014.1 2127.8H1024.7M1019.4 2131.6V2123.9M968.2 2164.0H975.7M971.9 2169.4V2158.7M1002.4 2128.7H1025.4M1013.9 2132.2V2125.1M981.6 2151.3H1004.9M993.2 2156.1V2146.4M937.6 2187.0H956.3M947.0 2193.5V2180.5M1043.3 2094.2H1065.3M1054.3 2101.9V2086.6M1034.5 2106.7H1053.2M1043.9 2112.2V2101.1M950.2 2179.2H963.2M956.7 2184.4V2173.9M978.5 2154.7H989.7M984.1 2161.1V2148.2M980.1 2151.8H999.0M989.5 2159.3V2144.2M1009.6 2132.8H1021.7M1015.7 2139.9V2125.6M1059.4 2078.5H1080.9M1070.1 2084.7V2072.3M1060.8 2091.8H1068.1M1064.5 2097.0V2086.7M980.4 2159.4H988.1M984.3 2162.8V2156.0M1011.6 2122.8H1034.3M1022.9 2126.2V2119.3M975.8 2155.0H993.1M984.5 2162.0V2148.1M992.0 2144.0H1000.4M996.2 2148.3V2139.6M1016.5 2124.7H1026.1M1021.3 2128.0V2121.4M1056.2 2081.3H1076.9M1066.5 2089.0V2073.7M941.5 2188.8H950.4M945.9 2196.9V2180.8M1000.6 2139.9H1012.0M1006.3 2143.0V2136.7M1003.8 2135.9H1015.8M1009.8 2143.2V2128.7M1042.7 2103.1H1055.7M1049.2 2106.8V2099.4M971.2 2152.3H992.7M982.0 2158.3V2146.4M1062.7 2083.5H1074.6M1068.6 2090.3V2076.6M1050.6 2087.3H1066.5M1058.6 2095.3V2079.3M1018.6 2127.5H1031.9M1025.2 2132.3V2122.8M972.0 2165.6H981.1M976.6 2169.2V2161.9M1005.0 2129.9H1029.0M1017.0 2135.7V2124.2M950.2 2178.7H974.6M962.4 2183.2V2174.2M1068.8 2073.7H1083.1M1075.9 2076.8V2070.5M961.4 2167.2H977.3M969.3 2171.6V2162.8M1008.0 2132.7H1021.7M1014.8 2140.7V2124.8M959.2 2172.2H976.9M968.1 2180.6V2163.8M1025.1 2116.4H1033.8M1029.5 2121.7V2111.1M1067.7 2077.4H1076.7M1072.2 2081.3V2073.5M1094.9 2060.4H1097.5M1096.2 2061.6V2059.2M1099.2 2057.2H1101.9M1100.6 2058.3V2056.0M1114.6 2041.9H1117.2M1115.9 2043.1V2040.8M1151.9 2011.2H1154.5M1153.2 2012.4V2010.0M769.2 2303.9H799.9M784.6 2311.6V2296.2M762.6 2323.2H775.8M769.2 2329.0V2317.4M843.8 2255.6H874.5M859.2 2269.1V2242.1M863.6 2257.5H881.1M872.3 2265.3V2249.8M986.4 2131.9H1008.4M997.4 2137.7V2126.1M1067.6 2072.0H1085.2M1076.4 2077.8V2066.2" fill="none" stroke="#ee1c1c" stroke-width="3.2"/>
<path d="M733 2377h0M744 2372h0M727 2390h0M733 2383h0M727 2387h0M748 2363h0M731 2384h0M740 2368h0M740 2384h0M739 2377h0M732 2383h0M743 2367h0M733 2379h0M746 2364h0M732 2383h0M752 2360h0M741 2368h0M738 2380h0M746 2376h0M728 2390h0M736 2377h0M730 2372h0M747 2361h0M727 2382h0M728 2385h0M732 2376h0M761 2344h0M741 2374h0M727 2385h0M736 2380h0M729 2390h0M736 2379h0M735 2379h0M745 2373h0M735 2379h0M726 2380h0M732 2376h0M750 2367h0M730 2388h0M734 2371h0M739 2367h0M733 2379h0M751 2362h0M728 2391h0M744 2371h0M746 2371h0M749 2365h0M746 2365h0M750 2361h0M726 2390h0M734 2375h0M729 2381h0M735 2379h0M756 2365h0M750 2370h0M740 2379h0M738 2377h0M736 2376h0M728 2377h0M734 2384h0M731 2384h0M726 2383h0M730 2377h0M746 2368h0M754 2355h0M734 2377h0M732 2376h0M752 2364h0M728 2389h0M749 2371h0M739 2384h0M759 2355h0M735 2376h0M730 2383h0M737 2380h0M749 2357h0M742 2372h0M742 2360h0M731 2380h0M728 2385h0M731 2388h0M733 2379h0M731 2381h0M729 2388h0M748 2358h0M747 2369h0M736 2378h0M740 2373h0M733 2375h0M738 2372h0M747 2375h0M727 2381h0M726 2382h0M755 2360h0M734 2383h0M735 2377h0M731 2379h0M735 2376h0M739 2375h0M729 2379h0M735 2369h0M728 2384h0M729 2382h0M740 2372h0M740 2372h0M749 2364h0M745 2366h0M728 2384h0M731 2378h0M742 2369h0M746 2363h0M747 2366h0M742 2372h0M741 2368h0M742 2376h0M764 2356h0M727 2387h0M739 2373h0M735 2379h0M728 2385h0M727 2380h0M744 2368h0M731 2378h0M729 2386h0M735 2381h0M726 2388h0M741 2373h0M736 2376h0M726 2391h0M727 2385h0M786 2334h0M779 2332h0M766 2344h0M778 2334h0M781 2337h0M752 2362h0M761 2355h0M783 2339h0M787 2331h0M782 2336h0M765 2348h0M786 2337h0M770 2344h0M780 2340h0M777 2337h0M766 2352h0M776 2343h0M774 2342h0M754 2350h0M759 2357h0M755 2359h0M760 2354h0M771 2342h0M772 2341h0M760 2356h0M781 2333h0M778 2335h0M759 2354h0M760 2355h0M768 2338h0M898 2234h0M908 2228h0M851 2276h0M883 2250h0M938 2201h0M825 2299h0M819 2303h0M937 2204h0M859 2266h0M818 2300h0M838 2283h0M859 2269h0M841 2282h0M829 2293h0M891 2235h0M825 2303h0M817 2306h0M916 2215h0M842 2276h0M822 2302h0M818 2299h0M858 2272h0M872 2261h0M866 2264h0M863 2262h0M830 2287h0M885 2241h0M892 2239h0M885 2245h0M847 2275h0M854 2271h0M836 2292h0M830 2297h0M882 2242h0M904 2226h0M895 2236h0M833 2289h0M877 2252h0M915 2219h0M873 2259h0M844 2292h0M900 2228h0M908 2232h0M812 2307h0M829 2296h0M881 2255h0M814 2307h0M877 2250h0M841 2287h0M873 2246h0M939 2191h0M824 2300h0M860 2276h0M911 2224h0M901 2226h0M876 2247h0M901 2229h0M833 2285h0M809 2316h0M917 2214h0M826 2292h0M891 2241h0M880 2242h0M813 2311h0M849 2281h0M815 2306h0M937 2192h0M848 2277h0M905 2216h0M856 2268h0M922 2204h0M869 2259h0M807 2313h0M918 2217h0M843 2285h0M838 2283h0M847 2274h0M855 2276h0M838 2292h0M910 2225h0M863 2265h0M913 2221h0M811 2309h0M851 2269h0M832 2289h0M821 2294h0M868 2257h0M852 2265h0M844 2286h0M809 2309h0M817 2312h0M877 2248h0M931 2202h0M885 2244h0M801 2319h0M819 2291h0M927 2211h0M849 2276h0M923 2214h0M874 2258h0M839 2282h0M875 2256h0M830 2288h0M820 2303h0M937 2199h0M897 2242h0M926 2201h0M912 2227h0M852 2273h0M835 2289h0M820 2296h0M806 2312h0M856 2268h0M887 2243h0M936 2202h0M933 2203h0M868 2259h0M868 2260h0M895 2230h0M860 2269h0M854 2263h0M837 2289h0M919 2217h0M915 2223h0M918 2218h0M814 2309h0M900 2228h0M869 2254h0M895 2233h0M842 2283h0M1013 2126h0M985 2157h0M998 2155h0M1002 2140h0M1004 2144h0M970 2176h0M1053 2096h0M950 2192h0M975 2168h0M1021 2120h0M1076 2082h0M994 2150h0M986 2154h0M1074 2078h0M1025 2126h0M974 2168h0M1052 2100h0M966 2180h0M948 2190h0M1075 2076h0M1074 2083h0M979 2164h0M969 2174h0M985 2160h0M951 2186h0M1002 2141h0M970 2169h0M1016 2130h0M1027 2125h0M1033 2116h0M1068 2081h0M1057 2097h0M968 2174h0M1007 2133h0M976 2168h0M976 2169h0M960 2180h0M966 2174h0M1041 2104h0M974 2161h0M1001 2145h0M1053 2103h0M1065 2086h0M996 2149h0M1052 2099h0M1011 2132h0M981 2159h0M956 2183h0M973 2171h0M969 2173h0M947 2193h0M1035 2121h0M1054 2096h0M1066 2090h0M1019 2128h0M972 2164h0M1014 2129h0M993 2151h0M947 2187h0M1054 2094h0M1044 2107h0M957 2179h0M984 2155h0M990 2152h0M1016 2133h0M1070 2079h0M1064 2092h0M984 2159h0M1023 2123h0M984 2155h0M996 2144h0M1021 2125h0M1067 2081h0M946 2189h0M1006 2140h0M1010 2136h0M1049 2103h0M982 2152h0M1069 2083h0M1059 2087h0M1025 2128h0M977 2166h0M1017 2130h0M962 2179h0M1076 2074h0M969 2167h0M1015 2133h0M968 2172h0M1029 2116h0M1072 2077h0M1096 2060h0M1101 2057h0M1116 2042h0M1153 2011h0M785 2304h0M769 2323h0M859 2256h0M872 2258h0M997 2132h0M1076 2072h0" stroke="#1616e8" stroke-width="6.8" stroke-linecap="round" fill="none" opacity="1.0"/>
<rect x="702.9" y="2000.5" width="461.3" height="406.3" fill="none" stroke="#000" stroke-width="2.5"/>
<text x="688.0" y="2396.5" text-anchor="end">0</text>
<line x1="694.9" y1="2387.0" x2="702.9" y2="2387.0" stroke="#000" stroke-width="2.5" />
<text x="688.0" y="2319.2" text-anchor="end">20</text>
<line x1="694.9" y1="2309.7" x2="702.9" y2="2309.7" stroke="#000" stroke-width="2.5" />
<text x="688.0" y="2241.9" text-anchor="end">40</text>
<line x1="694.9" y1="2232.4" x2="702.9" y2="2232.4" stroke="#000" stroke-width="2.5" />
<text x="688.0" y="2164.6" text-anchor="end">60</text>
<line x1="694.9" y1="2155.1" x2="702.9" y2="2155.1" stroke="#000" stroke-width="2.5" />
<text x="688.0" y="2087.3" text-anchor="end">80</text>
<line x1="694.9" y1="2077.8" x2="702.9" y2="2077.8" stroke="#000" stroke-width="2.5" />
<text x="688.0" y="2010.0" text-anchor="end">100</text>
<line x1="694.9" y1="2000.5" x2="702.9" y2="2000.5" stroke="#000" stroke-width="2.5" />
<text x="725.3" y="2447.0" text-anchor="middle">0</text>
<line x1="725.3" y1="2406.8" x2="725.3" y2="2414.8" stroke="#000" stroke-width="2.5" />
<text x="944.8" y="2447.0" text-anchor="middle">50</text>
<line x1="944.8" y1="2406.8" x2="944.8" y2="2414.8" stroke="#000" stroke-width="2.5" />
<text x="1164.2" y="2447.0" text-anchor="middle">100</text>
<line x1="1164.2" y1="2406.8" x2="1164.2" y2="2414.8" stroke="#000" stroke-width="2.5" />
<text x="945.0" y="2477.0" text-anchor="middle">explained variance for linear models (%)</text>
<text x="629.5" y="2211.0" text-anchor="middle" transform="rotate(-90 629.5 2211.0)">explained variance for non-linear models (%)</text>
<text x="1189.0" y="1941.0" font-size="50" font-weight="bold">k</text>
<rect x="1373.9" y="1924.7" width="63.6" height="25.8" fill="#f8f1ed"/>
<rect x="1437.0" y="1924.7" width="63.6" height="25.8" fill="#e6866a"/>
<rect x="1500.1" y="1924.7" width="63.6" height="25.8" fill="#f7f6f6"/>
<rect x="1563.2" y="1924.7" width="63.6" height="25.8" fill="#f7f6f6"/>
<rect x="1626.3" y="1924.7" width="63.6" height="25.8" fill="#fce0d0"/>
<rect x="1689.5" y="1924.7" width="63.6" height="25.8" fill="#f7f6f6"/>
<rect x="1752.6" y="1924.7" width="63.6" height="25.8" fill="#f7f6f6"/>
<rect x="1815.7" y="1924.7" width="63.6" height="25.8" fill="#f7f6f6"/>
<text x="1405.5" y="1945.3" text-anchor="middle" font-family="DejaVu Sans, sans-serif" font-weight="bold" font-size="23.5" fill="#fff">4</text>
<text x="1468.6" y="1945.3" text-anchor="middle" font-family="DejaVu Sans, sans-serif" font-weight="bold" font-size="23.5" fill="#fff">49</text>
<text x="1531.7" y="1945.3" text-anchor="middle" font-family="DejaVu Sans, sans-serif" font-weight="bold" font-size="23.5" fill="#fff">0</text>
<text x="1594.8" y="1945.3" text-anchor="middle" font-family="DejaVu Sans, sans-serif" font-weight="bold" font-size="23.5" fill="#fff">0</text>
<text x="1657.9" y="1945.3" text-anchor="middle" font-family="DejaVu Sans, sans-serif" font-weight="bold" font-size="23.5" fill="#fff">16</text>
<text x="1721.0" y="1945.3" text-anchor="middle" font-family="DejaVu Sans, sans-serif" font-weight="bold" font-size="23.5" fill="#fff">0</text>
<text x="1784.1" y="1945.3" text-anchor="middle" font-family="DejaVu Sans, sans-serif" font-weight="bold" font-size="23.5" fill="#fff">0</text>
<text x="1847.2" y="1945.3" text-anchor="middle" font-family="DejaVu Sans, sans-serif" font-weight="bold" font-size="23.5" fill="#fff">0</text>
<text x="1359.0" y="1946.8" font-size="23" text-anchor="end" textLength="131.7" lengthAdjust="spacingAndGlyphs">cell surface area</text>
<line x1="1363.0" y1="1937.3" x2="1373.9" y2="1937.3" stroke="#000" stroke-width="2.5" />
<rect x="1373.9" y="1950.0" width="63.6" height="25.8" fill="#faeae1"/>
<rect x="1437.0" y="1950.0" width="63.6" height="25.8" fill="#c2383a"/>
<rect x="1500.1" y="1950.0" width="63.6" height="25.8" fill="#f7f6f6"/>
<rect x="1563.2" y="1950.0" width="63.6" height="25.8" fill="#f7f6f6"/>
<rect x="1626.3" y="1950.0" width="63.6" height="25.8" fill="#f9ebe3"/>
<rect x="1689.5" y="1950.0" width="63.6" height="25.8" fill="#f7f6f6"/>
<rect x="1752.6" y="1950.0" width="63.6" height="25.8" fill="#f7f6f6"/>
<rect x="1815.7" y="1950.0" width="63.6" height="25.8" fill="#f7f6f6"/>
<text x="1405.5" y="1970.6" text-anchor="middle" font-family="DejaVu Sans, sans-serif" font-weight="bold" font-size="23.5" fill="#fff">9</text>
<text x="1468.6" y="1970.6" text-anchor="middle" font-family="DejaVu Sans, sans-serif" font-weight="bold" font-size="23.5" fill="#fff">71</text>
<text x="1531.7" y="1970.6" text-anchor="middle" font-family="DejaVu Sans, sans-serif" font-weight="bold" font-size="23.5" fill="#fff">0</text>
<text x="1594.8" y="1970.6" text-anchor="middle" font-family="DejaVu Sans, sans-serif" font-weight="bold" font-size="23.5" fill="#fff">0</text>
<text x="1657.9" y="1970.6" text-anchor="middle" font-family="DejaVu Sans, sans-serif" font-weight="bold" font-size="23.5" fill="#fff">8</text>
<text x="1721.0" y="1970.6" text-anchor="middle" font-family="DejaVu Sans, sans-serif" font-weight="bold" font-size="23.5" fill="#fff">0</text>
<text x="1784.1" y="1970.6" text-anchor="middle" font-family="DejaVu Sans, sans-serif" font-weight="bold" font-size="23.5" fill="#fff">0</text>
<text x="1847.2" y="1970.6" text-anchor="middle" font-family="DejaVu Sans, sans-serif" font-weight="bold" font-size="23.5" fill="#fff">0</text>
<text x="1359.0" y="1972.1" font-size="23" text-anchor="end" textLength="89.8" lengthAdjust="spacingAndGlyphs">cell volume</text>
<line x1="1363.0" y1="1962.6" x2="1373.9" y2="1962.6" stroke="#000" stroke-width="2.5" />
<rect x="1373.9" y="1975.2" width="63.6" height="25.8" fill="#a51429"/>
<rect x="1437.0" y="1975.2" width="63.6" height="25.8" fill="#f7f6f6"/>
<rect x="1500.1" y="1975.2" width="63.6" height="25.8" fill="#f7f6f6"/>
<rect x="1563.2" y="1975.2" width="63.6" height="25.8" fill="#f7f6f6"/>
<rect x="1626.3" y="1975.2" width="63.6" height="25.8" fill="#f7f6f6"/>
<rect x="1689.5" y="1975.2" width="63.6" height="25.8" fill="#f7f6f6"/>
<rect x="1752.6" y="1975.2" width="63.6" height="25.8" fill="#f7f6f6"/>
<rect x="1815.7" y="1975.2" width="63.6" height="25.8" fill="#f7f6f6"/>
<text x="1405.5" y="1995.8" text-anchor="middle" font-family="DejaVu Sans, sans-serif" font-weight="bold" font-size="23.5" fill="#fff">83</text>
<text x="1468.6" y="1995.8" text-anchor="middle" font-family="DejaVu Sans, sans-serif" font-weight="bold" font-size="23.5" fill="#fff">0</text>
<text x="1531.7" y="1995.8" text-anchor="middle" font-family="DejaVu Sans, sans-serif" font-weight="bold" font-size="23.5" fill="#fff">0</text>
<text x="1594.8" y="1995.8" text-anchor="middle" font-family="DejaVu Sans, sans-serif" font-weight="bold" font-size="23.5" fill="#fff">0</text>
<text x="1657.9" y="1995.8" text-anchor="middle" font-family="DejaVu Sans, sans-serif" font-weight="bold" font-size="23.5" fill="#fff">0</text>
<text x="1721.0" y="1995.8" text-anchor="middle" font-family="DejaVu Sans, sans-serif" font-weight="bold" font-size="23.5" fill="#fff">0</text>
<text x="1784.1" y="1995.8" text-anchor="middle" font-family="DejaVu Sans, sans-serif" font-weight="bold" font-size="23.5" fill="#fff">0</text>
<text x="1847.2" y="1995.8" text-anchor="middle" font-family="DejaVu Sans, sans-serif" font-weight="bold" font-size="23.5" fill="#fff">0</text>
<text x="1359.0" y="1997.3" font-size="23" text-anchor="end" textLength="80.8" lengthAdjust="spacingAndGlyphs">cell height</text>
<line x1="1363.0" y1="1987.8" x2="1373.9" y2="1987.8" stroke="#000" stroke-width="2.5" />
<rect x="1373.9" y="2000.5" width="63.6" height="25.8" fill="#f8f4f2"/>
<rect x="1437.0" y="2000.5" width="63.6" height="25.8" fill="#d6604d"/>
<rect x="1500.1" y="2000.5" width="63.6" height="25.8" fill="#f7f6f6"/>
<rect x="1563.2" y="2000.5" width="63.6" height="25.8" fill="#f7f6f6"/>
<rect x="1626.3" y="2000.5" width="63.6" height="25.8" fill="#fae9df"/>
<rect x="1689.5" y="2000.5" width="63.6" height="25.8" fill="#f7f6f6"/>
<rect x="1752.6" y="2000.5" width="63.6" height="25.8" fill="#f7f6f6"/>
<rect x="1815.7" y="2000.5" width="63.6" height="25.8" fill="#f7f6f6"/>
<text x="1405.5" y="2021.1" text-anchor="middle" font-family="DejaVu Sans, sans-serif" font-weight="bold" font-size="23.5" fill="#fff">2</text>
<text x="1468.6" y="2021.1" text-anchor="middle" font-family="DejaVu Sans, sans-serif" font-weight="bold" font-size="23.5" fill="#fff">60</text>
<text x="1531.7" y="2021.1" text-anchor="middle" font-family="DejaVu Sans, sans-serif" font-weight="bold" font-size="23.5" fill="#fff">0</text>
<text x="1594.8" y="2021.1" text-anchor="middle" font-family="DejaVu Sans, sans-serif" font-weight="bold" font-size="23.5" fill="#fff">0</text>
<text x="1657.9" y="2021.1" text-anchor="middle" font-family="DejaVu Sans, sans-serif" font-weight="bold" font-size="23.5" fill="#fff">10</text>
<text x="1721.0" y="2021.1" text-anchor="middle" font-family="DejaVu Sans, sans-serif" font-weight="bold" font-size="23.5" fill="#fff">0</text>
<text x="1784.1" y="2021.1" text-anchor="middle" font-family="DejaVu Sans, sans-serif" font-weight="bold" font-size="23.5" fill="#fff">0</text>
<text x="1847.2" y="2021.1" text-anchor="middle" font-family="DejaVu Sans, sans-serif" font-weight="bold" font-size="23.5" fill="#fff">0</text>
<text x="1359.0" y="2022.6" font-size="23" text-anchor="end" textLength="163.6" lengthAdjust="spacingAndGlyphs">nuclear surface area</text>
<line x1="1363.0" y1="2013.1" x2="1373.9" y2="2013.1" stroke="#000" stroke-width="2.5" />
<rect x="1373.9" y="2025.7" width="63.6" height="25.8" fill="#fae9df"/>
<rect x="1437.0" y="2025.7" width="63.6" height="25.8" fill="#cb4942"/>
<rect x="1500.1" y="2025.7" width="63.6" height="25.8" fill="#f7f6f6"/>
<rect x="1563.2" y="2025.7" width="63.6" height="25.8" fill="#f7f6f6"/>
<rect x="1626.3" y="2025.7" width="63.6" height="25.8" fill="#f9ebe3"/>
<rect x="1689.5" y="2025.7" width="63.6" height="25.8" fill="#f7f6f6"/>
<rect x="1752.6" y="2025.7" width="63.6" height="25.8" fill="#f7f6f6"/>
<rect x="1815.7" y="2025.7" width="63.6" height="25.8" fill="#f7f6f6"/>
<text x="1405.5" y="2046.3" text-anchor="middle" font-family="DejaVu Sans, sans-serif" font-weight="bold" font-size="23.5" fill="#fff">10</text>
<text x="1468.6" y="2046.3" text-anchor="middle" font-family="DejaVu Sans, sans-serif" font-weight="bold" font-size="23.5" fill="#fff">66</text>
<text x="1531.7" y="2046.3" text-anchor="middle" font-family="DejaVu Sans, sans-serif" font-weight="bold" font-size="23.5" fill="#fff">0</text>
<text x="1594.8" y="2046.3" text-anchor="middle" font-family="DejaVu Sans, sans-serif" font-weight="bold" font-size="23.5" fill="#fff">0</text>
<text x="1657.9" y="2046.3" text-anchor="middle" font-family="DejaVu Sans, sans-serif" font-weight="bold" font-size="23.5" fill="#fff">8</text>
<text x="1721.0" y="2046.3" text-anchor="middle" font-family="DejaVu Sans, sans-serif" font-weight="bold" font-size="23.5" fill="#fff">0</text>
<text x="1784.1" y="2046.3" text-anchor="middle" font-family="DejaVu Sans, sans-serif" font-weight="bold" font-size="23.5" fill="#fff">0</text>
<text x="1847.2" y="2046.3" text-anchor="middle" font-family="DejaVu Sans, sans-serif" font-weight="bold" font-size="23.5" fill="#fff">0</text>
<text x="1359.0" y="2047.8" font-size="23" text-anchor="end" textLength="121.7" lengthAdjust="spacingAndGlyphs">nuclear volume</text>
<line x1="1363.0" y1="2038.3" x2="1373.9" y2="2038.3" stroke="#000" stroke-width="2.5" />
<rect x="1373.9" y="2051.0" width="63.6" height="25.8" fill="#a51429"/>
<rect x="1437.0" y="2051.0" width="63.6" height="25.8" fill="#f7f5f4"/>
<rect x="1500.1" y="2051.0" width="63.6" height="25.8" fill="#f7f6f6"/>
<rect x="1563.2" y="2051.0" width="63.6" height="25.8" fill="#f7f6f6"/>
<rect x="1626.3" y="2051.0" width="63.6" height="25.8" fill="#f7f5f4"/>
<rect x="1689.5" y="2051.0" width="63.6" height="25.8" fill="#f7f6f6"/>
<rect x="1752.6" y="2051.0" width="63.6" height="25.8" fill="#f7f6f6"/>
<rect x="1815.7" y="2051.0" width="63.6" height="25.8" fill="#f7f6f6"/>
<text x="1405.5" y="2071.6" text-anchor="middle" font-family="DejaVu Sans, sans-serif" font-weight="bold" font-size="23.5" fill="#fff">83</text>
<text x="1468.6" y="2071.6" text-anchor="middle" font-family="DejaVu Sans, sans-serif" font-weight="bold" font-size="23.5" fill="#fff">1</text>
<text x="1531.7" y="2071.6" text-anchor="middle" font-family="DejaVu Sans, sans-serif" font-weight="bold" font-size="23.5" fill="#fff">0</text>
<text x="1594.8" y="2071.6" text-anchor="middle" font-family="DejaVu Sans, sans-serif" font-weight="bold" font-size="23.5" fill="#fff">0</text>
<text x="1657.9" y="2071.6" text-anchor="middle" font-family="DejaVu Sans, sans-serif" font-weight="bold" font-size="23.5" fill="#fff">1</text>
<text x="1721.0" y="2071.6" text-anchor="middle" font-family="DejaVu Sans, sans-serif" font-weight="bold" font-size="23.5" fill="#fff">0</text>
<text x="1784.1" y="2071.6" text-anchor="middle" font-family="DejaVu Sans, sans-serif" font-weight="bold" font-size="23.5" fill="#fff">0</text>
<text x="1847.2" y="2071.6" text-anchor="middle" font-family="DejaVu Sans, sans-serif" font-weight="bold" font-size="23.5" fill="#fff">0</text>
<text x="1359.0" y="2073.1" font-size="23" text-anchor="end" textLength="115.8" lengthAdjust="spacingAndGlyphs">nucleus height</text>
<line x1="1363.0" y1="2063.6" x2="1373.9" y2="2063.6" stroke="#000" stroke-width="2.5" />
<rect x="1373.9" y="2076.2" width="63.6" height="25.8" fill="#f9eee7"/>
<rect x="1437.0" y="2076.2" width="63.6" height="25.8" fill="#c94741"/>
<rect x="1500.1" y="2076.2" width="63.6" height="25.8" fill="#f7f6f6"/>
<rect x="1563.2" y="2076.2" width="63.6" height="25.8" fill="#f7f6f6"/>
<rect x="1626.3" y="2076.2" width="63.6" height="25.8" fill="#f9ebe3"/>
<rect x="1689.5" y="2076.2" width="63.6" height="25.8" fill="#f7f6f6"/>
<rect x="1752.6" y="2076.2" width="63.6" height="25.8" fill="#f7f6f6"/>
<rect x="1815.7" y="2076.2" width="63.6" height="25.8" fill="#f7f6f6"/>
<text x="1405.5" y="2096.9" text-anchor="middle" font-family="DejaVu Sans, sans-serif" font-weight="bold" font-size="23.5" fill="#fff">7</text>
<text x="1468.6" y="2096.9" text-anchor="middle" font-family="DejaVu Sans, sans-serif" font-weight="bold" font-size="23.5" fill="#fff">67</text>
<text x="1531.7" y="2096.9" text-anchor="middle" font-family="DejaVu Sans, sans-serif" font-weight="bold" font-size="23.5" fill="#fff">0</text>
<text x="1594.8" y="2096.9" text-anchor="middle" font-family="DejaVu Sans, sans-serif" font-weight="bold" font-size="23.5" fill="#fff">0</text>
<text x="1657.9" y="2096.9" text-anchor="middle" font-family="DejaVu Sans, sans-serif" font-weight="bold" font-size="23.5" fill="#fff">8</text>
<text x="1721.0" y="2096.9" text-anchor="middle" font-family="DejaVu Sans, sans-serif" font-weight="bold" font-size="23.5" fill="#fff">0</text>
<text x="1784.1" y="2096.9" text-anchor="middle" font-family="DejaVu Sans, sans-serif" font-weight="bold" font-size="23.5" fill="#fff">0</text>
<text x="1847.2" y="2096.9" text-anchor="middle" font-family="DejaVu Sans, sans-serif" font-weight="bold" font-size="23.5" fill="#fff">0</text>
<text x="1359.0" y="2098.4" font-size="23" text-anchor="end" textLength="156.6" lengthAdjust="spacingAndGlyphs">cytoplasmic volume</text>
<line x1="1363.0" y1="2088.9" x2="1373.9" y2="2088.9" stroke="#000" stroke-width="2.5" />
<rect x="1373.9" y="2101.5" width="63.6" height="25.8" fill="#f7f5f4"/>
<rect x="1437.0" y="2101.5" width="63.6" height="25.8" fill="#d6604d"/>
<rect x="1500.1" y="2101.5" width="63.6" height="25.8" fill="#f7f6f6"/>
<rect x="1563.2" y="2101.5" width="63.6" height="25.8" fill="#f7f6f6"/>
<rect x="1626.3" y="2101.5" width="63.6" height="25.8" fill="#f9eee7"/>
<rect x="1689.5" y="2101.5" width="63.6" height="25.8" fill="#f7f6f6"/>
<rect x="1752.6" y="2101.5" width="63.6" height="25.8" fill="#f7f6f6"/>
<rect x="1815.7" y="2101.5" width="63.6" height="25.8" fill="#f7f6f6"/>
<text x="1405.5" y="2122.1" text-anchor="middle" font-family="DejaVu Sans, sans-serif" font-weight="bold" font-size="23.5" fill="#fff">1</text>
<text x="1468.6" y="2122.1" text-anchor="middle" font-family="DejaVu Sans, sans-serif" font-weight="bold" font-size="23.5" fill="#fff">60</text>
<text x="1531.7" y="2122.1" text-anchor="middle" font-family="DejaVu Sans, sans-serif" font-weight="bold" font-size="23.5" fill="#fff">0</text>
<text x="1594.8" y="2122.1" text-anchor="middle" font-family="DejaVu Sans, sans-serif" font-weight="bold" font-size="23.5" fill="#fff">0</text>
<text x="1657.9" y="2122.1" text-anchor="middle" font-family="DejaVu Sans, sans-serif" font-weight="bold" font-size="23.5" fill="#fff">7</text>
<text x="1721.0" y="2122.1" text-anchor="middle" font-family="DejaVu Sans, sans-serif" font-weight="bold" font-size="23.5" fill="#fff">0</text>
<text x="1784.1" y="2122.1" text-anchor="middle" font-family="DejaVu Sans, sans-serif" font-weight="bold" font-size="23.5" fill="#fff">0</text>
<text x="1847.2" y="2122.1" text-anchor="middle" font-family="DejaVu Sans, sans-serif" font-weight="bold" font-size="23.5" fill="#fff">0</text>
<text x="1359.0" y="2123.6" font-size="23" text-anchor="end" textLength="114.7" lengthAdjust="spacingAndGlyphs">nucleoli (DFC)</text>
<line x1="1363.0" y1="2114.1" x2="1373.9" y2="2114.1" stroke="#000" stroke-width="2.5" />
<rect x="1373.9" y="2126.7" width="63.6" height="25.8" fill="#f7f6f6"/>
<rect x="1437.0" y="2126.7" width="63.6" height="25.8" fill="#de735c"/>
<rect x="1500.1" y="2126.7" width="63.6" height="25.8" fill="#f7f6f6"/>
<rect x="1563.2" y="2126.7" width="63.6" height="25.8" fill="#f7f6f6"/>
<rect x="1626.3" y="2126.7" width="63.6" height="25.8" fill="#f9eee7"/>
<rect x="1689.5" y="2126.7" width="63.6" height="25.8" fill="#f7f6f6"/>
<rect x="1752.6" y="2126.7" width="63.6" height="25.8" fill="#f7f6f6"/>
<rect x="1815.7" y="2126.7" width="63.6" height="25.8" fill="#f7f6f6"/>
<text x="1405.5" y="2147.4" text-anchor="middle" font-family="DejaVu Sans, sans-serif" font-weight="bold" font-size="23.5" fill="#fff">0</text>
<text x="1468.6" y="2147.4" text-anchor="middle" font-family="DejaVu Sans, sans-serif" font-weight="bold" font-size="23.5" fill="#fff">54</text>
<text x="1531.7" y="2147.4" text-anchor="middle" font-family="DejaVu Sans, sans-serif" font-weight="bold" font-size="23.5" fill="#fff">0</text>
<text x="1594.8" y="2147.4" text-anchor="middle" font-family="DejaVu Sans, sans-serif" font-weight="bold" font-size="23.5" fill="#fff">0</text>
<text x="1657.9" y="2147.4" text-anchor="middle" font-family="DejaVu Sans, sans-serif" font-weight="bold" font-size="23.5" fill="#fff">7</text>
<text x="1721.0" y="2147.4" text-anchor="middle" font-family="DejaVu Sans, sans-serif" font-weight="bold" font-size="23.5" fill="#fff">0</text>
<text x="1784.1" y="2147.4" text-anchor="middle" font-family="DejaVu Sans, sans-serif" font-weight="bold" font-size="23.5" fill="#fff">0</text>
<text x="1847.2" y="2147.4" text-anchor="middle" font-family="DejaVu Sans, sans-serif" font-weight="bold" font-size="23.5" fill="#fff">0</text>
<text x="1359.0" y="2148.9" font-size="23" text-anchor="end" textLength="104.7" lengthAdjust="spacingAndGlyphs">nucleoli (GC)</text>
<line x1="1363.0" y1="2139.4" x2="1373.9" y2="2139.4" stroke="#000" stroke-width="2.5" />
<rect x="1373.9" y="2152.0" width="63.6" height="25.8" fill="#d7e8f1"/>
<rect x="1437.0" y="2152.0" width="63.6" height="25.8" fill="#fcd3bc"/>
<rect x="1500.1" y="2152.0" width="63.6" height="25.8" fill="#f7f6f6"/>
<rect x="1563.2" y="2152.0" width="63.6" height="25.8" fill="#f7f6f6"/>
<rect x="1626.3" y="2152.0" width="63.6" height="25.8" fill="#f7f5f4"/>
<rect x="1689.5" y="2152.0" width="63.6" height="25.8" fill="#f7f6f6"/>
<rect x="1752.6" y="2152.0" width="63.6" height="25.8" fill="#f7f6f6"/>
<rect x="1815.7" y="2152.0" width="63.6" height="25.8" fill="#f7f5f4"/>
<text x="1405.5" y="2172.6" text-anchor="middle" font-family="DejaVu Sans, sans-serif" font-weight="bold" font-size="23.5" fill="#fff">-17</text>
<text x="1468.6" y="2172.6" text-anchor="middle" font-family="DejaVu Sans, sans-serif" font-weight="bold" font-size="23.5" fill="#fff">23</text>
<text x="1531.7" y="2172.6" text-anchor="middle" font-family="DejaVu Sans, sans-serif" font-weight="bold" font-size="23.5" fill="#fff">0</text>
<text x="1594.8" y="2172.6" text-anchor="middle" font-family="DejaVu Sans, sans-serif" font-weight="bold" font-size="23.5" fill="#fff">0</text>
<text x="1657.9" y="2172.6" text-anchor="middle" font-family="DejaVu Sans, sans-serif" font-weight="bold" font-size="23.5" fill="#fff">1</text>
<text x="1721.0" y="2172.6" text-anchor="middle" font-family="DejaVu Sans, sans-serif" font-weight="bold" font-size="23.5" fill="#fff">0</text>
<text x="1784.1" y="2172.6" text-anchor="middle" font-family="DejaVu Sans, sans-serif" font-weight="bold" font-size="23.5" fill="#fff">0</text>
<text x="1847.2" y="2172.6" text-anchor="middle" font-family="DejaVu Sans, sans-serif" font-weight="bold" font-size="23.5" fill="#fff">1</text>
<text x="1359.0" y="2174.1" font-size="23" text-anchor="end" textLength="133.7" lengthAdjust="spacingAndGlyphs">nuclear speckles</text>
<line x1="1363.0" y1="2164.6" x2="1373.9" y2="2164.6" stroke="#000" stroke-width="2.5" />
<rect x="1373.9" y="2177.2" width="63.6" height="25.8" fill="#f3f5f6"/>
<rect x="1437.0" y="2177.2" width="63.6" height="25.8" fill="#fac8af"/>
<rect x="1500.1" y="2177.2" width="63.6" height="25.8" fill="#f7f6f6"/>
<rect x="1563.2" y="2177.2" width="63.6" height="25.8" fill="#f7f6f6"/>
<rect x="1626.3" y="2177.2" width="63.6" height="25.8" fill="#f8f4f2"/>
<rect x="1689.5" y="2177.2" width="63.6" height="25.8" fill="#f7f6f6"/>
<rect x="1752.6" y="2177.2" width="63.6" height="25.8" fill="#f7f6f6"/>
<rect x="1815.7" y="2177.2" width="63.6" height="25.8" fill="#f7f6f6"/>
<text x="1405.5" y="2197.9" text-anchor="middle" font-family="DejaVu Sans, sans-serif" font-weight="bold" font-size="23.5" fill="#fff">-2</text>
<text x="1468.6" y="2197.9" text-anchor="middle" font-family="DejaVu Sans, sans-serif" font-weight="bold" font-size="23.5" fill="#fff">27</text>
<text x="1531.7" y="2197.9" text-anchor="middle" font-family="DejaVu Sans, sans-serif" font-weight="bold" font-size="23.5" fill="#fff">0</text>
<text x="1594.8" y="2197.9" text-anchor="middle" font-family="DejaVu Sans, sans-serif" font-weight="bold" font-size="23.5" fill="#fff">0</text>
<text x="1657.9" y="2197.9" text-anchor="middle" font-family="DejaVu Sans, sans-serif" font-weight="bold" font-size="23.5" fill="#fff">2</text>
<text x="1721.0" y="2197.9" text-anchor="middle" font-family="DejaVu Sans, sans-serif" font-weight="bold" font-size="23.5" fill="#fff">0</text>
<text x="1784.1" y="2197.9" text-anchor="middle" font-family="DejaVu Sans, sans-serif" font-weight="bold" font-size="23.5" fill="#fff">0</text>
<text x="1847.2" y="2197.9" text-anchor="middle" font-family="DejaVu Sans, sans-serif" font-weight="bold" font-size="23.5" fill="#fff">0</text>
<text x="1359.0" y="2199.4" font-size="23" text-anchor="end" textLength="66.9" lengthAdjust="spacingAndGlyphs">histones</text>
<line x1="1363.0" y1="2189.9" x2="1373.9" y2="2189.9" stroke="#000" stroke-width="2.5" />
<rect x="1373.9" y="2202.5" width="63.6" height="25.8" fill="#ddebf2"/>
<rect x="1437.0" y="2202.5" width="63.6" height="25.8" fill="#d86551"/>
<rect x="1500.1" y="2202.5" width="63.6" height="25.8" fill="#f7f6f6"/>
<rect x="1563.2" y="2202.5" width="63.6" height="25.8" fill="#f7f6f6"/>
<rect x="1626.3" y="2202.5" width="63.6" height="25.8" fill="#f8f3f0"/>
<rect x="1689.5" y="2202.5" width="63.6" height="25.8" fill="#f7f6f6"/>
<rect x="1752.6" y="2202.5" width="63.6" height="25.8" fill="#f7f6f6"/>
<rect x="1815.7" y="2202.5" width="63.6" height="25.8" fill="#f7f6f6"/>
<text x="1405.5" y="2223.1" text-anchor="middle" font-family="DejaVu Sans, sans-serif" font-weight="bold" font-size="23.5" fill="#fff">-14</text>
<text x="1468.6" y="2223.1" text-anchor="middle" font-family="DejaVu Sans, sans-serif" font-weight="bold" font-size="23.5" fill="#fff">58</text>
<text x="1531.7" y="2223.1" text-anchor="middle" font-family="DejaVu Sans, sans-serif" font-weight="bold" font-size="23.5" fill="#fff">0</text>
<text x="1594.8" y="2223.1" text-anchor="middle" font-family="DejaVu Sans, sans-serif" font-weight="bold" font-size="23.5" fill="#fff">0</text>
<text x="1657.9" y="2223.1" text-anchor="middle" font-family="DejaVu Sans, sans-serif" font-weight="bold" font-size="23.5" fill="#fff">3</text>
<text x="1721.0" y="2223.1" text-anchor="middle" font-family="DejaVu Sans, sans-serif" font-weight="bold" font-size="23.5" fill="#fff">0</text>
<text x="1784.1" y="2223.1" text-anchor="middle" font-family="DejaVu Sans, sans-serif" font-weight="bold" font-size="23.5" fill="#fff">0</text>
<text x="1847.2" y="2223.1" text-anchor="middle" font-family="DejaVu Sans, sans-serif" font-weight="bold" font-size="23.5" fill="#fff">0</text>
<text x="1359.0" y="2224.6" font-size="23" text-anchor="end" textLength="136.7" lengthAdjust="spacingAndGlyphs">nuclear envelope</text>
<line x1="1363.0" y1="2215.1" x2="1373.9" y2="2215.1" stroke="#000" stroke-width="2.5" />
<rect x="1373.9" y="2227.8" width="63.6" height="25.8" fill="#f7f6f6"/>
<rect x="1437.0" y="2227.8" width="63.6" height="25.8" fill="#facab1"/>
<rect x="1500.1" y="2227.8" width="63.6" height="25.8" fill="#f7f6f6"/>
<rect x="1563.2" y="2227.8" width="63.6" height="25.8" fill="#f7f6f6"/>
<rect x="1626.3" y="2227.8" width="63.6" height="25.8" fill="#f9efe9"/>
<rect x="1689.5" y="2227.8" width="63.6" height="25.8" fill="#f7f6f6"/>
<rect x="1752.6" y="2227.8" width="63.6" height="25.8" fill="#f7f6f6"/>
<rect x="1815.7" y="2227.8" width="63.6" height="25.8" fill="#f7f6f6"/>
<text x="1405.5" y="2248.4" text-anchor="middle" font-family="DejaVu Sans, sans-serif" font-weight="bold" font-size="23.5" fill="#fff">0</text>
<text x="1468.6" y="2248.4" text-anchor="middle" font-family="DejaVu Sans, sans-serif" font-weight="bold" font-size="23.5" fill="#fff">26</text>
<text x="1531.7" y="2248.4" text-anchor="middle" font-family="DejaVu Sans, sans-serif" font-weight="bold" font-size="23.5" fill="#fff">0</text>
<text x="1594.8" y="2248.4" text-anchor="middle" font-family="DejaVu Sans, sans-serif" font-weight="bold" font-size="23.5" fill="#fff">0</text>
<text x="1657.9" y="2248.4" text-anchor="middle" font-family="DejaVu Sans, sans-serif" font-weight="bold" font-size="23.5" fill="#fff">6</text>
<text x="1721.0" y="2248.4" text-anchor="middle" font-family="DejaVu Sans, sans-serif" font-weight="bold" font-size="23.5" fill="#fff">0</text>
<text x="1784.1" y="2248.4" text-anchor="middle" font-family="DejaVu Sans, sans-serif" font-weight="bold" font-size="23.5" fill="#fff">0</text>
<text x="1847.2" y="2248.4" text-anchor="middle" font-family="DejaVu Sans, sans-serif" font-weight="bold" font-size="23.5" fill="#fff">0</text>
<text x="1359.0" y="2249.9" font-size="23" text-anchor="end" textLength="132.7" lengthAdjust="spacingAndGlyphs">ER (Sec61 beta)</text>
<line x1="1363.0" y1="2240.4" x2="1373.9" y2="2240.4" stroke="#000" stroke-width="2.5" />
<rect x="1373.9" y="2253.0" width="63.6" height="25.8" fill="#f5f6f7"/>
<rect x="1437.0" y="2253.0" width="63.6" height="25.8" fill="#fcd5bf"/>
<rect x="1500.1" y="2253.0" width="63.6" height="25.8" fill="#f7f6f6"/>
<rect x="1563.2" y="2253.0" width="63.6" height="25.8" fill="#f7f6f6"/>
<rect x="1626.3" y="2253.0" width="63.6" height="25.8" fill="#f8f3f0"/>
<rect x="1689.5" y="2253.0" width="63.6" height="25.8" fill="#f7f6f6"/>
<rect x="1752.6" y="2253.0" width="63.6" height="25.8" fill="#f7f6f6"/>
<rect x="1815.7" y="2253.0" width="63.6" height="25.8" fill="#f7f6f6"/>
<text x="1405.5" y="2273.6" text-anchor="middle" font-family="DejaVu Sans, sans-serif" font-weight="bold" font-size="23.5" fill="#fff">-1</text>
<text x="1468.6" y="2273.6" text-anchor="middle" font-family="DejaVu Sans, sans-serif" font-weight="bold" font-size="23.5" fill="#fff">22</text>
<text x="1531.7" y="2273.6" text-anchor="middle" font-family="DejaVu Sans, sans-serif" font-weight="bold" font-size="23.5" fill="#fff">0</text>
<text x="1594.8" y="2273.6" text-anchor="middle" font-family="DejaVu Sans, sans-serif" font-weight="bold" font-size="23.5" fill="#fff">0</text>
<text x="1657.9" y="2273.6" text-anchor="middle" font-family="DejaVu Sans, sans-serif" font-weight="bold" font-size="23.5" fill="#fff">3</text>
<text x="1721.0" y="2273.6" text-anchor="middle" font-family="DejaVu Sans, sans-serif" font-weight="bold" font-size="23.5" fill="#fff">0</text>
<text x="1784.1" y="2273.6" text-anchor="middle" font-family="DejaVu Sans, sans-serif" font-weight="bold" font-size="23.5" fill="#fff">0</text>
<text x="1847.2" y="2273.6" text-anchor="middle" font-family="DejaVu Sans, sans-serif" font-weight="bold" font-size="23.5" fill="#fff">0</text>
<text x="1359.0" y="2275.1" font-size="23" text-anchor="end" textLength="113.7" lengthAdjust="spacingAndGlyphs">ER (SERCA2)</text>
<line x1="1363.0" y1="2265.6" x2="1373.9" y2="2265.6" stroke="#000" stroke-width="2.5" />
<rect x="1373.9" y="2278.3" width="63.6" height="25.8" fill="#f7f5f4"/>
<rect x="1437.0" y="2278.3" width="63.6" height="25.8" fill="#ec9374"/>
<rect x="1500.1" y="2278.3" width="63.6" height="25.8" fill="#f7f6f6"/>
<rect x="1563.2" y="2278.3" width="63.6" height="25.8" fill="#f7f6f6"/>
<rect x="1626.3" y="2278.3" width="63.6" height="25.8" fill="#f9f0eb"/>
<rect x="1689.5" y="2278.3" width="63.6" height="25.8" fill="#f7f6f6"/>
<rect x="1752.6" y="2278.3" width="63.6" height="25.8" fill="#f7f6f6"/>
<rect x="1815.7" y="2278.3" width="63.6" height="25.8" fill="#f7f6f6"/>
<text x="1405.5" y="2298.9" text-anchor="middle" font-family="DejaVu Sans, sans-serif" font-weight="bold" font-size="23.5" fill="#fff">1</text>
<text x="1468.6" y="2298.9" text-anchor="middle" font-family="DejaVu Sans, sans-serif" font-weight="bold" font-size="23.5" fill="#fff">45</text>
<text x="1531.7" y="2298.9" text-anchor="middle" font-family="DejaVu Sans, sans-serif" font-weight="bold" font-size="23.5" fill="#fff">0</text>
<text x="1594.8" y="2298.9" text-anchor="middle" font-family="DejaVu Sans, sans-serif" font-weight="bold" font-size="23.5" fill="#fff">0</text>
<text x="1657.9" y="2298.9" text-anchor="middle" font-family="DejaVu Sans, sans-serif" font-weight="bold" font-size="23.5" fill="#fff">5</text>
<text x="1721.0" y="2298.9" text-anchor="middle" font-family="DejaVu Sans, sans-serif" font-weight="bold" font-size="23.5" fill="#fff">0</text>
<text x="1784.1" y="2298.9" text-anchor="middle" font-family="DejaVu Sans, sans-serif" font-weight="bold" font-size="23.5" fill="#fff">0</text>
<text x="1847.2" y="2298.9" text-anchor="middle" font-family="DejaVu Sans, sans-serif" font-weight="bold" font-size="23.5" fill="#fff">0</text>
<text x="1359.0" y="2300.4" font-size="23" text-anchor="end" textLength="102.8" lengthAdjust="spacingAndGlyphs">mitochondria</text>
<line x1="1363.0" y1="2290.9" x2="1373.9" y2="2290.9" stroke="#000" stroke-width="2.5" />
<rect x="1373.9" y="2303.5" width="63.6" height="25.8" fill="#f7f6f6"/>
<rect x="1437.0" y="2303.5" width="63.6" height="25.8" fill="#fcd3bc"/>
<rect x="1500.1" y="2303.5" width="63.6" height="25.8" fill="#f7f6f6"/>
<rect x="1563.2" y="2303.5" width="63.6" height="25.8" fill="#f7f6f6"/>
<rect x="1626.3" y="2303.5" width="63.6" height="25.8" fill="#f8f4f2"/>
<rect x="1689.5" y="2303.5" width="63.6" height="25.8" fill="#f7f6f6"/>
<rect x="1752.6" y="2303.5" width="63.6" height="25.8" fill="#f7f6f6"/>
<rect x="1815.7" y="2303.5" width="63.6" height="25.8" fill="#f7f6f6"/>
<text x="1405.5" y="2324.1" text-anchor="middle" font-family="DejaVu Sans, sans-serif" font-weight="bold" font-size="23.5" fill="#fff">0</text>
<text x="1468.6" y="2324.1" text-anchor="middle" font-family="DejaVu Sans, sans-serif" font-weight="bold" font-size="23.5" fill="#fff">23</text>
<text x="1531.7" y="2324.1" text-anchor="middle" font-family="DejaVu Sans, sans-serif" font-weight="bold" font-size="23.5" fill="#fff">0</text>
<text x="1594.8" y="2324.1" text-anchor="middle" font-family="DejaVu Sans, sans-serif" font-weight="bold" font-size="23.5" fill="#fff">0</text>
<text x="1657.9" y="2324.1" text-anchor="middle" font-family="DejaVu Sans, sans-serif" font-weight="bold" font-size="23.5" fill="#fff">2</text>
<text x="1721.0" y="2324.1" text-anchor="middle" font-family="DejaVu Sans, sans-serif" font-weight="bold" font-size="23.5" fill="#fff">0</text>
<text x="1784.1" y="2324.1" text-anchor="middle" font-family="DejaVu Sans, sans-serif" font-weight="bold" font-size="23.5" fill="#fff">0</text>
<text x="1847.2" y="2324.1" text-anchor="middle" font-family="DejaVu Sans, sans-serif" font-weight="bold" font-size="23.5" fill="#fff">0</text>
<text x="1359.0" y="2325.6" font-size="23" text-anchor="end" textLength="101.8" lengthAdjust="spacingAndGlyphs">peroxisomes</text>
<line x1="1363.0" y1="2316.1" x2="1373.9" y2="2316.1" stroke="#000" stroke-width="2.5" />
<rect x="1373.9" y="2328.8" width="63.6" height="25.8" fill="#e1edf3"/>
<rect x="1437.0" y="2328.8" width="63.6" height="25.8" fill="#f8f1ed"/>
<rect x="1500.1" y="2328.8" width="63.6" height="25.8" fill="#f7f5f4"/>
<rect x="1563.2" y="2328.8" width="63.6" height="25.8" fill="#f7f6f6"/>
<rect x="1626.3" y="2328.8" width="63.6" height="25.8" fill="#f7f6f6"/>
<rect x="1689.5" y="2328.8" width="63.6" height="25.8" fill="#f7f6f6"/>
<rect x="1752.6" y="2328.8" width="63.6" height="25.8" fill="#f7f6f6"/>
<rect x="1815.7" y="2328.8" width="63.6" height="25.8" fill="#f7f6f6"/>
<text x="1405.5" y="2349.4" text-anchor="middle" font-family="DejaVu Sans, sans-serif" font-weight="bold" font-size="23.5" fill="#fff">-11</text>
<text x="1468.6" y="2349.4" text-anchor="middle" font-family="DejaVu Sans, sans-serif" font-weight="bold" font-size="23.5" fill="#fff">4</text>
<text x="1531.7" y="2349.4" text-anchor="middle" font-family="DejaVu Sans, sans-serif" font-weight="bold" font-size="23.5" fill="#fff">1</text>
<text x="1594.8" y="2349.4" text-anchor="middle" font-family="DejaVu Sans, sans-serif" font-weight="bold" font-size="23.5" fill="#fff">0</text>
<text x="1657.9" y="2349.4" text-anchor="middle" font-family="DejaVu Sans, sans-serif" font-weight="bold" font-size="23.5" fill="#fff">0</text>
<text x="1721.0" y="2349.4" text-anchor="middle" font-family="DejaVu Sans, sans-serif" font-weight="bold" font-size="23.5" fill="#fff">0</text>
<text x="1784.1" y="2349.4" text-anchor="middle" font-family="DejaVu Sans, sans-serif" font-weight="bold" font-size="23.5" fill="#fff">0</text>
<text x="1847.2" y="2349.4" text-anchor="middle" font-family="DejaVu Sans, sans-serif" font-weight="bold" font-size="23.5" fill="#fff">0</text>
<text x="1359.0" y="2350.9" font-size="23" text-anchor="end" textLength="92.8" lengthAdjust="spacingAndGlyphs">endosomes</text>
<line x1="1363.0" y1="2341.4" x2="1373.9" y2="2341.4" stroke="#000" stroke-width="2.5" />
<rect x="1373.9" y="2354.0" width="63.6" height="25.8" fill="#f3f5f6"/>
<rect x="1437.0" y="2354.0" width="63.6" height="25.8" fill="#f6b394"/>
<rect x="1500.1" y="2354.0" width="63.6" height="25.8" fill="#f7f6f6"/>
<rect x="1563.2" y="2354.0" width="63.6" height="25.8" fill="#f7f6f6"/>
<rect x="1626.3" y="2354.0" width="63.6" height="25.8" fill="#f9f0eb"/>
<rect x="1689.5" y="2354.0" width="63.6" height="25.8" fill="#f7f6f6"/>
<rect x="1752.6" y="2354.0" width="63.6" height="25.8" fill="#f7f6f6"/>
<rect x="1815.7" y="2354.0" width="63.6" height="25.8" fill="#f7f6f6"/>
<text x="1405.5" y="2374.7" text-anchor="middle" font-family="DejaVu Sans, sans-serif" font-weight="bold" font-size="23.5" fill="#fff">-2</text>
<text x="1468.6" y="2374.7" text-anchor="middle" font-family="DejaVu Sans, sans-serif" font-weight="bold" font-size="23.5" fill="#fff">35</text>
<text x="1531.7" y="2374.7" text-anchor="middle" font-family="DejaVu Sans, sans-serif" font-weight="bold" font-size="23.5" fill="#fff">0</text>
<text x="1594.8" y="2374.7" text-anchor="middle" font-family="DejaVu Sans, sans-serif" font-weight="bold" font-size="23.5" fill="#fff">0</text>
<text x="1657.9" y="2374.7" text-anchor="middle" font-family="DejaVu Sans, sans-serif" font-weight="bold" font-size="23.5" fill="#fff">5</text>
<text x="1721.0" y="2374.7" text-anchor="middle" font-family="DejaVu Sans, sans-serif" font-weight="bold" font-size="23.5" fill="#fff">0</text>
<text x="1784.1" y="2374.7" text-anchor="middle" font-family="DejaVu Sans, sans-serif" font-weight="bold" font-size="23.5" fill="#fff">0</text>
<text x="1847.2" y="2374.7" text-anchor="middle" font-family="DejaVu Sans, sans-serif" font-weight="bold" font-size="23.5" fill="#fff">0</text>
<text x="1359.0" y="2376.2" font-size="23" text-anchor="end" textLength="84.8" lengthAdjust="spacingAndGlyphs">lysosomes</text>
<line x1="1363.0" y1="2366.7" x2="1373.9" y2="2366.7" stroke="#000" stroke-width="2.5" />
<rect x="1373.9" y="2379.3" width="63.6" height="25.8" fill="#f3f5f6"/>
<rect x="1437.0" y="2379.3" width="63.6" height="25.8" fill="#f19e7d"/>
<rect x="1500.1" y="2379.3" width="63.6" height="25.8" fill="#f7f6f6"/>
<rect x="1563.2" y="2379.3" width="63.6" height="25.8" fill="#f7f6f6"/>
<rect x="1626.3" y="2379.3" width="63.6" height="25.8" fill="#f8f1ed"/>
<rect x="1689.5" y="2379.3" width="63.6" height="25.8" fill="#f7f6f6"/>
<rect x="1752.6" y="2379.3" width="63.6" height="25.8" fill="#f7f6f6"/>
<rect x="1815.7" y="2379.3" width="63.6" height="25.8" fill="#f7f6f6"/>
<text x="1405.5" y="2399.9" text-anchor="middle" font-family="DejaVu Sans, sans-serif" font-weight="bold" font-size="23.5" fill="#fff">-2</text>
<text x="1468.6" y="2399.9" text-anchor="middle" font-family="DejaVu Sans, sans-serif" font-weight="bold" font-size="23.5" fill="#fff">42</text>
<text x="1531.7" y="2399.9" text-anchor="middle" font-family="DejaVu Sans, sans-serif" font-weight="bold" font-size="23.5" fill="#fff">0</text>
<text x="1594.8" y="2399.9" text-anchor="middle" font-family="DejaVu Sans, sans-serif" font-weight="bold" font-size="23.5" fill="#fff">0</text>
<text x="1657.9" y="2399.9" text-anchor="middle" font-family="DejaVu Sans, sans-serif" font-weight="bold" font-size="23.5" fill="#fff">4</text>
<text x="1721.0" y="2399.9" text-anchor="middle" font-family="DejaVu Sans, sans-serif" font-weight="bold" font-size="23.5" fill="#fff">0</text>
<text x="1784.1" y="2399.9" text-anchor="middle" font-family="DejaVu Sans, sans-serif" font-weight="bold" font-size="23.5" fill="#fff">0</text>
<text x="1847.2" y="2399.9" text-anchor="middle" font-family="DejaVu Sans, sans-serif" font-weight="bold" font-size="23.5" fill="#fff">0</text>
<text x="1359.0" y="2401.4" font-size="23" text-anchor="end" textLength="41.9" lengthAdjust="spacingAndGlyphs">Golgi</text>
<line x1="1363.0" y1="2391.9" x2="1373.9" y2="2391.9" stroke="#000" stroke-width="2.5" />
<rect x="1373.9" y="2404.5" width="63.6" height="25.8" fill="#f3f5f6"/>
<rect x="1437.0" y="2404.5" width="63.6" height="25.8" fill="#faeae1"/>
<rect x="1500.1" y="2404.5" width="63.6" height="25.8" fill="#f7f6f6"/>
<rect x="1563.2" y="2404.5" width="63.6" height="25.8" fill="#f7f6f6"/>
<rect x="1626.3" y="2404.5" width="63.6" height="25.8" fill="#f7f5f4"/>
<rect x="1689.5" y="2404.5" width="63.6" height="25.8" fill="#f7f6f6"/>
<rect x="1752.6" y="2404.5" width="63.6" height="25.8" fill="#f7f6f6"/>
<rect x="1815.7" y="2404.5" width="63.6" height="25.8" fill="#f7f6f6"/>
<text x="1405.5" y="2425.2" text-anchor="middle" font-family="DejaVu Sans, sans-serif" font-weight="bold" font-size="23.5" fill="#fff">-2</text>
<text x="1468.6" y="2425.2" text-anchor="middle" font-family="DejaVu Sans, sans-serif" font-weight="bold" font-size="23.5" fill="#fff">9</text>
<text x="1531.7" y="2425.2" text-anchor="middle" font-family="DejaVu Sans, sans-serif" font-weight="bold" font-size="23.5" fill="#fff">0</text>
<text x="1594.8" y="2425.2" text-anchor="middle" font-family="DejaVu Sans, sans-serif" font-weight="bold" font-size="23.5" fill="#fff">0</text>
<text x="1657.9" y="2425.2" text-anchor="middle" font-family="DejaVu Sans, sans-serif" font-weight="bold" font-size="23.5" fill="#fff">1</text>
<text x="1721.0" y="2425.2" text-anchor="middle" font-family="DejaVu Sans, sans-serif" font-weight="bold" font-size="23.5" fill="#fff">0</text>
<text x="1784.1" y="2425.2" text-anchor="middle" font-family="DejaVu Sans, sans-serif" font-weight="bold" font-size="23.5" fill="#fff">0</text>
<text x="1847.2" y="2425.2" text-anchor="middle" font-family="DejaVu Sans, sans-serif" font-weight="bold" font-size="23.5" fill="#fff">0</text>
<text x="1359.0" y="2426.7" font-size="23" text-anchor="end" textLength="76.8" lengthAdjust="spacingAndGlyphs">centrioles</text>
<line x1="1363.0" y1="2417.2" x2="1373.9" y2="2417.2" stroke="#000" stroke-width="2.5" />
<rect x="1373.9" y="2429.8" width="63.6" height="25.8" fill="#f7f6f6"/>
<rect x="1437.0" y="2429.8" width="63.6" height="25.8" fill="#d86551"/>
<rect x="1500.1" y="2429.8" width="63.6" height="25.8" fill="#f7f6f6"/>
<rect x="1563.2" y="2429.8" width="63.6" height="25.8" fill="#f7f6f6"/>
<rect x="1626.3" y="2429.8" width="63.6" height="25.8" fill="#f9eee7"/>
<rect x="1689.5" y="2429.8" width="63.6" height="25.8" fill="#f7f6f6"/>
<rect x="1752.6" y="2429.8" width="63.6" height="25.8" fill="#f7f6f6"/>
<rect x="1815.7" y="2429.8" width="63.6" height="25.8" fill="#f7f6f6"/>
<text x="1405.5" y="2450.4" text-anchor="middle" font-family="DejaVu Sans, sans-serif" font-weight="bold" font-size="23.5" fill="#fff">0</text>
<text x="1468.6" y="2450.4" text-anchor="middle" font-family="DejaVu Sans, sans-serif" font-weight="bold" font-size="23.5" fill="#fff">58</text>
<text x="1531.7" y="2450.4" text-anchor="middle" font-family="DejaVu Sans, sans-serif" font-weight="bold" font-size="23.5" fill="#fff">0</text>
<text x="1594.8" y="2450.4" text-anchor="middle" font-family="DejaVu Sans, sans-serif" font-weight="bold" font-size="23.5" fill="#fff">0</text>
<text x="1657.9" y="2450.4" text-anchor="middle" font-family="DejaVu Sans, sans-serif" font-weight="bold" font-size="23.5" fill="#fff">7</text>
<text x="1721.0" y="2450.4" text-anchor="middle" font-family="DejaVu Sans, sans-serif" font-weight="bold" font-size="23.5" fill="#fff">0</text>
<text x="1784.1" y="2450.4" text-anchor="middle" font-family="DejaVu Sans, sans-serif" font-weight="bold" font-size="23.5" fill="#fff">0</text>
<text x="1847.2" y="2450.4" text-anchor="middle" font-family="DejaVu Sans, sans-serif" font-weight="bold" font-size="23.5" fill="#fff">0</text>
<text x="1359.0" y="2451.9" font-size="23" text-anchor="end" textLength="101.8" lengthAdjust="spacingAndGlyphs">microtubules</text>
<line x1="1363.0" y1="2442.4" x2="1373.9" y2="2442.4" stroke="#000" stroke-width="2.5" />
<rect x="1373.9" y="2455.0" width="63.6" height="25.8" fill="#f3f5f6"/>
<rect x="1437.0" y="2455.0" width="63.6" height="25.8" fill="#d05548"/>
<rect x="1500.1" y="2455.0" width="63.6" height="25.8" fill="#f7f6f6"/>
<rect x="1563.2" y="2455.0" width="63.6" height="25.8" fill="#f7f6f6"/>
<rect x="1626.3" y="2455.0" width="63.6" height="25.8" fill="#fae9df"/>
<rect x="1689.5" y="2455.0" width="63.6" height="25.8" fill="#f7f6f6"/>
<rect x="1752.6" y="2455.0" width="63.6" height="25.8" fill="#f7f6f6"/>
<rect x="1815.7" y="2455.0" width="63.6" height="25.8" fill="#f7f6f6"/>
<text x="1405.5" y="2475.7" text-anchor="middle" font-family="DejaVu Sans, sans-serif" font-weight="bold" font-size="23.5" fill="#fff">-2</text>
<text x="1468.6" y="2475.7" text-anchor="middle" font-family="DejaVu Sans, sans-serif" font-weight="bold" font-size="23.5" fill="#fff">63</text>
<text x="1531.7" y="2475.7" text-anchor="middle" font-family="DejaVu Sans, sans-serif" font-weight="bold" font-size="23.5" fill="#fff">0</text>
<text x="1594.8" y="2475.7" text-anchor="middle" font-family="DejaVu Sans, sans-serif" font-weight="bold" font-size="23.5" fill="#fff">0</text>
<text x="1657.9" y="2475.7" text-anchor="middle" font-family="DejaVu Sans, sans-serif" font-weight="bold" font-size="23.5" fill="#fff">10</text>
<text x="1721.0" y="2475.7" text-anchor="middle" font-family="DejaVu Sans, sans-serif" font-weight="bold" font-size="23.5" fill="#fff">0</text>
<text x="1784.1" y="2475.7" text-anchor="middle" font-family="DejaVu Sans, sans-serif" font-weight="bold" font-size="23.5" fill="#fff">0</text>
<text x="1847.2" y="2475.7" text-anchor="middle" font-family="DejaVu Sans, sans-serif" font-weight="bold" font-size="23.5" fill="#fff">0</text>
<text x="1359.0" y="2477.2" font-size="23" text-anchor="end" textLength="148.6" lengthAdjust="spacingAndGlyphs">plasma membrane</text>
<line x1="1363.0" y1="2467.7" x2="1373.9" y2="2467.7" stroke="#000" stroke-width="2.5" />
<rect x="1373.9" y="1924.7" width="504.9" height="555.6" fill="none" stroke="#000" stroke-width="2.5"/>
<line x1="1405.5" y1="2480.3" x2="1405.5" y2="2488.3" stroke="#000" stroke-width="2.5" />
<text x="1405.5" y="2511.0" font-size="25.5" text-anchor="middle">SM1</text>
<line x1="1468.6" y1="2480.3" x2="1468.6" y2="2488.3" stroke="#000" stroke-width="2.5" />
<text x="1468.6" y="2511.0" font-size="25.5" text-anchor="middle">SM2</text>
<line x1="1531.7" y1="2480.3" x2="1531.7" y2="2488.3" stroke="#000" stroke-width="2.5" />
<text x="1531.7" y="2511.0" font-size="25.5" text-anchor="middle">SM3</text>
<line x1="1594.8" y1="2480.3" x2="1594.8" y2="2488.3" stroke="#000" stroke-width="2.5" />
<text x="1594.8" y="2511.0" font-size="25.5" text-anchor="middle">SM4</text>
<line x1="1657.9" y1="2480.3" x2="1657.9" y2="2488.3" stroke="#000" stroke-width="2.5" />
<text x="1657.9" y="2511.0" font-size="25.5" text-anchor="middle">SM5</text>
<line x1="1721.0" y1="2480.3" x2="1721.0" y2="2488.3" stroke="#000" stroke-width="2.5" />
<text x="1721.0" y="2511.0" font-size="25.5" text-anchor="middle">SM6</text>
<line x1="1784.1" y1="2480.3" x2="1784.1" y2="2488.3" stroke="#000" stroke-width="2.5" />
<text x="1784.1" y="2511.0" font-size="25.5" text-anchor="middle">SM7</text>
<line x1="1847.2" y1="2480.3" x2="1847.2" y2="2488.3" stroke="#000" stroke-width="2.5" />
<text x="1847.2" y="2511.0" font-size="25.5" text-anchor="middle">SM8</text></svg></body></html>
